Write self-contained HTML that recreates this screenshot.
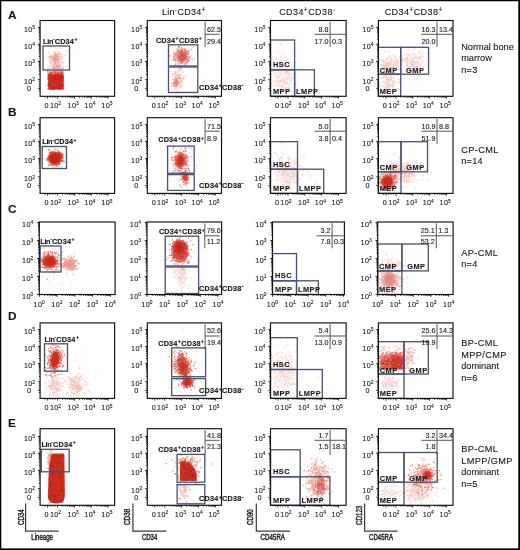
<!DOCTYPE html><html><head><meta charset="utf-8"><style>html,body{margin:0;padding:0;background:#fff;}svg{display:block;filter:blur(0.35px)}text{font-family:"Liberation Sans", sans-serif;fill:#161616;stroke:#161616;stroke-width:0.1px}</style></head><body>
<svg width="520" height="550" viewBox="0 0 520 550">
<rect width="520" height="550" fill="#fff"/>
<defs>
<filter id="b0" x="-50%" y="-50%" width="200%" height="200%"><feGaussianBlur stdDeviation="0.6"/></filter>
<filter id="b1" x="-50%" y="-50%" width="200%" height="200%"><feGaussianBlur stdDeviation="0.7"/></filter>
<filter id="b2" x="-50%" y="-50%" width="200%" height="200%"><feGaussianBlur stdDeviation="0.8"/></filter>
<filter id="b3" x="-50%" y="-50%" width="200%" height="200%"><feGaussianBlur stdDeviation="0.9"/></filter>
<filter id="b4" x="-50%" y="-50%" width="200%" height="200%"><feGaussianBlur stdDeviation="1.0"/></filter>
<filter id="b5" x="-50%" y="-50%" width="200%" height="200%"><feGaussianBlur stdDeviation="1.2"/></filter>
<filter id="b6" x="-50%" y="-50%" width="200%" height="200%"><feGaussianBlur stdDeviation="1.3"/></filter>
<filter id="b7" x="-50%" y="-50%" width="200%" height="200%"><feGaussianBlur stdDeviation="1.5"/></filter>
<filter id="b8" x="-50%" y="-50%" width="200%" height="200%"><feGaussianBlur stdDeviation="2.5"/></filter>
<filter id="pb" x="0" y="0" width="520" height="550" filterUnits="userSpaceOnUse"><feGaussianBlur stdDeviation="0.35"/></filter>
</defs>
<g>
<rect x="48.3" y="74.0" width="15.1" height="15.4" rx="2.5" fill="#cc2619" fill-opacity="0.85" filter="url(#b1)"/>
<ellipse cx="54.5" cy="158.5" rx="6.3" ry="6.6" fill="#cc2619" fill-opacity="0.95" filter="url(#b3)"/>
<ellipse cx="60.3" cy="156.5" rx="3.3" ry="3.6" fill="#cc2619" fill-opacity="0.8" filter="url(#b3)"/>
<ellipse cx="180.5" cy="160.5" rx="4.2" ry="6.5" fill="#cc2619" fill-opacity="0.9" transform="rotate(8 180.5 160.5)" filter="url(#b4)"/>
<ellipse cx="185.5" cy="177.5" rx="2.4" ry="4.5" fill="#cc2619" fill-opacity="0.75" transform="rotate(-10 185.5 177.5)" filter="url(#b2)"/>
<ellipse cx="387.5" cy="182" rx="6.0" ry="6.5" fill="#cc2619" fill-opacity="0.9" filter="url(#b6)"/>
<ellipse cx="388" cy="181" rx="9" ry="9" fill="#cc2619" fill-opacity="0.2" filter="url(#b8)"/>
<ellipse cx="49.5" cy="261.5" rx="7.0" ry="6.0" fill="#cc2619" fill-opacity="0.95" filter="url(#b4)"/>
<rect x="172.5" y="241" width="15.0" height="18.0" rx="5" fill="#cc2619" fill-opacity="0.6" filter="url(#b6)"/>
<ellipse cx="179.5" cy="247.5" rx="5.0" ry="5.5" fill="#cc2619" fill-opacity="0.85" filter="url(#b5)"/>
<ellipse cx="389.5" cy="280" rx="6.5" ry="7.0" fill="#cc2619" fill-opacity="0.35" filter="url(#b7)"/>
<ellipse cx="55.0" cy="359.5" rx="4.6" ry="9.0" fill="#cc2619" fill-opacity="0.95" transform="rotate(8 55.0 359.5)" filter="url(#b4)"/>
<ellipse cx="183" cy="366" rx="5.5" ry="10.5" fill="#cc2619" fill-opacity="0.55" transform="rotate(-15 183 366)" filter="url(#b6)"/>
<ellipse cx="187.5" cy="382.5" rx="4.8" ry="4.3" fill="#cc2619" fill-opacity="0.92" filter="url(#b4)"/>
<rect x="381" y="356" width="23.0" height="14.0" rx="4" fill="#cc2619" fill-opacity="0.45" filter="url(#b7)"/>
<path d="M51.3 454.2Q51.5 453.6 53 453.6L63.2 453.6Q64.3 453.6 64.4 455L64.9 496Q64.8 503.4 56.3 503.4Q47.7 503.4 47.8 496L48.8 472Q49.5 462 51.3 454.2Z" fill="#cc2619" fill-opacity="0.95" filter="url(#b0)"/>
<path d="M180 481L180 464Q180.5 461 184 461Q193 463 196.5 473L196.8 481Z" fill="#cc2619" fill-opacity="0.92" filter="url(#b1)"/>
<ellipse cx="427.5" cy="475" rx="4.5" ry="4.5" fill="#cc2619" fill-opacity="0.92" filter="url(#b4)"/>
<ellipse cx="55.5" cy="60" rx="6" ry="8" fill="#cc2619" fill-opacity="0.12" filter="url(#b8)"/>
<ellipse cx="182" cy="57" rx="8" ry="8" fill="#cc2619" fill-opacity="0.15" filter="url(#b8)"/>
<ellipse cx="178" cy="80" rx="5" ry="9" fill="#cc2619" fill-opacity="0.1" filter="url(#b8)"/>
<ellipse cx="283" cy="76" rx="9" ry="15" fill="#cc2619" fill-opacity="0.05" filter="url(#b8)"/>
<ellipse cx="390" cy="66" rx="9" ry="8" fill="#cc2619" fill-opacity="0.08" filter="url(#b8)"/>
<ellipse cx="414" cy="63" rx="9" ry="9" fill="#cc2619" fill-opacity="0.07" filter="url(#b8)"/>
<ellipse cx="389" cy="83" rx="8" ry="7" fill="#cc2619" fill-opacity="0.07" filter="url(#b8)"/>
<ellipse cx="288" cy="173" rx="10" ry="13" fill="#cc2619" fill-opacity="0.07" filter="url(#b8)"/>
<ellipse cx="402" cy="172" rx="13" ry="8" fill="#cc2619" fill-opacity="0.09" filter="url(#b8)"/>
<ellipse cx="70" cy="264.5" rx="6" ry="5" fill="#cc2619" fill-opacity="0.15" filter="url(#b8)"/>
<ellipse cx="181" cy="272" rx="5" ry="12" fill="#cc2619" fill-opacity="0.06" filter="url(#b8)"/>
<ellipse cx="392" cy="266" rx="9" ry="5" fill="#cc2619" fill-opacity="0.07" filter="url(#b8)"/>
<ellipse cx="55" cy="385" rx="6" ry="9" fill="#cc2619" fill-opacity="0.08" filter="url(#b8)"/>
<ellipse cx="76" cy="385" rx="8" ry="8" fill="#cc2619" fill-opacity="0.08" filter="url(#b8)"/>
<ellipse cx="284" cy="373" rx="10" ry="17" fill="#cc2619" fill-opacity="0.06" filter="url(#b8)"/>
<ellipse cx="390" cy="383" rx="8" ry="7" fill="#cc2619" fill-opacity="0.07" filter="url(#b8)"/>
<ellipse cx="318" cy="480" rx="8" ry="15" fill="#cc2619" fill-opacity="0.12" filter="url(#b8)"/>
<ellipse cx="420" cy="488" rx="12" ry="12" fill="#cc2619" fill-opacity="0.1" filter="url(#b8)"/>
<ellipse cx="390" cy="492" rx="8" ry="6" fill="#cc2619" fill-opacity="0.05" filter="url(#b8)"/>
</g><g filter="url(#pb)">
<path fill="#a8160e" fill-opacity="0.55" d="M391.6 366.9h1.1v1.1h-1.1zM380.9 359.4h1.1v1.1h-1.1zM382.7 367.5h1.1v1.1h-1.1zM390.2 363.1h1.1v1.1h-1.1zM393.9 366.0h1.1v1.1h-1.1zM395.6 367.5h1.1v1.1h-1.1zM386.3 362.7h1.1v1.1h-1.1zM383.3 360.3h1.1v1.1h-1.1zM385.4 364.2h1.1v1.1h-1.1zM380.5 366.0h1.1v1.1h-1.1zM399.9 359.3h1.1v1.1h-1.1zM400.7 361.8h1.1v1.1h-1.1zM401.1 360.2h1.1v1.1h-1.1zM392.9 360.3h1.1v1.1h-1.1zM400.4 364.8h1.1v1.1h-1.1zM383.7 360.0h1.1v1.1h-1.1zM388.4 367.6h1.1v1.1h-1.1zM392.9 359.7h1.1v1.1h-1.1zM394.4 365.0h1.1v1.1h-1.1zM388.6 364.1h1.1v1.1h-1.1zM396.4 361.9h1.1v1.1h-1.1zM387.5 359.7h1.1v1.1h-1.1zM400.4 366.1h1.1v1.1h-1.1zM388.5 361.5h1.1v1.1h-1.1zM391.7 363.4h1.1v1.1h-1.1zM384.0 363.5h1.1v1.1h-1.1zM395.9 367.7h1.1v1.1h-1.1zM392.5 367.5h1.1v1.1h-1.1zM399.1 367.9h1.1v1.1h-1.1zM387.3 359.1h1.1v1.1h-1.1zM387.5 367.8h1.1v1.1h-1.1zM390.8 360.6h1.1v1.1h-1.1zM385.9 360.4h1.1v1.1h-1.1zM395.7 363.5h1.1v1.1h-1.1zM385.7 363.8h1.1v1.1h-1.1zM391.9 363.3h1.1v1.1h-1.1zM395.1 359.2h1.1v1.1h-1.1zM397.7 363.0h1.1v1.1h-1.1zM397.5 363.1h1.1v1.1h-1.1zM388.3 364.0h1.1v1.1h-1.1zM394.7 366.9h1.1v1.1h-1.1zM385.7 362.9h1.1v1.1h-1.1zM381.1 360.5h1.1v1.1h-1.1zM386.3 364.3h1.1v1.1h-1.1zM402.0 361.7h1.1v1.1h-1.1zM391.9 361.0h1.1v1.1h-1.1zM392.0 361.1h1.1v1.1h-1.1zM385.1 360.4h1.1v1.1h-1.1zM396.7 363.5h1.1v1.1h-1.1zM386.7 366.7h1.1v1.1h-1.1zM401.7 362.2h1.1v1.1h-1.1zM388.0 364.1h1.1v1.1h-1.1zM392.9 360.8h1.1v1.1h-1.1zM400.4 361.6h1.1v1.1h-1.1zM387.7 362.9h1.1v1.1h-1.1zM399.9 367.5h1.1v1.1h-1.1zM386.6 362.4h1.1v1.1h-1.1zM382.0 363.7h1.1v1.1h-1.1zM401.3 363.2h1.1v1.1h-1.1zM387.6 361.0h1.1v1.1h-1.1zM391.2 360.3h1.1v1.1h-1.1zM392.9 363.9h1.1v1.1h-1.1zM402.3 359.5h1.1v1.1h-1.1zM397.5 366.8h1.1v1.1h-1.1zM397.1 365.1h1.1v1.1h-1.1zM400.7 365.4h1.1v1.1h-1.1zM402.4 360.4h1.1v1.1h-1.1zM385.8 363.9h1.1v1.1h-1.1zM386.9 359.8h1.1v1.1h-1.1zM397.9 360.8h1.1v1.1h-1.1zM399.6 366.4h1.1v1.1h-1.1zM382.6 363.2h1.1v1.1h-1.1zM380.9 367.7h1.1v1.1h-1.1zM382.4 361.9h1.1v1.1h-1.1zM385.2 362.8h1.1v1.1h-1.1zM394.0 360.2h1.1v1.1h-1.1zM395.0 365.7h1.1v1.1h-1.1zM391.5 363.1h1.1v1.1h-1.1zM396.5 360.2h1.1v1.1h-1.1zM381.1 362.9h1.1v1.1h-1.1zM387.1 362.6h1.1v1.1h-1.1zM384.4 359.8h1.1v1.1h-1.1zM395.4 365.6h1.1v1.1h-1.1zM397.5 359.5h1.1v1.1h-1.1zM393.6 363.7h1.1v1.1h-1.1zM381.7 362.5h1.1v1.1h-1.1zM383.1 367.4h1.1v1.1h-1.1zM394.5 360.6h1.1v1.1h-1.1zM382.8 363.1h1.1v1.1h-1.1zM394.1 361.7h1.1v1.1h-1.1zM384.1 360.8h1.1v1.1h-1.1zM401.4 362.0h1.1v1.1h-1.1zM399.0 366.3h1.1v1.1h-1.1zM390.7 361.1h1.1v1.1h-1.1zM391.9 363.7h1.1v1.1h-1.1zM389.6 361.1h1.1v1.1h-1.1zM386.7 359.9h1.1v1.1h-1.1zM388.9 360.5h1.1v1.1h-1.1zM394.8 360.9h1.1v1.1h-1.1zM401.3 359.4h1.1v1.1h-1.1zM381.2 362.1h1.1v1.1h-1.1zM387.5 364.1h1.1v1.1h-1.1zM381.8 367.9h1.1v1.1h-1.1zM391.9 367.5h1.1v1.1h-1.1zM382.5 362.4h1.1v1.1h-1.1zM384.1 367.2h1.1v1.1h-1.1zM388.6 365.9h1.1v1.1h-1.1zM393.9 367.2h1.1v1.1h-1.1zM391.9 359.8h1.1v1.1h-1.1zM399.4 366.0h1.1v1.1h-1.1zM397.4 365.7h1.1v1.1h-1.1zM383.4 361.0h1.1v1.1h-1.1zM396.6 359.1h1.1v1.1h-1.1zM398.2 362.9h1.1v1.1h-1.1zM401.0 359.6h1.1v1.1h-1.1zM380.9 363.8h1.1v1.1h-1.1zM396.7 360.2h1.1v1.1h-1.1zM393.7 362.0h1.1v1.1h-1.1zM390.9 364.4h1.1v1.1h-1.1zM387.0 361.8h1.1v1.1h-1.1z"/>
<path fill="#a8160e" fill-opacity="0.6" d="M173.4 249.7h1.1v1.1h-1.1zM179.9 251.8h1.1v1.1h-1.1zM184.5 233.0h1.1v1.1h-1.1zM173.2 241.0h1.1v1.1h-1.1zM190.2 240.3h1.1v1.1h-1.1zM171.5 234.4h1.1v1.1h-1.1zM177.7 255.9h1.1v1.1h-1.1zM176.2 240.8h1.1v1.1h-1.1zM176.6 240.8h1.1v1.1h-1.1zM192.2 244.1h1.1v1.1h-1.1zM168.9 244.2h1.1v1.1h-1.1zM173.7 256.5h1.1v1.1h-1.1zM182.0 253.2h1.1v1.1h-1.1zM173.6 252.3h1.1v1.1h-1.1zM181.1 256.4h1.1v1.1h-1.1zM177.7 240.6h1.1v1.1h-1.1zM180.3 257.4h1.1v1.1h-1.1zM181.9 240.1h1.1v1.1h-1.1zM180.8 246.3h1.1v1.1h-1.1zM183.1 250.7h1.1v1.1h-1.1zM180.3 242.5h1.1v1.1h-1.1zM173.7 242.2h1.1v1.1h-1.1zM176.7 254.2h1.1v1.1h-1.1zM172.0 247.0h1.1v1.1h-1.1zM183.8 243.7h1.1v1.1h-1.1zM179.3 254.0h1.1v1.1h-1.1zM180.6 254.3h1.1v1.1h-1.1zM179.2 249.6h1.1v1.1h-1.1zM177.7 246.6h1.1v1.1h-1.1zM173.3 244.9h1.1v1.1h-1.1zM176.8 248.9h1.1v1.1h-1.1zM180.2 243.2h1.1v1.1h-1.1zM174.8 251.1h1.1v1.1h-1.1zM174.3 250.6h1.1v1.1h-1.1zM179.6 244.5h1.1v1.1h-1.1zM176.2 251.5h1.1v1.1h-1.1zM175.1 235.5h1.1v1.1h-1.1zM174.2 250.5h1.1v1.1h-1.1zM178.6 254.3h1.1v1.1h-1.1zM182.1 256.0h1.1v1.1h-1.1zM169.0 249.3h1.1v1.1h-1.1zM178.0 247.0h1.1v1.1h-1.1zM179.8 240.6h1.1v1.1h-1.1zM178.4 243.7h1.1v1.1h-1.1zM184.2 244.4h1.1v1.1h-1.1zM174.0 242.2h1.1v1.1h-1.1zM177.2 239.7h1.1v1.1h-1.1zM185.8 248.3h1.1v1.1h-1.1zM188.1 237.7h1.1v1.1h-1.1zM176.0 242.0h1.1v1.1h-1.1zM179.7 237.0h1.1v1.1h-1.1zM184.9 247.6h1.1v1.1h-1.1zM173.5 246.1h1.1v1.1h-1.1zM177.2 250.6h1.1v1.1h-1.1zM179.7 242.4h1.1v1.1h-1.1zM179.9 247.9h1.1v1.1h-1.1zM178.7 246.5h1.1v1.1h-1.1zM178.6 239.0h1.1v1.1h-1.1zM177.6 235.9h1.1v1.1h-1.1zM174.0 243.9h1.1v1.1h-1.1zM175.7 250.9h1.1v1.1h-1.1zM176.0 260.0h1.1v1.1h-1.1zM181.5 260.4h1.1v1.1h-1.1zM178.1 247.8h1.1v1.1h-1.1zM177.3 238.2h1.1v1.1h-1.1zM181.0 247.3h1.1v1.1h-1.1zM170.6 235.8h1.1v1.1h-1.1zM180.2 231.9h1.1v1.1h-1.1zM181.5 250.4h1.1v1.1h-1.1zM177.9 244.7h1.1v1.1h-1.1zM190.9 249.0h1.1v1.1h-1.1zM179.2 237.9h1.1v1.1h-1.1zM174.4 251.7h1.1v1.1h-1.1zM178.3 253.9h1.1v1.1h-1.1zM187.2 262.5h1.1v1.1h-1.1zM178.6 241.5h1.1v1.1h-1.1zM177.1 244.4h1.1v1.1h-1.1zM185.8 249.1h1.1v1.1h-1.1zM178.2 252.3h1.1v1.1h-1.1zM165.7 259.1h1.1v1.1h-1.1zM187.5 245.4h1.1v1.1h-1.1zM169.7 243.9h1.1v1.1h-1.1zM175.1 260.2h1.1v1.1h-1.1zM179.3 242.5h1.1v1.1h-1.1zM179.5 241.1h1.1v1.1h-1.1zM179.1 253.2h1.1v1.1h-1.1zM177.0 249.4h1.1v1.1h-1.1zM184.8 243.3h1.1v1.1h-1.1zM178.3 246.2h1.1v1.1h-1.1zM184.0 253.0h1.1v1.1h-1.1zM171.8 239.2h1.1v1.1h-1.1zM177.7 251.3h1.1v1.1h-1.1zM170.3 260.5h1.1v1.1h-1.1zM180.3 246.6h1.1v1.1h-1.1zM176.7 240.2h1.1v1.1h-1.1zM185.6 247.1h1.1v1.1h-1.1zM171.3 245.8h1.1v1.1h-1.1zM173.5 250.1h1.1v1.1h-1.1zM182.3 243.6h1.1v1.1h-1.1zM176.8 251.2h1.1v1.1h-1.1zM170.7 254.8h1.1v1.1h-1.1zM183.2 251.6h1.1v1.1h-1.1zM176.5 246.1h1.1v1.1h-1.1zM174.1 254.0h1.1v1.1h-1.1zM167.5 257.0h1.1v1.1h-1.1zM186.8 241.3h1.1v1.1h-1.1zM179.4 250.6h1.1v1.1h-1.1zM183.3 257.6h1.1v1.1h-1.1zM186.1 248.8h1.1v1.1h-1.1zM184.7 242.7h1.1v1.1h-1.1zM184.5 255.7h1.1v1.1h-1.1zM181.9 242.2h1.1v1.1h-1.1zM171.9 242.6h1.1v1.1h-1.1zM182.1 249.5h1.1v1.1h-1.1zM174.2 251.7h1.1v1.1h-1.1zM165.2 247.8h1.1v1.1h-1.1zM174.9 253.8h1.1v1.1h-1.1zM175.4 245.7h1.1v1.1h-1.1zM178.3 250.6h1.1v1.1h-1.1zM176.3 239.0h1.1v1.1h-1.1zM179.6 358.1h1.1v1.1h-1.1zM181.5 353.2h1.1v1.1h-1.1zM182.4 365.0h1.1v1.1h-1.1zM183.7 366.6h1.1v1.1h-1.1zM181.6 354.8h1.1v1.1h-1.1zM182.5 368.5h1.1v1.1h-1.1zM180.7 372.4h1.1v1.1h-1.1zM182.1 363.4h1.1v1.1h-1.1zM179.1 369.6h1.1v1.1h-1.1zM181.3 369.7h1.1v1.1h-1.1zM184.6 364.1h1.1v1.1h-1.1zM177.5 369.1h1.1v1.1h-1.1zM182.6 361.9h1.1v1.1h-1.1zM181.9 364.7h1.1v1.1h-1.1zM178.7 352.2h1.1v1.1h-1.1zM181.9 352.8h1.1v1.1h-1.1zM178.2 365.0h1.1v1.1h-1.1zM174.2 363.1h1.1v1.1h-1.1zM182.7 373.6h1.1v1.1h-1.1zM177.3 369.5h1.1v1.1h-1.1zM186.6 366.6h1.1v1.1h-1.1zM182.9 365.5h1.1v1.1h-1.1zM179.3 365.8h1.1v1.1h-1.1zM181.5 373.3h1.1v1.1h-1.1zM180.4 358.4h1.1v1.1h-1.1zM185.8 373.4h1.1v1.1h-1.1zM181.3 362.9h1.1v1.1h-1.1zM184.7 372.3h1.1v1.1h-1.1zM184.4 366.5h1.1v1.1h-1.1zM178.3 358.2h1.1v1.1h-1.1zM179.2 359.1h1.1v1.1h-1.1zM182.9 372.7h1.1v1.1h-1.1zM178.6 371.7h1.1v1.1h-1.1zM184.4 373.7h1.1v1.1h-1.1zM183.4 366.8h1.1v1.1h-1.1zM180.7 365.9h1.1v1.1h-1.1zM182.9 363.4h1.1v1.1h-1.1zM186.4 365.6h1.1v1.1h-1.1zM183.8 367.6h1.1v1.1h-1.1zM178.3 359.0h1.1v1.1h-1.1zM182.7 366.4h1.1v1.1h-1.1zM180.0 373.3h1.1v1.1h-1.1zM183.5 367.9h1.1v1.1h-1.1zM189.2 368.3h1.1v1.1h-1.1zM184.7 373.2h1.1v1.1h-1.1zM183.9 358.7h1.1v1.1h-1.1zM186.0 376.4h1.1v1.1h-1.1zM183.2 368.6h1.1v1.1h-1.1zM179.7 367.2h1.1v1.1h-1.1zM182.3 370.9h1.1v1.1h-1.1zM178.4 364.7h1.1v1.1h-1.1zM182.5 364.7h1.1v1.1h-1.1zM181.8 366.5h1.1v1.1h-1.1zM188.2 373.7h1.1v1.1h-1.1zM182.5 365.6h1.1v1.1h-1.1zM184.2 373.9h1.1v1.1h-1.1zM184.4 365.7h1.1v1.1h-1.1zM184.4 371.7h1.1v1.1h-1.1zM181.0 357.6h1.1v1.1h-1.1zM181.6 357.4h1.1v1.1h-1.1zM189.3 372.1h1.1v1.1h-1.1zM185.6 363.9h1.1v1.1h-1.1zM182.5 371.0h1.1v1.1h-1.1zM186.9 365.1h1.1v1.1h-1.1zM185.6 365.7h1.1v1.1h-1.1zM181.1 363.7h1.1v1.1h-1.1zM175.4 359.1h1.1v1.1h-1.1zM185.3 368.5h1.1v1.1h-1.1zM180.0 371.6h1.1v1.1h-1.1zM183.1 362.9h1.1v1.1h-1.1zM181.6 362.1h1.1v1.1h-1.1zM187.4 361.2h1.1v1.1h-1.1zM186.4 384.2h1.1v1.1h-1.1zM178.3 359.9h1.1v1.1h-1.1zM184.7 361.7h1.1v1.1h-1.1zM181.1 365.5h1.1v1.1h-1.1zM183.3 373.9h1.1v1.1h-1.1zM184.6 365.3h1.1v1.1h-1.1zM181.8 369.2h1.1v1.1h-1.1zM179.1 371.7h1.1v1.1h-1.1zM181.4 370.9h1.1v1.1h-1.1zM179.3 363.6h1.1v1.1h-1.1zM182.4 367.5h1.1v1.1h-1.1zM184.6 373.3h1.1v1.1h-1.1zM183.8 368.7h1.1v1.1h-1.1zM183.8 369.9h1.1v1.1h-1.1zM179.2 364.8h1.1v1.1h-1.1zM179.6 371.5h1.1v1.1h-1.1zM190.4 361.8h1.1v1.1h-1.1zM181.5 365.9h1.1v1.1h-1.1zM180.0 369.0h1.1v1.1h-1.1zM180.8 371.8h1.1v1.1h-1.1zM186.2 366.0h1.1v1.1h-1.1zM177.2 369.9h1.1v1.1h-1.1zM180.9 364.1h1.1v1.1h-1.1zM180.8 366.6h1.1v1.1h-1.1zM181.5 369.8h1.1v1.1h-1.1zM182.0 360.0h1.1v1.1h-1.1zM181.3 368.7h1.1v1.1h-1.1zM188.4 371.7h1.1v1.1h-1.1zM184.0 378.0h1.1v1.1h-1.1zM182.1 361.0h1.1v1.1h-1.1zM186.6 372.6h1.1v1.1h-1.1zM183.3 370.1h1.1v1.1h-1.1zM176.2 367.0h1.1v1.1h-1.1zM186.4 365.4h1.1v1.1h-1.1zM183.9 356.9h1.1v1.1h-1.1zM183.2 359.0h1.1v1.1h-1.1zM179.6 369.0h1.1v1.1h-1.1zM180.9 366.2h1.1v1.1h-1.1zM54.6 489.1h1.1v1.1h-1.1zM51.8 470.7h1.1v1.1h-1.1zM51.8 474.7h1.1v1.1h-1.1zM52.6 482.6h1.1v1.1h-1.1zM50.1 465.7h1.1v1.1h-1.1zM51.4 454.7h1.1v1.1h-1.1zM56.5 461.6h1.1v1.1h-1.1zM61.1 484.9h1.1v1.1h-1.1zM56.5 457.1h1.1v1.1h-1.1zM51.4 493.3h1.1v1.1h-1.1zM53.3 483.2h1.1v1.1h-1.1zM56.5 483.0h1.1v1.1h-1.1zM55.1 456.7h1.1v1.1h-1.1zM56.1 490.1h1.1v1.1h-1.1zM50.4 481.6h1.1v1.1h-1.1zM50.9 456.3h1.1v1.1h-1.1zM57.3 456.0h1.1v1.1h-1.1zM61.4 474.9h1.1v1.1h-1.1zM56.6 492.2h1.1v1.1h-1.1zM61.8 494.5h1.1v1.1h-1.1zM60.0 501.0h1.1v1.1h-1.1zM61.0 465.4h1.1v1.1h-1.1zM55.0 481.0h1.1v1.1h-1.1zM61.9 475.2h1.1v1.1h-1.1zM59.4 495.0h1.1v1.1h-1.1zM59.9 473.5h1.1v1.1h-1.1zM48.5 483.6h1.1v1.1h-1.1zM56.0 476.4h1.1v1.1h-1.1zM57.5 464.0h1.1v1.1h-1.1zM51.1 463.4h1.1v1.1h-1.1zM49.2 481.5h1.1v1.1h-1.1zM51.3 462.3h1.1v1.1h-1.1zM52.3 466.8h1.1v1.1h-1.1zM54.6 472.3h1.1v1.1h-1.1zM49.3 486.2h1.1v1.1h-1.1zM50.3 483.2h1.1v1.1h-1.1zM57.2 460.8h1.1v1.1h-1.1zM53.8 472.2h1.1v1.1h-1.1zM52.9 473.6h1.1v1.1h-1.1zM54.1 459.3h1.1v1.1h-1.1zM57.9 473.4h1.1v1.1h-1.1zM62.1 482.3h1.1v1.1h-1.1zM57.0 470.3h1.1v1.1h-1.1zM57.9 494.3h1.1v1.1h-1.1zM61.4 501.5h1.1v1.1h-1.1zM52.8 457.0h1.1v1.1h-1.1zM52.5 473.0h1.1v1.1h-1.1zM55.8 469.6h1.1v1.1h-1.1zM51.3 471.9h1.1v1.1h-1.1zM55.5 471.4h1.1v1.1h-1.1zM50.2 496.7h1.1v1.1h-1.1zM62.3 463.4h1.1v1.1h-1.1zM52.6 477.4h1.1v1.1h-1.1zM57.4 494.8h1.1v1.1h-1.1zM60.7 457.9h1.1v1.1h-1.1zM50.1 484.8h1.1v1.1h-1.1zM62.2 471.8h1.1v1.1h-1.1zM57.5 499.6h1.1v1.1h-1.1zM51.7 456.8h1.1v1.1h-1.1zM49.4 495.0h1.1v1.1h-1.1zM59.3 456.4h1.1v1.1h-1.1zM60.0 489.3h1.1v1.1h-1.1zM53.1 470.7h1.1v1.1h-1.1zM59.1 475.5h1.1v1.1h-1.1zM50.6 486.2h1.1v1.1h-1.1zM57.0 500.1h1.1v1.1h-1.1zM56.5 483.2h1.1v1.1h-1.1zM56.2 467.1h1.1v1.1h-1.1zM53.6 499.4h1.1v1.1h-1.1zM57.3 493.7h1.1v1.1h-1.1zM51.4 463.7h1.1v1.1h-1.1zM61.7 467.2h1.1v1.1h-1.1zM50.4 463.9h1.1v1.1h-1.1zM51.4 488.9h1.1v1.1h-1.1zM60.9 490.6h1.1v1.1h-1.1zM49.2 474.7h1.1v1.1h-1.1zM62.4 471.5h1.1v1.1h-1.1zM60.2 475.5h1.1v1.1h-1.1zM59.4 485.1h1.1v1.1h-1.1zM55.6 483.4h1.1v1.1h-1.1zM58.0 480.2h1.1v1.1h-1.1zM59.2 473.7h1.1v1.1h-1.1zM53.6 494.0h1.1v1.1h-1.1zM50.1 490.2h1.1v1.1h-1.1zM61.3 480.1h1.1v1.1h-1.1zM49.8 472.7h1.1v1.1h-1.1zM62.5 472.6h1.1v1.1h-1.1zM53.3 457.5h1.1v1.1h-1.1zM59.3 481.7h1.1v1.1h-1.1zM49.7 497.5h1.1v1.1h-1.1zM53.0 465.8h1.1v1.1h-1.1zM61.9 470.7h1.1v1.1h-1.1zM54.4 497.8h1.1v1.1h-1.1zM54.9 475.9h1.1v1.1h-1.1zM49.7 463.1h1.1v1.1h-1.1zM53.4 496.1h1.1v1.1h-1.1zM59.3 489.2h1.1v1.1h-1.1zM51.7 501.8h1.1v1.1h-1.1zM48.8 478.8h1.1v1.1h-1.1zM50.7 494.8h1.1v1.1h-1.1zM49.1 465.8h1.1v1.1h-1.1zM54.9 501.9h1.1v1.1h-1.1zM55.1 462.1h1.1v1.1h-1.1zM50.6 481.2h1.1v1.1h-1.1zM48.7 477.1h1.1v1.1h-1.1zM48.9 454.8h1.1v1.1h-1.1zM61.0 486.9h1.1v1.1h-1.1zM62.0 462.4h1.1v1.1h-1.1zM61.7 465.3h1.1v1.1h-1.1zM52.7 495.3h1.1v1.1h-1.1zM50.9 466.1h1.1v1.1h-1.1zM48.3 455.2h1.1v1.1h-1.1zM61.2 483.3h1.1v1.1h-1.1zM59.8 478.5h1.1v1.1h-1.1zM57.1 466.1h1.1v1.1h-1.1zM49.7 456.3h1.1v1.1h-1.1zM57.0 455.0h1.1v1.1h-1.1zM55.3 463.0h1.1v1.1h-1.1zM57.6 496.7h1.1v1.1h-1.1zM61.9 468.2h1.1v1.1h-1.1zM61.9 502.0h1.1v1.1h-1.1zM60.3 455.1h1.1v1.1h-1.1zM53.2 461.9h1.1v1.1h-1.1zM48.8 480.2h1.1v1.1h-1.1zM55.2 455.1h1.1v1.1h-1.1zM49.2 474.5h1.1v1.1h-1.1zM62.4 470.5h1.1v1.1h-1.1zM52.7 502.2h1.1v1.1h-1.1zM54.0 498.9h1.1v1.1h-1.1zM58.8 493.4h1.1v1.1h-1.1zM54.5 459.1h1.1v1.1h-1.1zM60.0 455.3h1.1v1.1h-1.1zM55.2 487.2h1.1v1.1h-1.1zM60.4 470.0h1.1v1.1h-1.1zM48.5 496.0h1.1v1.1h-1.1zM58.1 464.9h1.1v1.1h-1.1zM61.2 471.8h1.1v1.1h-1.1zM62.1 500.2h1.1v1.1h-1.1zM61.6 476.7h1.1v1.1h-1.1zM60.0 498.5h1.1v1.1h-1.1zM57.4 477.8h1.1v1.1h-1.1zM60.8 487.5h1.1v1.1h-1.1zM56.1 455.5h1.1v1.1h-1.1zM52.2 467.9h1.1v1.1h-1.1zM54.5 477.1h1.1v1.1h-1.1zM50.1 470.3h1.1v1.1h-1.1zM50.2 501.1h1.1v1.1h-1.1zM54.7 488.1h1.1v1.1h-1.1zM59.3 470.3h1.1v1.1h-1.1zM57.9 462.6h1.1v1.1h-1.1zM62.8 456.6h1.1v1.1h-1.1zM57.4 473.5h1.1v1.1h-1.1zM53.3 484.5h1.1v1.1h-1.1zM48.4 460.6h1.1v1.1h-1.1zM56.8 483.7h1.1v1.1h-1.1zM57.9 460.5h1.1v1.1h-1.1zM62.6 493.3h1.1v1.1h-1.1zM60.1 475.6h1.1v1.1h-1.1zM57.0 461.2h1.1v1.1h-1.1zM51.9 475.7h1.1v1.1h-1.1zM57.3 462.7h1.1v1.1h-1.1zM62.7 496.2h1.1v1.1h-1.1zM62.8 490.2h1.1v1.1h-1.1zM60.8 463.3h1.1v1.1h-1.1zM60.8 485.9h1.1v1.1h-1.1zM56.4 500.4h1.1v1.1h-1.1zM55.2 458.0h1.1v1.1h-1.1zM53.7 466.6h1.1v1.1h-1.1zM48.7 502.3h1.1v1.1h-1.1zM61.3 454.8h1.1v1.1h-1.1zM59.9 491.2h1.1v1.1h-1.1zM54.5 493.4h1.1v1.1h-1.1zM62.9 489.2h1.1v1.1h-1.1zM55.6 485.0h1.1v1.1h-1.1zM53.4 461.3h1.1v1.1h-1.1zM52.5 460.3h1.1v1.1h-1.1zM63.0 490.8h1.1v1.1h-1.1zM60.7 462.5h1.1v1.1h-1.1zM55.5 489.6h1.1v1.1h-1.1zM61.6 500.9h1.1v1.1h-1.1zM53.3 462.5h1.1v1.1h-1.1zM52.8 465.4h1.1v1.1h-1.1zM57.5 471.3h1.1v1.1h-1.1zM55.9 486.4h1.1v1.1h-1.1zM62.6 490.2h1.1v1.1h-1.1zM54.9 462.1h1.1v1.1h-1.1zM53.2 471.5h1.1v1.1h-1.1zM60.0 500.8h1.1v1.1h-1.1zM58.4 469.1h1.1v1.1h-1.1zM60.7 490.6h1.1v1.1h-1.1zM59.8 459.1h1.1v1.1h-1.1zM59.2 476.7h1.1v1.1h-1.1zM50.9 491.5h1.1v1.1h-1.1zM62.9 464.9h1.1v1.1h-1.1zM57.5 457.8h1.1v1.1h-1.1zM53.0 501.0h1.1v1.1h-1.1zM59.2 465.7h1.1v1.1h-1.1zM61.5 490.5h1.1v1.1h-1.1zM54.5 458.2h1.1v1.1h-1.1zM53.4 487.0h1.1v1.1h-1.1zM63.0 469.6h1.1v1.1h-1.1zM59.0 493.0h1.1v1.1h-1.1zM57.6 455.7h1.1v1.1h-1.1zM59.2 457.1h1.1v1.1h-1.1zM62.8 485.4h1.1v1.1h-1.1zM51.4 472.7h1.1v1.1h-1.1zM51.6 494.8h1.1v1.1h-1.1zM61.1 486.1h1.1v1.1h-1.1zM50.0 485.9h1.1v1.1h-1.1zM55.9 495.6h1.1v1.1h-1.1zM50.9 464.9h1.1v1.1h-1.1zM49.9 474.7h1.1v1.1h-1.1zM62.8 463.5h1.1v1.1h-1.1zM56.8 481.7h1.1v1.1h-1.1zM62.1 467.6h1.1v1.1h-1.1zM62.3 501.2h1.1v1.1h-1.1zM62.8 499.2h1.1v1.1h-1.1zM50.2 497.7h1.1v1.1h-1.1zM48.9 471.0h1.1v1.1h-1.1zM50.7 497.7h1.1v1.1h-1.1zM59.8 477.4h1.1v1.1h-1.1zM53.0 469.7h1.1v1.1h-1.1zM59.6 459.5h1.1v1.1h-1.1zM57.6 457.4h1.1v1.1h-1.1zM55.2 497.5h1.1v1.1h-1.1zM60.2 455.6h1.1v1.1h-1.1zM50.9 484.6h1.1v1.1h-1.1zM55.1 476.1h1.1v1.1h-1.1zM52.3 474.4h1.1v1.1h-1.1zM60.3 470.1h1.1v1.1h-1.1zM57.3 486.4h1.1v1.1h-1.1zM59.0 477.7h1.1v1.1h-1.1zM48.4 467.9h1.1v1.1h-1.1zM50.8 490.8h1.1v1.1h-1.1zM62.3 500.7h1.1v1.1h-1.1zM52.7 465.3h1.1v1.1h-1.1zM59.7 490.8h1.1v1.1h-1.1zM50.9 465.1h1.1v1.1h-1.1zM49.5 468.5h1.1v1.1h-1.1zM57.6 499.6h1.1v1.1h-1.1zM59.5 474.6h1.1v1.1h-1.1zM52.8 479.6h1.1v1.1h-1.1zM62.1 480.8h1.1v1.1h-1.1zM51.7 490.0h1.1v1.1h-1.1zM58.8 461.7h1.1v1.1h-1.1zM56.4 465.9h1.1v1.1h-1.1zM54.7 495.6h1.1v1.1h-1.1zM51.8 483.2h1.1v1.1h-1.1zM55.2 459.7h1.1v1.1h-1.1zM59.9 457.6h1.1v1.1h-1.1zM188.8 468.7h1.1v1.1h-1.1zM190.1 478.2h1.1v1.1h-1.1zM182.9 467.1h1.1v1.1h-1.1zM195.1 483.3h1.1v1.1h-1.1zM194.8 478.0h1.1v1.1h-1.1zM179.5 462.1h1.1v1.1h-1.1zM191.4 462.8h1.1v1.1h-1.1zM184.1 474.2h1.1v1.1h-1.1zM179.8 470.7h1.1v1.1h-1.1zM198.1 472.6h1.1v1.1h-1.1zM181.1 469.2h1.1v1.1h-1.1zM190.8 473.0h1.1v1.1h-1.1zM194.4 476.3h1.1v1.1h-1.1zM179.5 459.3h1.1v1.1h-1.1zM190.1 472.6h1.1v1.1h-1.1zM193.2 464.9h1.1v1.1h-1.1zM188.5 470.9h1.1v1.1h-1.1zM181.8 477.4h1.1v1.1h-1.1zM186.0 479.7h1.1v1.1h-1.1zM195.3 477.4h1.1v1.1h-1.1zM177.1 470.5h1.1v1.1h-1.1zM195.3 464.8h1.1v1.1h-1.1zM180.6 472.9h1.1v1.1h-1.1zM187.1 477.7h1.1v1.1h-1.1zM184.7 473.6h1.1v1.1h-1.1zM190.7 468.1h1.1v1.1h-1.1zM174.5 473.1h1.1v1.1h-1.1zM192.2 479.1h1.1v1.1h-1.1zM186.9 470.5h1.1v1.1h-1.1zM192.3 469.4h1.1v1.1h-1.1zM194.1 457.7h1.1v1.1h-1.1zM193.4 473.6h1.1v1.1h-1.1zM186.7 464.0h1.1v1.1h-1.1zM181.7 473.0h1.1v1.1h-1.1zM178.7 483.9h1.1v1.1h-1.1zM180.1 473.2h1.1v1.1h-1.1zM182.0 472.9h1.1v1.1h-1.1zM191.5 474.4h1.1v1.1h-1.1zM191.3 481.4h1.1v1.1h-1.1zM184.3 460.6h1.1v1.1h-1.1zM184.4 467.3h1.1v1.1h-1.1zM184.3 464.2h1.1v1.1h-1.1zM186.5 470.0h1.1v1.1h-1.1zM188.2 483.8h1.1v1.1h-1.1zM181.9 465.2h1.1v1.1h-1.1zM178.0 478.1h1.1v1.1h-1.1zM187.2 468.2h1.1v1.1h-1.1zM188.2 468.9h1.1v1.1h-1.1zM190.1 462.4h1.1v1.1h-1.1zM165.8 462.9h1.1v1.1h-1.1zM188.6 475.5h1.1v1.1h-1.1zM186.2 467.6h1.1v1.1h-1.1zM191.3 471.0h1.1v1.1h-1.1zM184.9 468.7h1.1v1.1h-1.1zM191.9 466.0h1.1v1.1h-1.1zM185.2 472.1h1.1v1.1h-1.1zM195.3 474.1h1.1v1.1h-1.1zM182.0 464.6h1.1v1.1h-1.1zM187.7 464.6h1.1v1.1h-1.1zM188.3 474.6h1.1v1.1h-1.1zM182.5 465.3h1.1v1.1h-1.1zM184.3 474.9h1.1v1.1h-1.1zM188.7 476.8h1.1v1.1h-1.1zM193.8 470.2h1.1v1.1h-1.1zM190.8 470.1h1.1v1.1h-1.1zM191.9 474.3h1.1v1.1h-1.1zM197.6 470.9h1.1v1.1h-1.1zM193.6 460.7h1.1v1.1h-1.1zM185.9 473.2h1.1v1.1h-1.1zM191.1 467.9h1.1v1.1h-1.1zM183.2 475.4h1.1v1.1h-1.1zM211.0 463.4h1.1v1.1h-1.1zM183.9 474.3h1.1v1.1h-1.1zM191.3 474.2h1.1v1.1h-1.1zM183.7 476.2h1.1v1.1h-1.1zM181.7 484.0h1.1v1.1h-1.1zM196.5 474.4h1.1v1.1h-1.1zM185.5 469.0h1.1v1.1h-1.1zM178.1 467.8h1.1v1.1h-1.1zM196.2 463.7h1.1v1.1h-1.1zM194.0 475.1h1.1v1.1h-1.1zM190.0 476.0h1.1v1.1h-1.1zM190.9 472.5h1.1v1.1h-1.1zM184.6 459.6h1.1v1.1h-1.1zM186.5 476.3h1.1v1.1h-1.1zM181.3 461.6h1.1v1.1h-1.1zM190.2 471.0h1.1v1.1h-1.1zM200.3 467.1h1.1v1.1h-1.1zM192.0 467.3h1.1v1.1h-1.1zM183.3 477.3h1.1v1.1h-1.1zM191.0 475.2h1.1v1.1h-1.1zM188.3 465.6h1.1v1.1h-1.1zM196.1 470.4h1.1v1.1h-1.1zM181.9 476.4h1.1v1.1h-1.1zM191.5 470.4h1.1v1.1h-1.1zM191.5 465.2h1.1v1.1h-1.1zM180.1 478.4h1.1v1.1h-1.1zM189.1 470.8h1.1v1.1h-1.1zM187.2 461.7h1.1v1.1h-1.1zM179.9 461.2h1.1v1.1h-1.1zM190.5 476.1h1.1v1.1h-1.1zM191.1 452.0h1.1v1.1h-1.1zM188.4 468.0h1.1v1.1h-1.1zM190.1 459.5h1.1v1.1h-1.1zM182.5 475.7h1.1v1.1h-1.1zM182.8 466.2h1.1v1.1h-1.1zM195.3 477.7h1.1v1.1h-1.1zM192.6 475.9h1.1v1.1h-1.1zM187.2 472.6h1.1v1.1h-1.1zM184.6 472.3h1.1v1.1h-1.1zM188.0 475.6h1.1v1.1h-1.1zM178.1 474.7h1.1v1.1h-1.1zM186.6 468.2h1.1v1.1h-1.1zM191.5 466.3h1.1v1.1h-1.1zM179.8 469.7h1.1v1.1h-1.1zM189.4 466.5h1.1v1.1h-1.1zM191.5 477.1h1.1v1.1h-1.1zM181.9 475.9h1.1v1.1h-1.1zM183.9 467.2h1.1v1.1h-1.1zM184.5 472.0h1.1v1.1h-1.1zM188.5 463.1h1.1v1.1h-1.1zM189.2 462.7h1.1v1.1h-1.1zM188.0 471.8h1.1v1.1h-1.1zM188.8 468.9h1.1v1.1h-1.1zM177.7 484.2h1.1v1.1h-1.1zM190.5 474.8h1.1v1.1h-1.1zM184.8 459.3h1.1v1.1h-1.1zM189.4 474.5h1.1v1.1h-1.1zM177.6 476.0h1.1v1.1h-1.1zM188.4 474.1h1.1v1.1h-1.1zM189.1 489.1h1.1v1.1h-1.1zM183.2 472.2h1.1v1.1h-1.1zM188.7 469.7h1.1v1.1h-1.1zM194.3 471.7h1.1v1.1h-1.1zM190.1 473.0h1.1v1.1h-1.1zM186.3 475.2h1.1v1.1h-1.1zM172.2 470.7h1.1v1.1h-1.1zM191.1 463.9h1.1v1.1h-1.1zM192.8 475.4h1.1v1.1h-1.1zM198.0 475.3h1.1v1.1h-1.1zM171.7 459.5h1.1v1.1h-1.1zM194.7 479.8h1.1v1.1h-1.1zM191.4 470.3h1.1v1.1h-1.1zM195.8 475.9h1.1v1.1h-1.1zM188.7 461.5h1.1v1.1h-1.1zM193.7 467.2h1.1v1.1h-1.1zM186.9 479.0h1.1v1.1h-1.1zM184.4 478.6h1.1v1.1h-1.1zM187.9 471.7h1.1v1.1h-1.1zM182.3 464.3h1.1v1.1h-1.1zM195.4 465.7h1.1v1.1h-1.1zM191.9 467.2h1.1v1.1h-1.1zM185.5 468.3h1.1v1.1h-1.1zM188.1 463.6h1.1v1.1h-1.1zM186.5 470.1h1.1v1.1h-1.1zM184.4 459.7h1.1v1.1h-1.1zM179.5 482.1h1.1v1.1h-1.1zM189.4 474.7h1.1v1.1h-1.1zM191.4 474.6h1.1v1.1h-1.1zM189.4 471.3h1.1v1.1h-1.1zM189.1 473.4h1.1v1.1h-1.1zM192.3 472.1h1.1v1.1h-1.1zM189.2 466.6h1.1v1.1h-1.1zM180.6 473.9h1.1v1.1h-1.1zM193.9 469.3h1.1v1.1h-1.1zM195.7 461.4h1.1v1.1h-1.1zM184.4 471.5h1.1v1.1h-1.1zM189.3 466.3h1.1v1.1h-1.1zM184.3 478.1h1.1v1.1h-1.1zM186.9 479.3h1.1v1.1h-1.1zM186.0 468.1h1.1v1.1h-1.1zM186.8 477.6h1.1v1.1h-1.1zM175.2 473.9h1.1v1.1h-1.1zM182.1 474.0h1.1v1.1h-1.1zM187.1 475.3h1.1v1.1h-1.1zM193.6 475.0h1.1v1.1h-1.1zM190.8 475.7h1.1v1.1h-1.1zM185.9 476.7h1.1v1.1h-1.1zM193.2 477.1h1.1v1.1h-1.1zM185.2 481.1h1.1v1.1h-1.1zM187.0 479.5h1.1v1.1h-1.1zM186.4 467.8h1.1v1.1h-1.1zM187.6 475.9h1.1v1.1h-1.1zM190.4 459.5h1.1v1.1h-1.1zM176.5 466.2h1.1v1.1h-1.1zM177.7 483.9h1.1v1.1h-1.1zM192.8 474.5h1.1v1.1h-1.1zM188.6 477.5h1.1v1.1h-1.1zM187.8 469.9h1.1v1.1h-1.1zM184.0 465.1h1.1v1.1h-1.1zM194.3 468.7h1.1v1.1h-1.1zM192.0 476.0h1.1v1.1h-1.1zM191.2 463.6h1.1v1.1h-1.1zM181.6 479.2h1.1v1.1h-1.1zM194.7 476.3h1.1v1.1h-1.1zM198.8 471.4h1.1v1.1h-1.1zM183.3 468.5h1.1v1.1h-1.1zM189.6 478.6h1.1v1.1h-1.1zM188.6 465.6h1.1v1.1h-1.1zM181.6 466.4h1.1v1.1h-1.1z"/>
<path fill="#a8160e" fill-opacity="0.7" d="M55.0 157.2h1.1v1.1h-1.1zM51.1 154.0h1.1v1.1h-1.1zM50.0 155.6h1.1v1.1h-1.1zM53.6 154.3h1.1v1.1h-1.1zM57.8 154.3h1.1v1.1h-1.1zM54.7 161.6h1.1v1.1h-1.1zM58.1 155.0h1.1v1.1h-1.1zM55.7 156.8h1.1v1.1h-1.1zM55.1 160.5h1.1v1.1h-1.1zM53.1 156.6h1.1v1.1h-1.1zM58.8 160.3h1.1v1.1h-1.1zM52.9 158.1h1.1v1.1h-1.1zM55.3 157.6h1.1v1.1h-1.1zM52.2 151.8h1.1v1.1h-1.1zM54.6 154.4h1.1v1.1h-1.1zM55.0 162.1h1.1v1.1h-1.1zM58.6 164.0h1.1v1.1h-1.1zM51.8 157.1h1.1v1.1h-1.1zM47.2 159.9h1.1v1.1h-1.1zM58.4 160.9h1.1v1.1h-1.1zM56.2 159.6h1.1v1.1h-1.1zM54.8 162.2h1.1v1.1h-1.1zM53.1 156.0h1.1v1.1h-1.1zM49.3 157.0h1.1v1.1h-1.1zM57.7 158.8h1.1v1.1h-1.1zM51.6 161.8h1.1v1.1h-1.1zM58.2 153.4h1.1v1.1h-1.1zM49.9 161.9h1.1v1.1h-1.1zM54.9 154.0h1.1v1.1h-1.1zM55.7 157.1h1.1v1.1h-1.1zM52.2 162.0h1.1v1.1h-1.1zM50.8 151.4h1.1v1.1h-1.1zM57.8 154.7h1.1v1.1h-1.1zM51.9 159.1h1.1v1.1h-1.1zM56.9 157.0h1.1v1.1h-1.1zM54.7 158.3h1.1v1.1h-1.1zM59.6 160.7h1.1v1.1h-1.1zM53.7 160.5h1.1v1.1h-1.1zM56.9 157.0h1.1v1.1h-1.1zM56.8 155.8h1.1v1.1h-1.1zM59.0 151.8h1.1v1.1h-1.1zM48.5 156.5h1.1v1.1h-1.1zM53.7 159.9h1.1v1.1h-1.1zM55.3 152.8h1.1v1.1h-1.1zM57.8 156.4h1.1v1.1h-1.1zM55.6 157.3h1.1v1.1h-1.1zM56.8 157.2h1.1v1.1h-1.1zM52.0 151.5h1.1v1.1h-1.1zM57.4 154.9h1.1v1.1h-1.1zM55.0 154.6h1.1v1.1h-1.1zM53.7 156.2h1.1v1.1h-1.1zM58.1 161.9h1.1v1.1h-1.1zM49.3 156.3h1.1v1.1h-1.1zM56.4 158.5h1.1v1.1h-1.1zM54.3 154.2h1.1v1.1h-1.1zM57.7 161.4h1.1v1.1h-1.1zM52.6 157.1h1.1v1.1h-1.1zM54.8 162.0h1.1v1.1h-1.1zM57.5 157.6h1.1v1.1h-1.1zM55.5 162.0h1.1v1.1h-1.1zM53.0 153.6h1.1v1.1h-1.1zM49.8 160.3h1.1v1.1h-1.1zM53.5 163.3h1.1v1.1h-1.1zM61.6 154.0h1.1v1.1h-1.1zM52.7 157.3h1.1v1.1h-1.1zM54.4 157.1h1.1v1.1h-1.1zM54.7 155.3h1.1v1.1h-1.1zM55.4 157.1h1.1v1.1h-1.1zM57.7 156.5h1.1v1.1h-1.1zM53.2 161.4h1.1v1.1h-1.1zM60.7 157.5h1.1v1.1h-1.1zM51.5 159.1h1.1v1.1h-1.1zM57.7 160.5h1.1v1.1h-1.1zM55.2 158.9h1.1v1.1h-1.1zM53.7 158.0h1.1v1.1h-1.1zM52.3 160.6h1.1v1.1h-1.1zM55.9 155.4h1.1v1.1h-1.1zM53.6 155.5h1.1v1.1h-1.1zM53.5 160.0h1.1v1.1h-1.1zM53.7 158.3h1.1v1.1h-1.1zM48.6 156.4h1.1v1.1h-1.1zM51.2 159.8h1.1v1.1h-1.1zM51.1 156.6h1.1v1.1h-1.1zM55.3 157.9h1.1v1.1h-1.1zM53.2 163.6h1.1v1.1h-1.1zM58.6 158.5h1.1v1.1h-1.1zM54.9 157.9h1.1v1.1h-1.1zM57.5 161.4h1.1v1.1h-1.1zM58.0 158.4h1.1v1.1h-1.1zM54.6 153.4h1.1v1.1h-1.1z"/>
<path fill="#a8160e" fill-opacity="0.8" d="M60.3 75.7h1.1v1.1h-1.1zM51.6 78.2h1.1v1.1h-1.1zM57.9 80.0h1.1v1.1h-1.1zM53.7 81.5h1.1v1.1h-1.1zM58.8 86.2h1.1v1.1h-1.1zM60.1 78.4h1.1v1.1h-1.1zM49.0 75.8h1.1v1.1h-1.1zM49.9 84.9h1.1v1.1h-1.1zM49.4 85.0h1.1v1.1h-1.1zM48.3 84.1h1.1v1.1h-1.1zM51.7 83.5h1.1v1.1h-1.1zM58.9 83.6h1.1v1.1h-1.1zM49.3 74.7h1.1v1.1h-1.1zM53.6 87.1h1.1v1.1h-1.1zM54.8 78.1h1.1v1.1h-1.1zM54.8 85.9h1.1v1.1h-1.1zM51.1 76.2h1.1v1.1h-1.1zM61.1 80.4h1.1v1.1h-1.1zM54.5 78.8h1.1v1.1h-1.1zM51.7 86.5h1.1v1.1h-1.1zM59.5 78.0h1.1v1.1h-1.1zM58.4 87.3h1.1v1.1h-1.1zM54.1 88.2h1.1v1.1h-1.1zM49.5 86.2h1.1v1.1h-1.1zM60.2 78.0h1.1v1.1h-1.1zM52.1 78.3h1.1v1.1h-1.1zM50.2 85.8h1.1v1.1h-1.1zM58.0 85.5h1.1v1.1h-1.1zM57.2 78.1h1.1v1.1h-1.1zM49.5 78.1h1.1v1.1h-1.1zM59.3 74.7h1.1v1.1h-1.1zM55.7 78.9h1.1v1.1h-1.1zM52.3 79.1h1.1v1.1h-1.1zM56.5 76.8h1.1v1.1h-1.1zM50.5 86.3h1.1v1.1h-1.1zM58.8 79.5h1.1v1.1h-1.1zM51.7 82.6h1.1v1.1h-1.1zM61.3 85.5h1.1v1.1h-1.1zM54.5 83.3h1.1v1.1h-1.1zM53.3 84.4h1.1v1.1h-1.1zM55.5 74.8h1.1v1.1h-1.1zM57.7 86.7h1.1v1.1h-1.1zM55.0 76.7h1.1v1.1h-1.1zM52.5 77.1h1.1v1.1h-1.1zM60.0 84.7h1.1v1.1h-1.1zM52.4 78.7h1.1v1.1h-1.1zM50.0 80.6h1.1v1.1h-1.1zM61.9 85.0h1.1v1.1h-1.1zM61.3 75.5h1.1v1.1h-1.1zM61.2 87.2h1.1v1.1h-1.1zM59.6 76.2h1.1v1.1h-1.1zM60.4 88.1h1.1v1.1h-1.1zM58.6 81.7h1.1v1.1h-1.1zM53.1 86.7h1.1v1.1h-1.1zM56.6 79.0h1.1v1.1h-1.1zM49.4 74.7h1.1v1.1h-1.1zM58.1 78.6h1.1v1.1h-1.1zM50.1 78.7h1.1v1.1h-1.1zM54.7 86.3h1.1v1.1h-1.1zM54.9 76.3h1.1v1.1h-1.1zM59.8 83.9h1.1v1.1h-1.1zM55.9 87.0h1.1v1.1h-1.1zM53.9 79.9h1.1v1.1h-1.1zM49.0 84.2h1.1v1.1h-1.1zM57.0 87.7h1.1v1.1h-1.1zM48.4 80.2h1.1v1.1h-1.1zM54.4 80.3h1.1v1.1h-1.1zM48.9 85.9h1.1v1.1h-1.1zM48.9 83.4h1.1v1.1h-1.1zM52.6 80.4h1.1v1.1h-1.1zM60.0 77.3h1.1v1.1h-1.1zM55.4 78.2h1.1v1.1h-1.1zM56.8 82.1h1.1v1.1h-1.1zM57.6 75.8h1.1v1.1h-1.1zM57.1 83.7h1.1v1.1h-1.1zM49.2 88.0h1.1v1.1h-1.1zM60.2 85.6h1.1v1.1h-1.1zM59.3 81.5h1.1v1.1h-1.1zM61.1 76.6h1.1v1.1h-1.1zM58.7 88.1h1.1v1.1h-1.1z"/>
<path fill="#cc2619" fill-opacity="0.1" d="M60.1 287.6h1.3v1.3h-1.3zM52.9 263.7h1.3v1.3h-1.3zM56.8 277.8h1.3v1.3h-1.3zM70.3 283.8h1.3v1.3h-1.3zM49.4 281.3h1.3v1.3h-1.3zM51.1 279.1h1.3v1.3h-1.3zM45.2 285.8h1.3v1.3h-1.3zM48.4 283.2h1.3v1.3h-1.3zM63.8 264.1h1.3v1.3h-1.3zM58.2 274.5h1.3v1.3h-1.3zM52.8 278.8h1.3v1.3h-1.3zM50.9 285.6h1.3v1.3h-1.3zM39.6 283.9h1.3v1.3h-1.3zM50.5 270.0h1.3v1.3h-1.3zM42.0 276.6h1.3v1.3h-1.3zM62.2 281.1h1.3v1.3h-1.3zM70.5 281.3h1.3v1.3h-1.3zM60.3 281.1h1.3v1.3h-1.3zM59.2 283.1h1.3v1.3h-1.3zM67.8 275.9h1.3v1.3h-1.3zM46.4 269.8h1.3v1.3h-1.3zM58.0 282.7h1.3v1.3h-1.3zM54.5 269.1h1.3v1.3h-1.3zM49.2 274.8h1.3v1.3h-1.3zM62.4 285.2h1.3v1.3h-1.3zM52.9 278.3h1.3v1.3h-1.3zM66.2 276.9h1.3v1.3h-1.3zM61.8 283.8h1.3v1.3h-1.3zM58.5 275.8h1.3v1.3h-1.3zM53.3 277.5h1.3v1.3h-1.3zM62.0 282.0h1.3v1.3h-1.3zM61.2 288.7h1.3v1.3h-1.3zM48.7 280.0h1.3v1.3h-1.3zM66.9 274.6h1.3v1.3h-1.3zM61.7 373.9h1.3v1.3h-1.3zM95.0 375.4h1.3v1.3h-1.3zM65.8 358.4h1.3v1.3h-1.3zM72.3 380.6h1.3v1.3h-1.3zM53.1 359.5h1.3v1.3h-1.3zM64.2 366.4h1.3v1.3h-1.3zM47.9 380.2h1.3v1.3h-1.3zM65.1 370.2h1.3v1.3h-1.3zM78.2 367.2h1.3v1.3h-1.3zM65.6 371.0h1.3v1.3h-1.3zM86.9 366.5h1.3v1.3h-1.3zM47.9 363.7h1.3v1.3h-1.3zM77.2 373.2h1.3v1.3h-1.3zM63.2 377.0h1.3v1.3h-1.3zM77.9 365.5h1.3v1.3h-1.3zM62.3 356.0h1.3v1.3h-1.3zM85.7 372.3h1.3v1.3h-1.3zM78.7 372.6h1.3v1.3h-1.3zM75.6 357.0h1.3v1.3h-1.3zM95.4 370.1h1.3v1.3h-1.3zM68.7 372.6h1.3v1.3h-1.3zM51.4 360.6h1.3v1.3h-1.3zM61.1 351.0h1.3v1.3h-1.3zM41.8 359.7h1.3v1.3h-1.3zM61.9 365.3h1.3v1.3h-1.3zM84.0 351.1h1.3v1.3h-1.3zM73.5 360.2h1.3v1.3h-1.3zM54.3 352.7h1.3v1.3h-1.3zM66.0 379.0h1.3v1.3h-1.3zM60.6 373.6h1.3v1.3h-1.3zM58.7 351.1h1.3v1.3h-1.3zM46.0 362.3h1.3v1.3h-1.3zM64.5 365.7h1.3v1.3h-1.3zM88.4 368.4h1.3v1.3h-1.3zM82.7 362.0h1.3v1.3h-1.3zM77.4 367.9h1.3v1.3h-1.3zM78.9 367.8h1.3v1.3h-1.3zM69.0 368.2h1.3v1.3h-1.3zM66.0 349.2h1.3v1.3h-1.3zM81.8 354.6h1.3v1.3h-1.3z"/>
<path fill="#cc2619" fill-opacity="0.13" d="M275.9 280.1h1.3v1.3h-1.3zM288.4 290.6h1.3v1.3h-1.3zM280.2 282.4h1.3v1.3h-1.3zM286.0 289.8h1.3v1.3h-1.3zM277.8 281.3h1.3v1.3h-1.3zM279.8 287.2h1.3v1.3h-1.3zM285.0 283.4h1.3v1.3h-1.3zM282.9 285.9h1.3v1.3h-1.3zM278.9 282.4h1.3v1.3h-1.3zM286.6 278.2h1.3v1.3h-1.3zM281.5 284.9h1.3v1.3h-1.3zM279.1 283.5h1.3v1.3h-1.3z"/>
<path fill="#cc2619" fill-opacity="0.13" d="M273.0 51.2h1.5v1.5h-1.5zM290.6 80.5h1.5v1.5h-1.5zM295.6 83.1h1.5v1.5h-1.5zM284.3 71.2h1.5v1.5h-1.5zM288.5 63.8h1.5v1.5h-1.5zM288.6 65.3h1.5v1.5h-1.5zM288.3 71.9h1.5v1.5h-1.5zM285.7 89.1h1.5v1.5h-1.5zM287.6 71.8h1.5v1.5h-1.5zM280.1 64.6h1.5v1.5h-1.5zM275.5 85.2h1.5v1.5h-1.5zM283.3 59.3h1.5v1.5h-1.5zM291.5 65.8h1.5v1.5h-1.5zM291.7 76.9h1.5v1.5h-1.5zM287.3 75.2h1.5v1.5h-1.5zM275.2 70.6h1.5v1.5h-1.5zM279.4 61.9h1.5v1.5h-1.5zM285.5 59.1h1.5v1.5h-1.5zM274.2 64.1h1.5v1.5h-1.5zM273.6 73.0h1.5v1.5h-1.5zM286.2 73.5h1.5v1.5h-1.5zM280.3 81.2h1.5v1.5h-1.5zM286.1 90.5h1.5v1.5h-1.5zM278.4 75.8h1.5v1.5h-1.5zM279.8 67.1h1.5v1.5h-1.5zM280.8 80.9h1.5v1.5h-1.5zM278.6 60.5h1.5v1.5h-1.5zM293.2 74.8h1.5v1.5h-1.5zM284.6 81.7h1.5v1.5h-1.5zM289.8 83.0h1.5v1.5h-1.5zM277.3 70.1h1.5v1.5h-1.5zM289.3 72.9h1.5v1.5h-1.5zM290.7 89.3h1.5v1.5h-1.5zM274.4 72.2h1.5v1.5h-1.5zM276.0 64.9h1.5v1.5h-1.5zM280.3 74.7h1.5v1.5h-1.5zM284.9 58.8h1.5v1.5h-1.5zM281.7 69.2h1.5v1.5h-1.5zM275.9 75.1h1.5v1.5h-1.5zM271.6 70.3h1.5v1.5h-1.5zM281.8 92.8h1.5v1.5h-1.5zM281.3 68.9h1.5v1.5h-1.5zM288.4 60.2h1.5v1.5h-1.5zM291.0 77.5h1.5v1.5h-1.5zM289.0 57.9h1.5v1.5h-1.5zM289.1 66.1h1.5v1.5h-1.5zM284.1 71.4h1.5v1.5h-1.5zM284.3 66.3h1.5v1.5h-1.5zM276.6 52.2h1.5v1.5h-1.5zM290.3 73.6h1.5v1.5h-1.5zM275.7 57.6h1.5v1.5h-1.5zM286.3 70.4h1.5v1.5h-1.5zM272.6 70.7h1.5v1.5h-1.5zM279.5 73.1h1.5v1.5h-1.5zM275.0 57.9h1.5v1.5h-1.5zM279.7 60.0h1.5v1.5h-1.5zM279.0 55.3h1.5v1.5h-1.5zM283.6 68.2h1.5v1.5h-1.5zM278.0 50.8h1.5v1.5h-1.5zM280.5 44.6h1.5v1.5h-1.5zM272.9 85.6h1.5v1.5h-1.5zM283.4 53.4h1.5v1.5h-1.5zM274.3 72.0h1.5v1.5h-1.5zM286.6 69.3h1.5v1.5h-1.5zM280.5 79.9h1.5v1.5h-1.5zM289.7 54.3h1.5v1.5h-1.5zM277.9 82.8h1.5v1.5h-1.5zM284.6 56.6h1.5v1.5h-1.5zM279.2 72.2h1.5v1.5h-1.5zM277.9 81.5h1.5v1.5h-1.5zM288.0 86.9h1.5v1.5h-1.5zM271.9 67.1h1.5v1.5h-1.5zM286.3 68.7h1.5v1.5h-1.5zM280.5 90.1h1.5v1.5h-1.5zM281.4 54.9h1.5v1.5h-1.5zM293.9 80.3h1.5v1.5h-1.5zM282.4 77.9h1.5v1.5h-1.5zM285.6 72.1h1.5v1.5h-1.5zM286.8 70.5h1.5v1.5h-1.5zM279.9 43.3h1.5v1.5h-1.5zM292.5 77.7h1.5v1.5h-1.5zM277.1 77.1h1.5v1.5h-1.5zM271.0 82.8h1.5v1.5h-1.5zM291.1 67.0h1.5v1.5h-1.5zM285.0 77.6h1.5v1.5h-1.5zM293.4 73.2h1.5v1.5h-1.5zM297.5 73.4h1.5v1.5h-1.5zM279.2 69.8h1.5v1.5h-1.5zM277.3 46.3h1.5v1.5h-1.5zM280.9 88.8h1.5v1.5h-1.5z"/>
<path fill="#cc2619" fill-opacity="0.14" d="M277.6 77.3h1.5v1.5h-1.5zM279.3 89.7h1.5v1.5h-1.5zM289.9 79.6h1.5v1.5h-1.5zM287.1 90.1h1.5v1.5h-1.5zM283.2 80.8h1.5v1.5h-1.5zM287.7 78.1h1.5v1.5h-1.5zM284.2 87.4h1.5v1.5h-1.5zM293.5 88.9h1.5v1.5h-1.5zM285.9 77.6h1.5v1.5h-1.5zM287.5 82.9h1.5v1.5h-1.5zM294.5 83.5h1.5v1.5h-1.5zM283.5 79.5h1.5v1.5h-1.5zM282.2 85.5h1.5v1.5h-1.5zM276.3 80.7h1.5v1.5h-1.5zM275.5 74.7h1.5v1.5h-1.5zM286.4 78.7h1.5v1.5h-1.5zM280.2 84.9h1.5v1.5h-1.5zM278.1 80.3h1.5v1.5h-1.5zM281.5 78.4h1.5v1.5h-1.5zM277.7 89.9h1.5v1.5h-1.5zM285.8 86.8h1.5v1.5h-1.5zM275.0 80.1h1.5v1.5h-1.5zM287.7 87.5h1.5v1.5h-1.5zM277.4 85.0h1.5v1.5h-1.5zM291.5 87.1h1.5v1.5h-1.5zM281.8 79.0h1.5v1.5h-1.5zM272.3 80.7h1.5v1.5h-1.5zM283.2 82.4h1.5v1.5h-1.5zM281.5 87.1h1.5v1.5h-1.5zM289.6 76.4h1.5v1.5h-1.5zM283.2 82.3h1.5v1.5h-1.5zM283.1 79.9h1.5v1.5h-1.5zM285.9 89.4h1.5v1.5h-1.5zM279.7 80.4h1.5v1.5h-1.5zM289.5 75.8h1.5v1.5h-1.5zM286.5 82.5h1.5v1.5h-1.5zM277.6 84.3h1.5v1.5h-1.5zM281.1 84.9h1.5v1.5h-1.5zM285.8 81.5h1.5v1.5h-1.5zM284.3 83.6h1.5v1.5h-1.5zM286.4 71.6h1.5v1.5h-1.5zM281.5 86.7h1.5v1.5h-1.5zM282.0 89.5h1.5v1.5h-1.5zM279.7 80.2h1.5v1.5h-1.5zM282.6 73.5h1.5v1.5h-1.5z"/>
<path fill="#cc2619" fill-opacity="0.16" d="M177.2 369.1h1.3v1.3h-1.3zM180.4 357.8h1.3v1.3h-1.3zM191.2 372.5h1.3v1.3h-1.3zM195.2 359.5h1.3v1.3h-1.3zM184.9 370.8h1.3v1.3h-1.3zM173.2 369.3h1.3v1.3h-1.3zM179.1 382.8h1.3v1.3h-1.3zM176.9 391.4h1.3v1.3h-1.3zM190.4 369.5h1.3v1.3h-1.3zM185.2 384.4h1.3v1.3h-1.3zM193.9 379.4h1.3v1.3h-1.3zM182.5 381.6h1.3v1.3h-1.3zM184.1 365.3h1.3v1.3h-1.3zM187.1 359.8h1.3v1.3h-1.3zM176.4 372.1h1.3v1.3h-1.3zM187.1 377.0h1.3v1.3h-1.3zM176.6 371.1h1.3v1.3h-1.3zM172.7 377.7h1.3v1.3h-1.3zM175.9 351.7h1.3v1.3h-1.3zM180.0 360.7h1.3v1.3h-1.3zM191.2 367.2h1.3v1.3h-1.3zM171.8 370.1h1.3v1.3h-1.3zM168.9 386.6h1.3v1.3h-1.3zM177.0 372.8h1.3v1.3h-1.3zM171.8 383.1h1.3v1.3h-1.3zM187.1 377.2h1.3v1.3h-1.3zM171.4 377.6h1.3v1.3h-1.3zM183.9 372.3h1.3v1.3h-1.3zM168.8 379.5h1.3v1.3h-1.3zM183.5 389.5h1.3v1.3h-1.3zM186.8 363.1h1.3v1.3h-1.3zM185.3 368.6h1.3v1.3h-1.3zM198.2 385.9h1.3v1.3h-1.3zM196.5 376.1h1.3v1.3h-1.3zM194.9 355.7h1.3v1.3h-1.3zM179.0 373.9h1.3v1.3h-1.3zM180.8 368.6h1.3v1.3h-1.3zM187.5 360.8h1.3v1.3h-1.3zM171.9 361.9h1.3v1.3h-1.3zM179.2 379.4h1.3v1.3h-1.3zM180.7 373.6h1.3v1.3h-1.3zM182.7 328.2h1.3v1.3h-1.3zM168.7 343.6h1.3v1.3h-1.3zM181.5 370.4h1.3v1.3h-1.3zM181.3 380.8h1.3v1.3h-1.3zM170.2 383.7h1.3v1.3h-1.3zM195.6 362.4h1.3v1.3h-1.3zM195.9 343.8h1.3v1.3h-1.3zM187.6 358.9h1.3v1.3h-1.3zM186.8 371.1h1.3v1.3h-1.3zM173.6 387.0h1.3v1.3h-1.3zM188.6 380.6h1.3v1.3h-1.3zM188.7 381.1h1.3v1.3h-1.3zM182.0 380.8h1.3v1.3h-1.3zM173.0 358.3h1.3v1.3h-1.3zM198.7 386.4h1.3v1.3h-1.3zM185.1 369.5h1.3v1.3h-1.3zM179.8 360.0h1.3v1.3h-1.3zM182.9 356.2h1.3v1.3h-1.3zM166.6 377.8h1.3v1.3h-1.3zM186.7 376.9h1.3v1.3h-1.3zM179.7 381.3h1.3v1.3h-1.3zM179.9 363.8h1.3v1.3h-1.3zM170.9 374.7h1.3v1.3h-1.3zM179.2 377.4h1.3v1.3h-1.3zM190.2 360.1h1.3v1.3h-1.3zM183.0 375.6h1.3v1.3h-1.3zM179.1 363.1h1.3v1.3h-1.3zM182.2 375.0h1.3v1.3h-1.3zM178.5 374.5h1.3v1.3h-1.3zM185.5 381.7h1.3v1.3h-1.3zM177.8 395.5h1.3v1.3h-1.3zM170.3 364.1h1.3v1.3h-1.3zM180.5 360.4h1.3v1.3h-1.3zM195.6 393.3h1.3v1.3h-1.3zM199.3 366.0h1.3v1.3h-1.3zM178.4 369.5h1.3v1.3h-1.3zM185.8 364.9h1.3v1.3h-1.3zM183.9 379.2h1.3v1.3h-1.3zM190.6 378.8h1.3v1.3h-1.3zM181.0 384.9h1.3v1.3h-1.3zM160.0 356.4h1.3v1.3h-1.3zM185.1 375.5h1.3v1.3h-1.3zM181.8 368.1h1.3v1.3h-1.3zM189.3 367.4h1.3v1.3h-1.3zM175.4 386.8h1.3v1.3h-1.3zM179.3 390.8h1.3v1.3h-1.3zM384.7 494.9h1.3v1.3h-1.3zM389.9 477.7h1.3v1.3h-1.3zM381.0 483.9h1.3v1.3h-1.3zM387.8 492.2h1.3v1.3h-1.3zM394.0 496.1h1.3v1.3h-1.3zM384.8 492.5h1.3v1.3h-1.3zM388.3 492.1h1.3v1.3h-1.3zM384.4 488.7h1.3v1.3h-1.3zM388.0 497.0h1.3v1.3h-1.3zM390.9 491.1h1.3v1.3h-1.3zM383.1 489.7h1.3v1.3h-1.3zM383.2 493.5h1.3v1.3h-1.3zM391.9 493.0h1.3v1.3h-1.3zM392.0 484.6h1.3v1.3h-1.3zM385.1 491.6h1.3v1.3h-1.3zM393.7 493.5h1.3v1.3h-1.3zM379.5 494.1h1.3v1.3h-1.3zM390.0 493.9h1.3v1.3h-1.3zM387.7 493.1h1.3v1.3h-1.3zM396.6 491.7h1.3v1.3h-1.3zM395.3 491.9h1.3v1.3h-1.3zM381.2 494.0h1.3v1.3h-1.3zM385.5 489.7h1.3v1.3h-1.3zM391.8 490.1h1.3v1.3h-1.3zM381.1 489.9h1.3v1.3h-1.3zM379.1 498.7h1.3v1.3h-1.3zM390.8 495.0h1.3v1.3h-1.3zM391.1 495.3h1.3v1.3h-1.3zM396.6 485.2h1.3v1.3h-1.3zM385.3 486.6h1.3v1.3h-1.3zM398.8 495.4h1.3v1.3h-1.3zM391.8 484.7h1.3v1.3h-1.3zM398.9 495.7h1.3v1.3h-1.3zM386.7 490.2h1.3v1.3h-1.3zM382.8 490.2h1.3v1.3h-1.3zM385.2 496.6h1.3v1.3h-1.3zM394.5 484.0h1.3v1.3h-1.3zM394.2 491.2h1.3v1.3h-1.3zM381.6 476.2h1.3v1.3h-1.3zM384.4 499.2h1.3v1.3h-1.3z"/>
<path fill="#cc2619" fill-opacity="0.16" d="M275.6 354.2h1.5v1.5h-1.5zM280.0 375.5h1.5v1.5h-1.5zM282.7 375.4h1.5v1.5h-1.5zM279.8 356.2h1.5v1.5h-1.5zM279.3 372.2h1.5v1.5h-1.5zM277.2 390.0h1.5v1.5h-1.5zM285.3 355.4h1.5v1.5h-1.5zM295.1 368.9h1.5v1.5h-1.5zM286.9 344.0h1.5v1.5h-1.5zM270.8 354.8h1.5v1.5h-1.5zM290.2 377.3h1.5v1.5h-1.5zM286.5 385.5h1.5v1.5h-1.5zM274.4 390.7h1.5v1.5h-1.5zM287.9 383.1h1.5v1.5h-1.5zM281.2 371.8h1.5v1.5h-1.5zM282.8 367.4h1.5v1.5h-1.5zM282.6 374.1h1.5v1.5h-1.5zM281.6 369.9h1.5v1.5h-1.5zM280.1 371.3h1.5v1.5h-1.5zM280.2 375.4h1.5v1.5h-1.5zM284.5 345.7h1.5v1.5h-1.5zM277.1 386.4h1.5v1.5h-1.5zM279.1 379.2h1.5v1.5h-1.5zM290.4 356.6h1.5v1.5h-1.5zM273.1 369.2h1.5v1.5h-1.5zM281.5 352.3h1.5v1.5h-1.5zM274.0 377.5h1.5v1.5h-1.5zM299.0 372.9h1.5v1.5h-1.5zM290.3 372.2h1.5v1.5h-1.5zM274.0 371.2h1.5v1.5h-1.5zM288.8 370.4h1.5v1.5h-1.5zM290.9 371.8h1.5v1.5h-1.5zM283.8 394.1h1.5v1.5h-1.5zM281.9 391.4h1.5v1.5h-1.5zM274.5 381.1h1.5v1.5h-1.5zM274.5 383.1h1.5v1.5h-1.5zM286.4 376.4h1.5v1.5h-1.5zM285.6 382.0h1.5v1.5h-1.5zM282.8 374.4h1.5v1.5h-1.5zM276.9 385.7h1.5v1.5h-1.5zM271.6 356.5h1.5v1.5h-1.5zM284.1 363.4h1.5v1.5h-1.5zM291.7 384.5h1.5v1.5h-1.5zM277.5 360.2h1.5v1.5h-1.5zM293.1 371.5h1.5v1.5h-1.5zM277.0 389.6h1.5v1.5h-1.5zM289.7 384.1h1.5v1.5h-1.5zM298.3 381.2h1.5v1.5h-1.5zM285.9 373.6h1.5v1.5h-1.5zM282.3 374.0h1.5v1.5h-1.5zM283.6 368.4h1.5v1.5h-1.5zM291.3 359.0h1.5v1.5h-1.5zM274.0 377.3h1.5v1.5h-1.5zM277.4 352.4h1.5v1.5h-1.5zM284.9 375.4h1.5v1.5h-1.5zM288.3 372.9h1.5v1.5h-1.5zM285.6 359.1h1.5v1.5h-1.5zM291.8 381.4h1.5v1.5h-1.5zM295.8 345.4h1.5v1.5h-1.5zM283.0 366.6h1.5v1.5h-1.5zM284.4 345.3h1.5v1.5h-1.5zM292.1 383.3h1.5v1.5h-1.5zM277.4 380.6h1.5v1.5h-1.5zM288.1 389.9h1.5v1.5h-1.5zM276.1 392.6h1.5v1.5h-1.5zM281.0 363.1h1.5v1.5h-1.5zM283.0 376.7h1.5v1.5h-1.5zM277.7 371.1h1.5v1.5h-1.5zM273.8 385.1h1.5v1.5h-1.5zM295.4 365.2h1.5v1.5h-1.5zM276.8 364.2h1.5v1.5h-1.5zM287.4 376.8h1.5v1.5h-1.5zM291.4 360.7h1.5v1.5h-1.5zM287.9 360.5h1.5v1.5h-1.5zM285.0 379.5h1.5v1.5h-1.5zM294.7 384.1h1.5v1.5h-1.5zM283.4 367.7h1.5v1.5h-1.5zM292.3 382.5h1.5v1.5h-1.5zM276.5 360.6h1.5v1.5h-1.5zM271.3 363.7h1.5v1.5h-1.5zM287.5 370.3h1.5v1.5h-1.5zM287.4 378.7h1.5v1.5h-1.5zM316.8 376.5h1.5v1.5h-1.5zM293.5 371.9h1.5v1.5h-1.5zM280.5 362.5h1.5v1.5h-1.5zM278.9 360.6h1.5v1.5h-1.5zM271.1 367.2h1.5v1.5h-1.5zM271.3 367.2h1.5v1.5h-1.5zM280.9 368.9h1.5v1.5h-1.5zM282.1 357.2h1.5v1.5h-1.5zM272.8 366.4h1.5v1.5h-1.5zM283.0 366.7h1.5v1.5h-1.5zM278.9 379.2h1.5v1.5h-1.5zM288.8 355.4h1.5v1.5h-1.5zM285.9 364.7h1.5v1.5h-1.5zM290.3 366.9h1.5v1.5h-1.5zM289.6 377.6h1.5v1.5h-1.5zM289.1 354.1h1.5v1.5h-1.5zM285.5 356.4h1.5v1.5h-1.5zM292.9 382.7h1.5v1.5h-1.5zM301.4 378.2h1.5v1.5h-1.5zM289.2 351.6h1.5v1.5h-1.5zM273.5 377.3h1.5v1.5h-1.5zM282.0 371.4h1.5v1.5h-1.5zM291.5 367.4h1.5v1.5h-1.5zM288.0 366.1h1.5v1.5h-1.5zM279.7 336.2h1.5v1.5h-1.5zM291.7 367.3h1.5v1.5h-1.5zM295.1 382.7h1.5v1.5h-1.5zM284.3 383.9h1.5v1.5h-1.5zM289.2 363.5h1.5v1.5h-1.5zM292.4 392.8h1.5v1.5h-1.5zM293.8 378.4h1.5v1.5h-1.5zM284.5 379.3h1.5v1.5h-1.5zM295.3 350.5h1.5v1.5h-1.5zM289.3 362.6h1.5v1.5h-1.5zM276.7 344.8h1.5v1.5h-1.5zM276.5 376.3h1.5v1.5h-1.5zM278.8 364.0h1.5v1.5h-1.5zM288.5 390.1h1.5v1.5h-1.5zM288.2 382.3h1.5v1.5h-1.5zM292.1 374.4h1.5v1.5h-1.5zM290.3 365.9h1.5v1.5h-1.5zM273.3 371.5h1.5v1.5h-1.5z"/>
<path fill="#cc2619" fill-opacity="0.17" d="M285.4 181.8h1.5v1.5h-1.5zM285.6 169.7h1.5v1.5h-1.5zM283.0 163.2h1.5v1.5h-1.5zM295.3 175.0h1.5v1.5h-1.5zM286.3 166.4h1.5v1.5h-1.5zM282.0 151.4h1.5v1.5h-1.5zM286.2 181.9h1.5v1.5h-1.5zM284.1 166.7h1.5v1.5h-1.5zM275.8 178.8h1.5v1.5h-1.5zM285.0 176.1h1.5v1.5h-1.5zM287.4 156.5h1.5v1.5h-1.5zM287.7 181.5h1.5v1.5h-1.5zM288.7 184.1h1.5v1.5h-1.5zM293.6 160.6h1.5v1.5h-1.5zM288.0 158.1h1.5v1.5h-1.5zM281.3 176.9h1.5v1.5h-1.5zM296.5 180.7h1.5v1.5h-1.5zM285.1 174.4h1.5v1.5h-1.5zM275.7 188.8h1.5v1.5h-1.5zM280.7 164.3h1.5v1.5h-1.5zM298.7 178.0h1.5v1.5h-1.5zM281.9 170.0h1.5v1.5h-1.5zM278.4 157.7h1.5v1.5h-1.5zM286.3 186.4h1.5v1.5h-1.5zM281.6 171.4h1.5v1.5h-1.5zM288.6 175.4h1.5v1.5h-1.5zM302.0 155.7h1.5v1.5h-1.5zM294.6 174.9h1.5v1.5h-1.5zM277.8 164.9h1.5v1.5h-1.5zM276.3 164.3h1.5v1.5h-1.5zM286.5 173.7h1.5v1.5h-1.5zM280.2 142.0h1.5v1.5h-1.5zM303.1 157.1h1.5v1.5h-1.5zM283.3 188.8h1.5v1.5h-1.5zM285.0 169.5h1.5v1.5h-1.5zM280.9 174.2h1.5v1.5h-1.5zM285.5 164.6h1.5v1.5h-1.5zM276.5 168.1h1.5v1.5h-1.5zM270.8 162.0h1.5v1.5h-1.5zM296.1 181.8h1.5v1.5h-1.5zM282.3 172.8h1.5v1.5h-1.5zM293.0 168.5h1.5v1.5h-1.5zM281.5 166.8h1.5v1.5h-1.5zM297.4 185.1h1.5v1.5h-1.5zM296.7 181.5h1.5v1.5h-1.5zM292.0 171.0h1.5v1.5h-1.5zM293.0 175.8h1.5v1.5h-1.5zM290.1 176.0h1.5v1.5h-1.5zM315.2 181.6h1.5v1.5h-1.5zM283.6 169.8h1.5v1.5h-1.5zM294.7 173.0h1.5v1.5h-1.5zM287.7 165.0h1.5v1.5h-1.5zM292.5 172.4h1.5v1.5h-1.5zM289.6 178.1h1.5v1.5h-1.5zM288.3 186.9h1.5v1.5h-1.5zM289.9 161.8h1.5v1.5h-1.5zM276.9 174.2h1.5v1.5h-1.5zM294.5 170.5h1.5v1.5h-1.5zM282.0 174.7h1.5v1.5h-1.5zM297.7 161.7h1.5v1.5h-1.5zM279.9 156.7h1.5v1.5h-1.5zM275.4 185.1h1.5v1.5h-1.5zM286.3 172.6h1.5v1.5h-1.5zM280.0 157.6h1.5v1.5h-1.5zM277.3 166.7h1.5v1.5h-1.5zM284.1 171.5h1.5v1.5h-1.5zM271.4 164.8h1.5v1.5h-1.5zM292.4 173.2h1.5v1.5h-1.5zM278.3 171.1h1.5v1.5h-1.5zM284.4 166.9h1.5v1.5h-1.5zM279.1 164.6h1.5v1.5h-1.5zM288.6 158.3h1.5v1.5h-1.5zM283.6 164.7h1.5v1.5h-1.5zM292.8 167.5h1.5v1.5h-1.5zM280.9 166.2h1.5v1.5h-1.5zM293.9 159.2h1.5v1.5h-1.5zM292.8 167.3h1.5v1.5h-1.5zM285.6 181.1h1.5v1.5h-1.5zM286.5 180.5h1.5v1.5h-1.5zM296.9 182.8h1.5v1.5h-1.5zM275.2 186.4h1.5v1.5h-1.5zM293.1 172.7h1.5v1.5h-1.5zM301.9 167.3h1.5v1.5h-1.5zM307.5 171.3h1.5v1.5h-1.5zM295.0 163.0h1.5v1.5h-1.5zM290.6 171.1h1.5v1.5h-1.5zM276.2 175.6h1.5v1.5h-1.5zM288.3 159.2h1.5v1.5h-1.5zM274.8 171.6h1.5v1.5h-1.5zM309.5 174.2h1.5v1.5h-1.5zM309.4 177.1h1.5v1.5h-1.5zM279.9 164.3h1.5v1.5h-1.5zM280.7 163.3h1.5v1.5h-1.5zM299.8 165.2h1.5v1.5h-1.5zM294.7 173.1h1.5v1.5h-1.5zM280.2 187.9h1.5v1.5h-1.5zM283.1 180.6h1.5v1.5h-1.5zM295.9 167.9h1.5v1.5h-1.5zM283.3 178.6h1.5v1.5h-1.5zM291.7 172.6h1.5v1.5h-1.5zM290.3 188.0h1.5v1.5h-1.5zM293.9 169.7h1.5v1.5h-1.5zM287.8 173.0h1.5v1.5h-1.5zM302.8 170.3h1.5v1.5h-1.5zM295.4 161.2h1.5v1.5h-1.5zM279.2 171.9h1.5v1.5h-1.5zM280.8 181.6h1.5v1.5h-1.5zM288.9 182.2h1.5v1.5h-1.5zM295.4 168.2h1.5v1.5h-1.5zM277.1 170.9h1.5v1.5h-1.5zM278.5 159.1h1.5v1.5h-1.5zM298.3 164.7h1.5v1.5h-1.5zM282.1 153.9h1.5v1.5h-1.5zM276.8 179.3h1.5v1.5h-1.5zM290.1 162.0h1.5v1.5h-1.5zM274.2 152.1h1.5v1.5h-1.5zM282.0 184.2h1.5v1.5h-1.5zM293.1 163.8h1.5v1.5h-1.5zM290.9 175.5h1.5v1.5h-1.5zM292.8 177.2h1.5v1.5h-1.5zM298.3 178.6h1.5v1.5h-1.5zM286.9 173.7h1.5v1.5h-1.5zM288.4 173.1h1.5v1.5h-1.5zM287.3 169.8h1.5v1.5h-1.5zM275.5 186.0h1.5v1.5h-1.5zM289.3 165.1h1.5v1.5h-1.5zM301.8 174.0h1.5v1.5h-1.5zM276.0 154.1h1.5v1.5h-1.5zM281.5 156.5h1.5v1.5h-1.5zM277.4 162.1h1.5v1.5h-1.5zM283.4 168.8h1.5v1.5h-1.5zM286.4 188.3h1.5v1.5h-1.5zM290.6 169.9h1.5v1.5h-1.5zM288.9 180.3h1.5v1.5h-1.5zM271.0 164.3h1.5v1.5h-1.5zM283.6 172.6h1.5v1.5h-1.5zM278.8 171.2h1.5v1.5h-1.5zM272.4 184.8h1.5v1.5h-1.5zM292.8 173.8h1.5v1.5h-1.5zM279.1 169.5h1.5v1.5h-1.5zM274.1 172.9h1.5v1.5h-1.5zM282.9 173.3h1.5v1.5h-1.5zM283.6 171.1h1.5v1.5h-1.5zM278.6 186.0h1.5v1.5h-1.5zM286.2 179.5h1.5v1.5h-1.5zM286.9 174.2h1.5v1.5h-1.5zM281.8 169.3h1.5v1.5h-1.5zM285.9 168.5h1.5v1.5h-1.5zM294.5 181.8h1.5v1.5h-1.5z"/>
<path fill="#cc2619" fill-opacity="0.18" d="M394.4 265.8h1.3v1.3h-1.3zM381.8 262.1h1.3v1.3h-1.3zM387.3 265.0h1.3v1.3h-1.3zM388.8 264.3h1.3v1.3h-1.3zM397.4 269.0h1.3v1.3h-1.3zM385.5 275.1h1.3v1.3h-1.3zM390.0 260.0h1.3v1.3h-1.3zM393.7 263.5h1.3v1.3h-1.3zM404.2 260.2h1.3v1.3h-1.3zM405.9 268.6h1.3v1.3h-1.3zM391.5 262.4h1.3v1.3h-1.3zM384.5 267.3h1.3v1.3h-1.3zM397.9 263.2h1.3v1.3h-1.3zM398.1 260.5h1.3v1.3h-1.3zM388.3 262.1h1.3v1.3h-1.3zM404.4 260.5h1.3v1.3h-1.3zM385.9 254.4h1.3v1.3h-1.3zM401.1 265.6h1.3v1.3h-1.3zM396.5 259.5h1.3v1.3h-1.3zM403.3 265.1h1.3v1.3h-1.3zM397.3 262.9h1.3v1.3h-1.3zM388.0 263.0h1.3v1.3h-1.3zM399.5 264.7h1.3v1.3h-1.3zM389.0 267.8h1.3v1.3h-1.3zM399.8 262.1h1.3v1.3h-1.3zM382.4 264.1h1.3v1.3h-1.3zM386.0 265.0h1.3v1.3h-1.3zM390.8 258.7h1.3v1.3h-1.3zM384.0 264.4h1.3v1.3h-1.3zM391.5 270.4h1.3v1.3h-1.3zM397.0 268.8h1.3v1.3h-1.3zM392.9 262.2h1.3v1.3h-1.3zM384.6 259.2h1.3v1.3h-1.3zM386.6 263.0h1.3v1.3h-1.3zM388.8 261.5h1.3v1.3h-1.3zM396.0 259.8h1.3v1.3h-1.3zM382.2 269.5h1.3v1.3h-1.3zM385.6 252.2h1.3v1.3h-1.3zM405.5 259.0h1.3v1.3h-1.3zM387.1 264.8h1.3v1.3h-1.3zM388.1 264.6h1.3v1.3h-1.3zM387.0 257.5h1.3v1.3h-1.3zM387.6 260.0h1.3v1.3h-1.3zM392.4 257.1h1.3v1.3h-1.3zM398.5 262.2h1.3v1.3h-1.3zM392.9 267.7h1.3v1.3h-1.3zM402.2 270.3h1.3v1.3h-1.3zM391.8 263.6h1.3v1.3h-1.3zM399.7 267.5h1.3v1.3h-1.3zM381.8 259.4h1.3v1.3h-1.3zM387.5 258.9h1.3v1.3h-1.3zM394.5 268.5h1.3v1.3h-1.3zM396.6 263.7h1.3v1.3h-1.3zM402.1 264.4h1.3v1.3h-1.3zM385.4 254.8h1.3v1.3h-1.3zM397.7 263.6h1.3v1.3h-1.3zM386.5 269.9h1.3v1.3h-1.3zM392.1 264.6h1.3v1.3h-1.3zM390.1 381.7h1.3v1.3h-1.3zM385.3 383.2h1.3v1.3h-1.3zM388.1 381.9h1.3v1.3h-1.3zM398.0 380.6h1.3v1.3h-1.3zM385.3 380.3h1.3v1.3h-1.3zM382.3 384.0h1.3v1.3h-1.3zM386.5 383.2h1.3v1.3h-1.3zM399.3 386.9h1.3v1.3h-1.3zM390.1 384.6h1.3v1.3h-1.3zM394.7 381.3h1.3v1.3h-1.3zM390.4 382.7h1.3v1.3h-1.3zM385.0 385.1h1.3v1.3h-1.3zM384.2 377.6h1.3v1.3h-1.3zM391.5 380.7h1.3v1.3h-1.3zM388.8 383.8h1.3v1.3h-1.3zM390.6 384.8h1.3v1.3h-1.3zM398.0 389.7h1.3v1.3h-1.3zM382.0 379.9h1.3v1.3h-1.3zM381.7 382.6h1.3v1.3h-1.3zM384.7 376.7h1.3v1.3h-1.3zM403.0 380.7h1.3v1.3h-1.3zM380.1 382.2h1.3v1.3h-1.3zM380.7 374.7h1.3v1.3h-1.3zM396.3 382.2h1.3v1.3h-1.3zM396.4 382.4h1.3v1.3h-1.3zM385.9 385.5h1.3v1.3h-1.3zM392.9 391.0h1.3v1.3h-1.3zM391.1 384.9h1.3v1.3h-1.3zM384.7 383.4h1.3v1.3h-1.3zM386.8 378.3h1.3v1.3h-1.3zM391.8 377.4h1.3v1.3h-1.3zM395.4 386.9h1.3v1.3h-1.3zM382.6 385.3h1.3v1.3h-1.3zM388.8 383.2h1.3v1.3h-1.3zM392.0 382.0h1.3v1.3h-1.3zM395.9 382.6h1.3v1.3h-1.3zM397.0 391.1h1.3v1.3h-1.3zM386.0 388.0h1.3v1.3h-1.3zM392.7 381.8h1.3v1.3h-1.3zM397.7 378.9h1.3v1.3h-1.3zM384.8 386.1h1.3v1.3h-1.3zM383.2 386.6h1.3v1.3h-1.3zM392.8 377.1h1.3v1.3h-1.3zM387.6 385.4h1.3v1.3h-1.3zM387.5 381.4h1.3v1.3h-1.3zM391.3 385.9h1.3v1.3h-1.3zM394.6 382.1h1.3v1.3h-1.3zM396.7 384.7h1.3v1.3h-1.3zM391.7 386.2h1.3v1.3h-1.3zM390.0 385.5h1.3v1.3h-1.3zM388.4 378.0h1.3v1.3h-1.3zM388.0 379.5h1.3v1.3h-1.3zM389.2 379.5h1.3v1.3h-1.3zM396.9 374.6h1.3v1.3h-1.3zM395.2 385.4h1.3v1.3h-1.3zM396.8 380.6h1.3v1.3h-1.3zM391.6 384.7h1.3v1.3h-1.3zM384.9 381.5h1.3v1.3h-1.3z"/>
<path fill="#cc2619" fill-opacity="0.2" d="M405.3 483.9h1.3v1.3h-1.3zM407.4 489.7h1.3v1.3h-1.3zM436.9 495.6h1.3v1.3h-1.3zM423.4 492.3h1.3v1.3h-1.3zM407.9 498.2h1.3v1.3h-1.3zM420.0 487.1h1.3v1.3h-1.3zM402.8 496.7h1.3v1.3h-1.3zM404.2 492.6h1.3v1.3h-1.3zM406.8 489.3h1.3v1.3h-1.3zM418.1 499.1h1.3v1.3h-1.3zM420.9 494.9h1.3v1.3h-1.3zM416.2 488.8h1.3v1.3h-1.3zM415.6 489.7h1.3v1.3h-1.3zM411.1 490.9h1.3v1.3h-1.3zM425.7 494.4h1.3v1.3h-1.3zM416.9 492.2h1.3v1.3h-1.3zM411.7 495.3h1.3v1.3h-1.3zM411.2 495.0h1.3v1.3h-1.3zM399.6 489.9h1.3v1.3h-1.3zM418.6 495.0h1.3v1.3h-1.3zM410.1 495.1h1.3v1.3h-1.3zM412.1 489.9h1.3v1.3h-1.3zM414.1 485.5h1.3v1.3h-1.3zM410.1 500.0h1.3v1.3h-1.3zM416.3 485.3h1.3v1.3h-1.3zM404.7 496.3h1.3v1.3h-1.3zM403.3 473.7h1.3v1.3h-1.3zM415.4 491.3h1.3v1.3h-1.3zM421.5 496.6h1.3v1.3h-1.3zM435.9 492.5h1.3v1.3h-1.3zM404.4 490.7h1.3v1.3h-1.3zM399.7 494.7h1.3v1.3h-1.3zM421.3 489.3h1.3v1.3h-1.3zM415.1 491.5h1.3v1.3h-1.3zM429.7 500.5h1.3v1.3h-1.3zM413.8 485.0h1.3v1.3h-1.3zM412.2 492.4h1.3v1.3h-1.3zM421.7 499.5h1.3v1.3h-1.3zM418.9 495.6h1.3v1.3h-1.3zM409.5 497.1h1.3v1.3h-1.3zM426.0 494.3h1.3v1.3h-1.3zM409.4 482.9h1.3v1.3h-1.3zM421.0 487.0h1.3v1.3h-1.3zM406.3 486.6h1.3v1.3h-1.3zM415.3 493.4h1.3v1.3h-1.3zM414.2 494.9h1.3v1.3h-1.3zM413.0 488.5h1.3v1.3h-1.3zM420.8 502.3h1.3v1.3h-1.3zM414.0 485.8h1.3v1.3h-1.3zM421.8 490.6h1.3v1.3h-1.3zM417.9 494.4h1.3v1.3h-1.3zM426.5 494.4h1.3v1.3h-1.3zM425.8 491.6h1.3v1.3h-1.3zM426.8 494.1h1.3v1.3h-1.3zM406.9 495.0h1.3v1.3h-1.3zM419.2 482.0h1.3v1.3h-1.3zM433.9 494.0h1.3v1.3h-1.3zM394.7 499.3h1.3v1.3h-1.3zM410.7 484.2h1.3v1.3h-1.3zM417.5 492.5h1.3v1.3h-1.3zM410.1 495.1h1.3v1.3h-1.3zM413.3 483.6h1.3v1.3h-1.3zM410.5 489.6h1.3v1.3h-1.3zM419.1 497.2h1.3v1.3h-1.3zM427.0 496.2h1.3v1.3h-1.3zM403.6 492.1h1.3v1.3h-1.3zM415.4 500.9h1.3v1.3h-1.3zM417.7 493.5h1.3v1.3h-1.3zM419.1 496.9h1.3v1.3h-1.3zM408.5 498.4h1.3v1.3h-1.3zM409.0 493.9h1.3v1.3h-1.3zM419.4 498.8h1.3v1.3h-1.3zM410.4 494.8h1.3v1.3h-1.3zM424.6 496.8h1.3v1.3h-1.3zM413.7 490.9h1.3v1.3h-1.3zM411.1 493.6h1.3v1.3h-1.3zM412.6 481.3h1.3v1.3h-1.3zM405.8 494.2h1.3v1.3h-1.3zM417.3 498.0h1.3v1.3h-1.3zM418.3 493.5h1.3v1.3h-1.3zM393.2 493.3h1.3v1.3h-1.3zM407.9 484.3h1.3v1.3h-1.3zM420.8 493.5h1.3v1.3h-1.3zM425.2 500.8h1.3v1.3h-1.3zM414.6 487.6h1.3v1.3h-1.3zM426.9 495.6h1.3v1.3h-1.3zM419.3 497.5h1.3v1.3h-1.3zM413.3 499.1h1.3v1.3h-1.3zM432.1 500.8h1.3v1.3h-1.3zM417.0 482.8h1.3v1.3h-1.3zM418.5 492.3h1.3v1.3h-1.3zM406.0 490.6h1.3v1.3h-1.3zM401.3 492.8h1.3v1.3h-1.3zM416.8 497.2h1.3v1.3h-1.3zM419.2 498.7h1.3v1.3h-1.3zM413.0 483.5h1.3v1.3h-1.3zM412.1 496.7h1.3v1.3h-1.3zM414.9 486.7h1.3v1.3h-1.3zM417.7 489.1h1.3v1.3h-1.3zM409.5 500.7h1.3v1.3h-1.3zM403.3 492.9h1.3v1.3h-1.3zM415.8 483.0h1.3v1.3h-1.3zM412.9 492.8h1.3v1.3h-1.3zM428.0 494.8h1.3v1.3h-1.3zM401.2 492.2h1.3v1.3h-1.3zM406.1 498.7h1.3v1.3h-1.3zM418.8 495.5h1.3v1.3h-1.3zM414.6 497.5h1.3v1.3h-1.3zM415.6 481.5h1.3v1.3h-1.3zM427.9 488.9h1.3v1.3h-1.3zM414.9 486.2h1.3v1.3h-1.3zM401.4 493.3h1.3v1.3h-1.3zM423.5 496.3h1.3v1.3h-1.3zM421.7 493.1h1.3v1.3h-1.3zM412.2 488.3h1.3v1.3h-1.3zM396.9 492.6h1.3v1.3h-1.3zM420.5 491.0h1.3v1.3h-1.3zM408.8 490.8h1.3v1.3h-1.3zM414.4 490.0h1.3v1.3h-1.3zM415.6 497.3h1.3v1.3h-1.3zM418.4 488.1h1.3v1.3h-1.3zM422.9 498.0h1.3v1.3h-1.3zM414.2 499.4h1.3v1.3h-1.3zM408.6 500.2h1.3v1.3h-1.3zM417.9 492.3h1.3v1.3h-1.3zM415.7 490.7h1.3v1.3h-1.3zM413.3 492.8h1.3v1.3h-1.3zM432.4 486.7h1.3v1.3h-1.3zM407.8 497.3h1.3v1.3h-1.3zM422.1 495.5h1.3v1.3h-1.3zM414.9 498.9h1.3v1.3h-1.3zM414.0 497.5h1.3v1.3h-1.3zM409.1 494.7h1.3v1.3h-1.3zM419.7 489.4h1.3v1.3h-1.3zM408.4 495.6h1.3v1.3h-1.3zM411.1 484.6h1.3v1.3h-1.3zM410.2 491.2h1.3v1.3h-1.3z"/>
<path fill="#cc2619" fill-opacity="0.2" d="M60.1 61.9h1.5v1.5h-1.5zM56.9 58.8h1.5v1.5h-1.5zM46.8 55.5h1.5v1.5h-1.5zM54.5 62.5h1.5v1.5h-1.5zM53.3 50.9h1.5v1.5h-1.5zM60.2 56.8h1.5v1.5h-1.5zM61.8 62.2h1.5v1.5h-1.5zM53.6 65.3h1.5v1.5h-1.5zM52.7 46.2h1.5v1.5h-1.5zM52.6 58.4h1.5v1.5h-1.5zM49.7 58.8h1.5v1.5h-1.5zM54.8 56.1h1.5v1.5h-1.5zM53.5 58.8h1.5v1.5h-1.5zM55.6 59.2h1.5v1.5h-1.5zM52.4 58.5h1.5v1.5h-1.5zM54.1 64.1h1.5v1.5h-1.5zM54.7 63.0h1.5v1.5h-1.5zM53.1 64.5h1.5v1.5h-1.5zM57.4 58.4h1.5v1.5h-1.5zM55.3 60.5h1.5v1.5h-1.5zM60.8 55.0h1.5v1.5h-1.5zM55.9 56.9h1.5v1.5h-1.5zM49.2 61.8h1.5v1.5h-1.5zM48.4 57.7h1.5v1.5h-1.5zM57.7 69.0h1.5v1.5h-1.5zM50.1 55.6h1.5v1.5h-1.5zM51.0 56.6h1.5v1.5h-1.5zM57.1 59.5h1.5v1.5h-1.5zM53.1 59.5h1.5v1.5h-1.5zM52.6 57.5h1.5v1.5h-1.5zM53.1 54.8h1.5v1.5h-1.5zM53.0 56.1h1.5v1.5h-1.5zM58.9 64.3h1.5v1.5h-1.5zM56.0 56.3h1.5v1.5h-1.5zM62.6 61.5h1.5v1.5h-1.5zM54.9 51.1h1.5v1.5h-1.5zM55.8 54.4h1.5v1.5h-1.5zM61.7 56.6h1.5v1.5h-1.5zM55.1 47.8h1.5v1.5h-1.5zM59.1 55.9h1.5v1.5h-1.5zM59.8 61.5h1.5v1.5h-1.5zM54.0 59.3h1.5v1.5h-1.5zM51.8 67.4h1.5v1.5h-1.5zM48.2 51.4h1.5v1.5h-1.5zM54.8 56.2h1.5v1.5h-1.5zM54.5 57.8h1.5v1.5h-1.5zM57.0 56.3h1.5v1.5h-1.5zM56.0 59.0h1.5v1.5h-1.5zM54.7 57.0h1.5v1.5h-1.5zM59.6 52.5h1.5v1.5h-1.5zM49.6 58.8h1.5v1.5h-1.5zM55.5 63.7h1.5v1.5h-1.5zM57.1 63.1h1.5v1.5h-1.5zM58.4 64.4h1.5v1.5h-1.5zM51.0 59.4h1.5v1.5h-1.5zM49.1 69.0h1.5v1.5h-1.5zM65.3 54.9h1.5v1.5h-1.5zM53.7 60.8h1.5v1.5h-1.5zM58.9 67.4h1.5v1.5h-1.5zM53.4 61.4h1.5v1.5h-1.5zM57.5 58.3h1.5v1.5h-1.5zM50.9 57.4h1.5v1.5h-1.5zM57.2 62.8h1.5v1.5h-1.5zM55.9 53.4h1.5v1.5h-1.5zM55.2 58.6h1.5v1.5h-1.5zM58.1 62.5h1.5v1.5h-1.5zM52.2 55.4h1.5v1.5h-1.5zM53.6 67.9h1.5v1.5h-1.5zM58.2 53.7h1.5v1.5h-1.5zM59.2 65.1h1.5v1.5h-1.5zM49.7 54.4h1.5v1.5h-1.5zM54.3 53.1h1.5v1.5h-1.5zM49.0 65.3h1.5v1.5h-1.5zM63.5 53.9h1.5v1.5h-1.5zM53.8 62.4h1.5v1.5h-1.5zM56.9 66.0h1.5v1.5h-1.5zM57.6 58.5h1.5v1.5h-1.5zM50.0 61.1h1.5v1.5h-1.5zM50.4 62.3h1.5v1.5h-1.5zM51.1 63.9h1.5v1.5h-1.5zM61.5 58.1h1.5v1.5h-1.5zM58.8 58.1h1.5v1.5h-1.5zM56.3 61.9h1.5v1.5h-1.5zM55.5 67.4h1.5v1.5h-1.5zM55.6 65.3h1.5v1.5h-1.5zM58.5 57.0h1.5v1.5h-1.5zM55.4 69.3h1.5v1.5h-1.5zM56.2 59.0h1.5v1.5h-1.5zM59.5 47.6h1.5v1.5h-1.5zM53.7 63.6h1.5v1.5h-1.5zM55.8 62.4h1.5v1.5h-1.5zM55.3 54.1h1.5v1.5h-1.5zM53.4 63.5h1.5v1.5h-1.5zM66.1 50.3h1.5v1.5h-1.5zM53.4 62.7h1.5v1.5h-1.5zM53.9 67.6h1.5v1.5h-1.5zM56.9 57.5h1.5v1.5h-1.5zM57.6 61.9h1.5v1.5h-1.5zM58.5 51.1h1.5v1.5h-1.5zM58.7 57.7h1.5v1.5h-1.5zM55.9 59.6h1.5v1.5h-1.5zM56.1 54.9h1.5v1.5h-1.5zM56.3 62.7h1.5v1.5h-1.5zM62.0 65.5h1.5v1.5h-1.5zM50.5 61.7h1.5v1.5h-1.5zM56.3 64.8h1.5v1.5h-1.5zM54.5 70.6h1.5v1.5h-1.5zM59.0 53.5h1.5v1.5h-1.5zM48.8 56.2h1.5v1.5h-1.5zM58.0 61.6h1.5v1.5h-1.5zM59.9 53.5h1.5v1.5h-1.5zM53.2 63.6h1.5v1.5h-1.5zM54.9 59.4h1.5v1.5h-1.5zM57.2 58.3h1.5v1.5h-1.5zM55.5 56.4h1.5v1.5h-1.5zM49.9 60.9h1.5v1.5h-1.5zM56.0 62.8h1.5v1.5h-1.5zM55.0 59.6h1.5v1.5h-1.5zM49.6 66.0h1.5v1.5h-1.5zM55.5 64.3h1.5v1.5h-1.5zM51.0 62.8h1.5v1.5h-1.5zM55.0 60.7h1.5v1.5h-1.5zM49.4 71.0h1.5v1.5h-1.5zM50.9 56.7h1.5v1.5h-1.5zM53.0 66.6h1.5v1.5h-1.5zM58.0 64.6h1.5v1.5h-1.5zM53.2 59.3h1.5v1.5h-1.5zM51.1 59.2h1.5v1.5h-1.5zM59.1 59.6h1.5v1.5h-1.5zM55.3 61.4h1.5v1.5h-1.5zM402.1 58.1h1.5v1.5h-1.5zM388.8 51.3h1.5v1.5h-1.5zM390.3 58.4h1.5v1.5h-1.5zM393.4 63.8h1.5v1.5h-1.5zM397.6 60.8h1.5v1.5h-1.5zM390.1 61.7h1.5v1.5h-1.5zM390.3 59.3h1.5v1.5h-1.5zM387.5 68.4h1.5v1.5h-1.5zM394.0 56.5h1.5v1.5h-1.5zM389.9 63.2h1.5v1.5h-1.5zM381.6 65.9h1.5v1.5h-1.5zM383.6 64.8h1.5v1.5h-1.5zM395.0 59.7h1.5v1.5h-1.5zM392.7 67.3h1.5v1.5h-1.5zM385.3 65.7h1.5v1.5h-1.5zM398.5 68.8h1.5v1.5h-1.5zM384.2 50.5h1.5v1.5h-1.5zM386.6 57.8h1.5v1.5h-1.5zM396.5 60.0h1.5v1.5h-1.5zM398.7 56.3h1.5v1.5h-1.5zM385.1 63.6h1.5v1.5h-1.5zM382.3 71.8h1.5v1.5h-1.5zM384.0 65.7h1.5v1.5h-1.5zM391.1 71.7h1.5v1.5h-1.5zM401.3 63.4h1.5v1.5h-1.5zM391.4 66.2h1.5v1.5h-1.5zM388.2 68.5h1.5v1.5h-1.5zM380.6 59.1h1.5v1.5h-1.5zM380.3 64.1h1.5v1.5h-1.5zM397.3 65.0h1.5v1.5h-1.5zM387.2 62.3h1.5v1.5h-1.5zM397.2 61.9h1.5v1.5h-1.5zM385.2 63.7h1.5v1.5h-1.5zM388.4 61.2h1.5v1.5h-1.5zM384.0 73.6h1.5v1.5h-1.5zM395.8 67.7h1.5v1.5h-1.5zM395.4 57.7h1.5v1.5h-1.5zM388.1 62.2h1.5v1.5h-1.5zM388.3 66.8h1.5v1.5h-1.5zM388.7 70.6h1.5v1.5h-1.5zM388.8 64.1h1.5v1.5h-1.5zM395.1 64.9h1.5v1.5h-1.5zM382.3 65.9h1.5v1.5h-1.5zM384.9 71.5h1.5v1.5h-1.5zM400.8 58.7h1.5v1.5h-1.5zM394.7 61.5h1.5v1.5h-1.5zM395.6 72.6h1.5v1.5h-1.5zM391.3 59.3h1.5v1.5h-1.5zM396.6 63.4h1.5v1.5h-1.5zM390.5 66.3h1.5v1.5h-1.5zM384.7 66.7h1.5v1.5h-1.5zM388.9 55.5h1.5v1.5h-1.5zM392.8 55.1h1.5v1.5h-1.5zM384.7 66.0h1.5v1.5h-1.5zM383.9 67.4h1.5v1.5h-1.5zM381.5 63.9h1.5v1.5h-1.5zM394.1 60.9h1.5v1.5h-1.5zM385.6 62.0h1.5v1.5h-1.5zM382.1 60.4h1.5v1.5h-1.5zM386.3 58.4h1.5v1.5h-1.5zM392.9 66.8h1.5v1.5h-1.5zM388.6 66.4h1.5v1.5h-1.5zM397.6 59.7h1.5v1.5h-1.5zM402.7 59.0h1.5v1.5h-1.5zM388.5 67.5h1.5v1.5h-1.5zM383.1 63.4h1.5v1.5h-1.5zM387.0 64.3h1.5v1.5h-1.5zM399.8 58.7h1.5v1.5h-1.5zM384.2 60.8h1.5v1.5h-1.5zM383.1 59.7h1.5v1.5h-1.5zM382.2 68.8h1.5v1.5h-1.5zM389.0 68.0h1.5v1.5h-1.5zM393.8 56.3h1.5v1.5h-1.5zM390.9 67.5h1.5v1.5h-1.5zM385.7 62.9h1.5v1.5h-1.5zM388.7 56.3h1.5v1.5h-1.5zM385.7 66.6h1.5v1.5h-1.5zM390.8 66.3h1.5v1.5h-1.5zM406.5 58.0h1.5v1.5h-1.5zM419.1 52.2h1.5v1.5h-1.5zM412.3 53.4h1.5v1.5h-1.5zM413.8 67.7h1.5v1.5h-1.5zM421.5 54.8h1.5v1.5h-1.5zM412.9 48.8h1.5v1.5h-1.5zM415.6 57.3h1.5v1.5h-1.5zM426.7 52.4h1.5v1.5h-1.5zM406.6 57.0h1.5v1.5h-1.5zM418.7 51.8h1.5v1.5h-1.5zM418.7 57.3h1.5v1.5h-1.5zM417.7 56.5h1.5v1.5h-1.5zM406.7 63.6h1.5v1.5h-1.5zM412.1 60.4h1.5v1.5h-1.5zM414.8 72.8h1.5v1.5h-1.5zM425.5 63.9h1.5v1.5h-1.5zM419.3 58.3h1.5v1.5h-1.5zM423.1 52.8h1.5v1.5h-1.5zM405.5 68.2h1.5v1.5h-1.5zM414.8 67.1h1.5v1.5h-1.5zM415.6 65.8h1.5v1.5h-1.5zM421.7 60.0h1.5v1.5h-1.5zM412.0 63.6h1.5v1.5h-1.5zM421.8 50.2h1.5v1.5h-1.5zM415.2 61.1h1.5v1.5h-1.5zM414.6 56.3h1.5v1.5h-1.5zM415.6 67.8h1.5v1.5h-1.5zM408.5 74.2h1.5v1.5h-1.5zM416.6 65.9h1.5v1.5h-1.5zM418.0 69.5h1.5v1.5h-1.5zM406.3 61.6h1.5v1.5h-1.5zM419.7 56.5h1.5v1.5h-1.5zM401.4 60.4h1.5v1.5h-1.5zM402.3 54.5h1.5v1.5h-1.5zM407.3 53.6h1.5v1.5h-1.5zM410.4 60.7h1.5v1.5h-1.5zM402.6 55.0h1.5v1.5h-1.5zM413.6 46.2h1.5v1.5h-1.5zM412.8 73.2h1.5v1.5h-1.5zM413.7 62.1h1.5v1.5h-1.5zM417.2 62.2h1.5v1.5h-1.5zM414.9 71.6h1.5v1.5h-1.5zM401.1 60.5h1.5v1.5h-1.5zM411.0 63.9h1.5v1.5h-1.5zM412.3 65.1h1.5v1.5h-1.5zM414.9 47.2h1.5v1.5h-1.5zM406.0 59.1h1.5v1.5h-1.5zM404.7 57.6h1.5v1.5h-1.5zM418.8 51.5h1.5v1.5h-1.5zM406.6 63.6h1.5v1.5h-1.5zM409.8 62.0h1.5v1.5h-1.5zM423.2 66.3h1.5v1.5h-1.5zM409.8 62.6h1.5v1.5h-1.5zM414.5 61.6h1.5v1.5h-1.5zM406.2 64.6h1.5v1.5h-1.5zM422.0 56.2h1.5v1.5h-1.5zM406.7 65.8h1.5v1.5h-1.5zM416.8 61.7h1.5v1.5h-1.5zM405.8 64.2h1.5v1.5h-1.5zM407.4 49.1h1.5v1.5h-1.5zM409.4 65.9h1.5v1.5h-1.5zM416.3 65.0h1.5v1.5h-1.5zM417.4 71.7h1.5v1.5h-1.5zM405.7 53.9h1.5v1.5h-1.5zM419.5 64.0h1.5v1.5h-1.5zM410.8 57.8h1.5v1.5h-1.5zM411.6 60.9h1.5v1.5h-1.5zM408.3 54.8h1.5v1.5h-1.5zM412.2 59.9h1.5v1.5h-1.5zM407.8 59.6h1.5v1.5h-1.5zM415.4 78.9h1.5v1.5h-1.5zM404.0 59.9h1.5v1.5h-1.5zM400.6 61.7h1.5v1.5h-1.5zM416.8 67.2h1.5v1.5h-1.5zM412.1 57.7h1.5v1.5h-1.5zM391.8 85.8h1.5v1.5h-1.5zM386.0 78.4h1.5v1.5h-1.5zM383.8 89.6h1.5v1.5h-1.5zM390.5 84.9h1.5v1.5h-1.5zM385.3 87.4h1.5v1.5h-1.5zM387.6 78.4h1.5v1.5h-1.5zM379.1 85.2h1.5v1.5h-1.5zM382.8 73.0h1.5v1.5h-1.5zM391.9 76.4h1.5v1.5h-1.5zM387.6 85.6h1.5v1.5h-1.5zM386.6 89.9h1.5v1.5h-1.5zM388.1 84.9h1.5v1.5h-1.5zM393.0 82.9h1.5v1.5h-1.5zM390.1 76.4h1.5v1.5h-1.5zM386.7 79.8h1.5v1.5h-1.5zM385.9 86.9h1.5v1.5h-1.5zM392.3 81.6h1.5v1.5h-1.5zM389.2 79.1h1.5v1.5h-1.5zM389.9 74.3h1.5v1.5h-1.5zM388.6 84.4h1.5v1.5h-1.5zM385.1 75.6h1.5v1.5h-1.5zM383.2 88.7h1.5v1.5h-1.5zM385.2 85.8h1.5v1.5h-1.5zM390.4 77.5h1.5v1.5h-1.5zM389.0 72.6h1.5v1.5h-1.5zM384.5 75.6h1.5v1.5h-1.5zM390.4 79.0h1.5v1.5h-1.5zM398.0 78.7h1.5v1.5h-1.5zM388.0 81.5h1.5v1.5h-1.5zM398.8 81.2h1.5v1.5h-1.5zM379.6 70.9h1.5v1.5h-1.5zM390.6 84.8h1.5v1.5h-1.5zM385.9 83.1h1.5v1.5h-1.5zM392.6 90.2h1.5v1.5h-1.5zM383.1 80.9h1.5v1.5h-1.5zM381.7 85.5h1.5v1.5h-1.5zM386.8 76.4h1.5v1.5h-1.5zM391.8 83.9h1.5v1.5h-1.5zM387.3 84.2h1.5v1.5h-1.5zM386.8 80.5h1.5v1.5h-1.5zM395.7 90.2h1.5v1.5h-1.5zM393.1 80.6h1.5v1.5h-1.5zM384.5 82.4h1.5v1.5h-1.5zM383.6 71.4h1.5v1.5h-1.5zM381.5 77.2h1.5v1.5h-1.5zM398.2 81.9h1.5v1.5h-1.5zM386.9 80.8h1.5v1.5h-1.5zM384.1 88.3h1.5v1.5h-1.5zM390.7 89.9h1.5v1.5h-1.5zM382.8 76.6h1.5v1.5h-1.5zM396.8 74.3h1.5v1.5h-1.5zM387.2 83.7h1.5v1.5h-1.5zM385.5 73.4h1.5v1.5h-1.5zM387.5 86.3h1.5v1.5h-1.5zM390.0 78.8h1.5v1.5h-1.5zM397.9 88.1h1.5v1.5h-1.5zM393.8 152.8h1.5v1.5h-1.5zM399.4 163.9h1.5v1.5h-1.5zM388.6 167.4h1.5v1.5h-1.5zM412.7 174.1h1.5v1.5h-1.5zM405.6 172.7h1.5v1.5h-1.5zM406.8 168.0h1.5v1.5h-1.5zM395.8 166.7h1.5v1.5h-1.5zM403.3 177.3h1.5v1.5h-1.5zM380.1 165.1h1.5v1.5h-1.5zM395.2 169.7h1.5v1.5h-1.5zM412.3 171.3h1.5v1.5h-1.5zM407.7 174.2h1.5v1.5h-1.5zM403.2 172.2h1.5v1.5h-1.5zM402.4 163.8h1.5v1.5h-1.5zM388.0 175.7h1.5v1.5h-1.5zM401.4 170.3h1.5v1.5h-1.5zM414.9 166.8h1.5v1.5h-1.5zM390.2 165.7h1.5v1.5h-1.5zM407.4 164.3h1.5v1.5h-1.5zM405.7 166.8h1.5v1.5h-1.5zM405.8 178.8h1.5v1.5h-1.5zM398.0 156.2h1.5v1.5h-1.5zM408.5 164.7h1.5v1.5h-1.5zM406.9 162.6h1.5v1.5h-1.5zM387.5 165.8h1.5v1.5h-1.5zM406.0 175.4h1.5v1.5h-1.5zM394.0 169.2h1.5v1.5h-1.5zM399.7 173.1h1.5v1.5h-1.5zM430.7 171.9h1.5v1.5h-1.5zM405.0 172.3h1.5v1.5h-1.5zM393.6 164.7h1.5v1.5h-1.5zM409.0 176.6h1.5v1.5h-1.5zM397.5 169.3h1.5v1.5h-1.5zM400.5 167.4h1.5v1.5h-1.5zM414.8 178.2h1.5v1.5h-1.5zM395.4 172.3h1.5v1.5h-1.5zM397.5 167.5h1.5v1.5h-1.5zM395.7 170.7h1.5v1.5h-1.5zM395.2 163.3h1.5v1.5h-1.5zM398.2 173.4h1.5v1.5h-1.5zM396.3 166.8h1.5v1.5h-1.5zM415.5 160.0h1.5v1.5h-1.5zM403.5 172.2h1.5v1.5h-1.5zM401.8 171.5h1.5v1.5h-1.5zM426.5 172.4h1.5v1.5h-1.5zM395.6 180.9h1.5v1.5h-1.5zM389.7 164.3h1.5v1.5h-1.5zM396.3 176.0h1.5v1.5h-1.5zM401.0 172.7h1.5v1.5h-1.5zM394.9 170.2h1.5v1.5h-1.5zM395.5 168.3h1.5v1.5h-1.5zM402.9 175.9h1.5v1.5h-1.5zM408.6 175.3h1.5v1.5h-1.5zM401.8 168.8h1.5v1.5h-1.5zM398.9 169.8h1.5v1.5h-1.5zM400.6 176.1h1.5v1.5h-1.5zM389.9 179.5h1.5v1.5h-1.5zM410.9 172.3h1.5v1.5h-1.5zM394.3 174.5h1.5v1.5h-1.5zM404.2 174.8h1.5v1.5h-1.5zM382.4 166.5h1.5v1.5h-1.5zM408.3 168.0h1.5v1.5h-1.5zM408.0 172.9h1.5v1.5h-1.5zM398.2 165.7h1.5v1.5h-1.5zM394.6 173.4h1.5v1.5h-1.5zM410.0 164.8h1.5v1.5h-1.5zM389.4 173.4h1.5v1.5h-1.5zM410.6 173.6h1.5v1.5h-1.5zM410.2 165.7h1.5v1.5h-1.5zM396.1 166.4h1.5v1.5h-1.5zM386.0 174.0h1.5v1.5h-1.5zM392.4 171.7h1.5v1.5h-1.5zM405.3 175.5h1.5v1.5h-1.5zM390.7 177.2h1.5v1.5h-1.5zM410.1 181.0h1.5v1.5h-1.5zM403.5 179.3h1.5v1.5h-1.5zM391.3 163.1h1.5v1.5h-1.5zM405.6 162.6h1.5v1.5h-1.5zM406.7 175.6h1.5v1.5h-1.5zM421.7 178.8h1.5v1.5h-1.5zM396.1 178.8h1.5v1.5h-1.5zM409.9 164.7h1.5v1.5h-1.5zM410.3 168.3h1.5v1.5h-1.5zM407.8 164.5h1.5v1.5h-1.5zM395.1 176.5h1.5v1.5h-1.5zM398.8 168.5h1.5v1.5h-1.5zM393.5 165.3h1.5v1.5h-1.5zM396.5 172.6h1.5v1.5h-1.5zM398.4 169.8h1.5v1.5h-1.5zM414.2 187.4h1.5v1.5h-1.5zM422.4 175.0h1.5v1.5h-1.5zM391.1 171.4h1.5v1.5h-1.5zM412.9 181.6h1.5v1.5h-1.5zM405.7 179.6h1.5v1.5h-1.5zM394.6 171.6h1.5v1.5h-1.5zM404.4 174.1h1.5v1.5h-1.5zM427.8 178.5h1.5v1.5h-1.5zM401.7 185.9h1.5v1.5h-1.5zM399.5 178.5h1.5v1.5h-1.5zM406.8 178.9h1.5v1.5h-1.5zM399.6 172.6h1.5v1.5h-1.5zM406.8 176.3h1.5v1.5h-1.5zM404.1 172.4h1.5v1.5h-1.5zM391.2 177.5h1.5v1.5h-1.5zM401.3 179.7h1.5v1.5h-1.5zM392.6 162.7h1.5v1.5h-1.5zM425.7 170.0h1.5v1.5h-1.5zM394.0 177.8h1.5v1.5h-1.5zM416.6 166.9h1.5v1.5h-1.5zM401.5 159.1h1.5v1.5h-1.5zM390.8 171.3h1.5v1.5h-1.5zM385.1 174.9h1.5v1.5h-1.5zM396.2 172.4h1.5v1.5h-1.5zM403.9 169.0h1.5v1.5h-1.5zM416.9 167.4h1.5v1.5h-1.5zM405.0 175.5h1.5v1.5h-1.5zM405.3 173.2h1.5v1.5h-1.5zM396.9 172.1h1.5v1.5h-1.5zM397.5 165.0h1.5v1.5h-1.5zM391.6 174.7h1.5v1.5h-1.5zM393.9 181.9h1.5v1.5h-1.5zM407.8 179.6h1.5v1.5h-1.5zM411.7 178.1h1.5v1.5h-1.5zM396.5 174.0h1.5v1.5h-1.5zM401.2 168.9h1.5v1.5h-1.5zM402.2 165.8h1.5v1.5h-1.5zM401.3 173.6h1.5v1.5h-1.5zM403.0 169.7h1.5v1.5h-1.5zM404.3 167.7h1.5v1.5h-1.5zM390.2 166.9h1.5v1.5h-1.5zM395.6 165.9h1.5v1.5h-1.5zM390.6 173.0h1.5v1.5h-1.5zM388.2 165.5h1.5v1.5h-1.5zM391.6 182.4h1.5v1.5h-1.5zM413.1 170.3h1.5v1.5h-1.5zM390.4 161.1h1.5v1.5h-1.5zM398.7 160.7h1.5v1.5h-1.5zM411.6 172.5h1.5v1.5h-1.5zM411.1 166.0h1.5v1.5h-1.5zM399.7 168.2h1.5v1.5h-1.5zM404.6 173.1h1.5v1.5h-1.5zM400.7 180.1h1.5v1.5h-1.5zM398.7 168.3h1.5v1.5h-1.5zM415.2 166.9h1.5v1.5h-1.5zM409.9 166.4h1.5v1.5h-1.5zM394.9 169.8h1.5v1.5h-1.5zM388.7 176.6h1.5v1.5h-1.5zM416.8 170.0h1.5v1.5h-1.5zM407.7 181.3h1.5v1.5h-1.5zM405.7 169.4h1.5v1.5h-1.5zM419.3 165.9h1.5v1.5h-1.5zM400.6 170.1h1.5v1.5h-1.5zM415.3 161.7h1.5v1.5h-1.5zM417.5 179.4h1.5v1.5h-1.5zM403.3 167.7h1.5v1.5h-1.5zM402.5 177.2h1.5v1.5h-1.5zM390.3 164.1h1.5v1.5h-1.5zM389.6 171.4h1.5v1.5h-1.5zM398.9 173.6h1.5v1.5h-1.5zM394.8 172.8h1.5v1.5h-1.5zM407.1 175.0h1.5v1.5h-1.5zM383.9 170.6h1.5v1.5h-1.5zM413.6 175.2h1.5v1.5h-1.5zM393.4 173.0h1.5v1.5h-1.5zM401.8 165.8h1.5v1.5h-1.5zM406.2 180.9h1.5v1.5h-1.5zM403.5 170.0h1.5v1.5h-1.5zM399.5 163.6h1.5v1.5h-1.5zM404.2 167.2h1.5v1.5h-1.5zM398.2 158.0h1.5v1.5h-1.5zM403.8 181.3h1.5v1.5h-1.5zM386.3 178.3h1.5v1.5h-1.5zM396.7 181.7h1.5v1.5h-1.5zM403.4 179.5h1.5v1.5h-1.5zM394.4 169.4h1.5v1.5h-1.5zM411.5 171.5h1.5v1.5h-1.5zM413.2 167.1h1.5v1.5h-1.5zM414.3 166.4h1.5v1.5h-1.5zM385.5 180.4h1.5v1.5h-1.5zM394.7 165.0h1.5v1.5h-1.5zM395.9 168.4h1.5v1.5h-1.5zM389.7 169.4h1.5v1.5h-1.5zM407.5 168.3h1.5v1.5h-1.5zM394.4 174.2h1.5v1.5h-1.5zM408.7 167.6h1.5v1.5h-1.5zM403.5 170.4h1.5v1.5h-1.5zM408.2 163.8h1.5v1.5h-1.5zM409.0 170.7h1.5v1.5h-1.5zM393.9 178.0h1.5v1.5h-1.5zM396.6 179.6h1.5v1.5h-1.5zM404.8 163.7h1.5v1.5h-1.5zM407.9 179.4h1.5v1.5h-1.5zM415.9 165.0h1.5v1.5h-1.5zM395.8 165.4h1.5v1.5h-1.5zM412.9 175.6h1.5v1.5h-1.5zM398.8 173.0h1.5v1.5h-1.5zM410.6 173.8h1.5v1.5h-1.5zM408.3 176.4h1.5v1.5h-1.5z"/>
<path fill="#cc2619" fill-opacity="0.22" d="M180.9 290.1h1.3v1.3h-1.3zM179.7 284.1h1.3v1.3h-1.3zM184.6 267.3h1.3v1.3h-1.3zM177.4 258.3h1.3v1.3h-1.3zM188.3 270.0h1.3v1.3h-1.3zM183.7 270.1h1.3v1.3h-1.3zM179.7 272.9h1.3v1.3h-1.3zM175.8 262.8h1.3v1.3h-1.3zM183.3 272.2h1.3v1.3h-1.3zM178.1 282.0h1.3v1.3h-1.3zM179.1 260.8h1.3v1.3h-1.3zM177.2 277.8h1.3v1.3h-1.3zM179.5 267.8h1.3v1.3h-1.3zM177.8 269.2h1.3v1.3h-1.3zM190.5 277.1h1.3v1.3h-1.3zM180.1 266.1h1.3v1.3h-1.3zM181.6 267.7h1.3v1.3h-1.3zM185.2 279.1h1.3v1.3h-1.3zM181.0 281.7h1.3v1.3h-1.3zM175.1 269.0h1.3v1.3h-1.3zM180.2 283.4h1.3v1.3h-1.3zM174.4 276.2h1.3v1.3h-1.3zM183.6 273.6h1.3v1.3h-1.3zM184.2 268.9h1.3v1.3h-1.3zM187.8 260.6h1.3v1.3h-1.3zM181.2 287.6h1.3v1.3h-1.3zM182.1 270.2h1.3v1.3h-1.3zM187.9 284.9h1.3v1.3h-1.3zM184.8 271.4h1.3v1.3h-1.3zM182.7 268.8h1.3v1.3h-1.3zM178.8 276.1h1.3v1.3h-1.3zM182.7 282.3h1.3v1.3h-1.3zM180.0 270.0h1.3v1.3h-1.3zM179.7 272.5h1.3v1.3h-1.3zM183.6 281.1h1.3v1.3h-1.3zM181.8 272.4h1.3v1.3h-1.3zM178.6 265.9h1.3v1.3h-1.3zM176.6 274.0h1.3v1.3h-1.3zM177.8 259.6h1.3v1.3h-1.3zM181.8 266.6h1.3v1.3h-1.3zM180.7 277.3h1.3v1.3h-1.3zM182.8 286.0h1.3v1.3h-1.3zM173.6 272.1h1.3v1.3h-1.3zM174.0 272.4h1.3v1.3h-1.3zM180.0 283.8h1.3v1.3h-1.3zM183.9 284.0h1.3v1.3h-1.3zM173.7 270.7h1.3v1.3h-1.3zM182.0 275.7h1.3v1.3h-1.3zM179.3 258.5h1.3v1.3h-1.3zM187.8 287.5h1.3v1.3h-1.3zM179.1 277.6h1.3v1.3h-1.3zM180.9 280.9h1.3v1.3h-1.3zM179.4 279.2h1.3v1.3h-1.3zM182.9 265.1h1.3v1.3h-1.3zM185.8 277.3h1.3v1.3h-1.3zM180.9 278.7h1.3v1.3h-1.3zM181.8 272.9h1.3v1.3h-1.3zM175.8 270.1h1.3v1.3h-1.3zM172.3 268.2h1.3v1.3h-1.3zM184.6 269.2h1.3v1.3h-1.3zM181.1 274.7h1.3v1.3h-1.3zM181.9 263.5h1.3v1.3h-1.3zM178.8 280.3h1.3v1.3h-1.3zM179.4 266.2h1.3v1.3h-1.3zM180.8 264.1h1.3v1.3h-1.3zM183.3 277.1h1.3v1.3h-1.3zM181.2 255.8h1.3v1.3h-1.3zM179.2 266.4h1.3v1.3h-1.3zM183.9 277.7h1.3v1.3h-1.3zM183.2 276.4h1.3v1.3h-1.3zM183.3 262.9h1.3v1.3h-1.3zM179.0 265.0h1.3v1.3h-1.3zM177.1 257.7h1.3v1.3h-1.3zM181.4 269.3h1.3v1.3h-1.3zM178.4 277.1h1.3v1.3h-1.3zM178.9 271.6h1.3v1.3h-1.3zM58.9 394.3h1.3v1.3h-1.3zM50.8 385.4h1.3v1.3h-1.3zM51.9 388.1h1.3v1.3h-1.3zM50.5 384.6h1.3v1.3h-1.3zM48.5 394.3h1.3v1.3h-1.3zM61.8 382.5h1.3v1.3h-1.3zM53.9 386.9h1.3v1.3h-1.3zM54.3 391.4h1.3v1.3h-1.3zM44.8 382.8h1.3v1.3h-1.3zM60.6 388.8h1.3v1.3h-1.3zM48.2 385.6h1.3v1.3h-1.3zM59.7 386.0h1.3v1.3h-1.3zM58.7 373.7h1.3v1.3h-1.3zM50.9 378.2h1.3v1.3h-1.3zM56.3 381.7h1.3v1.3h-1.3zM59.0 370.1h1.3v1.3h-1.3zM52.9 381.6h1.3v1.3h-1.3zM49.6 393.7h1.3v1.3h-1.3zM57.5 384.0h1.3v1.3h-1.3zM49.8 385.9h1.3v1.3h-1.3zM57.9 381.4h1.3v1.3h-1.3zM58.0 369.5h1.3v1.3h-1.3zM53.6 379.4h1.3v1.3h-1.3zM58.4 383.7h1.3v1.3h-1.3zM58.3 387.9h1.3v1.3h-1.3zM53.4 371.3h1.3v1.3h-1.3zM56.4 388.8h1.3v1.3h-1.3zM54.1 393.2h1.3v1.3h-1.3zM53.5 382.0h1.3v1.3h-1.3zM55.6 383.3h1.3v1.3h-1.3zM51.4 382.9h1.3v1.3h-1.3zM52.4 384.5h1.3v1.3h-1.3zM52.1 377.5h1.3v1.3h-1.3zM51.7 389.9h1.3v1.3h-1.3zM53.4 394.6h1.3v1.3h-1.3zM51.3 388.4h1.3v1.3h-1.3zM56.2 389.7h1.3v1.3h-1.3zM58.4 390.3h1.3v1.3h-1.3zM62.2 385.5h1.3v1.3h-1.3zM60.8 373.7h1.3v1.3h-1.3zM51.1 384.7h1.3v1.3h-1.3zM57.2 374.0h1.3v1.3h-1.3zM55.8 391.2h1.3v1.3h-1.3zM55.5 390.9h1.3v1.3h-1.3zM54.0 388.3h1.3v1.3h-1.3zM61.7 385.0h1.3v1.3h-1.3zM57.4 386.6h1.3v1.3h-1.3zM57.2 388.8h1.3v1.3h-1.3zM48.9 386.5h1.3v1.3h-1.3zM55.2 376.1h1.3v1.3h-1.3zM56.7 377.5h1.3v1.3h-1.3zM57.7 388.7h1.3v1.3h-1.3zM56.5 394.6h1.3v1.3h-1.3zM53.7 381.8h1.3v1.3h-1.3zM59.8 390.2h1.3v1.3h-1.3zM53.5 386.0h1.3v1.3h-1.3zM56.0 381.4h1.3v1.3h-1.3zM50.9 386.4h1.3v1.3h-1.3zM43.5 393.7h1.3v1.3h-1.3zM52.3 372.7h1.3v1.3h-1.3zM56.6 383.4h1.3v1.3h-1.3zM49.6 385.2h1.3v1.3h-1.3zM49.3 387.9h1.3v1.3h-1.3zM57.2 383.4h1.3v1.3h-1.3zM58.0 374.0h1.3v1.3h-1.3zM45.7 374.2h1.3v1.3h-1.3zM60.5 382.3h1.3v1.3h-1.3zM57.9 373.5h1.3v1.3h-1.3zM49.8 374.5h1.3v1.3h-1.3zM55.2 388.8h1.3v1.3h-1.3zM48.4 385.0h1.3v1.3h-1.3zM59.5 373.4h1.3v1.3h-1.3zM52.6 380.9h1.3v1.3h-1.3zM49.7 374.8h1.3v1.3h-1.3zM56.6 384.0h1.3v1.3h-1.3zM57.1 382.5h1.3v1.3h-1.3zM57.6 378.0h1.3v1.3h-1.3zM52.1 383.2h1.3v1.3h-1.3zM46.0 387.5h1.3v1.3h-1.3zM51.9 379.6h1.3v1.3h-1.3zM57.4 389.5h1.3v1.3h-1.3zM54.0 372.5h1.3v1.3h-1.3zM56.1 380.0h1.3v1.3h-1.3zM54.3 388.4h1.3v1.3h-1.3zM48.8 390.3h1.3v1.3h-1.3zM51.4 384.1h1.3v1.3h-1.3zM55.6 387.3h1.3v1.3h-1.3zM52.5 392.5h1.3v1.3h-1.3zM59.4 378.4h1.3v1.3h-1.3zM51.5 384.1h1.3v1.3h-1.3zM45.9 376.6h1.3v1.3h-1.3zM57.3 374.4h1.3v1.3h-1.3zM54.9 385.3h1.3v1.3h-1.3zM72.8 393.1h1.3v1.3h-1.3zM79.6 387.6h1.3v1.3h-1.3zM78.6 387.2h1.3v1.3h-1.3zM73.4 392.4h1.3v1.3h-1.3zM68.9 394.7h1.3v1.3h-1.3zM76.8 384.1h1.3v1.3h-1.3zM75.9 378.3h1.3v1.3h-1.3zM75.6 376.1h1.3v1.3h-1.3zM70.4 395.5h1.3v1.3h-1.3zM74.6 380.7h1.3v1.3h-1.3zM78.8 378.9h1.3v1.3h-1.3zM79.3 387.4h1.3v1.3h-1.3zM69.9 390.2h1.3v1.3h-1.3zM84.6 381.4h1.3v1.3h-1.3zM86.5 382.2h1.3v1.3h-1.3zM78.3 386.5h1.3v1.3h-1.3zM78.5 393.1h1.3v1.3h-1.3zM82.0 378.3h1.3v1.3h-1.3zM81.8 395.2h1.3v1.3h-1.3zM67.6 392.7h1.3v1.3h-1.3zM68.5 379.0h1.3v1.3h-1.3zM74.6 386.3h1.3v1.3h-1.3zM77.1 383.9h1.3v1.3h-1.3zM66.2 393.5h1.3v1.3h-1.3zM86.3 384.5h1.3v1.3h-1.3zM76.0 392.5h1.3v1.3h-1.3zM68.7 379.2h1.3v1.3h-1.3zM77.4 383.0h1.3v1.3h-1.3zM64.1 380.3h1.3v1.3h-1.3zM77.4 385.1h1.3v1.3h-1.3zM79.8 376.5h1.3v1.3h-1.3zM70.6 392.6h1.3v1.3h-1.3zM87.7 390.1h1.3v1.3h-1.3zM72.7 380.5h1.3v1.3h-1.3zM75.8 387.3h1.3v1.3h-1.3zM74.7 376.6h1.3v1.3h-1.3zM70.3 381.1h1.3v1.3h-1.3zM79.0 388.2h1.3v1.3h-1.3zM74.2 384.7h1.3v1.3h-1.3zM75.6 388.3h1.3v1.3h-1.3zM72.4 376.8h1.3v1.3h-1.3zM78.4 385.3h1.3v1.3h-1.3zM78.5 388.3h1.3v1.3h-1.3zM72.0 378.4h1.3v1.3h-1.3zM70.5 382.9h1.3v1.3h-1.3zM84.3 379.8h1.3v1.3h-1.3zM79.8 385.5h1.3v1.3h-1.3zM76.3 386.5h1.3v1.3h-1.3zM74.4 387.0h1.3v1.3h-1.3zM80.0 375.5h1.3v1.3h-1.3zM71.7 388.5h1.3v1.3h-1.3zM70.0 379.0h1.3v1.3h-1.3zM77.3 383.9h1.3v1.3h-1.3zM83.5 391.9h1.3v1.3h-1.3zM80.5 388.6h1.3v1.3h-1.3zM73.9 377.9h1.3v1.3h-1.3zM77.2 389.9h1.3v1.3h-1.3zM70.0 383.1h1.3v1.3h-1.3zM73.1 388.5h1.3v1.3h-1.3zM76.4 386.8h1.3v1.3h-1.3zM80.4 388.9h1.3v1.3h-1.3zM87.6 381.5h1.3v1.3h-1.3zM78.3 376.6h1.3v1.3h-1.3zM76.0 381.6h1.3v1.3h-1.3zM70.7 380.5h1.3v1.3h-1.3zM75.9 390.9h1.3v1.3h-1.3zM74.7 385.7h1.3v1.3h-1.3zM81.5 374.9h1.3v1.3h-1.3zM79.3 387.0h1.3v1.3h-1.3zM70.2 377.9h1.3v1.3h-1.3zM71.2 378.8h1.3v1.3h-1.3zM76.7 378.8h1.3v1.3h-1.3zM67.1 383.8h1.3v1.3h-1.3zM66.9 376.3h1.3v1.3h-1.3zM72.8 388.2h1.3v1.3h-1.3zM73.3 384.6h1.3v1.3h-1.3zM75.3 385.7h1.3v1.3h-1.3zM76.6 387.0h1.3v1.3h-1.3zM77.5 381.8h1.3v1.3h-1.3zM65.7 381.5h1.3v1.3h-1.3zM75.9 394.8h1.3v1.3h-1.3zM78.5 393.2h1.3v1.3h-1.3zM80.1 386.7h1.3v1.3h-1.3zM79.1 380.2h1.3v1.3h-1.3zM79.9 386.8h1.3v1.3h-1.3zM70.4 383.4h1.3v1.3h-1.3zM78.5 389.2h1.3v1.3h-1.3zM85.7 377.6h1.3v1.3h-1.3zM67.9 376.6h1.3v1.3h-1.3zM76.3 386.5h1.3v1.3h-1.3zM73.4 383.4h1.3v1.3h-1.3zM73.7 381.7h1.3v1.3h-1.3zM72.0 380.3h1.3v1.3h-1.3zM70.1 383.0h1.3v1.3h-1.3zM77.8 373.3h1.3v1.3h-1.3zM79.1 378.5h1.3v1.3h-1.3zM72.0 385.0h1.3v1.3h-1.3zM75.4 381.8h1.3v1.3h-1.3zM76.4 384.9h1.3v1.3h-1.3zM77.1 391.8h1.3v1.3h-1.3zM74.8 385.0h1.3v1.3h-1.3zM82.4 383.3h1.3v1.3h-1.3zM70.2 373.7h1.3v1.3h-1.3zM77.7 387.0h1.3v1.3h-1.3zM72.3 380.6h1.3v1.3h-1.3zM79.1 367.5h1.3v1.3h-1.3zM80.7 386.5h1.3v1.3h-1.3zM61.9 378.1h1.3v1.3h-1.3zM78.0 384.2h1.3v1.3h-1.3zM76.2 389.1h1.3v1.3h-1.3zM71.9 387.2h1.3v1.3h-1.3zM77.0 390.4h1.3v1.3h-1.3zM76.8 387.4h1.3v1.3h-1.3zM70.8 379.4h1.3v1.3h-1.3zM73.9 382.5h1.3v1.3h-1.3zM69.3 386.3h1.3v1.3h-1.3zM73.9 381.3h1.3v1.3h-1.3zM69.0 387.2h1.3v1.3h-1.3zM84.4 383.9h1.3v1.3h-1.3zM75.6 388.3h1.3v1.3h-1.3zM71.6 391.6h1.3v1.3h-1.3zM70.8 385.8h1.3v1.3h-1.3zM74.7 381.3h1.3v1.3h-1.3zM79.0 390.2h1.3v1.3h-1.3zM71.5 383.7h1.3v1.3h-1.3zM76.3 390.1h1.3v1.3h-1.3zM84.0 393.3h1.3v1.3h-1.3zM74.1 380.6h1.3v1.3h-1.3zM80.0 388.9h1.3v1.3h-1.3zM66.1 392.6h1.3v1.3h-1.3zM70.1 383.9h1.3v1.3h-1.3zM69.2 378.1h1.3v1.3h-1.3zM76.4 385.0h1.3v1.3h-1.3zM73.8 393.8h1.3v1.3h-1.3zM75.1 374.9h1.3v1.3h-1.3zM79.9 385.8h1.3v1.3h-1.3z"/>
<path fill="#cc2619" fill-opacity="0.25" d="M184.8 173.6h1.2v1.2h-1.2zM179.5 166.1h1.2v1.2h-1.2zM186.8 171.1h1.2v1.2h-1.2zM181.4 162.8h1.2v1.2h-1.2zM184.2 179.9h1.2v1.2h-1.2zM174.7 153.6h1.2v1.2h-1.2zM176.0 162.8h1.2v1.2h-1.2zM178.6 164.5h1.2v1.2h-1.2zM180.8 163.6h1.2v1.2h-1.2zM187.6 167.2h1.2v1.2h-1.2zM185.0 168.4h1.2v1.2h-1.2zM180.7 155.0h1.2v1.2h-1.2zM178.3 158.2h1.2v1.2h-1.2zM182.7 163.5h1.2v1.2h-1.2zM177.4 160.2h1.2v1.2h-1.2zM176.1 168.5h1.2v1.2h-1.2zM196.1 165.0h1.2v1.2h-1.2zM176.6 149.3h1.2v1.2h-1.2zM189.5 164.4h1.2v1.2h-1.2zM178.3 159.5h1.2v1.2h-1.2zM188.6 170.7h1.2v1.2h-1.2zM175.6 168.8h1.2v1.2h-1.2zM190.8 155.7h1.2v1.2h-1.2zM183.4 178.7h1.2v1.2h-1.2zM185.3 165.4h1.2v1.2h-1.2zM189.3 164.8h1.2v1.2h-1.2zM182.9 174.3h1.2v1.2h-1.2zM179.0 170.5h1.2v1.2h-1.2zM180.5 157.8h1.2v1.2h-1.2zM174.8 155.7h1.2v1.2h-1.2zM183.7 161.5h1.2v1.2h-1.2zM187.7 174.3h1.2v1.2h-1.2zM173.6 176.5h1.2v1.2h-1.2zM179.6 168.1h1.2v1.2h-1.2zM189.0 156.4h1.2v1.2h-1.2zM199.2 160.6h1.2v1.2h-1.2zM181.3 167.4h1.2v1.2h-1.2zM180.8 171.5h1.2v1.2h-1.2zM182.4 150.9h1.2v1.2h-1.2zM181.9 177.9h1.2v1.2h-1.2zM170.2 180.0h1.2v1.2h-1.2zM182.0 160.7h1.2v1.2h-1.2zM177.0 162.7h1.2v1.2h-1.2zM191.0 147.3h1.2v1.2h-1.2zM179.4 149.1h1.2v1.2h-1.2zM182.9 172.2h1.2v1.2h-1.2zM186.1 164.1h1.2v1.2h-1.2zM183.0 154.8h1.2v1.2h-1.2zM190.0 147.2h1.2v1.2h-1.2zM188.0 147.9h1.2v1.2h-1.2zM178.3 168.1h1.2v1.2h-1.2zM181.5 146.1h1.2v1.2h-1.2zM175.3 168.6h1.2v1.2h-1.2zM171.4 146.1h1.2v1.2h-1.2zM188.2 176.0h1.2v1.2h-1.2zM182.9 150.9h1.2v1.2h-1.2zM182.7 153.1h1.2v1.2h-1.2zM184.1 153.8h1.2v1.2h-1.2zM190.4 149.1h1.2v1.2h-1.2zM188.3 168.3h1.2v1.2h-1.2zM186.1 163.2h1.2v1.2h-1.2zM186.3 165.6h1.2v1.2h-1.2zM176.4 160.8h1.2v1.2h-1.2zM181.0 163.8h1.2v1.2h-1.2zM177.3 180.1h1.2v1.2h-1.2zM180.4 170.1h1.2v1.2h-1.2zM179.0 169.9h1.2v1.2h-1.2zM179.3 146.5h1.2v1.2h-1.2zM182.0 182.0h1.2v1.2h-1.2zM184.1 157.2h1.2v1.2h-1.2zM170.5 175.5h1.2v1.2h-1.2zM178.9 177.9h1.2v1.2h-1.2zM187.8 160.7h1.2v1.2h-1.2zM180.4 175.7h1.2v1.2h-1.2zM174.2 159.9h1.2v1.2h-1.2zM180.7 166.2h1.2v1.2h-1.2zM180.6 163.8h1.2v1.2h-1.2zM178.4 157.6h1.2v1.2h-1.2zM179.7 167.1h1.2v1.2h-1.2zM176.8 161.9h1.2v1.2h-1.2zM185.0 173.2h1.2v1.2h-1.2zM176.6 169.8h1.2v1.2h-1.2zM180.4 174.0h1.2v1.2h-1.2zM179.8 141.0h1.2v1.2h-1.2zM175.1 163.8h1.2v1.2h-1.2zM184.3 178.0h1.2v1.2h-1.2zM181.5 169.5h1.2v1.2h-1.2zM174.5 158.8h1.2v1.2h-1.2zM180.6 164.5h1.2v1.2h-1.2zM185.1 164.6h1.2v1.2h-1.2zM185.7 150.1h1.2v1.2h-1.2zM176.5 184.7h1.2v1.2h-1.2zM173.2 169.5h1.2v1.2h-1.2zM180.4 160.0h1.2v1.2h-1.2zM185.1 180.5h1.2v1.2h-1.2zM179.8 179.2h1.2v1.2h-1.2zM175.3 166.8h1.2v1.2h-1.2zM188.5 160.1h1.2v1.2h-1.2zM184.7 168.0h1.2v1.2h-1.2zM181.8 185.9h1.2v1.2h-1.2zM177.7 159.6h1.2v1.2h-1.2zM177.8 166.8h1.2v1.2h-1.2zM187.8 164.9h1.2v1.2h-1.2zM175.8 169.0h1.2v1.2h-1.2zM185.6 150.9h1.2v1.2h-1.2zM185.9 153.8h1.2v1.2h-1.2zM190.7 156.7h1.2v1.2h-1.2zM172.2 172.0h1.2v1.2h-1.2zM181.1 167.8h1.2v1.2h-1.2zM186.9 164.5h1.2v1.2h-1.2z"/>
<path fill="#cc2619" fill-opacity="0.25" d="M58.0 65.9h1.3v1.3h-1.3zM59.5 67.0h1.3v1.3h-1.3zM59.9 69.6h1.3v1.3h-1.3zM59.4 69.5h1.3v1.3h-1.3zM61.5 67.3h1.3v1.3h-1.3zM56.5 65.4h1.3v1.3h-1.3zM57.5 67.9h1.3v1.3h-1.3zM59.3 64.6h1.3v1.3h-1.3zM52.5 66.7h1.3v1.3h-1.3zM47.5 67.9h1.3v1.3h-1.3zM61.5 70.1h1.3v1.3h-1.3zM60.5 68.9h1.3v1.3h-1.3zM62.7 67.8h1.3v1.3h-1.3zM52.8 69.7h1.3v1.3h-1.3zM60.6 68.2h1.3v1.3h-1.3zM58.2 67.3h1.3v1.3h-1.3zM56.1 66.4h1.3v1.3h-1.3zM60.6 68.0h1.3v1.3h-1.3zM54.0 70.5h1.3v1.3h-1.3zM56.8 67.8h1.3v1.3h-1.3zM52.9 69.6h1.3v1.3h-1.3zM55.0 68.4h1.3v1.3h-1.3zM57.8 68.6h1.3v1.3h-1.3zM59.5 68.3h1.3v1.3h-1.3zM59.6 67.8h1.3v1.3h-1.3zM54.4 67.9h1.3v1.3h-1.3zM60.1 67.7h1.3v1.3h-1.3zM54.3 66.1h1.3v1.3h-1.3zM53.3 67.0h1.3v1.3h-1.3zM47.7 68.1h1.3v1.3h-1.3zM56.5 69.4h1.3v1.3h-1.3zM57.4 66.4h1.3v1.3h-1.3zM55.2 66.6h1.3v1.3h-1.3zM53.8 70.8h1.3v1.3h-1.3zM57.1 66.1h1.3v1.3h-1.3zM51.8 68.3h1.3v1.3h-1.3zM56.1 69.0h1.3v1.3h-1.3zM57.6 65.1h1.3v1.3h-1.3zM57.7 65.2h1.3v1.3h-1.3zM52.6 65.1h1.3v1.3h-1.3zM55.9 69.6h1.3v1.3h-1.3zM53.2 68.5h1.3v1.3h-1.3zM51.2 71.5h1.3v1.3h-1.3zM65.1 66.1h1.3v1.3h-1.3zM51.8 66.9h1.3v1.3h-1.3zM52.6 68.6h1.3v1.3h-1.3zM62.6 66.4h1.3v1.3h-1.3zM56.0 65.0h1.3v1.3h-1.3zM48.4 67.7h1.3v1.3h-1.3zM59.7 65.3h1.3v1.3h-1.3zM399.8 360.4h1.3v1.3h-1.3zM388.2 346.9h1.3v1.3h-1.3zM389.3 351.4h1.3v1.3h-1.3zM400.8 355.6h1.3v1.3h-1.3zM407.7 348.3h1.3v1.3h-1.3zM383.8 348.6h1.3v1.3h-1.3zM382.1 349.7h1.3v1.3h-1.3zM384.8 354.8h1.3v1.3h-1.3zM383.9 353.9h1.3v1.3h-1.3zM395.8 361.0h1.3v1.3h-1.3zM385.0 351.7h1.3v1.3h-1.3zM399.5 354.0h1.3v1.3h-1.3zM382.0 352.2h1.3v1.3h-1.3zM410.1 355.3h1.3v1.3h-1.3zM385.6 351.2h1.3v1.3h-1.3zM397.0 348.6h1.3v1.3h-1.3zM392.0 351.6h1.3v1.3h-1.3zM394.8 350.6h1.3v1.3h-1.3zM409.8 347.4h1.3v1.3h-1.3zM396.3 350.5h1.3v1.3h-1.3zM394.3 345.4h1.3v1.3h-1.3zM394.7 353.1h1.3v1.3h-1.3zM392.7 355.9h1.3v1.3h-1.3zM393.9 354.6h1.3v1.3h-1.3zM392.1 351.9h1.3v1.3h-1.3zM409.0 350.9h1.3v1.3h-1.3zM381.8 359.7h1.3v1.3h-1.3zM390.2 357.6h1.3v1.3h-1.3zM380.2 347.2h1.3v1.3h-1.3zM389.3 354.8h1.3v1.3h-1.3zM394.7 349.3h1.3v1.3h-1.3zM381.8 346.0h1.3v1.3h-1.3zM393.2 346.7h1.3v1.3h-1.3zM394.8 349.2h1.3v1.3h-1.3zM399.8 344.6h1.3v1.3h-1.3zM380.2 354.1h1.3v1.3h-1.3zM392.2 351.9h1.3v1.3h-1.3zM411.4 354.2h1.3v1.3h-1.3zM384.4 353.3h1.3v1.3h-1.3zM385.0 356.4h1.3v1.3h-1.3zM380.1 350.0h1.3v1.3h-1.3zM399.7 352.5h1.3v1.3h-1.3zM387.2 352.6h1.3v1.3h-1.3zM398.4 347.8h1.3v1.3h-1.3zM388.7 350.9h1.3v1.3h-1.3zM386.8 353.2h1.3v1.3h-1.3zM387.8 351.1h1.3v1.3h-1.3zM396.0 353.7h1.3v1.3h-1.3zM388.5 346.7h1.3v1.3h-1.3zM409.1 343.2h1.3v1.3h-1.3zM380.4 354.0h1.3v1.3h-1.3zM389.4 353.9h1.3v1.3h-1.3zM396.6 352.4h1.3v1.3h-1.3zM396.5 345.6h1.3v1.3h-1.3zM393.6 351.2h1.3v1.3h-1.3zM393.8 351.3h1.3v1.3h-1.3zM402.2 347.1h1.3v1.3h-1.3zM382.7 346.9h1.3v1.3h-1.3zM379.3 350.7h1.3v1.3h-1.3zM404.0 349.1h1.3v1.3h-1.3zM391.5 353.5h1.3v1.3h-1.3zM397.3 347.7h1.3v1.3h-1.3zM386.5 350.9h1.3v1.3h-1.3zM380.5 351.3h1.3v1.3h-1.3zM392.8 355.1h1.3v1.3h-1.3zM389.2 351.9h1.3v1.3h-1.3zM380.9 353.1h1.3v1.3h-1.3zM395.2 352.5h1.3v1.3h-1.3zM402.0 345.0h1.3v1.3h-1.3zM382.5 348.2h1.3v1.3h-1.3zM393.1 352.0h1.3v1.3h-1.3zM394.2 353.4h1.3v1.3h-1.3zM398.7 353.4h1.3v1.3h-1.3zM396.7 350.2h1.3v1.3h-1.3zM399.6 347.8h1.3v1.3h-1.3zM394.7 349.3h1.3v1.3h-1.3zM388.7 351.2h1.3v1.3h-1.3zM391.0 353.6h1.3v1.3h-1.3zM397.3 356.3h1.3v1.3h-1.3zM398.8 349.2h1.3v1.3h-1.3zM381.4 355.9h1.3v1.3h-1.3zM384.1 355.6h1.3v1.3h-1.3zM395.0 352.4h1.3v1.3h-1.3zM407.7 363.4h1.3v1.3h-1.3zM397.0 354.9h1.3v1.3h-1.3zM393.4 353.9h1.3v1.3h-1.3zM393.9 351.1h1.3v1.3h-1.3zM400.9 349.6h1.3v1.3h-1.3zM383.9 354.1h1.3v1.3h-1.3zM400.8 354.7h1.3v1.3h-1.3zM383.7 345.7h1.3v1.3h-1.3z"/>
<path fill="#cc2619" fill-opacity="0.25" d="M53.8 54.4h1.4v1.4h-1.4zM52.4 59.8h1.4v1.4h-1.4zM56.2 55.6h1.4v1.4h-1.4zM50.6 56.4h1.4v1.4h-1.4zM54.6 60.0h1.4v1.4h-1.4zM52.9 57.5h1.4v1.4h-1.4zM51.5 55.7h1.4v1.4h-1.4zM56.2 55.4h1.4v1.4h-1.4zM54.1 61.5h1.4v1.4h-1.4zM54.3 55.4h1.4v1.4h-1.4zM53.4 58.0h1.4v1.4h-1.4zM53.4 57.0h1.4v1.4h-1.4zM56.2 58.1h1.4v1.4h-1.4zM56.2 58.4h1.4v1.4h-1.4zM54.0 59.2h1.4v1.4h-1.4zM57.9 55.5h1.4v1.4h-1.4zM54.5 62.7h1.4v1.4h-1.4zM54.5 57.3h1.4v1.4h-1.4zM54.0 57.5h1.4v1.4h-1.4zM54.0 63.6h1.4v1.4h-1.4zM49.1 55.9h1.4v1.4h-1.4zM53.1 58.1h1.4v1.4h-1.4zM55.0 59.2h1.4v1.4h-1.4zM55.2 54.0h1.4v1.4h-1.4zM56.3 55.1h1.4v1.4h-1.4zM57.7 53.4h1.4v1.4h-1.4zM57.5 59.0h1.4v1.4h-1.4zM56.5 58.4h1.4v1.4h-1.4zM56.8 59.8h1.4v1.4h-1.4zM55.4 58.1h1.4v1.4h-1.4zM54.5 53.5h1.4v1.4h-1.4zM57.3 52.8h1.4v1.4h-1.4zM53.9 52.7h1.4v1.4h-1.4zM54.3 60.0h1.4v1.4h-1.4zM52.9 56.6h1.4v1.4h-1.4zM52.6 58.0h1.4v1.4h-1.4zM54.2 57.2h1.4v1.4h-1.4zM56.8 60.8h1.4v1.4h-1.4zM55.7 56.0h1.4v1.4h-1.4zM55.9 58.5h1.4v1.4h-1.4z"/>
<path fill="#cc2619" fill-opacity="0.3" d="M173.7 67.3h1.2v1.2h-1.2zM171.0 82.8h1.2v1.2h-1.2zM177.6 73.4h1.2v1.2h-1.2zM179.9 80.7h1.2v1.2h-1.2zM173.9 73.5h1.2v1.2h-1.2zM180.0 86.8h1.2v1.2h-1.2zM176.1 84.2h1.2v1.2h-1.2zM181.2 85.1h1.2v1.2h-1.2zM177.4 82.8h1.2v1.2h-1.2zM179.7 74.8h1.2v1.2h-1.2zM177.8 76.3h1.2v1.2h-1.2zM172.8 78.2h1.2v1.2h-1.2zM176.4 71.4h1.2v1.2h-1.2zM179.3 85.6h1.2v1.2h-1.2zM179.4 74.8h1.2v1.2h-1.2zM173.5 83.7h1.2v1.2h-1.2zM174.6 86.0h1.2v1.2h-1.2zM175.7 80.3h1.2v1.2h-1.2zM176.3 78.7h1.2v1.2h-1.2zM180.4 81.7h1.2v1.2h-1.2zM174.3 88.2h1.2v1.2h-1.2zM180.2 80.4h1.2v1.2h-1.2zM174.1 73.3h1.2v1.2h-1.2zM174.3 72.6h1.2v1.2h-1.2zM179.6 77.4h1.2v1.2h-1.2zM176.1 78.3h1.2v1.2h-1.2zM177.8 70.2h1.2v1.2h-1.2zM178.9 77.7h1.2v1.2h-1.2zM174.9 77.2h1.2v1.2h-1.2zM171.0 85.6h1.2v1.2h-1.2zM177.6 81.8h1.2v1.2h-1.2zM175.3 81.3h1.2v1.2h-1.2zM178.0 68.2h1.2v1.2h-1.2zM176.9 90.8h1.2v1.2h-1.2zM177.5 80.7h1.2v1.2h-1.2zM179.4 85.9h1.2v1.2h-1.2zM178.1 68.2h1.2v1.2h-1.2zM179.1 83.9h1.2v1.2h-1.2zM179.3 70.0h1.2v1.2h-1.2zM177.6 74.7h1.2v1.2h-1.2zM178.0 74.6h1.2v1.2h-1.2zM181.0 79.8h1.2v1.2h-1.2zM174.6 71.1h1.2v1.2h-1.2zM175.4 78.8h1.2v1.2h-1.2zM174.1 75.4h1.2v1.2h-1.2zM179.9 78.4h1.2v1.2h-1.2zM173.5 85.4h1.2v1.2h-1.2zM186.1 75.4h1.2v1.2h-1.2zM174.7 75.9h1.2v1.2h-1.2zM181.0 69.3h1.2v1.2h-1.2zM179.8 77.2h1.2v1.2h-1.2zM181.7 78.3h1.2v1.2h-1.2zM176.0 74.7h1.2v1.2h-1.2zM179.0 76.7h1.2v1.2h-1.2zM174.7 64.6h1.2v1.2h-1.2zM178.1 74.1h1.2v1.2h-1.2zM183.5 76.8h1.2v1.2h-1.2zM183.1 78.1h1.2v1.2h-1.2zM179.5 77.0h1.2v1.2h-1.2zM178.0 83.1h1.2v1.2h-1.2zM175.4 79.0h1.2v1.2h-1.2zM182.4 71.4h1.2v1.2h-1.2zM176.1 82.6h1.2v1.2h-1.2zM178.8 81.7h1.2v1.2h-1.2zM177.0 84.0h1.2v1.2h-1.2zM177.1 76.2h1.2v1.2h-1.2zM172.0 74.1h1.2v1.2h-1.2zM177.6 87.6h1.2v1.2h-1.2zM176.8 92.1h1.2v1.2h-1.2zM174.3 78.4h1.2v1.2h-1.2zM47.5 164.4h1.2v1.2h-1.2zM52.4 158.5h1.2v1.2h-1.2zM58.3 166.5h1.2v1.2h-1.2zM56.1 163.0h1.2v1.2h-1.2zM55.3 154.2h1.2v1.2h-1.2zM53.2 161.1h1.2v1.2h-1.2zM60.0 160.4h1.2v1.2h-1.2zM50.2 154.3h1.2v1.2h-1.2zM59.1 161.7h1.2v1.2h-1.2zM60.7 165.9h1.2v1.2h-1.2zM51.0 162.1h1.2v1.2h-1.2zM55.3 153.9h1.2v1.2h-1.2zM63.2 159.6h1.2v1.2h-1.2zM61.0 161.1h1.2v1.2h-1.2zM46.7 157.8h1.2v1.2h-1.2zM59.4 154.8h1.2v1.2h-1.2zM53.3 160.0h1.2v1.2h-1.2zM53.2 166.8h1.2v1.2h-1.2zM50.0 164.4h1.2v1.2h-1.2zM52.9 160.9h1.2v1.2h-1.2zM45.5 160.1h1.2v1.2h-1.2zM60.0 156.1h1.2v1.2h-1.2zM60.2 172.8h1.2v1.2h-1.2zM52.2 161.7h1.2v1.2h-1.2zM54.9 162.4h1.2v1.2h-1.2zM59.7 160.3h1.2v1.2h-1.2zM47.9 164.4h1.2v1.2h-1.2zM54.2 154.5h1.2v1.2h-1.2zM58.4 158.7h1.2v1.2h-1.2zM43.5 157.9h1.2v1.2h-1.2z"/>
<path fill="#cc2619" fill-opacity="0.3" d="M182.0 494.6h1.3v1.3h-1.3zM183.7 488.9h1.3v1.3h-1.3zM180.4 493.5h1.3v1.3h-1.3zM182.3 485.5h1.3v1.3h-1.3zM181.5 484.4h1.3v1.3h-1.3zM183.1 495.6h1.3v1.3h-1.3zM183.0 496.3h1.3v1.3h-1.3zM183.7 485.7h1.3v1.3h-1.3zM185.8 490.3h1.3v1.3h-1.3zM182.8 495.4h1.3v1.3h-1.3zM180.2 491.7h1.3v1.3h-1.3zM183.1 484.7h1.3v1.3h-1.3zM177.3 489.7h1.3v1.3h-1.3zM184.4 487.5h1.3v1.3h-1.3zM185.7 489.5h1.3v1.3h-1.3zM185.4 494.5h1.3v1.3h-1.3zM183.3 487.9h1.3v1.3h-1.3zM183.2 493.0h1.3v1.3h-1.3zM179.4 488.6h1.3v1.3h-1.3zM178.5 486.2h1.3v1.3h-1.3zM183.2 495.3h1.3v1.3h-1.3zM181.2 495.2h1.3v1.3h-1.3zM178.6 498.8h1.3v1.3h-1.3zM185.1 487.0h1.3v1.3h-1.3zM182.2 480.2h1.3v1.3h-1.3zM180.2 498.1h1.3v1.3h-1.3zM181.0 490.1h1.3v1.3h-1.3zM185.8 483.5h1.3v1.3h-1.3zM179.8 484.0h1.3v1.3h-1.3zM184.1 496.5h1.3v1.3h-1.3zM184.5 490.5h1.3v1.3h-1.3zM182.8 495.5h1.3v1.3h-1.3zM186.5 501.7h1.3v1.3h-1.3zM183.9 485.4h1.3v1.3h-1.3zM179.1 487.2h1.3v1.3h-1.3zM184.1 491.2h1.3v1.3h-1.3zM187.4 486.3h1.3v1.3h-1.3zM185.0 501.1h1.3v1.3h-1.3zM184.9 484.8h1.3v1.3h-1.3zM183.4 490.5h1.3v1.3h-1.3zM179.4 476.2h1.3v1.3h-1.3zM183.3 489.7h1.3v1.3h-1.3zM183.0 490.7h1.3v1.3h-1.3zM180.1 484.7h1.3v1.3h-1.3zM179.0 479.4h1.3v1.3h-1.3zM183.3 486.0h1.3v1.3h-1.3zM181.7 484.5h1.3v1.3h-1.3zM184.7 490.3h1.3v1.3h-1.3zM179.7 489.9h1.3v1.3h-1.3zM184.1 490.1h1.3v1.3h-1.3zM185.8 487.6h1.3v1.3h-1.3zM182.9 496.3h1.3v1.3h-1.3zM183.4 495.5h1.3v1.3h-1.3zM181.2 486.4h1.3v1.3h-1.3zM180.1 489.7h1.3v1.3h-1.3zM178.1 497.2h1.3v1.3h-1.3zM183.2 491.6h1.3v1.3h-1.3zM182.7 478.7h1.3v1.3h-1.3zM183.7 498.0h1.3v1.3h-1.3zM184.6 484.0h1.3v1.3h-1.3zM184.4 489.0h1.3v1.3h-1.3zM185.0 484.1h1.3v1.3h-1.3zM183.8 486.6h1.3v1.3h-1.3zM184.9 487.5h1.3v1.3h-1.3zM186.1 495.4h1.3v1.3h-1.3zM185.0 485.9h1.3v1.3h-1.3zM179.6 476.5h1.3v1.3h-1.3zM185.5 490.2h1.3v1.3h-1.3zM182.7 491.0h1.3v1.3h-1.3zM183.2 487.2h1.3v1.3h-1.3zM182.1 481.2h1.3v1.3h-1.3zM180.8 492.2h1.3v1.3h-1.3zM179.6 497.1h1.3v1.3h-1.3zM187.1 495.6h1.3v1.3h-1.3zM183.7 495.0h1.3v1.3h-1.3zM179.2 484.5h1.3v1.3h-1.3zM180.8 493.0h1.3v1.3h-1.3zM183.9 491.9h1.3v1.3h-1.3z"/>
<path fill="#cc2619" fill-opacity="0.32" d="M404.5 350.9h1.2v1.2h-1.2zM410.4 356.7h1.2v1.2h-1.2zM411.3 352.6h1.2v1.2h-1.2zM411.1 347.3h1.2v1.2h-1.2zM413.2 348.6h1.2v1.2h-1.2zM406.3 351.2h1.2v1.2h-1.2zM401.8 358.2h1.2v1.2h-1.2zM410.2 359.8h1.2v1.2h-1.2zM407.7 358.6h1.2v1.2h-1.2zM407.3 357.1h1.2v1.2h-1.2zM409.3 359.8h1.2v1.2h-1.2zM407.0 363.3h1.2v1.2h-1.2zM406.5 357.2h1.2v1.2h-1.2zM404.7 359.8h1.2v1.2h-1.2zM407.9 353.4h1.2v1.2h-1.2zM401.9 353.5h1.2v1.2h-1.2zM401.6 358.6h1.2v1.2h-1.2zM412.3 352.4h1.2v1.2h-1.2zM405.6 355.6h1.2v1.2h-1.2zM408.2 349.8h1.2v1.2h-1.2zM406.9 350.9h1.2v1.2h-1.2zM406.1 356.8h1.2v1.2h-1.2zM411.2 356.8h1.2v1.2h-1.2zM406.8 361.9h1.2v1.2h-1.2zM404.3 359.6h1.2v1.2h-1.2zM398.4 356.1h1.2v1.2h-1.2zM407.7 359.7h1.2v1.2h-1.2zM412.0 362.1h1.2v1.2h-1.2zM406.0 361.2h1.2v1.2h-1.2zM406.5 354.2h1.2v1.2h-1.2zM410.1 365.5h1.2v1.2h-1.2zM411.4 355.6h1.2v1.2h-1.2zM408.3 361.9h1.2v1.2h-1.2zM403.1 344.9h1.2v1.2h-1.2zM408.3 347.8h1.2v1.2h-1.2zM404.6 349.0h1.2v1.2h-1.2zM407.6 357.2h1.2v1.2h-1.2zM401.6 350.9h1.2v1.2h-1.2zM408.5 354.6h1.2v1.2h-1.2zM413.5 349.9h1.2v1.2h-1.2zM411.4 360.6h1.2v1.2h-1.2zM404.9 358.6h1.2v1.2h-1.2zM406.9 361.8h1.2v1.2h-1.2zM408.8 353.8h1.2v1.2h-1.2zM411.8 363.1h1.2v1.2h-1.2zM402.8 356.9h1.2v1.2h-1.2zM407.1 352.6h1.2v1.2h-1.2zM417.9 357.3h1.2v1.2h-1.2zM409.5 360.7h1.2v1.2h-1.2zM413.6 352.1h1.2v1.2h-1.2zM409.3 361.9h1.2v1.2h-1.2zM407.2 349.5h1.2v1.2h-1.2zM405.8 355.9h1.2v1.2h-1.2zM404.1 366.3h1.2v1.2h-1.2zM401.6 362.5h1.2v1.2h-1.2zM408.7 357.8h1.2v1.2h-1.2zM411.1 350.3h1.2v1.2h-1.2zM405.6 363.8h1.2v1.2h-1.2zM410.0 355.2h1.2v1.2h-1.2zM411.9 359.8h1.2v1.2h-1.2zM407.7 351.9h1.2v1.2h-1.2zM401.0 359.0h1.2v1.2h-1.2zM408.3 352.2h1.2v1.2h-1.2zM399.3 351.7h1.2v1.2h-1.2zM414.5 349.9h1.2v1.2h-1.2zM407.3 356.1h1.2v1.2h-1.2zM406.5 351.7h1.2v1.2h-1.2zM407.0 362.1h1.2v1.2h-1.2zM397.8 358.8h1.2v1.2h-1.2zM410.5 357.0h1.2v1.2h-1.2zM398.5 353.0h1.2v1.2h-1.2zM410.9 356.9h1.2v1.2h-1.2zM407.2 352.8h1.2v1.2h-1.2zM403.8 365.5h1.2v1.2h-1.2zM404.1 345.4h1.2v1.2h-1.2zM407.5 367.9h1.2v1.2h-1.2zM410.3 350.9h1.2v1.2h-1.2zM407.7 366.5h1.2v1.2h-1.2zM407.2 364.3h1.2v1.2h-1.2zM409.2 356.7h1.2v1.2h-1.2zM406.1 358.0h1.2v1.2h-1.2zM410.5 359.5h1.2v1.2h-1.2zM400.6 359.4h1.2v1.2h-1.2zM410.0 358.8h1.2v1.2h-1.2zM412.1 356.2h1.2v1.2h-1.2zM411.8 358.2h1.2v1.2h-1.2zM404.0 353.2h1.2v1.2h-1.2zM412.8 352.7h1.2v1.2h-1.2zM410.1 358.7h1.2v1.2h-1.2zM414.6 349.7h1.2v1.2h-1.2zM409.6 352.0h1.2v1.2h-1.2zM406.6 357.7h1.2v1.2h-1.2zM409.1 347.8h1.2v1.2h-1.2zM406.9 359.3h1.2v1.2h-1.2zM403.3 353.8h1.2v1.2h-1.2zM406.1 366.8h1.2v1.2h-1.2zM413.8 362.9h1.2v1.2h-1.2zM402.1 357.4h1.2v1.2h-1.2zM401.9 357.8h1.2v1.2h-1.2zM405.0 367.9h1.2v1.2h-1.2z"/>
<path fill="#cc2619" fill-opacity="0.32" d="M389.2 283.7h1.3v1.3h-1.3zM391.4 278.4h1.3v1.3h-1.3zM395.1 277.5h1.3v1.3h-1.3zM385.5 282.9h1.3v1.3h-1.3zM398.9 276.5h1.3v1.3h-1.3zM388.9 277.8h1.3v1.3h-1.3zM396.7 272.2h1.3v1.3h-1.3zM394.2 283.4h1.3v1.3h-1.3zM386.2 278.8h1.3v1.3h-1.3zM395.4 274.7h1.3v1.3h-1.3zM386.4 283.0h1.3v1.3h-1.3zM383.0 284.8h1.3v1.3h-1.3zM386.1 277.1h1.3v1.3h-1.3zM397.0 277.2h1.3v1.3h-1.3zM397.9 282.9h1.3v1.3h-1.3zM384.3 284.3h1.3v1.3h-1.3zM392.6 275.4h1.3v1.3h-1.3zM391.0 277.3h1.3v1.3h-1.3zM383.4 280.2h1.3v1.3h-1.3zM390.3 275.0h1.3v1.3h-1.3zM390.2 286.0h1.3v1.3h-1.3zM390.5 265.3h1.3v1.3h-1.3zM396.4 284.5h1.3v1.3h-1.3zM382.4 281.5h1.3v1.3h-1.3zM380.5 284.7h1.3v1.3h-1.3zM384.0 278.5h1.3v1.3h-1.3zM389.9 280.3h1.3v1.3h-1.3zM391.9 284.4h1.3v1.3h-1.3zM396.4 284.2h1.3v1.3h-1.3zM380.2 279.6h1.3v1.3h-1.3zM386.4 285.4h1.3v1.3h-1.3zM399.1 270.2h1.3v1.3h-1.3zM383.1 270.6h1.3v1.3h-1.3zM392.1 282.6h1.3v1.3h-1.3zM393.7 274.8h1.3v1.3h-1.3zM386.9 282.1h1.3v1.3h-1.3zM387.3 278.2h1.3v1.3h-1.3zM391.2 287.4h1.3v1.3h-1.3zM388.5 280.2h1.3v1.3h-1.3zM387.6 283.3h1.3v1.3h-1.3zM385.4 282.1h1.3v1.3h-1.3zM387.0 283.1h1.3v1.3h-1.3zM380.8 274.0h1.3v1.3h-1.3zM379.4 271.2h1.3v1.3h-1.3zM390.9 277.0h1.3v1.3h-1.3zM393.6 279.6h1.3v1.3h-1.3zM399.4 285.8h1.3v1.3h-1.3zM392.5 282.3h1.3v1.3h-1.3zM385.9 274.0h1.3v1.3h-1.3zM392.0 281.4h1.3v1.3h-1.3zM385.2 282.0h1.3v1.3h-1.3zM400.5 278.9h1.3v1.3h-1.3zM389.9 272.1h1.3v1.3h-1.3zM396.2 274.3h1.3v1.3h-1.3zM383.9 283.1h1.3v1.3h-1.3zM388.1 285.3h1.3v1.3h-1.3zM385.8 282.0h1.3v1.3h-1.3zM387.5 273.8h1.3v1.3h-1.3zM396.7 265.1h1.3v1.3h-1.3zM391.7 274.9h1.3v1.3h-1.3zM381.0 275.8h1.3v1.3h-1.3zM396.0 282.8h1.3v1.3h-1.3zM388.4 281.6h1.3v1.3h-1.3zM385.0 282.5h1.3v1.3h-1.3zM394.5 287.9h1.3v1.3h-1.3zM383.8 286.5h1.3v1.3h-1.3zM392.9 276.2h1.3v1.3h-1.3zM383.3 279.8h1.3v1.3h-1.3zM390.2 280.5h1.3v1.3h-1.3zM389.5 272.7h1.3v1.3h-1.3zM386.5 277.1h1.3v1.3h-1.3zM384.0 279.9h1.3v1.3h-1.3zM393.3 278.7h1.3v1.3h-1.3zM400.5 281.8h1.3v1.3h-1.3zM387.5 277.2h1.3v1.3h-1.3zM390.9 272.4h1.3v1.3h-1.3zM391.2 278.9h1.3v1.3h-1.3zM388.1 273.2h1.3v1.3h-1.3zM391.3 277.7h1.3v1.3h-1.3zM386.1 272.0h1.3v1.3h-1.3zM388.5 269.3h1.3v1.3h-1.3zM392.5 279.4h1.3v1.3h-1.3zM393.1 280.4h1.3v1.3h-1.3zM389.8 283.7h1.3v1.3h-1.3zM395.2 280.1h1.3v1.3h-1.3zM389.0 264.9h1.3v1.3h-1.3zM391.3 276.5h1.3v1.3h-1.3zM390.6 276.2h1.3v1.3h-1.3zM388.4 279.3h1.3v1.3h-1.3zM388.6 278.1h1.3v1.3h-1.3zM394.5 288.0h1.3v1.3h-1.3zM392.8 274.8h1.3v1.3h-1.3zM391.4 283.9h1.3v1.3h-1.3zM388.1 276.3h1.3v1.3h-1.3zM385.7 273.1h1.3v1.3h-1.3zM395.9 281.4h1.3v1.3h-1.3zM382.0 271.9h1.3v1.3h-1.3zM389.7 283.7h1.3v1.3h-1.3zM387.6 274.6h1.3v1.3h-1.3zM386.4 282.8h1.3v1.3h-1.3zM381.2 285.7h1.3v1.3h-1.3zM382.7 270.5h1.3v1.3h-1.3zM393.4 280.6h1.3v1.3h-1.3zM384.0 279.1h1.3v1.3h-1.3zM395.3 280.1h1.3v1.3h-1.3zM388.7 280.9h1.3v1.3h-1.3zM384.2 277.6h1.3v1.3h-1.3zM393.3 273.8h1.3v1.3h-1.3zM383.2 283.9h1.3v1.3h-1.3zM384.7 264.3h1.3v1.3h-1.3zM383.0 281.2h1.3v1.3h-1.3zM383.8 286.9h1.3v1.3h-1.3zM381.4 278.0h1.3v1.3h-1.3zM396.6 278.1h1.3v1.3h-1.3zM394.7 274.9h1.3v1.3h-1.3zM385.2 288.5h1.3v1.3h-1.3zM394.8 282.2h1.3v1.3h-1.3zM386.6 282.2h1.3v1.3h-1.3zM387.8 271.2h1.3v1.3h-1.3zM390.1 284.0h1.3v1.3h-1.3zM384.4 282.5h1.3v1.3h-1.3zM387.3 276.4h1.3v1.3h-1.3zM393.7 275.7h1.3v1.3h-1.3zM385.2 279.5h1.3v1.3h-1.3zM384.8 272.1h1.3v1.3h-1.3zM379.3 269.4h1.3v1.3h-1.3zM402.9 270.0h1.3v1.3h-1.3zM391.5 281.6h1.3v1.3h-1.3zM392.0 279.1h1.3v1.3h-1.3zM380.0 279.0h1.3v1.3h-1.3zM388.6 274.4h1.3v1.3h-1.3zM391.4 276.8h1.3v1.3h-1.3zM381.4 281.1h1.3v1.3h-1.3zM381.6 288.1h1.3v1.3h-1.3zM389.1 284.4h1.3v1.3h-1.3zM402.7 278.4h1.3v1.3h-1.3zM387.4 273.7h1.3v1.3h-1.3zM395.5 276.9h1.3v1.3h-1.3zM392.9 281.6h1.3v1.3h-1.3zM394.8 275.6h1.3v1.3h-1.3zM391.7 273.8h1.3v1.3h-1.3zM383.2 279.8h1.3v1.3h-1.3zM391.5 279.6h1.3v1.3h-1.3zM390.4 279.8h1.3v1.3h-1.3zM390.7 282.5h1.3v1.3h-1.3zM390.4 288.3h1.3v1.3h-1.3zM384.9 277.1h1.3v1.3h-1.3zM393.8 280.3h1.3v1.3h-1.3zM395.6 286.2h1.3v1.3h-1.3zM385.3 286.2h1.3v1.3h-1.3zM392.3 274.3h1.3v1.3h-1.3zM389.2 276.2h1.3v1.3h-1.3zM385.8 271.6h1.3v1.3h-1.3zM384.5 280.5h1.3v1.3h-1.3zM378.8 278.0h1.3v1.3h-1.3zM383.8 285.2h1.3v1.3h-1.3zM387.4 273.8h1.3v1.3h-1.3zM386.8 275.6h1.3v1.3h-1.3zM385.7 274.9h1.3v1.3h-1.3zM392.0 266.6h1.3v1.3h-1.3zM399.1 271.5h1.3v1.3h-1.3zM393.7 282.5h1.3v1.3h-1.3zM382.6 282.2h1.3v1.3h-1.3zM379.2 282.0h1.3v1.3h-1.3zM389.2 284.0h1.3v1.3h-1.3zM393.6 289.1h1.3v1.3h-1.3zM396.7 282.1h1.3v1.3h-1.3zM392.3 284.3h1.3v1.3h-1.3zM381.3 278.0h1.3v1.3h-1.3zM396.0 277.7h1.3v1.3h-1.3zM388.5 283.1h1.3v1.3h-1.3zM388.2 276.2h1.3v1.3h-1.3zM380.9 283.0h1.3v1.3h-1.3zM392.8 274.9h1.3v1.3h-1.3zM386.1 274.6h1.3v1.3h-1.3zM384.4 288.2h1.3v1.3h-1.3zM382.6 282.3h1.3v1.3h-1.3zM394.6 281.5h1.3v1.3h-1.3zM383.7 269.3h1.3v1.3h-1.3zM385.3 274.7h1.3v1.3h-1.3zM388.0 283.5h1.3v1.3h-1.3zM396.0 275.7h1.3v1.3h-1.3zM387.2 282.7h1.3v1.3h-1.3zM382.5 275.6h1.3v1.3h-1.3zM383.9 278.3h1.3v1.3h-1.3zM393.9 282.4h1.3v1.3h-1.3zM386.8 280.3h1.3v1.3h-1.3zM380.1 272.0h1.3v1.3h-1.3zM387.4 276.9h1.3v1.3h-1.3zM393.4 287.9h1.3v1.3h-1.3zM390.2 283.0h1.3v1.3h-1.3zM387.4 279.3h1.3v1.3h-1.3zM398.0 276.0h1.3v1.3h-1.3zM393.0 273.7h1.3v1.3h-1.3zM386.9 280.9h1.3v1.3h-1.3zM387.7 285.5h1.3v1.3h-1.3zM393.4 274.5h1.3v1.3h-1.3zM398.1 274.4h1.3v1.3h-1.3zM394.3 269.3h1.3v1.3h-1.3zM399.8 285.0h1.3v1.3h-1.3zM392.5 277.6h1.3v1.3h-1.3zM387.9 270.0h1.3v1.3h-1.3zM391.6 282.1h1.3v1.3h-1.3zM380.2 271.3h1.3v1.3h-1.3zM395.3 276.9h1.3v1.3h-1.3zM385.5 280.3h1.3v1.3h-1.3zM387.5 279.0h1.3v1.3h-1.3zM392.3 274.0h1.3v1.3h-1.3zM386.4 273.2h1.3v1.3h-1.3zM388.8 279.4h1.3v1.3h-1.3zM388.9 282.2h1.3v1.3h-1.3zM393.1 279.6h1.3v1.3h-1.3zM381.8 279.0h1.3v1.3h-1.3zM384.4 273.0h1.3v1.3h-1.3zM392.5 283.3h1.3v1.3h-1.3zM387.2 279.9h1.3v1.3h-1.3zM393.1 279.1h1.3v1.3h-1.3zM392.3 279.9h1.3v1.3h-1.3zM393.9 280.4h1.3v1.3h-1.3zM390.7 279.5h1.3v1.3h-1.3zM387.2 269.5h1.3v1.3h-1.3zM389.8 277.8h1.3v1.3h-1.3zM393.9 266.9h1.3v1.3h-1.3zM382.0 277.0h1.3v1.3h-1.3zM384.7 288.6h1.3v1.3h-1.3zM386.4 280.7h1.3v1.3h-1.3zM383.7 274.8h1.3v1.3h-1.3zM386.8 281.7h1.3v1.3h-1.3zM390.5 275.2h1.3v1.3h-1.3zM393.5 291.1h1.3v1.3h-1.3zM393.1 278.4h1.3v1.3h-1.3zM398.5 289.0h1.3v1.3h-1.3zM391.3 284.2h1.3v1.3h-1.3zM386.3 276.3h1.3v1.3h-1.3zM395.4 277.4h1.3v1.3h-1.3zM386.3 285.1h1.3v1.3h-1.3zM391.5 285.3h1.3v1.3h-1.3zM389.6 290.0h1.3v1.3h-1.3zM391.9 282.9h1.3v1.3h-1.3zM392.5 275.4h1.3v1.3h-1.3zM401.4 261.4h1.3v1.3h-1.3zM387.4 271.5h1.3v1.3h-1.3zM388.7 272.1h1.3v1.3h-1.3zM382.3 283.4h1.3v1.3h-1.3zM393.8 279.4h1.3v1.3h-1.3zM397.2 281.4h1.3v1.3h-1.3zM394.6 282.2h1.3v1.3h-1.3zM384.4 275.4h1.3v1.3h-1.3zM380.0 271.2h1.3v1.3h-1.3zM393.1 282.8h1.3v1.3h-1.3zM382.7 267.6h1.3v1.3h-1.3zM390.6 266.1h1.3v1.3h-1.3zM389.1 281.2h1.3v1.3h-1.3zM384.1 289.6h1.3v1.3h-1.3zM386.0 286.2h1.3v1.3h-1.3zM395.4 280.4h1.3v1.3h-1.3zM387.1 274.3h1.3v1.3h-1.3zM391.2 274.0h1.3v1.3h-1.3zM389.2 275.4h1.3v1.3h-1.3zM397.5 283.9h1.3v1.3h-1.3zM388.6 280.9h1.3v1.3h-1.3zM388.1 272.3h1.3v1.3h-1.3zM391.9 287.8h1.3v1.3h-1.3zM391.1 281.6h1.3v1.3h-1.3zM391.4 285.1h1.3v1.3h-1.3zM392.0 291.4h1.3v1.3h-1.3zM391.6 285.6h1.3v1.3h-1.3zM396.1 281.2h1.3v1.3h-1.3zM396.2 283.3h1.3v1.3h-1.3zM388.9 273.3h1.3v1.3h-1.3zM392.7 280.6h1.3v1.3h-1.3zM394.9 270.1h1.3v1.3h-1.3zM383.3 276.2h1.3v1.3h-1.3zM397.5 276.2h1.3v1.3h-1.3zM379.1 284.2h1.3v1.3h-1.3zM392.3 273.0h1.3v1.3h-1.3zM380.4 286.2h1.3v1.3h-1.3zM380.4 279.8h1.3v1.3h-1.3zM389.2 273.9h1.3v1.3h-1.3zM399.5 277.7h1.3v1.3h-1.3zM383.0 284.4h1.3v1.3h-1.3zM387.9 279.2h1.3v1.3h-1.3zM390.4 276.4h1.3v1.3h-1.3zM397.5 285.1h1.3v1.3h-1.3zM382.3 273.1h1.3v1.3h-1.3zM400.7 276.5h1.3v1.3h-1.3zM394.8 266.9h1.3v1.3h-1.3zM382.6 280.1h1.3v1.3h-1.3zM395.2 284.6h1.3v1.3h-1.3zM385.3 282.1h1.3v1.3h-1.3zM387.5 283.7h1.3v1.3h-1.3zM382.3 270.2h1.3v1.3h-1.3zM384.3 272.8h1.3v1.3h-1.3zM388.7 273.5h1.3v1.3h-1.3zM381.5 275.7h1.3v1.3h-1.3zM398.8 270.0h1.3v1.3h-1.3zM395.7 270.7h1.3v1.3h-1.3zM390.6 275.0h1.3v1.3h-1.3zM406.7 276.9h1.3v1.3h-1.3zM386.9 274.5h1.3v1.3h-1.3zM388.2 279.3h1.3v1.3h-1.3zM398.3 285.8h1.3v1.3h-1.3zM387.0 285.1h1.3v1.3h-1.3zM389.3 278.7h1.3v1.3h-1.3zM385.2 275.2h1.3v1.3h-1.3zM388.2 272.3h1.3v1.3h-1.3zM398.7 278.4h1.3v1.3h-1.3zM397.6 279.9h1.3v1.3h-1.3zM392.5 287.6h1.3v1.3h-1.3zM385.7 280.6h1.3v1.3h-1.3zM383.5 280.1h1.3v1.3h-1.3zM396.1 277.6h1.3v1.3h-1.3zM381.0 278.4h1.3v1.3h-1.3zM387.0 276.0h1.3v1.3h-1.3z"/>
<path fill="#cc2619" fill-opacity="0.35" d="M46.5 467.5h1.2v1.2h-1.2zM49.9 453.3h1.2v1.2h-1.2zM49.5 459.3h1.2v1.2h-1.2zM49.6 455.5h1.2v1.2h-1.2zM48.8 463.8h1.2v1.2h-1.2zM50.1 457.8h1.2v1.2h-1.2zM47.5 457.2h1.2v1.2h-1.2zM49.1 454.5h1.2v1.2h-1.2zM51.1 458.4h1.2v1.2h-1.2zM48.6 465.0h1.2v1.2h-1.2zM50.2 458.1h1.2v1.2h-1.2zM49.2 460.7h1.2v1.2h-1.2zM48.9 469.3h1.2v1.2h-1.2zM47.1 462.5h1.2v1.2h-1.2zM47.7 457.2h1.2v1.2h-1.2zM48.9 473.4h1.2v1.2h-1.2zM48.9 452.6h1.2v1.2h-1.2zM49.5 461.4h1.2v1.2h-1.2zM48.6 456.7h1.2v1.2h-1.2zM49.7 452.2h1.2v1.2h-1.2zM49.6 450.1h1.2v1.2h-1.2zM47.5 453.0h1.2v1.2h-1.2zM52.1 459.2h1.2v1.2h-1.2zM50.8 450.5h1.2v1.2h-1.2zM51.7 450.2h1.2v1.2h-1.2zM46.8 460.9h1.2v1.2h-1.2zM50.9 458.0h1.2v1.2h-1.2zM49.2 466.1h1.2v1.2h-1.2zM50.6 466.9h1.2v1.2h-1.2zM49.6 463.9h1.2v1.2h-1.2zM49.1 458.1h1.2v1.2h-1.2zM46.1 448.9h1.2v1.2h-1.2zM48.2 459.3h1.2v1.2h-1.2zM48.1 467.3h1.2v1.2h-1.2zM48.1 469.3h1.2v1.2h-1.2zM50.4 461.1h1.2v1.2h-1.2zM49.3 463.0h1.2v1.2h-1.2zM48.2 462.8h1.2v1.2h-1.2zM47.6 458.6h1.2v1.2h-1.2zM47.3 463.9h1.2v1.2h-1.2zM50.4 452.5h1.2v1.2h-1.2zM49.7 460.0h1.2v1.2h-1.2zM48.1 461.5h1.2v1.2h-1.2zM49.2 460.2h1.2v1.2h-1.2zM46.9 457.5h1.2v1.2h-1.2zM48.4 462.9h1.2v1.2h-1.2zM48.7 461.1h1.2v1.2h-1.2zM48.1 457.6h1.2v1.2h-1.2zM47.4 474.0h1.2v1.2h-1.2zM51.9 474.5h1.2v1.2h-1.2zM48.1 479.0h1.2v1.2h-1.2zM51.1 465.4h1.2v1.2h-1.2zM50.4 470.8h1.2v1.2h-1.2zM47.3 463.7h1.2v1.2h-1.2zM49.0 462.9h1.2v1.2h-1.2zM48.8 456.5h1.2v1.2h-1.2zM51.1 462.8h1.2v1.2h-1.2zM49.9 467.3h1.2v1.2h-1.2zM47.5 456.2h1.2v1.2h-1.2zM50.6 460.4h1.2v1.2h-1.2z"/>
<path fill="#cc2619" fill-opacity="0.38" d="M318.5 474.3h1.2v1.2h-1.2zM320.8 483.0h1.2v1.2h-1.2zM317.5 487.5h1.2v1.2h-1.2zM313.9 468.1h1.2v1.2h-1.2zM323.3 487.3h1.2v1.2h-1.2zM313.3 486.7h1.2v1.2h-1.2zM309.0 488.3h1.2v1.2h-1.2zM324.1 488.5h1.2v1.2h-1.2zM316.9 486.1h1.2v1.2h-1.2zM327.6 475.0h1.2v1.2h-1.2zM317.3 484.3h1.2v1.2h-1.2zM328.8 480.7h1.2v1.2h-1.2zM319.1 482.2h1.2v1.2h-1.2zM317.0 485.3h1.2v1.2h-1.2zM316.5 489.7h1.2v1.2h-1.2zM319.3 478.8h1.2v1.2h-1.2zM318.0 489.3h1.2v1.2h-1.2zM323.9 471.1h1.2v1.2h-1.2zM315.5 468.1h1.2v1.2h-1.2zM320.2 483.0h1.2v1.2h-1.2zM322.9 478.6h1.2v1.2h-1.2zM312.7 480.1h1.2v1.2h-1.2zM312.9 498.0h1.2v1.2h-1.2zM327.9 486.0h1.2v1.2h-1.2zM324.3 466.0h1.2v1.2h-1.2zM306.3 471.0h1.2v1.2h-1.2zM317.3 489.0h1.2v1.2h-1.2zM311.4 469.9h1.2v1.2h-1.2zM318.2 483.8h1.2v1.2h-1.2zM320.5 479.8h1.2v1.2h-1.2zM323.1 480.0h1.2v1.2h-1.2zM316.9 472.3h1.2v1.2h-1.2zM326.1 486.9h1.2v1.2h-1.2zM317.9 495.7h1.2v1.2h-1.2zM317.8 484.1h1.2v1.2h-1.2zM303.4 470.6h1.2v1.2h-1.2zM312.7 484.5h1.2v1.2h-1.2zM318.4 485.2h1.2v1.2h-1.2zM317.5 475.4h1.2v1.2h-1.2zM322.1 483.9h1.2v1.2h-1.2zM316.2 482.0h1.2v1.2h-1.2zM314.5 468.9h1.2v1.2h-1.2zM326.9 479.5h1.2v1.2h-1.2zM310.7 467.9h1.2v1.2h-1.2zM314.0 464.3h1.2v1.2h-1.2zM311.4 489.9h1.2v1.2h-1.2zM328.6 477.7h1.2v1.2h-1.2zM316.5 475.5h1.2v1.2h-1.2zM324.4 479.7h1.2v1.2h-1.2zM327.0 477.6h1.2v1.2h-1.2zM319.1 473.4h1.2v1.2h-1.2zM317.4 481.6h1.2v1.2h-1.2zM331.6 490.6h1.2v1.2h-1.2zM322.3 471.4h1.2v1.2h-1.2zM311.6 470.5h1.2v1.2h-1.2zM317.7 488.3h1.2v1.2h-1.2zM316.6 467.1h1.2v1.2h-1.2zM315.4 484.7h1.2v1.2h-1.2zM317.7 486.4h1.2v1.2h-1.2zM318.3 480.4h1.2v1.2h-1.2zM318.7 478.8h1.2v1.2h-1.2zM306.5 477.5h1.2v1.2h-1.2zM317.6 495.3h1.2v1.2h-1.2zM322.3 497.6h1.2v1.2h-1.2zM310.6 495.0h1.2v1.2h-1.2zM314.4 482.9h1.2v1.2h-1.2zM305.3 483.5h1.2v1.2h-1.2zM323.5 484.0h1.2v1.2h-1.2zM310.9 467.1h1.2v1.2h-1.2zM321.2 482.5h1.2v1.2h-1.2zM320.9 497.4h1.2v1.2h-1.2zM316.7 472.3h1.2v1.2h-1.2zM319.8 484.6h1.2v1.2h-1.2zM317.6 484.5h1.2v1.2h-1.2zM311.5 497.7h1.2v1.2h-1.2zM317.5 482.8h1.2v1.2h-1.2zM311.4 483.3h1.2v1.2h-1.2zM310.0 470.2h1.2v1.2h-1.2zM320.2 472.9h1.2v1.2h-1.2zM312.5 492.9h1.2v1.2h-1.2zM312.0 479.4h1.2v1.2h-1.2zM319.0 485.1h1.2v1.2h-1.2zM320.6 473.5h1.2v1.2h-1.2zM313.5 487.9h1.2v1.2h-1.2zM314.9 464.3h1.2v1.2h-1.2zM312.4 465.4h1.2v1.2h-1.2zM300.5 468.0h1.2v1.2h-1.2zM320.1 497.4h1.2v1.2h-1.2zM312.5 482.1h1.2v1.2h-1.2zM313.5 469.6h1.2v1.2h-1.2zM319.9 490.2h1.2v1.2h-1.2zM327.3 471.1h1.2v1.2h-1.2zM321.2 470.2h1.2v1.2h-1.2zM323.2 481.1h1.2v1.2h-1.2zM321.2 469.3h1.2v1.2h-1.2zM311.9 483.7h1.2v1.2h-1.2zM309.4 482.9h1.2v1.2h-1.2zM322.8 466.9h1.2v1.2h-1.2zM320.6 487.1h1.2v1.2h-1.2zM321.1 476.5h1.2v1.2h-1.2zM308.5 491.6h1.2v1.2h-1.2zM314.9 473.6h1.2v1.2h-1.2zM321.3 481.8h1.2v1.2h-1.2zM321.5 483.5h1.2v1.2h-1.2zM316.7 477.3h1.2v1.2h-1.2zM310.6 481.9h1.2v1.2h-1.2zM321.7 498.3h1.2v1.2h-1.2zM308.1 470.6h1.2v1.2h-1.2zM318.8 473.2h1.2v1.2h-1.2zM313.7 493.7h1.2v1.2h-1.2zM313.4 462.3h1.2v1.2h-1.2zM321.2 483.9h1.2v1.2h-1.2zM312.0 472.8h1.2v1.2h-1.2zM321.6 471.2h1.2v1.2h-1.2zM316.9 491.2h1.2v1.2h-1.2zM316.7 485.3h1.2v1.2h-1.2zM329.1 495.7h1.2v1.2h-1.2zM319.4 476.5h1.2v1.2h-1.2zM308.7 481.9h1.2v1.2h-1.2zM319.0 499.8h1.2v1.2h-1.2zM324.7 488.5h1.2v1.2h-1.2zM314.6 475.3h1.2v1.2h-1.2zM317.5 488.0h1.2v1.2h-1.2zM316.3 479.1h1.2v1.2h-1.2zM312.9 489.5h1.2v1.2h-1.2zM318.6 466.5h1.2v1.2h-1.2zM312.6 462.3h1.2v1.2h-1.2zM321.6 461.8h1.2v1.2h-1.2zM310.5 480.4h1.2v1.2h-1.2zM321.8 491.7h1.2v1.2h-1.2zM318.0 477.2h1.2v1.2h-1.2zM320.4 486.3h1.2v1.2h-1.2zM315.2 482.4h1.2v1.2h-1.2zM325.7 472.7h1.2v1.2h-1.2zM315.1 474.6h1.2v1.2h-1.2zM310.2 480.1h1.2v1.2h-1.2zM314.4 464.7h1.2v1.2h-1.2zM305.4 498.1h1.2v1.2h-1.2zM306.1 495.8h1.2v1.2h-1.2zM327.4 484.0h1.2v1.2h-1.2zM323.4 466.8h1.2v1.2h-1.2zM316.0 468.5h1.2v1.2h-1.2zM310.2 474.6h1.2v1.2h-1.2zM313.0 468.6h1.2v1.2h-1.2zM321.5 479.7h1.2v1.2h-1.2zM318.6 471.6h1.2v1.2h-1.2zM325.1 475.7h1.2v1.2h-1.2zM316.4 476.2h1.2v1.2h-1.2zM316.6 481.4h1.2v1.2h-1.2zM319.6 486.6h1.2v1.2h-1.2zM312.1 483.8h1.2v1.2h-1.2zM318.9 488.5h1.2v1.2h-1.2zM319.1 475.0h1.2v1.2h-1.2zM319.4 477.3h1.2v1.2h-1.2zM319.8 474.3h1.2v1.2h-1.2zM308.8 479.6h1.2v1.2h-1.2zM314.9 471.6h1.2v1.2h-1.2zM316.4 459.3h1.2v1.2h-1.2zM321.8 482.6h1.2v1.2h-1.2zM313.5 492.1h1.2v1.2h-1.2zM314.5 479.4h1.2v1.2h-1.2zM303.7 469.3h1.2v1.2h-1.2zM314.8 493.5h1.2v1.2h-1.2zM313.3 468.4h1.2v1.2h-1.2zM316.7 491.1h1.2v1.2h-1.2zM313.3 490.4h1.2v1.2h-1.2zM310.7 476.1h1.2v1.2h-1.2zM327.0 486.3h1.2v1.2h-1.2zM320.2 466.3h1.2v1.2h-1.2zM321.5 481.2h1.2v1.2h-1.2zM316.7 489.3h1.2v1.2h-1.2zM310.1 488.0h1.2v1.2h-1.2zM325.8 488.5h1.2v1.2h-1.2zM318.6 471.4h1.2v1.2h-1.2zM313.9 468.8h1.2v1.2h-1.2zM326.5 475.2h1.2v1.2h-1.2zM323.3 473.9h1.2v1.2h-1.2zM311.4 483.5h1.2v1.2h-1.2zM314.1 481.9h1.2v1.2h-1.2zM325.6 471.1h1.2v1.2h-1.2zM321.3 463.1h1.2v1.2h-1.2zM315.1 472.9h1.2v1.2h-1.2zM317.7 489.4h1.2v1.2h-1.2zM317.2 475.3h1.2v1.2h-1.2zM314.3 489.2h1.2v1.2h-1.2zM313.7 486.9h1.2v1.2h-1.2zM325.5 480.3h1.2v1.2h-1.2zM321.1 480.0h1.2v1.2h-1.2zM318.8 471.0h1.2v1.2h-1.2zM328.0 477.6h1.2v1.2h-1.2zM313.5 490.2h1.2v1.2h-1.2zM318.1 479.3h1.2v1.2h-1.2zM315.0 459.3h1.2v1.2h-1.2zM311.7 485.6h1.2v1.2h-1.2zM318.0 488.4h1.2v1.2h-1.2zM322.4 487.6h1.2v1.2h-1.2zM327.7 472.1h1.2v1.2h-1.2zM320.6 496.0h1.2v1.2h-1.2zM310.3 475.5h1.2v1.2h-1.2zM317.6 488.5h1.2v1.2h-1.2zM325.3 465.1h1.2v1.2h-1.2zM308.5 489.0h1.2v1.2h-1.2zM307.1 488.0h1.2v1.2h-1.2zM317.8 491.7h1.2v1.2h-1.2zM319.2 499.8h1.2v1.2h-1.2zM321.9 491.5h1.2v1.2h-1.2zM314.4 485.5h1.2v1.2h-1.2zM321.9 487.0h1.2v1.2h-1.2zM318.5 475.2h1.2v1.2h-1.2zM312.1 487.9h1.2v1.2h-1.2zM326.1 485.8h1.2v1.2h-1.2zM317.9 474.8h1.2v1.2h-1.2zM313.0 489.8h1.2v1.2h-1.2zM323.3 470.0h1.2v1.2h-1.2zM311.7 494.6h1.2v1.2h-1.2zM314.8 475.0h1.2v1.2h-1.2zM319.4 467.2h1.2v1.2h-1.2zM327.6 486.4h1.2v1.2h-1.2zM318.5 486.9h1.2v1.2h-1.2zM315.3 463.0h1.2v1.2h-1.2zM307.4 489.2h1.2v1.2h-1.2zM311.4 478.7h1.2v1.2h-1.2zM312.3 480.6h1.2v1.2h-1.2zM316.6 487.6h1.2v1.2h-1.2zM322.0 501.3h1.2v1.2h-1.2zM316.8 479.9h1.2v1.2h-1.2zM315.8 461.7h1.2v1.2h-1.2zM324.4 468.4h1.2v1.2h-1.2zM306.0 475.4h1.2v1.2h-1.2zM320.2 475.5h1.2v1.2h-1.2zM327.5 480.4h1.2v1.2h-1.2zM318.5 482.3h1.2v1.2h-1.2zM320.3 479.7h1.2v1.2h-1.2zM326.2 489.9h1.2v1.2h-1.2zM326.9 480.0h1.2v1.2h-1.2zM315.8 484.4h1.2v1.2h-1.2zM321.3 492.9h1.2v1.2h-1.2zM315.7 461.0h1.2v1.2h-1.2zM318.0 485.5h1.2v1.2h-1.2zM323.7 488.0h1.2v1.2h-1.2zM311.0 479.2h1.2v1.2h-1.2zM319.0 449.7h1.2v1.2h-1.2zM314.7 482.4h1.2v1.2h-1.2zM314.2 472.0h1.2v1.2h-1.2zM333.7 471.2h1.2v1.2h-1.2zM315.4 471.7h1.2v1.2h-1.2zM323.3 495.5h1.2v1.2h-1.2zM329.0 481.3h1.2v1.2h-1.2zM311.7 479.3h1.2v1.2h-1.2zM315.8 492.3h1.2v1.2h-1.2zM313.8 476.7h1.2v1.2h-1.2zM312.2 479.2h1.2v1.2h-1.2zM322.9 479.5h1.2v1.2h-1.2zM321.4 486.4h1.2v1.2h-1.2zM305.2 486.4h1.2v1.2h-1.2zM322.2 493.8h1.2v1.2h-1.2zM318.4 466.6h1.2v1.2h-1.2zM322.6 471.3h1.2v1.2h-1.2zM322.6 461.3h1.2v1.2h-1.2zM326.1 470.6h1.2v1.2h-1.2zM316.6 475.7h1.2v1.2h-1.2zM315.3 480.1h1.2v1.2h-1.2zM309.7 469.8h1.2v1.2h-1.2zM323.2 481.8h1.2v1.2h-1.2zM319.9 459.2h1.2v1.2h-1.2zM308.7 473.9h1.2v1.2h-1.2zM310.8 486.3h1.2v1.2h-1.2zM321.2 474.7h1.2v1.2h-1.2zM323.5 484.4h1.2v1.2h-1.2zM318.1 469.9h1.2v1.2h-1.2zM312.0 482.4h1.2v1.2h-1.2zM319.3 481.7h1.2v1.2h-1.2zM314.0 477.7h1.2v1.2h-1.2zM308.6 480.2h1.2v1.2h-1.2zM317.4 474.4h1.2v1.2h-1.2zM315.3 480.7h1.2v1.2h-1.2zM317.7 489.7h1.2v1.2h-1.2zM322.3 467.8h1.2v1.2h-1.2zM311.2 457.8h1.2v1.2h-1.2zM317.7 491.6h1.2v1.2h-1.2zM324.6 492.3h1.2v1.2h-1.2zM322.7 468.1h1.2v1.2h-1.2zM316.6 485.9h1.2v1.2h-1.2zM306.9 465.8h1.2v1.2h-1.2zM318.4 475.2h1.2v1.2h-1.2zM311.2 463.5h1.2v1.2h-1.2zM327.7 467.8h1.2v1.2h-1.2zM323.7 483.1h1.2v1.2h-1.2zM327.8 478.4h1.2v1.2h-1.2zM317.3 487.2h1.2v1.2h-1.2zM309.2 500.5h1.2v1.2h-1.2zM316.1 467.1h1.2v1.2h-1.2zM315.3 471.6h1.2v1.2h-1.2zM313.2 492.9h1.2v1.2h-1.2zM321.6 485.0h1.2v1.2h-1.2zM320.8 485.1h1.2v1.2h-1.2zM315.2 502.3h1.2v1.2h-1.2zM316.0 476.6h1.2v1.2h-1.2zM315.9 498.0h1.2v1.2h-1.2zM324.7 466.4h1.2v1.2h-1.2zM321.1 495.1h1.2v1.2h-1.2zM324.1 473.0h1.2v1.2h-1.2zM316.2 476.5h1.2v1.2h-1.2zM314.6 477.7h1.2v1.2h-1.2zM324.6 476.5h1.2v1.2h-1.2zM315.0 486.8h1.2v1.2h-1.2zM316.5 469.6h1.2v1.2h-1.2zM322.8 487.2h1.2v1.2h-1.2zM307.9 469.6h1.2v1.2h-1.2zM318.8 477.9h1.2v1.2h-1.2zM314.7 464.0h1.2v1.2h-1.2zM317.6 490.6h1.2v1.2h-1.2zM310.0 483.0h1.2v1.2h-1.2zM307.7 481.6h1.2v1.2h-1.2zM317.0 483.9h1.2v1.2h-1.2zM312.3 483.8h1.2v1.2h-1.2zM319.4 472.8h1.2v1.2h-1.2zM315.2 498.5h1.2v1.2h-1.2zM318.2 481.9h1.2v1.2h-1.2zM331.3 468.3h1.2v1.2h-1.2zM316.8 469.2h1.2v1.2h-1.2zM312.5 485.0h1.2v1.2h-1.2zM313.6 492.4h1.2v1.2h-1.2zM317.5 457.3h1.2v1.2h-1.2zM321.4 494.6h1.2v1.2h-1.2zM323.6 464.4h1.2v1.2h-1.2zM321.0 480.3h1.2v1.2h-1.2zM322.0 486.3h1.2v1.2h-1.2zM313.3 467.1h1.2v1.2h-1.2zM306.1 475.7h1.2v1.2h-1.2zM313.0 466.3h1.2v1.2h-1.2zM319.8 478.6h1.2v1.2h-1.2zM311.7 471.8h1.2v1.2h-1.2zM310.8 481.2h1.2v1.2h-1.2zM316.9 485.1h1.2v1.2h-1.2zM319.9 482.3h1.2v1.2h-1.2zM318.5 482.7h1.2v1.2h-1.2zM315.7 465.3h1.2v1.2h-1.2zM315.3 472.9h1.2v1.2h-1.2zM317.3 478.4h1.2v1.2h-1.2zM312.0 490.2h1.2v1.2h-1.2zM318.1 471.7h1.2v1.2h-1.2zM323.7 485.2h1.2v1.2h-1.2zM317.0 479.5h1.2v1.2h-1.2zM328.0 493.0h1.2v1.2h-1.2zM322.5 488.5h1.2v1.2h-1.2zM323.4 490.1h1.2v1.2h-1.2zM322.2 479.5h1.2v1.2h-1.2zM313.1 489.0h1.2v1.2h-1.2zM319.2 498.4h1.2v1.2h-1.2zM316.8 473.3h1.2v1.2h-1.2zM315.1 467.5h1.2v1.2h-1.2zM319.8 478.2h1.2v1.2h-1.2zM323.8 488.9h1.2v1.2h-1.2zM316.7 479.3h1.2v1.2h-1.2zM316.7 497.3h1.2v1.2h-1.2zM315.1 472.5h1.2v1.2h-1.2zM306.0 481.8h1.2v1.2h-1.2zM319.8 491.9h1.2v1.2h-1.2zM317.6 499.7h1.2v1.2h-1.2zM322.1 467.0h1.2v1.2h-1.2zM306.1 496.5h1.2v1.2h-1.2zM313.0 485.9h1.2v1.2h-1.2zM318.6 480.2h1.2v1.2h-1.2zM319.2 468.8h1.2v1.2h-1.2zM320.2 473.3h1.2v1.2h-1.2zM321.7 477.7h1.2v1.2h-1.2zM318.7 484.0h1.2v1.2h-1.2zM307.6 483.0h1.2v1.2h-1.2zM302.9 484.8h1.2v1.2h-1.2zM311.9 486.4h1.2v1.2h-1.2zM314.6 501.9h1.2v1.2h-1.2z"/>
<path fill="#cc2619" fill-opacity="0.42" d="M69.5 269.1h1.2v1.2h-1.2zM65.7 261.8h1.2v1.2h-1.2zM67.7 263.8h1.2v1.2h-1.2zM70.8 263.2h1.2v1.2h-1.2zM67.2 266.2h1.2v1.2h-1.2zM64.1 261.3h1.2v1.2h-1.2zM69.3 266.9h1.2v1.2h-1.2zM64.1 261.0h1.2v1.2h-1.2zM61.5 262.8h1.2v1.2h-1.2zM65.6 264.1h1.2v1.2h-1.2zM67.0 263.9h1.2v1.2h-1.2zM73.8 265.3h1.2v1.2h-1.2zM70.4 260.1h1.2v1.2h-1.2zM66.8 266.2h1.2v1.2h-1.2zM70.4 265.4h1.2v1.2h-1.2zM70.0 262.9h1.2v1.2h-1.2zM69.5 266.9h1.2v1.2h-1.2zM70.5 257.8h1.2v1.2h-1.2zM72.9 260.0h1.2v1.2h-1.2zM71.5 260.2h1.2v1.2h-1.2zM71.5 261.0h1.2v1.2h-1.2zM61.0 264.2h1.2v1.2h-1.2zM66.9 266.3h1.2v1.2h-1.2zM73.5 266.9h1.2v1.2h-1.2zM72.1 261.9h1.2v1.2h-1.2zM70.0 258.3h1.2v1.2h-1.2zM70.0 260.9h1.2v1.2h-1.2zM74.8 265.2h1.2v1.2h-1.2zM64.9 260.3h1.2v1.2h-1.2zM75.7 265.5h1.2v1.2h-1.2zM73.1 264.3h1.2v1.2h-1.2zM66.0 265.1h1.2v1.2h-1.2zM64.0 262.7h1.2v1.2h-1.2zM73.9 252.2h1.2v1.2h-1.2zM68.6 267.2h1.2v1.2h-1.2zM64.5 264.9h1.2v1.2h-1.2zM74.6 260.5h1.2v1.2h-1.2zM68.0 262.4h1.2v1.2h-1.2zM75.4 268.7h1.2v1.2h-1.2zM70.6 260.9h1.2v1.2h-1.2zM67.7 261.8h1.2v1.2h-1.2zM69.9 260.4h1.2v1.2h-1.2zM76.0 259.4h1.2v1.2h-1.2zM68.3 260.3h1.2v1.2h-1.2zM73.1 255.5h1.2v1.2h-1.2zM67.2 266.5h1.2v1.2h-1.2zM71.5 269.5h1.2v1.2h-1.2zM70.5 269.5h1.2v1.2h-1.2zM74.0 262.3h1.2v1.2h-1.2zM72.1 267.2h1.2v1.2h-1.2zM71.9 266.4h1.2v1.2h-1.2zM71.5 266.7h1.2v1.2h-1.2zM68.7 261.5h1.2v1.2h-1.2zM67.9 265.2h1.2v1.2h-1.2zM72.8 273.6h1.2v1.2h-1.2zM74.0 260.4h1.2v1.2h-1.2zM72.1 267.6h1.2v1.2h-1.2zM65.1 261.9h1.2v1.2h-1.2zM71.1 263.3h1.2v1.2h-1.2zM68.2 267.5h1.2v1.2h-1.2zM71.8 268.4h1.2v1.2h-1.2zM69.3 264.3h1.2v1.2h-1.2zM70.2 267.9h1.2v1.2h-1.2zM73.1 261.3h1.2v1.2h-1.2zM63.3 266.4h1.2v1.2h-1.2zM70.7 261.1h1.2v1.2h-1.2zM68.2 256.9h1.2v1.2h-1.2zM63.7 258.3h1.2v1.2h-1.2zM64.2 262.6h1.2v1.2h-1.2zM63.9 263.9h1.2v1.2h-1.2zM70.6 265.8h1.2v1.2h-1.2zM68.2 267.1h1.2v1.2h-1.2zM59.3 264.3h1.2v1.2h-1.2zM64.7 260.3h1.2v1.2h-1.2zM67.8 260.8h1.2v1.2h-1.2zM65.9 258.7h1.2v1.2h-1.2zM70.1 266.4h1.2v1.2h-1.2zM70.0 261.0h1.2v1.2h-1.2zM71.9 267.1h1.2v1.2h-1.2zM70.5 263.3h1.2v1.2h-1.2zM73.2 261.2h1.2v1.2h-1.2zM65.2 266.2h1.2v1.2h-1.2zM73.0 264.3h1.2v1.2h-1.2zM64.6 263.7h1.2v1.2h-1.2zM76.4 260.2h1.2v1.2h-1.2zM71.9 262.2h1.2v1.2h-1.2zM71.4 262.1h1.2v1.2h-1.2zM77.0 268.1h1.2v1.2h-1.2zM67.7 263.6h1.2v1.2h-1.2zM70.2 263.0h1.2v1.2h-1.2zM69.6 260.6h1.2v1.2h-1.2zM69.1 261.9h1.2v1.2h-1.2zM67.5 255.8h1.2v1.2h-1.2zM69.2 265.7h1.2v1.2h-1.2zM65.5 263.3h1.2v1.2h-1.2zM67.9 261.7h1.2v1.2h-1.2zM64.5 257.7h1.2v1.2h-1.2zM71.1 264.0h1.2v1.2h-1.2zM72.5 262.9h1.2v1.2h-1.2zM66.8 265.7h1.2v1.2h-1.2zM74.5 260.1h1.2v1.2h-1.2zM68.3 268.9h1.2v1.2h-1.2zM72.3 266.4h1.2v1.2h-1.2zM69.2 260.0h1.2v1.2h-1.2zM65.6 263.2h1.2v1.2h-1.2zM68.8 263.0h1.2v1.2h-1.2zM73.9 265.3h1.2v1.2h-1.2zM65.5 264.8h1.2v1.2h-1.2zM71.4 260.7h1.2v1.2h-1.2zM63.2 262.7h1.2v1.2h-1.2zM67.0 268.5h1.2v1.2h-1.2zM65.5 273.2h1.2v1.2h-1.2zM70.9 260.5h1.2v1.2h-1.2zM68.3 261.6h1.2v1.2h-1.2zM72.3 265.6h1.2v1.2h-1.2zM70.6 255.6h1.2v1.2h-1.2zM67.9 266.3h1.2v1.2h-1.2zM78.3 263.0h1.2v1.2h-1.2zM68.3 262.2h1.2v1.2h-1.2zM69.9 259.6h1.2v1.2h-1.2zM70.7 265.3h1.2v1.2h-1.2zM71.7 261.6h1.2v1.2h-1.2zM64.1 261.6h1.2v1.2h-1.2zM68.4 260.5h1.2v1.2h-1.2zM68.9 266.2h1.2v1.2h-1.2zM65.9 267.9h1.2v1.2h-1.2zM72.6 262.9h1.2v1.2h-1.2zM63.6 267.0h1.2v1.2h-1.2zM70.3 263.3h1.2v1.2h-1.2zM67.3 265.4h1.2v1.2h-1.2zM63.2 259.2h1.2v1.2h-1.2zM65.0 261.6h1.2v1.2h-1.2zM66.7 262.8h1.2v1.2h-1.2zM69.1 259.4h1.2v1.2h-1.2zM73.6 266.3h1.2v1.2h-1.2zM72.3 269.0h1.2v1.2h-1.2zM68.4 256.7h1.2v1.2h-1.2zM68.6 263.1h1.2v1.2h-1.2zM73.3 259.9h1.2v1.2h-1.2zM71.4 261.1h1.2v1.2h-1.2zM66.3 261.1h1.2v1.2h-1.2zM74.3 262.6h1.2v1.2h-1.2zM68.2 264.3h1.2v1.2h-1.2zM70.8 266.2h1.2v1.2h-1.2zM62.3 265.7h1.2v1.2h-1.2zM68.9 262.4h1.2v1.2h-1.2zM71.9 263.9h1.2v1.2h-1.2zM70.7 266.9h1.2v1.2h-1.2zM65.5 268.8h1.2v1.2h-1.2zM69.3 260.9h1.2v1.2h-1.2zM71.1 267.3h1.2v1.2h-1.2zM69.5 265.0h1.2v1.2h-1.2zM72.0 261.5h1.2v1.2h-1.2zM73.7 260.4h1.2v1.2h-1.2zM64.8 265.9h1.2v1.2h-1.2zM72.1 258.5h1.2v1.2h-1.2zM70.9 260.6h1.2v1.2h-1.2zM65.3 259.7h1.2v1.2h-1.2zM66.4 260.6h1.2v1.2h-1.2zM73.4 268.2h1.2v1.2h-1.2zM70.4 267.5h1.2v1.2h-1.2zM71.8 268.5h1.2v1.2h-1.2zM63.4 263.8h1.2v1.2h-1.2zM68.0 262.0h1.2v1.2h-1.2zM68.5 267.2h1.2v1.2h-1.2zM70.5 264.0h1.2v1.2h-1.2zM71.7 266.6h1.2v1.2h-1.2zM70.6 262.9h1.2v1.2h-1.2zM72.6 265.3h1.2v1.2h-1.2zM68.4 263.7h1.2v1.2h-1.2zM65.6 262.8h1.2v1.2h-1.2zM70.2 266.1h1.2v1.2h-1.2zM63.4 265.0h1.2v1.2h-1.2zM66.6 259.1h1.2v1.2h-1.2zM68.9 262.9h1.2v1.2h-1.2zM69.7 263.0h1.2v1.2h-1.2zM71.5 267.3h1.2v1.2h-1.2zM75.0 265.7h1.2v1.2h-1.2zM62.1 258.2h1.2v1.2h-1.2zM71.6 259.3h1.2v1.2h-1.2zM68.1 266.4h1.2v1.2h-1.2zM73.6 263.0h1.2v1.2h-1.2zM71.9 263.9h1.2v1.2h-1.2zM70.8 257.0h1.2v1.2h-1.2zM73.9 265.6h1.2v1.2h-1.2zM65.1 262.0h1.2v1.2h-1.2zM68.4 261.7h1.2v1.2h-1.2zM74.9 260.2h1.2v1.2h-1.2zM73.3 266.0h1.2v1.2h-1.2zM73.2 257.7h1.2v1.2h-1.2zM69.4 265.9h1.2v1.2h-1.2zM67.5 259.4h1.2v1.2h-1.2zM62.4 266.6h1.2v1.2h-1.2zM74.9 268.0h1.2v1.2h-1.2zM70.6 263.8h1.2v1.2h-1.2zM77.3 262.3h1.2v1.2h-1.2zM69.6 258.2h1.2v1.2h-1.2zM74.6 260.9h1.2v1.2h-1.2zM75.5 265.2h1.2v1.2h-1.2zM66.1 264.5h1.2v1.2h-1.2z"/>
<path fill="#cc2619" fill-opacity="0.45" d="M188.5 262.8h1.1v1.1h-1.1zM171.4 257.3h1.1v1.1h-1.1zM174.0 262.8h1.1v1.1h-1.1zM179.6 256.5h1.1v1.1h-1.1zM188.2 253.3h1.1v1.1h-1.1zM182.6 253.8h1.1v1.1h-1.1zM178.6 259.5h1.1v1.1h-1.1zM188.6 262.0h1.1v1.1h-1.1zM168.8 255.0h1.1v1.1h-1.1zM180.5 258.4h1.1v1.1h-1.1zM179.9 258.6h1.1v1.1h-1.1zM184.8 259.1h1.1v1.1h-1.1zM183.4 253.1h1.1v1.1h-1.1zM172.8 254.9h1.1v1.1h-1.1zM187.5 253.7h1.1v1.1h-1.1zM185.9 261.4h1.1v1.1h-1.1zM177.8 261.1h1.1v1.1h-1.1zM177.6 259.8h1.1v1.1h-1.1zM179.6 256.8h1.1v1.1h-1.1zM183.2 259.0h1.1v1.1h-1.1zM173.0 257.0h1.1v1.1h-1.1zM171.9 259.9h1.1v1.1h-1.1zM175.4 265.2h1.1v1.1h-1.1zM169.7 254.8h1.1v1.1h-1.1zM170.3 255.2h1.1v1.1h-1.1zM172.5 250.3h1.1v1.1h-1.1zM179.1 258.9h1.1v1.1h-1.1zM185.5 260.2h1.1v1.1h-1.1zM188.6 260.4h1.1v1.1h-1.1zM191.1 255.8h1.1v1.1h-1.1zM183.0 258.8h1.1v1.1h-1.1zM176.2 258.5h1.1v1.1h-1.1zM184.0 261.5h1.1v1.1h-1.1zM182.3 258.5h1.1v1.1h-1.1zM175.3 256.9h1.1v1.1h-1.1zM190.6 257.7h1.1v1.1h-1.1zM172.1 258.6h1.1v1.1h-1.1zM182.5 262.5h1.1v1.1h-1.1zM176.9 263.6h1.1v1.1h-1.1zM182.2 268.7h1.1v1.1h-1.1zM168.3 265.2h1.1v1.1h-1.1zM180.3 258.1h1.1v1.1h-1.1zM187.4 254.7h1.1v1.1h-1.1zM186.2 257.4h1.1v1.1h-1.1zM183.6 260.3h1.1v1.1h-1.1zM177.1 259.7h1.1v1.1h-1.1zM186.9 252.7h1.1v1.1h-1.1zM188.0 261.0h1.1v1.1h-1.1zM184.0 259.3h1.1v1.1h-1.1zM173.2 255.6h1.1v1.1h-1.1zM173.6 263.6h1.1v1.1h-1.1zM185.6 259.6h1.1v1.1h-1.1zM171.6 257.9h1.1v1.1h-1.1zM179.8 255.4h1.1v1.1h-1.1zM180.0 258.8h1.1v1.1h-1.1zM177.0 259.5h1.1v1.1h-1.1zM179.1 261.9h1.1v1.1h-1.1zM177.7 263.7h1.1v1.1h-1.1zM187.6 255.1h1.1v1.1h-1.1zM180.1 261.2h1.1v1.1h-1.1zM185.9 254.4h1.1v1.1h-1.1zM174.6 253.3h1.1v1.1h-1.1zM184.0 260.6h1.1v1.1h-1.1zM171.1 260.3h1.1v1.1h-1.1zM178.4 257.5h1.1v1.1h-1.1zM170.7 252.8h1.1v1.1h-1.1zM172.6 258.5h1.1v1.1h-1.1zM178.6 252.4h1.1v1.1h-1.1zM184.9 252.8h1.1v1.1h-1.1zM173.2 259.7h1.1v1.1h-1.1zM179.3 260.9h1.1v1.1h-1.1zM197.2 259.9h1.1v1.1h-1.1zM193.4 250.9h1.1v1.1h-1.1zM184.4 253.8h1.1v1.1h-1.1zM174.1 260.1h1.1v1.1h-1.1zM173.2 256.8h1.1v1.1h-1.1zM176.2 256.7h1.1v1.1h-1.1zM175.2 253.7h1.1v1.1h-1.1zM188.8 252.9h1.1v1.1h-1.1zM180.4 259.5h1.1v1.1h-1.1zM174.4 264.5h1.1v1.1h-1.1zM187.3 261.9h1.1v1.1h-1.1zM175.1 255.6h1.1v1.1h-1.1zM174.9 254.4h1.1v1.1h-1.1zM171.6 260.5h1.1v1.1h-1.1zM185.5 256.6h1.1v1.1h-1.1zM185.1 260.1h1.1v1.1h-1.1zM182.5 256.6h1.1v1.1h-1.1zM188.8 254.3h1.1v1.1h-1.1zM178.0 260.1h1.1v1.1h-1.1zM181.2 258.9h1.1v1.1h-1.1zM183.5 259.1h1.1v1.1h-1.1zM181.5 253.2h1.1v1.1h-1.1zM173.1 258.3h1.1v1.1h-1.1zM175.7 252.1h1.1v1.1h-1.1zM179.1 258.8h1.1v1.1h-1.1zM177.7 247.7h1.1v1.1h-1.1zM187.0 260.4h1.1v1.1h-1.1zM174.0 257.0h1.1v1.1h-1.1zM180.0 260.4h1.1v1.1h-1.1z"/>
<path fill="#cc2619" fill-opacity="0.45" d="M194.4 461.7h1.2v1.2h-1.2zM183.0 462.4h1.2v1.2h-1.2zM180.8 459.6h1.2v1.2h-1.2zM188.3 462.2h1.2v1.2h-1.2zM186.2 456.8h1.2v1.2h-1.2zM191.8 459.0h1.2v1.2h-1.2zM180.6 461.8h1.2v1.2h-1.2zM183.7 462.0h1.2v1.2h-1.2zM175.6 462.7h1.2v1.2h-1.2zM183.2 461.2h1.2v1.2h-1.2zM184.2 459.6h1.2v1.2h-1.2zM183.3 459.3h1.2v1.2h-1.2zM189.4 458.9h1.2v1.2h-1.2zM182.1 457.4h1.2v1.2h-1.2zM181.5 459.7h1.2v1.2h-1.2zM192.4 461.1h1.2v1.2h-1.2zM189.9 460.5h1.2v1.2h-1.2zM186.7 456.2h1.2v1.2h-1.2zM190.3 458.0h1.2v1.2h-1.2zM184.1 461.9h1.2v1.2h-1.2zM183.3 461.5h1.2v1.2h-1.2zM187.5 461.0h1.2v1.2h-1.2zM199.6 459.2h1.2v1.2h-1.2zM180.6 459.7h1.2v1.2h-1.2zM191.9 456.4h1.2v1.2h-1.2zM184.4 457.9h1.2v1.2h-1.2zM181.8 459.3h1.2v1.2h-1.2zM180.4 460.2h1.2v1.2h-1.2zM185.1 460.0h1.2v1.2h-1.2zM187.7 461.8h1.2v1.2h-1.2zM186.9 456.3h1.2v1.2h-1.2zM188.5 460.8h1.2v1.2h-1.2zM190.7 465.5h1.2v1.2h-1.2zM182.3 461.5h1.2v1.2h-1.2zM179.0 461.4h1.2v1.2h-1.2zM187.2 462.1h1.2v1.2h-1.2zM186.9 460.5h1.2v1.2h-1.2zM185.4 458.8h1.2v1.2h-1.2zM184.9 458.5h1.2v1.2h-1.2zM180.6 455.1h1.2v1.2h-1.2zM189.2 462.6h1.2v1.2h-1.2zM181.3 458.7h1.2v1.2h-1.2zM180.2 462.4h1.2v1.2h-1.2zM197.1 460.7h1.2v1.2h-1.2zM185.1 462.2h1.2v1.2h-1.2zM183.8 464.2h1.2v1.2h-1.2zM190.2 463.0h1.2v1.2h-1.2zM186.5 464.3h1.2v1.2h-1.2zM184.9 462.0h1.2v1.2h-1.2zM185.3 458.4h1.2v1.2h-1.2zM177.6 459.0h1.2v1.2h-1.2zM183.0 456.9h1.2v1.2h-1.2zM180.8 458.6h1.2v1.2h-1.2zM182.3 462.8h1.2v1.2h-1.2zM199.0 461.4h1.2v1.2h-1.2zM189.2 462.6h1.2v1.2h-1.2zM196.7 462.6h1.2v1.2h-1.2zM190.0 460.8h1.2v1.2h-1.2zM186.2 465.2h1.2v1.2h-1.2zM184.1 460.9h1.2v1.2h-1.2zM193.2 459.6h1.2v1.2h-1.2zM177.4 462.3h1.2v1.2h-1.2zM183.4 458.6h1.2v1.2h-1.2zM188.2 460.4h1.2v1.2h-1.2zM174.3 465.4h1.2v1.2h-1.2zM188.2 462.5h1.2v1.2h-1.2zM181.1 459.1h1.2v1.2h-1.2zM189.5 461.6h1.2v1.2h-1.2zM182.1 462.6h1.2v1.2h-1.2zM190.1 463.0h1.2v1.2h-1.2zM180.2 459.1h1.2v1.2h-1.2zM191.8 457.6h1.2v1.2h-1.2zM191.2 456.6h1.2v1.2h-1.2zM188.5 461.7h1.2v1.2h-1.2zM188.3 461.3h1.2v1.2h-1.2zM175.0 460.9h1.2v1.2h-1.2zM175.4 457.4h1.2v1.2h-1.2zM191.0 458.4h1.2v1.2h-1.2zM178.7 462.8h1.2v1.2h-1.2zM183.2 458.5h1.2v1.2h-1.2zM186.4 457.6h1.2v1.2h-1.2zM184.8 459.8h1.2v1.2h-1.2zM183.0 461.4h1.2v1.2h-1.2zM190.5 453.9h1.2v1.2h-1.2zM178.6 462.6h1.2v1.2h-1.2zM182.3 457.1h1.2v1.2h-1.2zM183.3 460.3h1.2v1.2h-1.2zM190.7 461.6h1.2v1.2h-1.2zM183.5 459.6h1.2v1.2h-1.2zM179.2 462.2h1.2v1.2h-1.2zM194.0 464.3h1.2v1.2h-1.2zM180.5 458.7h1.2v1.2h-1.2zM181.1 463.6h1.2v1.2h-1.2zM183.1 465.0h1.2v1.2h-1.2zM183.2 463.3h1.2v1.2h-1.2zM187.2 460.4h1.2v1.2h-1.2zM178.0 459.1h1.2v1.2h-1.2zM190.5 458.9h1.2v1.2h-1.2zM188.7 461.1h1.2v1.2h-1.2zM191.7 460.4h1.2v1.2h-1.2z"/>
<path fill="#cc2619" fill-opacity="0.45" d="M186.5 53.5h1.3v1.3h-1.3zM184.3 50.4h1.3v1.3h-1.3zM174.3 52.9h1.3v1.3h-1.3zM174.1 58.1h1.3v1.3h-1.3zM180.8 67.0h1.3v1.3h-1.3zM181.0 52.5h1.3v1.3h-1.3zM180.0 52.1h1.3v1.3h-1.3zM183.1 56.7h1.3v1.3h-1.3zM172.5 59.6h1.3v1.3h-1.3zM181.7 60.7h1.3v1.3h-1.3zM179.1 56.3h1.3v1.3h-1.3zM180.2 51.9h1.3v1.3h-1.3zM188.8 57.7h1.3v1.3h-1.3zM181.4 54.0h1.3v1.3h-1.3zM178.0 56.5h1.3v1.3h-1.3zM179.4 52.2h1.3v1.3h-1.3zM181.0 54.1h1.3v1.3h-1.3zM186.2 52.0h1.3v1.3h-1.3zM175.4 60.1h1.3v1.3h-1.3zM181.1 51.6h1.3v1.3h-1.3zM186.2 58.6h1.3v1.3h-1.3zM174.2 59.3h1.3v1.3h-1.3zM185.8 61.9h1.3v1.3h-1.3zM182.9 52.9h1.3v1.3h-1.3zM181.2 61.3h1.3v1.3h-1.3zM180.4 60.2h1.3v1.3h-1.3zM177.4 54.5h1.3v1.3h-1.3zM183.7 57.8h1.3v1.3h-1.3zM184.0 48.2h1.3v1.3h-1.3zM186.3 59.3h1.3v1.3h-1.3zM185.3 51.3h1.3v1.3h-1.3zM186.5 54.0h1.3v1.3h-1.3zM177.4 56.2h1.3v1.3h-1.3zM176.3 52.2h1.3v1.3h-1.3zM183.6 55.2h1.3v1.3h-1.3zM177.5 63.5h1.3v1.3h-1.3zM180.0 52.0h1.3v1.3h-1.3zM180.0 54.8h1.3v1.3h-1.3zM182.0 56.3h1.3v1.3h-1.3zM182.6 53.4h1.3v1.3h-1.3zM178.9 58.1h1.3v1.3h-1.3zM180.8 53.8h1.3v1.3h-1.3zM183.8 55.5h1.3v1.3h-1.3zM177.9 53.7h1.3v1.3h-1.3zM184.3 57.0h1.3v1.3h-1.3zM180.7 62.2h1.3v1.3h-1.3zM181.2 54.5h1.3v1.3h-1.3zM182.3 53.6h1.3v1.3h-1.3zM178.0 58.0h1.3v1.3h-1.3zM183.2 55.7h1.3v1.3h-1.3zM181.0 48.8h1.3v1.3h-1.3zM183.9 44.4h1.3v1.3h-1.3zM183.9 53.0h1.3v1.3h-1.3zM178.1 50.1h1.3v1.3h-1.3zM182.3 62.5h1.3v1.3h-1.3zM185.9 52.3h1.3v1.3h-1.3zM182.0 51.9h1.3v1.3h-1.3zM183.4 52.2h1.3v1.3h-1.3zM179.6 60.6h1.3v1.3h-1.3zM177.9 52.2h1.3v1.3h-1.3zM184.6 49.1h1.3v1.3h-1.3zM173.2 53.9h1.3v1.3h-1.3zM178.1 57.8h1.3v1.3h-1.3zM184.8 54.9h1.3v1.3h-1.3zM186.6 61.6h1.3v1.3h-1.3zM180.0 51.8h1.3v1.3h-1.3zM183.5 49.3h1.3v1.3h-1.3zM176.7 56.9h1.3v1.3h-1.3zM186.1 53.7h1.3v1.3h-1.3zM184.8 58.2h1.3v1.3h-1.3zM178.0 65.6h1.3v1.3h-1.3zM177.6 57.0h1.3v1.3h-1.3zM182.0 48.1h1.3v1.3h-1.3zM186.6 58.5h1.3v1.3h-1.3zM186.2 53.1h1.3v1.3h-1.3zM179.8 65.2h1.3v1.3h-1.3zM185.6 57.3h1.3v1.3h-1.3zM183.0 60.5h1.3v1.3h-1.3zM174.6 60.5h1.3v1.3h-1.3zM185.4 57.5h1.3v1.3h-1.3zM180.9 57.4h1.3v1.3h-1.3zM184.6 50.2h1.3v1.3h-1.3zM178.4 59.6h1.3v1.3h-1.3zM180.0 55.8h1.3v1.3h-1.3zM180.8 56.3h1.3v1.3h-1.3zM187.7 60.2h1.3v1.3h-1.3zM182.0 51.8h1.3v1.3h-1.3zM189.6 56.3h1.3v1.3h-1.3zM184.1 56.7h1.3v1.3h-1.3zM184.4 50.8h1.3v1.3h-1.3zM174.9 58.2h1.3v1.3h-1.3zM185.9 52.6h1.3v1.3h-1.3zM182.7 54.6h1.3v1.3h-1.3zM175.3 54.6h1.3v1.3h-1.3zM183.9 51.3h1.3v1.3h-1.3zM179.1 52.8h1.3v1.3h-1.3zM180.7 49.7h1.3v1.3h-1.3zM186.2 55.0h1.3v1.3h-1.3zM183.9 62.5h1.3v1.3h-1.3zM179.3 56.0h1.3v1.3h-1.3zM185.9 54.2h1.3v1.3h-1.3zM182.7 57.9h1.3v1.3h-1.3zM181.1 65.2h1.3v1.3h-1.3zM181.8 54.3h1.3v1.3h-1.3zM180.3 51.7h1.3v1.3h-1.3zM175.3 58.1h1.3v1.3h-1.3zM180.5 58.8h1.3v1.3h-1.3zM187.7 52.2h1.3v1.3h-1.3zM184.6 49.2h1.3v1.3h-1.3zM187.8 53.5h1.3v1.3h-1.3zM181.3 51.8h1.3v1.3h-1.3zM178.7 45.6h1.3v1.3h-1.3zM175.6 52.4h1.3v1.3h-1.3zM183.4 59.6h1.3v1.3h-1.3zM175.0 54.1h1.3v1.3h-1.3zM178.4 55.0h1.3v1.3h-1.3zM185.9 54.9h1.3v1.3h-1.3zM187.0 60.9h1.3v1.3h-1.3zM174.8 63.2h1.3v1.3h-1.3zM188.0 56.7h1.3v1.3h-1.3zM178.6 49.2h1.3v1.3h-1.3zM186.0 56.5h1.3v1.3h-1.3zM178.0 55.3h1.3v1.3h-1.3zM186.0 58.5h1.3v1.3h-1.3zM173.6 64.7h1.3v1.3h-1.3zM181.7 59.6h1.3v1.3h-1.3zM180.2 53.4h1.3v1.3h-1.3zM182.4 56.8h1.3v1.3h-1.3zM185.4 49.2h1.3v1.3h-1.3zM183.7 57.7h1.3v1.3h-1.3zM180.6 54.1h1.3v1.3h-1.3zM183.8 56.4h1.3v1.3h-1.3zM181.9 52.1h1.3v1.3h-1.3zM181.3 52.8h1.3v1.3h-1.3zM177.4 50.5h1.3v1.3h-1.3zM179.8 53.3h1.3v1.3h-1.3zM178.4 56.1h1.3v1.3h-1.3zM179.8 58.8h1.3v1.3h-1.3zM183.5 53.9h1.3v1.3h-1.3zM175.8 59.9h1.3v1.3h-1.3zM187.4 58.9h1.3v1.3h-1.3zM186.0 52.0h1.3v1.3h-1.3zM185.3 53.2h1.3v1.3h-1.3zM183.7 41.2h1.3v1.3h-1.3zM177.0 55.5h1.3v1.3h-1.3zM187.2 53.4h1.3v1.3h-1.3zM177.3 55.2h1.3v1.3h-1.3zM179.2 44.1h1.3v1.3h-1.3zM176.9 55.2h1.3v1.3h-1.3zM180.2 55.3h1.3v1.3h-1.3zM184.2 49.2h1.3v1.3h-1.3zM177.0 50.6h1.3v1.3h-1.3zM182.9 51.1h1.3v1.3h-1.3zM178.7 54.0h1.3v1.3h-1.3zM175.9 53.2h1.3v1.3h-1.3zM178.9 54.3h1.3v1.3h-1.3zM181.1 56.6h1.3v1.3h-1.3zM176.7 58.1h1.3v1.3h-1.3zM177.7 60.4h1.3v1.3h-1.3zM178.0 58.6h1.3v1.3h-1.3zM182.8 60.4h1.3v1.3h-1.3zM181.9 58.3h1.3v1.3h-1.3zM176.2 58.0h1.3v1.3h-1.3zM178.5 55.1h1.3v1.3h-1.3zM175.7 52.5h1.3v1.3h-1.3zM181.8 57.5h1.3v1.3h-1.3zM183.8 52.4h1.3v1.3h-1.3zM177.1 53.5h1.3v1.3h-1.3zM177.9 55.1h1.3v1.3h-1.3zM185.0 60.8h1.3v1.3h-1.3zM177.3 46.2h1.3v1.3h-1.3zM173.6 55.5h1.3v1.3h-1.3zM169.5 55.1h1.3v1.3h-1.3zM183.0 58.5h1.3v1.3h-1.3zM181.9 50.9h1.3v1.3h-1.3zM173.7 51.9h1.3v1.3h-1.3zM181.7 56.9h1.3v1.3h-1.3zM186.9 56.0h1.3v1.3h-1.3zM184.1 54.3h1.3v1.3h-1.3zM177.1 55.2h1.3v1.3h-1.3zM173.9 55.7h1.3v1.3h-1.3zM185.3 51.6h1.3v1.3h-1.3zM172.8 56.9h1.3v1.3h-1.3zM178.2 56.6h1.3v1.3h-1.3zM175.5 56.2h1.3v1.3h-1.3zM182.0 62.4h1.3v1.3h-1.3zM180.4 56.4h1.3v1.3h-1.3zM178.7 46.9h1.3v1.3h-1.3zM190.9 48.8h1.3v1.3h-1.3zM191.7 58.8h1.3v1.3h-1.3zM188.2 50.1h1.3v1.3h-1.3zM187.3 55.7h1.3v1.3h-1.3zM184.1 64.1h1.3v1.3h-1.3zM181.1 56.8h1.3v1.3h-1.3zM176.1 51.9h1.3v1.3h-1.3zM177.3 54.4h1.3v1.3h-1.3zM187.2 58.2h1.3v1.3h-1.3zM186.6 55.6h1.3v1.3h-1.3zM185.0 58.1h1.3v1.3h-1.3zM178.7 53.8h1.3v1.3h-1.3zM181.4 52.0h1.3v1.3h-1.3zM184.0 52.1h1.3v1.3h-1.3zM179.7 51.0h1.3v1.3h-1.3zM180.6 57.1h1.3v1.3h-1.3zM180.4 54.4h1.3v1.3h-1.3zM177.3 56.2h1.3v1.3h-1.3zM180.6 58.5h1.3v1.3h-1.3zM173.1 56.1h1.3v1.3h-1.3zM182.3 51.8h1.3v1.3h-1.3zM176.7 51.9h1.3v1.3h-1.3zM180.4 49.4h1.3v1.3h-1.3zM183.4 56.3h1.3v1.3h-1.3zM182.1 52.1h1.3v1.3h-1.3zM180.1 54.8h1.3v1.3h-1.3zM178.5 53.6h1.3v1.3h-1.3zM182.0 55.5h1.3v1.3h-1.3zM181.7 60.5h1.3v1.3h-1.3zM181.4 54.3h1.3v1.3h-1.3zM177.7 55.2h1.3v1.3h-1.3zM176.5 51.2h1.3v1.3h-1.3zM184.0 57.0h1.3v1.3h-1.3zM185.4 50.7h1.3v1.3h-1.3zM183.8 60.0h1.3v1.3h-1.3zM179.8 57.2h1.3v1.3h-1.3zM177.3 58.3h1.3v1.3h-1.3zM176.8 47.9h1.3v1.3h-1.3zM179.6 68.0h1.3v1.3h-1.3zM177.5 59.9h1.3v1.3h-1.3zM177.9 58.2h1.3v1.3h-1.3zM178.8 48.8h1.3v1.3h-1.3zM182.1 55.7h1.3v1.3h-1.3zM179.3 58.4h1.3v1.3h-1.3zM172.3 58.8h1.3v1.3h-1.3zM180.4 58.3h1.3v1.3h-1.3zM178.1 57.0h1.3v1.3h-1.3zM177.2 58.1h1.3v1.3h-1.3zM186.4 60.1h1.3v1.3h-1.3zM176.9 50.0h1.3v1.3h-1.3zM179.0 56.3h1.3v1.3h-1.3zM181.0 46.6h1.3v1.3h-1.3zM186.3 51.0h1.3v1.3h-1.3zM183.7 57.9h1.3v1.3h-1.3zM180.9 54.2h1.3v1.3h-1.3zM180.5 59.5h1.3v1.3h-1.3zM181.6 54.4h1.3v1.3h-1.3zM180.5 61.4h1.3v1.3h-1.3zM184.8 55.5h1.3v1.3h-1.3zM181.0 50.6h1.3v1.3h-1.3zM181.2 52.1h1.3v1.3h-1.3zM180.8 52.9h1.3v1.3h-1.3zM176.5 49.8h1.3v1.3h-1.3zM184.4 56.7h1.3v1.3h-1.3zM177.3 63.1h1.3v1.3h-1.3zM185.1 57.2h1.3v1.3h-1.3zM183.1 55.3h1.3v1.3h-1.3zM182.8 54.9h1.3v1.3h-1.3zM177.1 54.1h1.3v1.3h-1.3zM180.0 52.1h1.3v1.3h-1.3zM173.4 56.9h1.3v1.3h-1.3zM185.8 63.1h1.3v1.3h-1.3z"/>
<path fill="#cc2619" fill-opacity="0.48" d="M434.3 480.3h1.2v1.2h-1.2zM413.0 474.7h1.2v1.2h-1.2zM428.4 473.7h1.2v1.2h-1.2zM421.0 476.8h1.2v1.2h-1.2zM418.7 475.9h1.2v1.2h-1.2zM428.2 486.7h1.2v1.2h-1.2zM427.6 478.2h1.2v1.2h-1.2zM423.2 477.1h1.2v1.2h-1.2zM408.8 474.7h1.2v1.2h-1.2zM426.7 479.1h1.2v1.2h-1.2zM411.1 471.4h1.2v1.2h-1.2zM418.3 484.9h1.2v1.2h-1.2zM418.6 464.2h1.2v1.2h-1.2zM420.8 470.3h1.2v1.2h-1.2zM424.0 486.7h1.2v1.2h-1.2zM421.6 471.2h1.2v1.2h-1.2zM425.2 476.2h1.2v1.2h-1.2zM422.2 466.9h1.2v1.2h-1.2zM414.1 474.7h1.2v1.2h-1.2zM421.2 478.6h1.2v1.2h-1.2zM430.2 472.8h1.2v1.2h-1.2zM422.8 482.3h1.2v1.2h-1.2zM428.8 480.5h1.2v1.2h-1.2zM428.1 463.7h1.2v1.2h-1.2zM418.9 471.8h1.2v1.2h-1.2zM420.3 470.7h1.2v1.2h-1.2zM423.2 481.1h1.2v1.2h-1.2zM427.5 482.5h1.2v1.2h-1.2zM427.0 481.7h1.2v1.2h-1.2zM425.5 477.2h1.2v1.2h-1.2zM422.6 476.4h1.2v1.2h-1.2zM423.7 471.3h1.2v1.2h-1.2zM430.3 478.5h1.2v1.2h-1.2zM423.7 459.3h1.2v1.2h-1.2zM421.3 481.2h1.2v1.2h-1.2zM429.1 471.3h1.2v1.2h-1.2zM431.6 469.8h1.2v1.2h-1.2zM417.3 474.9h1.2v1.2h-1.2zM415.6 479.9h1.2v1.2h-1.2zM414.1 479.5h1.2v1.2h-1.2zM414.7 476.2h1.2v1.2h-1.2zM427.4 478.5h1.2v1.2h-1.2zM424.6 469.8h1.2v1.2h-1.2zM418.0 467.0h1.2v1.2h-1.2zM423.6 468.9h1.2v1.2h-1.2zM429.9 475.7h1.2v1.2h-1.2zM429.0 469.3h1.2v1.2h-1.2zM427.0 475.5h1.2v1.2h-1.2zM414.9 474.8h1.2v1.2h-1.2zM425.3 477.7h1.2v1.2h-1.2zM420.9 475.9h1.2v1.2h-1.2zM434.1 472.7h1.2v1.2h-1.2zM420.8 467.6h1.2v1.2h-1.2zM416.5 479.1h1.2v1.2h-1.2zM425.7 468.7h1.2v1.2h-1.2zM417.6 470.9h1.2v1.2h-1.2zM423.6 473.7h1.2v1.2h-1.2zM413.0 469.4h1.2v1.2h-1.2zM425.4 471.7h1.2v1.2h-1.2zM430.4 479.3h1.2v1.2h-1.2zM432.3 473.9h1.2v1.2h-1.2zM415.9 482.7h1.2v1.2h-1.2zM425.7 477.3h1.2v1.2h-1.2zM411.8 463.9h1.2v1.2h-1.2zM425.4 473.4h1.2v1.2h-1.2zM433.0 466.7h1.2v1.2h-1.2zM420.2 474.1h1.2v1.2h-1.2zM419.1 475.4h1.2v1.2h-1.2zM428.1 474.1h1.2v1.2h-1.2zM433.4 481.8h1.2v1.2h-1.2zM424.4 469.2h1.2v1.2h-1.2zM425.7 477.1h1.2v1.2h-1.2zM416.4 467.5h1.2v1.2h-1.2zM428.4 477.3h1.2v1.2h-1.2zM421.4 476.3h1.2v1.2h-1.2zM414.3 475.5h1.2v1.2h-1.2zM422.0 477.0h1.2v1.2h-1.2zM423.0 468.7h1.2v1.2h-1.2zM418.0 470.9h1.2v1.2h-1.2zM425.2 478.8h1.2v1.2h-1.2zM430.0 475.0h1.2v1.2h-1.2zM422.8 469.6h1.2v1.2h-1.2zM417.9 479.1h1.2v1.2h-1.2zM427.3 463.5h1.2v1.2h-1.2zM420.2 480.2h1.2v1.2h-1.2zM420.9 472.6h1.2v1.2h-1.2zM414.2 471.7h1.2v1.2h-1.2zM415.2 477.5h1.2v1.2h-1.2zM417.7 479.2h1.2v1.2h-1.2zM427.2 477.0h1.2v1.2h-1.2zM426.3 483.3h1.2v1.2h-1.2zM423.0 476.6h1.2v1.2h-1.2zM429.8 477.4h1.2v1.2h-1.2zM419.3 474.1h1.2v1.2h-1.2zM417.9 478.7h1.2v1.2h-1.2zM419.9 480.5h1.2v1.2h-1.2zM426.4 469.1h1.2v1.2h-1.2zM413.7 477.1h1.2v1.2h-1.2zM418.4 473.3h1.2v1.2h-1.2zM423.6 471.6h1.2v1.2h-1.2zM415.5 482.0h1.2v1.2h-1.2zM425.8 480.8h1.2v1.2h-1.2zM434.8 479.5h1.2v1.2h-1.2zM418.3 483.8h1.2v1.2h-1.2zM429.2 480.2h1.2v1.2h-1.2zM417.4 491.1h1.2v1.2h-1.2zM428.7 471.6h1.2v1.2h-1.2zM421.4 469.9h1.2v1.2h-1.2zM421.7 488.3h1.2v1.2h-1.2zM418.8 464.7h1.2v1.2h-1.2zM421.8 482.3h1.2v1.2h-1.2zM431.1 486.0h1.2v1.2h-1.2zM410.1 473.0h1.2v1.2h-1.2zM428.0 484.5h1.2v1.2h-1.2zM419.0 478.8h1.2v1.2h-1.2zM425.5 476.3h1.2v1.2h-1.2zM423.3 481.7h1.2v1.2h-1.2zM425.5 477.7h1.2v1.2h-1.2zM415.5 483.1h1.2v1.2h-1.2zM436.6 475.2h1.2v1.2h-1.2zM422.9 473.1h1.2v1.2h-1.2zM425.6 465.8h1.2v1.2h-1.2zM428.3 479.6h1.2v1.2h-1.2zM422.6 471.1h1.2v1.2h-1.2zM414.3 475.9h1.2v1.2h-1.2zM430.2 471.9h1.2v1.2h-1.2zM419.9 486.5h1.2v1.2h-1.2zM424.0 481.7h1.2v1.2h-1.2zM429.9 467.2h1.2v1.2h-1.2zM426.9 469.2h1.2v1.2h-1.2zM433.3 473.3h1.2v1.2h-1.2zM422.1 480.1h1.2v1.2h-1.2zM420.2 485.5h1.2v1.2h-1.2zM416.7 474.2h1.2v1.2h-1.2zM425.6 470.1h1.2v1.2h-1.2zM413.5 482.8h1.2v1.2h-1.2zM421.4 472.5h1.2v1.2h-1.2zM417.6 473.0h1.2v1.2h-1.2zM423.5 470.8h1.2v1.2h-1.2zM413.5 472.3h1.2v1.2h-1.2zM424.2 480.6h1.2v1.2h-1.2zM422.0 477.4h1.2v1.2h-1.2zM424.8 471.5h1.2v1.2h-1.2zM421.0 468.1h1.2v1.2h-1.2zM426.4 478.7h1.2v1.2h-1.2zM431.1 475.0h1.2v1.2h-1.2zM426.8 473.1h1.2v1.2h-1.2zM420.1 483.6h1.2v1.2h-1.2zM427.0 487.6h1.2v1.2h-1.2zM414.7 483.7h1.2v1.2h-1.2zM430.4 476.3h1.2v1.2h-1.2zM431.9 471.5h1.2v1.2h-1.2zM424.1 476.1h1.2v1.2h-1.2zM421.6 468.6h1.2v1.2h-1.2zM422.4 471.8h1.2v1.2h-1.2zM416.0 480.5h1.2v1.2h-1.2zM416.6 477.0h1.2v1.2h-1.2zM436.4 480.0h1.2v1.2h-1.2zM419.0 475.9h1.2v1.2h-1.2zM420.8 472.0h1.2v1.2h-1.2zM425.7 479.9h1.2v1.2h-1.2zM431.3 484.1h1.2v1.2h-1.2zM423.0 472.7h1.2v1.2h-1.2zM438.5 470.0h1.2v1.2h-1.2zM408.9 469.2h1.2v1.2h-1.2zM411.8 465.5h1.2v1.2h-1.2zM433.1 461.0h1.2v1.2h-1.2zM421.6 490.0h1.2v1.2h-1.2zM427.1 468.6h1.2v1.2h-1.2zM429.4 475.3h1.2v1.2h-1.2zM424.3 471.7h1.2v1.2h-1.2zM419.7 465.5h1.2v1.2h-1.2zM433.7 462.3h1.2v1.2h-1.2zM438.0 479.0h1.2v1.2h-1.2zM425.7 471.6h1.2v1.2h-1.2zM418.8 476.9h1.2v1.2h-1.2zM431.9 475.3h1.2v1.2h-1.2zM422.4 465.0h1.2v1.2h-1.2zM422.4 481.1h1.2v1.2h-1.2zM430.9 477.8h1.2v1.2h-1.2zM440.2 479.1h1.2v1.2h-1.2zM417.5 492.5h1.2v1.2h-1.2zM424.3 478.4h1.2v1.2h-1.2zM416.3 473.7h1.2v1.2h-1.2zM421.3 471.4h1.2v1.2h-1.2zM437.2 480.6h1.2v1.2h-1.2zM434.4 470.7h1.2v1.2h-1.2zM432.0 486.9h1.2v1.2h-1.2zM425.3 473.6h1.2v1.2h-1.2zM440.4 473.5h1.2v1.2h-1.2zM429.1 474.0h1.2v1.2h-1.2zM438.9 470.2h1.2v1.2h-1.2zM412.7 478.3h1.2v1.2h-1.2zM430.6 477.6h1.2v1.2h-1.2zM422.1 473.5h1.2v1.2h-1.2zM417.1 479.9h1.2v1.2h-1.2zM433.5 474.6h1.2v1.2h-1.2zM413.4 484.1h1.2v1.2h-1.2zM427.2 487.1h1.2v1.2h-1.2zM407.9 473.8h1.2v1.2h-1.2zM419.4 475.7h1.2v1.2h-1.2zM415.2 477.8h1.2v1.2h-1.2zM421.2 457.9h1.2v1.2h-1.2zM436.7 463.4h1.2v1.2h-1.2zM421.2 479.7h1.2v1.2h-1.2zM406.2 481.8h1.2v1.2h-1.2zM420.3 485.8h1.2v1.2h-1.2zM431.3 483.6h1.2v1.2h-1.2zM424.6 473.7h1.2v1.2h-1.2zM425.6 486.7h1.2v1.2h-1.2zM421.9 474.8h1.2v1.2h-1.2zM405.3 476.0h1.2v1.2h-1.2zM422.8 477.9h1.2v1.2h-1.2zM424.6 473.1h1.2v1.2h-1.2zM422.5 463.5h1.2v1.2h-1.2zM422.4 465.8h1.2v1.2h-1.2zM419.3 482.1h1.2v1.2h-1.2zM422.5 478.1h1.2v1.2h-1.2zM436.5 487.6h1.2v1.2h-1.2zM422.0 470.7h1.2v1.2h-1.2zM417.3 468.5h1.2v1.2h-1.2zM429.7 478.8h1.2v1.2h-1.2zM412.0 480.1h1.2v1.2h-1.2zM421.6 469.3h1.2v1.2h-1.2zM419.8 479.2h1.2v1.2h-1.2zM424.3 481.7h1.2v1.2h-1.2zM424.7 482.0h1.2v1.2h-1.2zM429.1 474.7h1.2v1.2h-1.2zM416.2 480.6h1.2v1.2h-1.2zM425.4 470.2h1.2v1.2h-1.2zM424.8 468.0h1.2v1.2h-1.2zM418.8 477.9h1.2v1.2h-1.2zM420.6 474.0h1.2v1.2h-1.2zM415.2 470.7h1.2v1.2h-1.2zM426.1 471.4h1.2v1.2h-1.2zM421.4 468.8h1.2v1.2h-1.2zM419.9 467.4h1.2v1.2h-1.2zM420.1 471.4h1.2v1.2h-1.2zM424.7 492.6h1.2v1.2h-1.2zM424.5 483.3h1.2v1.2h-1.2zM429.1 480.1h1.2v1.2h-1.2zM433.4 474.0h1.2v1.2h-1.2zM429.9 482.5h1.2v1.2h-1.2zM427.2 472.3h1.2v1.2h-1.2zM425.8 469.1h1.2v1.2h-1.2zM419.8 481.4h1.2v1.2h-1.2zM423.0 474.0h1.2v1.2h-1.2zM418.1 485.5h1.2v1.2h-1.2zM424.2 467.9h1.2v1.2h-1.2zM422.7 476.5h1.2v1.2h-1.2zM427.1 473.5h1.2v1.2h-1.2zM416.9 476.8h1.2v1.2h-1.2zM431.4 477.4h1.2v1.2h-1.2zM429.9 468.7h1.2v1.2h-1.2zM421.8 493.7h1.2v1.2h-1.2zM414.9 478.9h1.2v1.2h-1.2zM422.2 482.2h1.2v1.2h-1.2zM408.3 479.0h1.2v1.2h-1.2zM419.0 467.9h1.2v1.2h-1.2zM416.1 485.2h1.2v1.2h-1.2zM413.4 475.6h1.2v1.2h-1.2zM418.7 474.3h1.2v1.2h-1.2zM428.9 469.8h1.2v1.2h-1.2zM419.7 475.0h1.2v1.2h-1.2zM424.4 464.5h1.2v1.2h-1.2zM431.6 476.5h1.2v1.2h-1.2zM402.9 473.3h1.2v1.2h-1.2zM420.3 469.9h1.2v1.2h-1.2zM423.9 487.4h1.2v1.2h-1.2zM421.5 478.0h1.2v1.2h-1.2zM421.1 480.1h1.2v1.2h-1.2zM427.1 482.9h1.2v1.2h-1.2zM423.5 471.7h1.2v1.2h-1.2zM427.9 476.0h1.2v1.2h-1.2zM417.6 485.8h1.2v1.2h-1.2zM417.2 478.5h1.2v1.2h-1.2zM415.1 474.0h1.2v1.2h-1.2zM413.6 483.3h1.2v1.2h-1.2zM424.8 476.7h1.2v1.2h-1.2zM418.2 478.3h1.2v1.2h-1.2zM424.9 486.2h1.2v1.2h-1.2zM417.3 480.0h1.2v1.2h-1.2zM426.2 465.6h1.2v1.2h-1.2zM420.7 468.0h1.2v1.2h-1.2zM421.8 470.2h1.2v1.2h-1.2zM426.0 479.7h1.2v1.2h-1.2zM432.4 475.8h1.2v1.2h-1.2zM433.3 469.7h1.2v1.2h-1.2zM436.9 472.4h1.2v1.2h-1.2zM423.4 469.1h1.2v1.2h-1.2zM421.4 469.4h1.2v1.2h-1.2zM424.5 470.7h1.2v1.2h-1.2zM431.8 479.3h1.2v1.2h-1.2zM431.4 472.4h1.2v1.2h-1.2zM418.9 478.3h1.2v1.2h-1.2zM428.0 473.0h1.2v1.2h-1.2zM414.8 476.2h1.2v1.2h-1.2zM425.2 476.8h1.2v1.2h-1.2zM422.1 476.1h1.2v1.2h-1.2zM417.4 474.7h1.2v1.2h-1.2zM420.2 480.4h1.2v1.2h-1.2zM430.5 484.5h1.2v1.2h-1.2zM418.1 472.7h1.2v1.2h-1.2zM424.9 474.9h1.2v1.2h-1.2zM416.8 471.5h1.2v1.2h-1.2zM423.2 480.1h1.2v1.2h-1.2zM443.6 487.7h1.2v1.2h-1.2zM416.6 484.4h1.2v1.2h-1.2zM425.0 473.0h1.2v1.2h-1.2zM421.8 465.9h1.2v1.2h-1.2zM415.0 483.4h1.2v1.2h-1.2zM439.8 475.3h1.2v1.2h-1.2zM418.9 476.3h1.2v1.2h-1.2zM430.9 475.9h1.2v1.2h-1.2zM427.9 485.1h1.2v1.2h-1.2zM417.6 464.7h1.2v1.2h-1.2zM425.6 490.1h1.2v1.2h-1.2zM417.3 476.0h1.2v1.2h-1.2zM435.7 469.9h1.2v1.2h-1.2zM416.1 469.1h1.2v1.2h-1.2zM420.3 472.4h1.2v1.2h-1.2zM425.0 465.9h1.2v1.2h-1.2zM412.6 485.6h1.2v1.2h-1.2zM419.9 471.4h1.2v1.2h-1.2zM426.3 480.3h1.2v1.2h-1.2zM418.6 477.3h1.2v1.2h-1.2zM417.7 463.9h1.2v1.2h-1.2zM424.1 468.8h1.2v1.2h-1.2zM422.1 469.9h1.2v1.2h-1.2zM428.6 478.2h1.2v1.2h-1.2zM407.8 475.3h1.2v1.2h-1.2zM421.6 476.4h1.2v1.2h-1.2zM425.2 475.4h1.2v1.2h-1.2zM427.9 471.0h1.2v1.2h-1.2zM430.6 489.0h1.2v1.2h-1.2zM423.9 466.2h1.2v1.2h-1.2zM434.7 458.4h1.2v1.2h-1.2zM426.3 474.4h1.2v1.2h-1.2zM427.6 471.1h1.2v1.2h-1.2zM417.0 472.9h1.2v1.2h-1.2zM432.1 479.1h1.2v1.2h-1.2zM427.1 489.4h1.2v1.2h-1.2zM422.0 465.4h1.2v1.2h-1.2zM426.1 467.2h1.2v1.2h-1.2zM422.2 482.5h1.2v1.2h-1.2zM416.5 483.6h1.2v1.2h-1.2zM418.4 467.9h1.2v1.2h-1.2zM419.5 485.7h1.2v1.2h-1.2zM428.5 468.8h1.2v1.2h-1.2zM427.4 478.4h1.2v1.2h-1.2zM432.5 487.2h1.2v1.2h-1.2zM420.8 486.0h1.2v1.2h-1.2zM430.1 482.7h1.2v1.2h-1.2zM414.8 467.2h1.2v1.2h-1.2zM421.6 477.6h1.2v1.2h-1.2zM413.5 484.4h1.2v1.2h-1.2zM432.1 474.6h1.2v1.2h-1.2zM428.1 485.0h1.2v1.2h-1.2zM422.5 475.4h1.2v1.2h-1.2zM410.0 465.2h1.2v1.2h-1.2zM420.6 479.1h1.2v1.2h-1.2zM425.1 479.7h1.2v1.2h-1.2zM429.4 482.3h1.2v1.2h-1.2zM426.4 482.5h1.2v1.2h-1.2zM419.4 479.6h1.2v1.2h-1.2zM413.5 477.2h1.2v1.2h-1.2zM417.6 481.8h1.2v1.2h-1.2zM431.2 469.5h1.2v1.2h-1.2zM435.5 472.4h1.2v1.2h-1.2zM418.5 481.4h1.2v1.2h-1.2zM428.6 471.8h1.2v1.2h-1.2zM424.5 482.0h1.2v1.2h-1.2zM420.5 486.4h1.2v1.2h-1.2zM430.7 468.7h1.2v1.2h-1.2zM427.8 468.9h1.2v1.2h-1.2zM418.7 466.8h1.2v1.2h-1.2zM422.1 460.1h1.2v1.2h-1.2zM423.5 471.0h1.2v1.2h-1.2zM428.3 484.9h1.2v1.2h-1.2zM427.0 476.6h1.2v1.2h-1.2z"/>
<path fill="#cc2619" fill-opacity="0.5" d="M176.5 81.3h1.2v1.2h-1.2zM174.2 83.3h1.2v1.2h-1.2zM175.9 83.5h1.2v1.2h-1.2zM177.9 83.0h1.2v1.2h-1.2zM177.2 80.1h1.2v1.2h-1.2zM173.5 82.6h1.2v1.2h-1.2zM174.7 83.5h1.2v1.2h-1.2zM174.6 84.1h1.2v1.2h-1.2zM173.9 82.4h1.2v1.2h-1.2zM173.2 82.0h1.2v1.2h-1.2zM176.2 84.4h1.2v1.2h-1.2zM177.0 80.5h1.2v1.2h-1.2zM173.8 82.0h1.2v1.2h-1.2zM174.7 81.0h1.2v1.2h-1.2zM175.6 81.1h1.2v1.2h-1.2zM175.8 85.7h1.2v1.2h-1.2zM175.2 84.0h1.2v1.2h-1.2zM174.4 80.5h1.2v1.2h-1.2zM172.3 85.1h1.2v1.2h-1.2zM178.0 77.8h1.2v1.2h-1.2zM173.5 81.7h1.2v1.2h-1.2zM173.6 81.3h1.2v1.2h-1.2zM176.0 82.1h1.2v1.2h-1.2zM176.1 79.3h1.2v1.2h-1.2zM174.4 85.8h1.2v1.2h-1.2zM174.0 79.1h1.2v1.2h-1.2zM174.1 82.3h1.2v1.2h-1.2zM171.2 82.9h1.2v1.2h-1.2zM176.0 81.4h1.2v1.2h-1.2zM174.7 82.0h1.2v1.2h-1.2zM174.5 79.8h1.2v1.2h-1.2zM174.0 83.4h1.2v1.2h-1.2zM175.9 83.1h1.2v1.2h-1.2zM173.5 83.3h1.2v1.2h-1.2zM176.2 84.9h1.2v1.2h-1.2zM175.8 82.5h1.2v1.2h-1.2zM174.7 83.6h1.2v1.2h-1.2zM176.3 77.9h1.2v1.2h-1.2zM173.6 82.7h1.2v1.2h-1.2zM176.3 79.6h1.2v1.2h-1.2zM322.5 489.7h1.2v1.2h-1.2zM321.7 483.9h1.2v1.2h-1.2zM320.0 479.1h1.2v1.2h-1.2zM325.5 480.4h1.2v1.2h-1.2zM315.0 484.1h1.2v1.2h-1.2zM319.9 482.7h1.2v1.2h-1.2zM320.9 483.5h1.2v1.2h-1.2zM322.5 488.9h1.2v1.2h-1.2zM316.9 486.1h1.2v1.2h-1.2zM320.0 490.5h1.2v1.2h-1.2zM321.4 489.4h1.2v1.2h-1.2zM322.7 480.0h1.2v1.2h-1.2zM314.2 491.4h1.2v1.2h-1.2zM321.8 484.1h1.2v1.2h-1.2zM318.8 489.8h1.2v1.2h-1.2zM325.5 482.4h1.2v1.2h-1.2zM317.5 487.3h1.2v1.2h-1.2zM316.9 493.5h1.2v1.2h-1.2zM319.9 487.9h1.2v1.2h-1.2zM319.1 488.1h1.2v1.2h-1.2zM327.4 489.0h1.2v1.2h-1.2zM325.2 487.9h1.2v1.2h-1.2zM324.0 488.3h1.2v1.2h-1.2zM320.7 483.2h1.2v1.2h-1.2zM321.2 478.3h1.2v1.2h-1.2zM314.9 487.1h1.2v1.2h-1.2zM317.4 482.6h1.2v1.2h-1.2zM321.7 487.7h1.2v1.2h-1.2zM319.0 490.6h1.2v1.2h-1.2zM321.1 488.5h1.2v1.2h-1.2zM323.3 486.6h1.2v1.2h-1.2zM322.8 478.3h1.2v1.2h-1.2zM320.4 485.5h1.2v1.2h-1.2zM323.0 485.8h1.2v1.2h-1.2zM319.0 484.9h1.2v1.2h-1.2zM320.5 489.9h1.2v1.2h-1.2zM321.7 486.9h1.2v1.2h-1.2zM318.5 480.9h1.2v1.2h-1.2zM319.6 491.5h1.2v1.2h-1.2zM320.8 488.5h1.2v1.2h-1.2zM320.9 493.1h1.2v1.2h-1.2zM316.6 495.0h1.2v1.2h-1.2zM313.5 489.4h1.2v1.2h-1.2zM317.9 493.0h1.2v1.2h-1.2zM320.6 487.5h1.2v1.2h-1.2zM319.8 492.7h1.2v1.2h-1.2zM322.3 484.9h1.2v1.2h-1.2zM318.3 484.2h1.2v1.2h-1.2zM323.7 486.4h1.2v1.2h-1.2zM321.7 488.9h1.2v1.2h-1.2zM323.1 492.8h1.2v1.2h-1.2zM324.2 484.2h1.2v1.2h-1.2zM317.6 481.9h1.2v1.2h-1.2zM320.9 496.8h1.2v1.2h-1.2zM322.6 479.4h1.2v1.2h-1.2zM323.2 484.7h1.2v1.2h-1.2zM323.2 481.6h1.2v1.2h-1.2zM328.3 476.4h1.2v1.2h-1.2zM320.5 487.5h1.2v1.2h-1.2zM321.4 489.4h1.2v1.2h-1.2zM316.5 490.7h1.2v1.2h-1.2zM319.0 490.0h1.2v1.2h-1.2zM323.5 485.8h1.2v1.2h-1.2zM322.5 487.2h1.2v1.2h-1.2zM320.3 485.7h1.2v1.2h-1.2zM316.8 500.5h1.2v1.2h-1.2zM322.9 487.9h1.2v1.2h-1.2zM323.1 486.6h1.2v1.2h-1.2zM319.4 482.8h1.2v1.2h-1.2zM314.6 484.7h1.2v1.2h-1.2zM316.2 493.1h1.2v1.2h-1.2zM320.0 483.9h1.2v1.2h-1.2zM317.1 482.9h1.2v1.2h-1.2zM321.6 488.1h1.2v1.2h-1.2zM321.4 479.1h1.2v1.2h-1.2zM319.6 484.9h1.2v1.2h-1.2zM317.0 483.8h1.2v1.2h-1.2zM320.4 489.2h1.2v1.2h-1.2zM318.9 493.8h1.2v1.2h-1.2zM322.7 483.1h1.2v1.2h-1.2zM322.8 486.5h1.2v1.2h-1.2zM319.9 484.7h1.2v1.2h-1.2zM322.6 485.9h1.2v1.2h-1.2zM320.9 484.3h1.2v1.2h-1.2zM318.9 486.1h1.2v1.2h-1.2zM317.0 492.0h1.2v1.2h-1.2zM323.5 484.4h1.2v1.2h-1.2zM317.7 481.5h1.2v1.2h-1.2zM317.3 487.3h1.2v1.2h-1.2zM320.7 484.4h1.2v1.2h-1.2zM320.6 477.2h1.2v1.2h-1.2zM317.3 487.3h1.2v1.2h-1.2zM323.9 486.6h1.2v1.2h-1.2zM321.8 487.0h1.2v1.2h-1.2zM317.9 482.3h1.2v1.2h-1.2zM320.3 485.6h1.2v1.2h-1.2zM317.7 490.6h1.2v1.2h-1.2zM322.7 487.4h1.2v1.2h-1.2zM323.1 479.3h1.2v1.2h-1.2zM319.1 482.4h1.2v1.2h-1.2zM320.5 480.1h1.2v1.2h-1.2zM320.0 484.9h1.2v1.2h-1.2zM319.6 484.0h1.2v1.2h-1.2zM321.5 483.8h1.2v1.2h-1.2zM320.8 492.4h1.2v1.2h-1.2zM318.2 485.5h1.2v1.2h-1.2zM318.8 493.3h1.2v1.2h-1.2zM319.2 482.5h1.2v1.2h-1.2zM319.8 488.0h1.2v1.2h-1.2zM321.1 484.0h1.2v1.2h-1.2zM316.3 485.0h1.2v1.2h-1.2zM321.1 485.4h1.2v1.2h-1.2zM321.1 481.8h1.2v1.2h-1.2zM321.5 484.6h1.2v1.2h-1.2zM321.0 488.0h1.2v1.2h-1.2zM315.5 491.0h1.2v1.2h-1.2zM321.5 482.4h1.2v1.2h-1.2zM322.5 487.9h1.2v1.2h-1.2zM321.7 492.6h1.2v1.2h-1.2zM319.4 480.6h1.2v1.2h-1.2zM317.8 488.0h1.2v1.2h-1.2zM318.7 485.5h1.2v1.2h-1.2zM321.4 480.6h1.2v1.2h-1.2zM327.6 487.9h1.2v1.2h-1.2zM318.6 483.6h1.2v1.2h-1.2zM321.2 486.5h1.2v1.2h-1.2zM321.0 484.2h1.2v1.2h-1.2zM321.9 491.3h1.2v1.2h-1.2zM323.4 490.2h1.2v1.2h-1.2zM322.8 488.5h1.2v1.2h-1.2zM318.8 477.5h1.2v1.2h-1.2zM323.5 491.3h1.2v1.2h-1.2zM319.0 490.9h1.2v1.2h-1.2zM323.3 480.5h1.2v1.2h-1.2zM319.3 487.6h1.2v1.2h-1.2zM316.5 485.1h1.2v1.2h-1.2zM318.9 485.2h1.2v1.2h-1.2zM319.1 476.7h1.2v1.2h-1.2zM317.0 492.2h1.2v1.2h-1.2zM319.9 483.1h1.2v1.2h-1.2z"/>
<path fill="#cc2619" fill-opacity="0.55" d="M183.0 57.4h1.2v1.2h-1.2zM182.3 60.1h1.2v1.2h-1.2zM181.0 59.5h1.2v1.2h-1.2zM183.6 57.3h1.2v1.2h-1.2zM183.0 56.4h1.2v1.2h-1.2zM180.4 53.2h1.2v1.2h-1.2zM181.4 56.6h1.2v1.2h-1.2zM182.0 55.0h1.2v1.2h-1.2zM181.2 53.5h1.2v1.2h-1.2zM182.6 55.4h1.2v1.2h-1.2zM181.5 57.1h1.2v1.2h-1.2zM184.7 54.8h1.2v1.2h-1.2zM181.2 57.9h1.2v1.2h-1.2zM183.5 54.6h1.2v1.2h-1.2zM183.6 58.8h1.2v1.2h-1.2zM179.2 60.6h1.2v1.2h-1.2zM185.4 58.3h1.2v1.2h-1.2zM182.5 55.7h1.2v1.2h-1.2zM180.4 52.0h1.2v1.2h-1.2zM182.1 50.4h1.2v1.2h-1.2zM178.8 57.3h1.2v1.2h-1.2zM179.9 54.7h1.2v1.2h-1.2zM183.7 59.2h1.2v1.2h-1.2zM179.9 55.9h1.2v1.2h-1.2zM181.3 50.2h1.2v1.2h-1.2zM179.8 56.2h1.2v1.2h-1.2zM178.3 56.1h1.2v1.2h-1.2zM180.6 61.7h1.2v1.2h-1.2zM180.1 52.4h1.2v1.2h-1.2zM181.2 55.8h1.2v1.2h-1.2zM179.2 51.6h1.2v1.2h-1.2zM179.8 51.4h1.2v1.2h-1.2zM183.4 59.0h1.2v1.2h-1.2zM180.8 49.3h1.2v1.2h-1.2zM183.2 57.4h1.2v1.2h-1.2zM182.0 58.7h1.2v1.2h-1.2zM180.5 53.9h1.2v1.2h-1.2zM184.8 54.3h1.2v1.2h-1.2zM180.3 50.3h1.2v1.2h-1.2zM182.2 55.8h1.2v1.2h-1.2zM179.1 58.4h1.2v1.2h-1.2zM181.1 50.0h1.2v1.2h-1.2zM182.6 59.8h1.2v1.2h-1.2zM183.0 55.3h1.2v1.2h-1.2zM184.1 57.2h1.2v1.2h-1.2zM182.2 57.1h1.2v1.2h-1.2zM179.4 59.0h1.2v1.2h-1.2zM179.2 51.7h1.2v1.2h-1.2zM181.6 58.8h1.2v1.2h-1.2zM182.5 55.8h1.2v1.2h-1.2zM180.9 55.5h1.2v1.2h-1.2zM182.0 54.9h1.2v1.2h-1.2zM182.8 54.3h1.2v1.2h-1.2zM184.7 54.6h1.2v1.2h-1.2zM182.1 54.4h1.2v1.2h-1.2zM180.4 52.5h1.2v1.2h-1.2zM179.6 58.6h1.2v1.2h-1.2zM177.8 55.1h1.2v1.2h-1.2zM186.0 56.3h1.2v1.2h-1.2zM180.9 56.4h1.2v1.2h-1.2zM177.9 50.4h1.2v1.2h-1.2zM182.2 58.0h1.2v1.2h-1.2zM182.2 57.6h1.2v1.2h-1.2zM180.4 56.2h1.2v1.2h-1.2zM185.4 52.2h1.2v1.2h-1.2zM183.8 53.7h1.2v1.2h-1.2zM178.8 57.8h1.2v1.2h-1.2zM179.5 58.6h1.2v1.2h-1.2zM184.5 57.8h1.2v1.2h-1.2zM180.5 55.6h1.2v1.2h-1.2zM182.9 59.3h1.2v1.2h-1.2zM187.5 50.9h1.2v1.2h-1.2zM181.4 53.8h1.2v1.2h-1.2zM179.5 62.4h1.2v1.2h-1.2zM181.6 60.4h1.2v1.2h-1.2zM181.6 54.0h1.2v1.2h-1.2zM183.4 55.4h1.2v1.2h-1.2zM185.3 56.2h1.2v1.2h-1.2zM179.1 55.7h1.2v1.2h-1.2zM185.3 52.7h1.2v1.2h-1.2zM183.8 57.1h1.2v1.2h-1.2zM184.2 56.6h1.2v1.2h-1.2zM181.3 53.5h1.2v1.2h-1.2zM180.7 55.7h1.2v1.2h-1.2zM182.4 59.0h1.2v1.2h-1.2zM181.8 61.1h1.2v1.2h-1.2zM182.3 53.9h1.2v1.2h-1.2zM183.0 54.0h1.2v1.2h-1.2zM183.6 52.3h1.2v1.2h-1.2zM178.1 56.4h1.2v1.2h-1.2zM182.3 54.3h1.2v1.2h-1.2zM183.5 54.8h1.2v1.2h-1.2zM188.2 60.0h1.2v1.2h-1.2zM185.1 56.2h1.2v1.2h-1.2zM182.2 56.5h1.2v1.2h-1.2zM182.6 51.9h1.2v1.2h-1.2zM184.9 50.0h1.2v1.2h-1.2zM179.1 52.5h1.2v1.2h-1.2zM180.4 58.7h1.2v1.2h-1.2zM180.5 54.7h1.2v1.2h-1.2zM381.6 359.1h1.2v1.2h-1.2zM379.5 358.0h1.2v1.2h-1.2zM392.7 364.5h1.2v1.2h-1.2zM380.8 358.1h1.2v1.2h-1.2zM387.9 358.9h1.2v1.2h-1.2zM394.6 352.2h1.2v1.2h-1.2zM392.0 365.1h1.2v1.2h-1.2zM395.2 359.1h1.2v1.2h-1.2zM397.0 358.5h1.2v1.2h-1.2zM384.3 360.9h1.2v1.2h-1.2zM381.4 367.0h1.2v1.2h-1.2zM403.3 354.1h1.2v1.2h-1.2zM380.2 363.9h1.2v1.2h-1.2zM398.3 366.4h1.2v1.2h-1.2zM389.0 363.5h1.2v1.2h-1.2zM397.6 357.9h1.2v1.2h-1.2zM379.4 367.1h1.2v1.2h-1.2zM392.0 365.3h1.2v1.2h-1.2zM390.4 352.5h1.2v1.2h-1.2zM402.6 361.9h1.2v1.2h-1.2zM390.8 368.1h1.2v1.2h-1.2zM396.9 359.0h1.2v1.2h-1.2zM399.5 364.6h1.2v1.2h-1.2zM384.2 357.7h1.2v1.2h-1.2zM386.8 364.0h1.2v1.2h-1.2zM403.6 359.1h1.2v1.2h-1.2zM383.0 363.5h1.2v1.2h-1.2zM394.5 354.6h1.2v1.2h-1.2zM381.2 366.0h1.2v1.2h-1.2zM392.6 362.5h1.2v1.2h-1.2zM394.2 361.7h1.2v1.2h-1.2zM385.7 352.7h1.2v1.2h-1.2zM389.9 352.8h1.2v1.2h-1.2zM403.9 352.1h1.2v1.2h-1.2zM388.8 361.3h1.2v1.2h-1.2zM383.0 358.8h1.2v1.2h-1.2zM393.1 356.9h1.2v1.2h-1.2zM381.7 362.5h1.2v1.2h-1.2zM401.0 367.6h1.2v1.2h-1.2zM395.0 363.1h1.2v1.2h-1.2zM382.8 363.3h1.2v1.2h-1.2zM381.2 363.1h1.2v1.2h-1.2zM392.4 367.2h1.2v1.2h-1.2zM403.4 364.7h1.2v1.2h-1.2zM389.3 365.3h1.2v1.2h-1.2zM389.7 357.3h1.2v1.2h-1.2zM397.7 362.4h1.2v1.2h-1.2zM399.6 364.4h1.2v1.2h-1.2zM384.0 365.6h1.2v1.2h-1.2zM381.6 356.7h1.2v1.2h-1.2zM383.4 362.8h1.2v1.2h-1.2zM386.6 359.8h1.2v1.2h-1.2zM389.0 354.9h1.2v1.2h-1.2zM402.8 365.1h1.2v1.2h-1.2zM390.1 363.1h1.2v1.2h-1.2zM394.6 361.6h1.2v1.2h-1.2zM380.8 362.0h1.2v1.2h-1.2zM390.9 354.2h1.2v1.2h-1.2zM397.9 357.7h1.2v1.2h-1.2zM395.6 364.3h1.2v1.2h-1.2zM400.0 355.6h1.2v1.2h-1.2zM394.0 362.5h1.2v1.2h-1.2zM393.7 361.7h1.2v1.2h-1.2zM386.2 353.4h1.2v1.2h-1.2zM387.6 368.1h1.2v1.2h-1.2zM394.5 359.9h1.2v1.2h-1.2zM387.6 368.6h1.2v1.2h-1.2zM384.6 359.8h1.2v1.2h-1.2zM393.1 354.2h1.2v1.2h-1.2zM384.9 355.3h1.2v1.2h-1.2zM400.6 368.2h1.2v1.2h-1.2zM395.7 355.2h1.2v1.2h-1.2zM379.7 362.0h1.2v1.2h-1.2zM399.2 368.6h1.2v1.2h-1.2zM402.6 356.9h1.2v1.2h-1.2zM399.1 366.1h1.2v1.2h-1.2zM393.2 362.5h1.2v1.2h-1.2zM384.3 357.9h1.2v1.2h-1.2zM400.8 366.2h1.2v1.2h-1.2zM394.1 368.3h1.2v1.2h-1.2zM397.4 367.2h1.2v1.2h-1.2zM385.7 368.7h1.2v1.2h-1.2zM403.0 354.8h1.2v1.2h-1.2zM400.4 362.3h1.2v1.2h-1.2zM382.1 360.8h1.2v1.2h-1.2zM398.7 366.7h1.2v1.2h-1.2zM389.8 364.0h1.2v1.2h-1.2zM391.7 361.1h1.2v1.2h-1.2zM398.6 355.8h1.2v1.2h-1.2zM398.2 353.5h1.2v1.2h-1.2zM399.6 356.0h1.2v1.2h-1.2zM380.0 363.1h1.2v1.2h-1.2zM395.4 352.4h1.2v1.2h-1.2zM380.4 364.9h1.2v1.2h-1.2zM388.0 365.2h1.2v1.2h-1.2zM392.2 365.5h1.2v1.2h-1.2zM400.3 366.7h1.2v1.2h-1.2zM379.2 367.6h1.2v1.2h-1.2zM390.2 367.6h1.2v1.2h-1.2zM384.2 366.4h1.2v1.2h-1.2zM387.0 358.5h1.2v1.2h-1.2zM379.8 366.5h1.2v1.2h-1.2zM396.6 352.0h1.2v1.2h-1.2zM389.3 354.1h1.2v1.2h-1.2zM382.0 364.0h1.2v1.2h-1.2zM385.9 355.4h1.2v1.2h-1.2zM399.0 358.4h1.2v1.2h-1.2zM385.8 356.0h1.2v1.2h-1.2zM399.0 367.0h1.2v1.2h-1.2zM397.3 355.8h1.2v1.2h-1.2zM383.5 357.3h1.2v1.2h-1.2zM402.5 357.4h1.2v1.2h-1.2zM387.3 367.8h1.2v1.2h-1.2zM395.7 356.1h1.2v1.2h-1.2zM398.9 356.7h1.2v1.2h-1.2zM397.6 355.2h1.2v1.2h-1.2zM382.0 361.0h1.2v1.2h-1.2zM386.0 352.2h1.2v1.2h-1.2zM400.8 367.5h1.2v1.2h-1.2zM384.9 367.2h1.2v1.2h-1.2zM395.5 352.4h1.2v1.2h-1.2zM393.1 359.2h1.2v1.2h-1.2zM393.4 364.7h1.2v1.2h-1.2zM399.4 352.7h1.2v1.2h-1.2zM390.4 358.6h1.2v1.2h-1.2zM399.2 357.4h1.2v1.2h-1.2zM400.2 359.3h1.2v1.2h-1.2zM383.9 357.6h1.2v1.2h-1.2zM389.4 359.2h1.2v1.2h-1.2zM393.5 363.2h1.2v1.2h-1.2zM399.0 358.0h1.2v1.2h-1.2zM384.2 366.2h1.2v1.2h-1.2zM403.5 364.2h1.2v1.2h-1.2zM399.6 355.2h1.2v1.2h-1.2zM380.6 357.2h1.2v1.2h-1.2zM393.9 361.1h1.2v1.2h-1.2zM396.4 363.2h1.2v1.2h-1.2zM389.4 358.2h1.2v1.2h-1.2zM387.1 357.7h1.2v1.2h-1.2zM389.5 365.7h1.2v1.2h-1.2zM379.0 356.6h1.2v1.2h-1.2zM398.0 360.4h1.2v1.2h-1.2zM399.3 353.9h1.2v1.2h-1.2zM379.2 368.5h1.2v1.2h-1.2zM399.7 366.1h1.2v1.2h-1.2zM395.7 365.1h1.2v1.2h-1.2zM403.7 366.3h1.2v1.2h-1.2zM398.8 362.7h1.2v1.2h-1.2zM387.3 355.2h1.2v1.2h-1.2zM379.1 367.7h1.2v1.2h-1.2zM403.0 368.2h1.2v1.2h-1.2zM387.2 358.8h1.2v1.2h-1.2zM382.6 363.5h1.2v1.2h-1.2zM379.3 363.9h1.2v1.2h-1.2zM383.1 356.9h1.2v1.2h-1.2zM403.5 363.8h1.2v1.2h-1.2zM384.8 366.0h1.2v1.2h-1.2zM395.2 363.4h1.2v1.2h-1.2zM384.2 367.3h1.2v1.2h-1.2zM385.5 361.0h1.2v1.2h-1.2zM390.8 355.7h1.2v1.2h-1.2zM386.5 364.6h1.2v1.2h-1.2zM396.5 365.2h1.2v1.2h-1.2zM401.0 367.6h1.2v1.2h-1.2zM384.8 363.4h1.2v1.2h-1.2zM384.6 363.3h1.2v1.2h-1.2zM391.0 367.7h1.2v1.2h-1.2zM400.6 365.7h1.2v1.2h-1.2zM389.3 359.7h1.2v1.2h-1.2zM386.4 368.2h1.2v1.2h-1.2zM386.4 359.5h1.2v1.2h-1.2zM385.5 365.3h1.2v1.2h-1.2zM399.0 358.2h1.2v1.2h-1.2zM387.3 366.5h1.2v1.2h-1.2zM402.7 361.5h1.2v1.2h-1.2zM388.6 357.9h1.2v1.2h-1.2zM389.1 362.7h1.2v1.2h-1.2zM401.5 362.1h1.2v1.2h-1.2zM392.2 354.7h1.2v1.2h-1.2zM385.2 356.8h1.2v1.2h-1.2zM386.2 367.8h1.2v1.2h-1.2zM403.2 366.0h1.2v1.2h-1.2zM397.2 362.4h1.2v1.2h-1.2zM399.6 352.4h1.2v1.2h-1.2zM401.2 359.3h1.2v1.2h-1.2zM399.1 357.2h1.2v1.2h-1.2zM383.7 358.2h1.2v1.2h-1.2zM398.5 358.5h1.2v1.2h-1.2zM402.9 353.3h1.2v1.2h-1.2zM397.4 357.5h1.2v1.2h-1.2zM395.6 367.6h1.2v1.2h-1.2zM385.2 364.7h1.2v1.2h-1.2zM382.4 354.4h1.2v1.2h-1.2zM390.5 368.4h1.2v1.2h-1.2zM393.9 364.5h1.2v1.2h-1.2zM391.9 352.3h1.2v1.2h-1.2zM379.7 360.8h1.2v1.2h-1.2zM402.4 355.5h1.2v1.2h-1.2zM399.9 364.1h1.2v1.2h-1.2zM389.7 356.5h1.2v1.2h-1.2zM392.3 364.4h1.2v1.2h-1.2zM400.7 353.3h1.2v1.2h-1.2zM395.5 353.2h1.2v1.2h-1.2zM400.3 358.7h1.2v1.2h-1.2zM399.8 352.0h1.2v1.2h-1.2zM390.0 352.0h1.2v1.2h-1.2zM387.1 361.4h1.2v1.2h-1.2zM387.8 360.1h1.2v1.2h-1.2zM387.7 367.4h1.2v1.2h-1.2zM393.2 367.6h1.2v1.2h-1.2zM394.6 364.6h1.2v1.2h-1.2zM396.5 361.6h1.2v1.2h-1.2zM380.6 368.4h1.2v1.2h-1.2zM387.5 367.1h1.2v1.2h-1.2zM403.3 367.9h1.2v1.2h-1.2zM392.3 356.0h1.2v1.2h-1.2zM402.0 364.1h1.2v1.2h-1.2zM402.9 368.2h1.2v1.2h-1.2zM397.6 367.3h1.2v1.2h-1.2zM394.2 355.1h1.2v1.2h-1.2zM396.0 366.5h1.2v1.2h-1.2zM382.1 362.2h1.2v1.2h-1.2zM400.2 365.6h1.2v1.2h-1.2zM402.5 368.0h1.2v1.2h-1.2zM386.6 364.3h1.2v1.2h-1.2zM403.6 352.0h1.2v1.2h-1.2zM392.3 358.9h1.2v1.2h-1.2zM391.5 365.4h1.2v1.2h-1.2zM387.9 363.8h1.2v1.2h-1.2zM392.7 355.4h1.2v1.2h-1.2zM403.8 365.5h1.2v1.2h-1.2zM379.5 356.0h1.2v1.2h-1.2zM385.9 366.1h1.2v1.2h-1.2zM400.3 362.8h1.2v1.2h-1.2zM401.1 352.0h1.2v1.2h-1.2zM384.6 364.2h1.2v1.2h-1.2zM382.0 362.9h1.2v1.2h-1.2zM398.1 359.7h1.2v1.2h-1.2zM394.7 363.1h1.2v1.2h-1.2zM388.5 359.1h1.2v1.2h-1.2zM390.9 366.3h1.2v1.2h-1.2zM387.0 361.3h1.2v1.2h-1.2zM381.1 356.8h1.2v1.2h-1.2zM391.8 367.3h1.2v1.2h-1.2zM383.0 367.3h1.2v1.2h-1.2zM393.4 359.2h1.2v1.2h-1.2zM382.7 367.7h1.2v1.2h-1.2zM394.2 352.3h1.2v1.2h-1.2zM396.7 357.3h1.2v1.2h-1.2zM384.1 356.6h1.2v1.2h-1.2zM389.9 358.8h1.2v1.2h-1.2zM395.5 353.9h1.2v1.2h-1.2zM396.8 366.7h1.2v1.2h-1.2zM396.7 353.8h1.2v1.2h-1.2zM394.2 357.6h1.2v1.2h-1.2zM396.2 356.4h1.2v1.2h-1.2zM392.7 361.2h1.2v1.2h-1.2zM387.9 356.4h1.2v1.2h-1.2zM398.8 360.8h1.2v1.2h-1.2zM396.4 356.4h1.2v1.2h-1.2zM386.0 366.0h1.2v1.2h-1.2zM399.5 363.2h1.2v1.2h-1.2zM391.2 355.1h1.2v1.2h-1.2zM391.3 366.3h1.2v1.2h-1.2zM391.4 353.6h1.2v1.2h-1.2zM379.8 357.0h1.2v1.2h-1.2zM400.6 358.5h1.2v1.2h-1.2zM391.0 355.5h1.2v1.2h-1.2zM402.1 362.6h1.2v1.2h-1.2zM392.4 360.5h1.2v1.2h-1.2zM383.8 358.6h1.2v1.2h-1.2zM401.3 352.1h1.2v1.2h-1.2zM391.9 355.5h1.2v1.2h-1.2zM382.2 362.5h1.2v1.2h-1.2zM382.2 355.7h1.2v1.2h-1.2zM389.2 356.9h1.2v1.2h-1.2zM401.3 356.6h1.2v1.2h-1.2zM384.9 354.6h1.2v1.2h-1.2zM383.4 355.7h1.2v1.2h-1.2zM386.4 360.9h1.2v1.2h-1.2zM397.5 359.2h1.2v1.2h-1.2zM381.5 359.7h1.2v1.2h-1.2zM397.3 367.7h1.2v1.2h-1.2zM402.6 355.6h1.2v1.2h-1.2zM383.9 357.7h1.2v1.2h-1.2zM396.3 368.1h1.2v1.2h-1.2zM381.7 365.2h1.2v1.2h-1.2zM379.2 360.8h1.2v1.2h-1.2zM398.0 354.9h1.2v1.2h-1.2zM387.3 367.8h1.2v1.2h-1.2zM392.8 355.8h1.2v1.2h-1.2zM393.1 364.6h1.2v1.2h-1.2zM390.9 353.6h1.2v1.2h-1.2zM398.7 367.1h1.2v1.2h-1.2zM400.8 363.7h1.2v1.2h-1.2zM390.2 367.2h1.2v1.2h-1.2zM378.9 368.3h1.2v1.2h-1.2zM390.7 362.2h1.2v1.2h-1.2zM387.3 365.3h1.2v1.2h-1.2zM388.4 354.0h1.2v1.2h-1.2zM392.4 358.1h1.2v1.2h-1.2zM400.0 363.6h1.2v1.2h-1.2zM396.3 359.4h1.2v1.2h-1.2zM395.4 367.9h1.2v1.2h-1.2zM402.0 367.4h1.2v1.2h-1.2zM387.4 354.9h1.2v1.2h-1.2zM385.1 365.5h1.2v1.2h-1.2zM400.7 363.7h1.2v1.2h-1.2zM389.9 361.6h1.2v1.2h-1.2zM383.4 356.5h1.2v1.2h-1.2zM400.5 363.9h1.2v1.2h-1.2zM386.6 356.2h1.2v1.2h-1.2zM380.6 360.3h1.2v1.2h-1.2zM401.5 356.3h1.2v1.2h-1.2zM396.6 364.6h1.2v1.2h-1.2zM391.2 353.8h1.2v1.2h-1.2zM403.0 367.1h1.2v1.2h-1.2zM390.2 363.4h1.2v1.2h-1.2zM393.0 363.9h1.2v1.2h-1.2zM383.8 362.3h1.2v1.2h-1.2zM392.2 352.2h1.2v1.2h-1.2zM394.2 359.4h1.2v1.2h-1.2zM379.0 357.0h1.2v1.2h-1.2zM401.1 352.2h1.2v1.2h-1.2zM387.0 364.4h1.2v1.2h-1.2zM397.7 354.7h1.2v1.2h-1.2zM379.3 366.5h1.2v1.2h-1.2zM382.9 365.7h1.2v1.2h-1.2zM382.5 362.7h1.2v1.2h-1.2zM401.5 368.7h1.2v1.2h-1.2zM382.2 354.5h1.2v1.2h-1.2zM391.3 365.7h1.2v1.2h-1.2zM380.9 365.4h1.2v1.2h-1.2zM386.3 362.1h1.2v1.2h-1.2zM396.6 362.1h1.2v1.2h-1.2zM382.4 364.0h1.2v1.2h-1.2zM402.7 352.9h1.2v1.2h-1.2zM395.2 359.7h1.2v1.2h-1.2zM391.4 356.9h1.2v1.2h-1.2zM380.2 361.9h1.2v1.2h-1.2zM387.0 353.7h1.2v1.2h-1.2zM379.7 356.6h1.2v1.2h-1.2zM383.6 356.8h1.2v1.2h-1.2zM394.3 366.8h1.2v1.2h-1.2zM390.0 352.9h1.2v1.2h-1.2zM380.1 363.5h1.2v1.2h-1.2zM396.4 354.4h1.2v1.2h-1.2zM380.8 353.8h1.2v1.2h-1.2zM379.4 363.5h1.2v1.2h-1.2zM402.7 353.8h1.2v1.2h-1.2zM382.2 363.6h1.2v1.2h-1.2zM390.4 354.9h1.2v1.2h-1.2zM383.5 365.4h1.2v1.2h-1.2zM396.2 352.8h1.2v1.2h-1.2zM395.8 353.9h1.2v1.2h-1.2zM391.2 353.6h1.2v1.2h-1.2zM384.2 366.1h1.2v1.2h-1.2zM391.4 360.4h1.2v1.2h-1.2zM383.2 357.9h1.2v1.2h-1.2zM392.9 359.4h1.2v1.2h-1.2zM386.2 361.9h1.2v1.2h-1.2zM381.4 360.1h1.2v1.2h-1.2zM397.4 364.8h1.2v1.2h-1.2zM392.1 364.4h1.2v1.2h-1.2zM387.4 358.2h1.2v1.2h-1.2zM389.9 354.1h1.2v1.2h-1.2zM381.0 367.6h1.2v1.2h-1.2zM399.1 366.7h1.2v1.2h-1.2zM403.9 359.7h1.2v1.2h-1.2zM392.8 360.0h1.2v1.2h-1.2zM382.4 353.2h1.2v1.2h-1.2zM394.3 353.8h1.2v1.2h-1.2zM399.1 363.0h1.2v1.2h-1.2zM394.3 360.3h1.2v1.2h-1.2zM400.0 355.7h1.2v1.2h-1.2zM387.7 360.8h1.2v1.2h-1.2zM396.9 353.4h1.2v1.2h-1.2zM387.3 359.1h1.2v1.2h-1.2zM400.0 363.3h1.2v1.2h-1.2zM385.2 363.5h1.2v1.2h-1.2zM383.0 366.2h1.2v1.2h-1.2zM386.3 363.0h1.2v1.2h-1.2zM401.6 362.4h1.2v1.2h-1.2zM402.5 354.6h1.2v1.2h-1.2zM388.3 361.1h1.2v1.2h-1.2zM399.2 368.7h1.2v1.2h-1.2zM402.4 367.5h1.2v1.2h-1.2zM385.1 367.5h1.2v1.2h-1.2zM382.6 368.1h1.2v1.2h-1.2zM388.7 358.4h1.2v1.2h-1.2zM396.5 362.9h1.2v1.2h-1.2zM386.8 356.3h1.2v1.2h-1.2zM382.9 368.3h1.2v1.2h-1.2zM396.1 354.0h1.2v1.2h-1.2zM383.1 365.9h1.2v1.2h-1.2zM385.3 357.6h1.2v1.2h-1.2zM399.4 360.4h1.2v1.2h-1.2zM391.0 363.9h1.2v1.2h-1.2zM400.4 365.4h1.2v1.2h-1.2zM385.5 362.4h1.2v1.2h-1.2zM384.3 356.2h1.2v1.2h-1.2zM382.7 364.1h1.2v1.2h-1.2zM388.7 356.0h1.2v1.2h-1.2zM396.5 358.1h1.2v1.2h-1.2zM398.0 367.6h1.2v1.2h-1.2zM403.4 368.8h1.2v1.2h-1.2zM383.1 368.0h1.2v1.2h-1.2zM384.9 368.3h1.2v1.2h-1.2zM390.9 357.8h1.2v1.2h-1.2zM381.8 365.2h1.2v1.2h-1.2zM399.0 365.0h1.2v1.2h-1.2zM385.0 360.7h1.2v1.2h-1.2zM403.4 354.7h1.2v1.2h-1.2zM396.1 357.7h1.2v1.2h-1.2zM393.0 360.8h1.2v1.2h-1.2zM382.6 352.0h1.2v1.2h-1.2zM379.0 355.2h1.2v1.2h-1.2zM390.0 361.9h1.2v1.2h-1.2zM395.6 352.3h1.2v1.2h-1.2zM382.8 361.7h1.2v1.2h-1.2z"/>
<path fill="#cc2619" fill-opacity="0.6" d="M187.0 173.2h1.1v1.1h-1.1zM182.3 173.2h1.1v1.1h-1.1zM184.7 176.2h1.1v1.1h-1.1zM185.6 178.2h1.1v1.1h-1.1zM188.9 170.0h1.1v1.1h-1.1zM185.3 179.4h1.1v1.1h-1.1zM182.9 177.0h1.1v1.1h-1.1zM184.8 178.9h1.1v1.1h-1.1zM184.9 174.4h1.1v1.1h-1.1zM180.9 171.8h1.1v1.1h-1.1zM184.9 180.6h1.1v1.1h-1.1zM185.5 176.7h1.1v1.1h-1.1zM181.7 178.7h1.1v1.1h-1.1zM185.8 185.0h1.1v1.1h-1.1zM177.3 170.1h1.1v1.1h-1.1zM181.5 176.7h1.1v1.1h-1.1zM183.0 171.4h1.1v1.1h-1.1zM181.8 173.8h1.1v1.1h-1.1zM184.3 182.9h1.1v1.1h-1.1zM184.4 171.0h1.1v1.1h-1.1zM183.3 179.5h1.1v1.1h-1.1zM184.3 177.6h1.1v1.1h-1.1zM180.2 174.1h1.1v1.1h-1.1zM178.5 173.3h1.1v1.1h-1.1zM183.9 176.0h1.1v1.1h-1.1zM184.1 175.9h1.1v1.1h-1.1zM180.4 186.3h1.1v1.1h-1.1zM185.8 173.4h1.1v1.1h-1.1zM184.8 177.9h1.1v1.1h-1.1zM185.5 178.6h1.1v1.1h-1.1zM185.6 173.5h1.1v1.1h-1.1zM187.9 169.6h1.1v1.1h-1.1zM186.4 176.3h1.1v1.1h-1.1zM184.7 170.5h1.1v1.1h-1.1zM186.7 182.1h1.1v1.1h-1.1zM183.7 175.1h1.1v1.1h-1.1zM182.8 178.1h1.1v1.1h-1.1zM182.9 176.8h1.1v1.1h-1.1zM184.6 177.0h1.1v1.1h-1.1zM183.4 173.7h1.1v1.1h-1.1zM183.3 181.8h1.1v1.1h-1.1zM184.1 172.4h1.1v1.1h-1.1zM185.7 176.0h1.1v1.1h-1.1zM184.9 183.5h1.1v1.1h-1.1zM183.4 177.6h1.1v1.1h-1.1zM184.7 174.9h1.1v1.1h-1.1zM185.8 173.9h1.1v1.1h-1.1zM184.6 172.5h1.1v1.1h-1.1zM182.7 175.7h1.1v1.1h-1.1zM185.6 173.3h1.1v1.1h-1.1zM188.4 182.5h1.1v1.1h-1.1zM184.9 173.1h1.1v1.1h-1.1zM182.4 178.2h1.1v1.1h-1.1zM186.2 182.8h1.1v1.1h-1.1zM184.6 169.3h1.1v1.1h-1.1zM185.4 179.9h1.1v1.1h-1.1zM184.0 174.8h1.1v1.1h-1.1zM184.6 172.8h1.1v1.1h-1.1zM186.5 176.5h1.1v1.1h-1.1zM186.2 174.5h1.1v1.1h-1.1zM184.0 178.2h1.1v1.1h-1.1zM183.7 177.7h1.1v1.1h-1.1zM187.6 176.9h1.1v1.1h-1.1zM185.1 172.6h1.1v1.1h-1.1zM186.9 174.7h1.1v1.1h-1.1zM181.9 177.0h1.1v1.1h-1.1zM186.5 173.4h1.1v1.1h-1.1zM182.9 178.3h1.1v1.1h-1.1zM181.5 176.4h1.1v1.1h-1.1zM180.0 179.6h1.1v1.1h-1.1zM186.8 177.3h1.1v1.1h-1.1zM186.2 178.5h1.1v1.1h-1.1zM187.9 167.8h1.1v1.1h-1.1zM182.9 181.3h1.1v1.1h-1.1zM184.5 177.6h1.1v1.1h-1.1zM187.4 177.3h1.1v1.1h-1.1zM180.8 173.2h1.1v1.1h-1.1zM184.4 173.8h1.1v1.1h-1.1zM187.7 179.3h1.1v1.1h-1.1zM184.7 183.6h1.1v1.1h-1.1zM180.6 174.0h1.1v1.1h-1.1zM185.4 179.8h1.1v1.1h-1.1zM185.3 175.2h1.1v1.1h-1.1zM182.1 176.3h1.1v1.1h-1.1zM185.8 175.5h1.1v1.1h-1.1zM183.7 174.5h1.1v1.1h-1.1zM182.5 177.6h1.1v1.1h-1.1zM185.9 182.4h1.1v1.1h-1.1zM181.2 178.9h1.1v1.1h-1.1zM185.2 175.0h1.1v1.1h-1.1zM189.5 171.9h1.1v1.1h-1.1zM183.9 176.8h1.1v1.1h-1.1zM184.4 178.3h1.1v1.1h-1.1zM185.3 179.3h1.1v1.1h-1.1zM183.5 175.8h1.1v1.1h-1.1zM186.8 174.8h1.1v1.1h-1.1zM184.4 177.3h1.1v1.1h-1.1zM181.0 172.7h1.1v1.1h-1.1zM186.3 172.1h1.1v1.1h-1.1zM184.0 176.2h1.1v1.1h-1.1zM179.3 183.9h1.1v1.1h-1.1zM186.3 183.2h1.1v1.1h-1.1zM182.4 171.8h1.1v1.1h-1.1zM182.2 177.0h1.1v1.1h-1.1zM185.1 170.1h1.1v1.1h-1.1zM184.3 176.4h1.1v1.1h-1.1zM182.9 177.6h1.1v1.1h-1.1zM186.8 178.8h1.1v1.1h-1.1zM179.2 184.4h1.1v1.1h-1.1zM183.2 184.1h1.1v1.1h-1.1zM384.3 178.5h1.1v1.1h-1.1zM391.8 188.0h1.1v1.1h-1.1zM383.4 177.5h1.1v1.1h-1.1zM389.5 184.0h1.1v1.1h-1.1zM385.1 179.3h1.1v1.1h-1.1zM378.9 177.7h1.1v1.1h-1.1zM382.5 184.1h1.1v1.1h-1.1zM385.1 182.2h1.1v1.1h-1.1zM385.2 180.4h1.1v1.1h-1.1zM394.7 174.6h1.1v1.1h-1.1zM394.6 176.5h1.1v1.1h-1.1zM387.1 187.1h1.1v1.1h-1.1zM386.9 176.1h1.1v1.1h-1.1zM384.9 174.9h1.1v1.1h-1.1zM388.2 181.6h1.1v1.1h-1.1zM394.5 175.3h1.1v1.1h-1.1zM386.0 175.6h1.1v1.1h-1.1zM389.7 171.4h1.1v1.1h-1.1zM387.1 174.2h1.1v1.1h-1.1zM390.1 182.0h1.1v1.1h-1.1zM384.6 185.3h1.1v1.1h-1.1zM384.9 188.8h1.1v1.1h-1.1zM391.2 180.8h1.1v1.1h-1.1zM388.2 177.3h1.1v1.1h-1.1zM387.6 177.5h1.1v1.1h-1.1zM385.3 183.3h1.1v1.1h-1.1zM383.3 180.2h1.1v1.1h-1.1zM388.7 179.4h1.1v1.1h-1.1zM389.4 179.0h1.1v1.1h-1.1zM388.3 187.7h1.1v1.1h-1.1zM385.9 178.7h1.1v1.1h-1.1zM383.6 178.4h1.1v1.1h-1.1zM383.4 178.0h1.1v1.1h-1.1zM385.0 181.1h1.1v1.1h-1.1zM394.0 185.6h1.1v1.1h-1.1zM392.1 187.6h1.1v1.1h-1.1zM384.7 187.3h1.1v1.1h-1.1zM382.7 183.7h1.1v1.1h-1.1zM386.9 184.7h1.1v1.1h-1.1zM391.2 187.5h1.1v1.1h-1.1zM395.6 181.9h1.1v1.1h-1.1zM387.7 177.6h1.1v1.1h-1.1zM389.4 188.9h1.1v1.1h-1.1zM384.2 182.3h1.1v1.1h-1.1zM390.6 176.8h1.1v1.1h-1.1zM380.3 178.7h1.1v1.1h-1.1zM386.3 182.0h1.1v1.1h-1.1zM384.9 180.7h1.1v1.1h-1.1zM386.1 184.7h1.1v1.1h-1.1zM385.7 180.6h1.1v1.1h-1.1zM387.0 181.6h1.1v1.1h-1.1zM394.7 170.5h1.1v1.1h-1.1zM386.7 180.1h1.1v1.1h-1.1zM392.1 186.3h1.1v1.1h-1.1zM380.3 182.0h1.1v1.1h-1.1zM381.1 189.0h1.1v1.1h-1.1zM385.2 186.7h1.1v1.1h-1.1zM383.9 179.5h1.1v1.1h-1.1zM394.4 176.9h1.1v1.1h-1.1zM386.1 175.2h1.1v1.1h-1.1zM386.1 182.9h1.1v1.1h-1.1zM393.8 177.9h1.1v1.1h-1.1zM386.5 190.3h1.1v1.1h-1.1zM385.3 180.0h1.1v1.1h-1.1zM385.6 183.9h1.1v1.1h-1.1zM387.8 172.6h1.1v1.1h-1.1zM383.7 177.5h1.1v1.1h-1.1zM389.6 177.3h1.1v1.1h-1.1zM390.8 186.1h1.1v1.1h-1.1zM394.5 175.7h1.1v1.1h-1.1zM389.1 176.7h1.1v1.1h-1.1zM380.9 181.6h1.1v1.1h-1.1zM383.4 173.1h1.1v1.1h-1.1zM385.8 179.9h1.1v1.1h-1.1zM389.8 182.6h1.1v1.1h-1.1zM379.5 175.8h1.1v1.1h-1.1zM391.5 177.2h1.1v1.1h-1.1zM386.4 186.9h1.1v1.1h-1.1zM387.2 186.4h1.1v1.1h-1.1zM388.1 180.1h1.1v1.1h-1.1zM389.4 175.4h1.1v1.1h-1.1zM383.1 178.1h1.1v1.1h-1.1zM392.7 176.0h1.1v1.1h-1.1zM389.4 184.2h1.1v1.1h-1.1zM386.9 184.1h1.1v1.1h-1.1zM388.7 187.4h1.1v1.1h-1.1zM384.8 183.5h1.1v1.1h-1.1zM383.1 188.6h1.1v1.1h-1.1zM392.2 188.2h1.1v1.1h-1.1zM383.0 177.9h1.1v1.1h-1.1zM389.8 175.4h1.1v1.1h-1.1zM381.2 179.7h1.1v1.1h-1.1zM386.2 181.6h1.1v1.1h-1.1zM388.5 184.7h1.1v1.1h-1.1zM392.8 185.5h1.1v1.1h-1.1zM379.2 178.2h1.1v1.1h-1.1zM391.2 177.0h1.1v1.1h-1.1zM385.3 178.3h1.1v1.1h-1.1zM392.5 185.4h1.1v1.1h-1.1zM389.1 178.7h1.1v1.1h-1.1zM389.5 177.1h1.1v1.1h-1.1zM379.3 176.3h1.1v1.1h-1.1zM393.4 176.2h1.1v1.1h-1.1zM390.1 174.8h1.1v1.1h-1.1zM390.8 173.7h1.1v1.1h-1.1zM386.4 186.8h1.1v1.1h-1.1zM389.7 181.9h1.1v1.1h-1.1zM389.4 179.9h1.1v1.1h-1.1zM384.5 182.7h1.1v1.1h-1.1zM387.4 185.6h1.1v1.1h-1.1zM392.8 185.1h1.1v1.1h-1.1zM387.4 183.5h1.1v1.1h-1.1zM382.2 182.3h1.1v1.1h-1.1zM394.8 177.9h1.1v1.1h-1.1zM384.9 179.9h1.1v1.1h-1.1zM385.7 177.8h1.1v1.1h-1.1zM384.6 180.2h1.1v1.1h-1.1zM385.7 178.1h1.1v1.1h-1.1zM393.8 178.1h1.1v1.1h-1.1zM385.0 180.1h1.1v1.1h-1.1zM388.1 185.7h1.1v1.1h-1.1zM385.8 176.0h1.1v1.1h-1.1zM391.2 177.3h1.1v1.1h-1.1zM386.8 184.0h1.1v1.1h-1.1zM394.2 184.2h1.1v1.1h-1.1zM393.2 175.4h1.1v1.1h-1.1zM393.3 175.6h1.1v1.1h-1.1zM382.6 181.1h1.1v1.1h-1.1zM386.5 178.6h1.1v1.1h-1.1zM389.4 181.4h1.1v1.1h-1.1zM389.6 178.4h1.1v1.1h-1.1zM389.2 174.3h1.1v1.1h-1.1zM388.3 184.8h1.1v1.1h-1.1zM387.0 183.2h1.1v1.1h-1.1zM383.6 187.0h1.1v1.1h-1.1zM381.6 180.8h1.1v1.1h-1.1zM381.0 182.3h1.1v1.1h-1.1zM384.7 180.0h1.1v1.1h-1.1zM390.1 183.3h1.1v1.1h-1.1zM384.8 173.2h1.1v1.1h-1.1zM382.8 173.9h1.1v1.1h-1.1zM380.9 174.1h1.1v1.1h-1.1zM385.6 184.0h1.1v1.1h-1.1zM382.8 176.2h1.1v1.1h-1.1zM383.9 179.9h1.1v1.1h-1.1zM386.9 174.4h1.1v1.1h-1.1zM381.6 182.4h1.1v1.1h-1.1zM385.8 185.2h1.1v1.1h-1.1zM389.3 180.4h1.1v1.1h-1.1zM381.1 181.3h1.1v1.1h-1.1zM382.2 180.9h1.1v1.1h-1.1zM393.2 185.7h1.1v1.1h-1.1zM390.7 182.6h1.1v1.1h-1.1zM384.8 182.6h1.1v1.1h-1.1zM393.1 175.6h1.1v1.1h-1.1zM388.1 181.1h1.1v1.1h-1.1zM389.9 182.2h1.1v1.1h-1.1zM389.2 185.5h1.1v1.1h-1.1zM387.8 181.9h1.1v1.1h-1.1zM395.9 180.9h1.1v1.1h-1.1zM390.4 182.9h1.1v1.1h-1.1zM387.7 183.3h1.1v1.1h-1.1zM382.6 179.3h1.1v1.1h-1.1zM385.0 185.8h1.1v1.1h-1.1zM385.7 181.1h1.1v1.1h-1.1zM390.9 183.2h1.1v1.1h-1.1zM384.8 173.1h1.1v1.1h-1.1zM386.3 181.4h1.1v1.1h-1.1zM387.6 180.1h1.1v1.1h-1.1zM386.3 186.9h1.1v1.1h-1.1zM383.6 181.3h1.1v1.1h-1.1zM385.0 179.2h1.1v1.1h-1.1zM387.0 179.8h1.1v1.1h-1.1zM390.7 181.8h1.1v1.1h-1.1zM389.4 172.5h1.1v1.1h-1.1zM390.8 178.7h1.1v1.1h-1.1zM390.6 178.7h1.1v1.1h-1.1zM384.1 180.7h1.1v1.1h-1.1zM384.7 178.4h1.1v1.1h-1.1zM389.7 178.2h1.1v1.1h-1.1zM391.6 178.0h1.1v1.1h-1.1zM382.4 185.4h1.1v1.1h-1.1zM387.5 186.1h1.1v1.1h-1.1zM383.9 182.1h1.1v1.1h-1.1zM389.2 181.4h1.1v1.1h-1.1zM387.2 180.1h1.1v1.1h-1.1zM385.5 183.6h1.1v1.1h-1.1zM391.2 183.9h1.1v1.1h-1.1zM390.3 177.7h1.1v1.1h-1.1zM390.1 179.9h1.1v1.1h-1.1zM387.2 180.1h1.1v1.1h-1.1zM390.2 187.5h1.1v1.1h-1.1zM391.7 182.3h1.1v1.1h-1.1zM379.2 181.8h1.1v1.1h-1.1zM382.1 175.5h1.1v1.1h-1.1zM389.3 182.1h1.1v1.1h-1.1zM382.4 178.4h1.1v1.1h-1.1zM395.8 175.4h1.1v1.1h-1.1zM390.3 173.9h1.1v1.1h-1.1zM386.3 186.8h1.1v1.1h-1.1zM380.5 180.7h1.1v1.1h-1.1zM386.1 185.7h1.1v1.1h-1.1zM387.5 188.5h1.1v1.1h-1.1zM394.9 182.2h1.1v1.1h-1.1zM388.0 179.1h1.1v1.1h-1.1zM388.4 178.6h1.1v1.1h-1.1zM386.1 179.6h1.1v1.1h-1.1zM385.8 186.7h1.1v1.1h-1.1zM392.8 179.0h1.1v1.1h-1.1zM387.5 182.2h1.1v1.1h-1.1zM388.1 177.7h1.1v1.1h-1.1zM380.5 182.9h1.1v1.1h-1.1zM386.0 178.2h1.1v1.1h-1.1zM384.2 186.2h1.1v1.1h-1.1zM386.1 181.4h1.1v1.1h-1.1zM390.7 179.3h1.1v1.1h-1.1zM391.9 180.5h1.1v1.1h-1.1zM383.4 180.1h1.1v1.1h-1.1zM393.9 183.7h1.1v1.1h-1.1zM386.4 189.3h1.1v1.1h-1.1zM380.7 173.6h1.1v1.1h-1.1zM384.8 184.4h1.1v1.1h-1.1zM384.4 176.2h1.1v1.1h-1.1zM391.0 179.2h1.1v1.1h-1.1zM388.2 177.7h1.1v1.1h-1.1zM385.5 186.8h1.1v1.1h-1.1zM383.9 179.7h1.1v1.1h-1.1zM388.4 181.5h1.1v1.1h-1.1zM384.4 184.2h1.1v1.1h-1.1zM382.6 183.0h1.1v1.1h-1.1zM385.5 183.5h1.1v1.1h-1.1zM387.5 186.2h1.1v1.1h-1.1zM396.8 177.5h1.1v1.1h-1.1zM390.0 178.9h1.1v1.1h-1.1zM385.6 184.0h1.1v1.1h-1.1zM391.4 175.5h1.1v1.1h-1.1zM389.2 180.1h1.1v1.1h-1.1zM391.2 181.6h1.1v1.1h-1.1zM391.2 183.3h1.1v1.1h-1.1zM380.2 183.3h1.1v1.1h-1.1zM386.8 174.2h1.1v1.1h-1.1zM381.0 179.0h1.1v1.1h-1.1zM388.6 178.4h1.1v1.1h-1.1zM393.6 182.5h1.1v1.1h-1.1zM391.2 187.0h1.1v1.1h-1.1zM384.9 177.6h1.1v1.1h-1.1zM387.7 182.0h1.1v1.1h-1.1zM391.0 183.3h1.1v1.1h-1.1zM173.7 244.5h1.1v1.1h-1.1zM171.8 247.9h1.1v1.1h-1.1zM185.9 256.7h1.1v1.1h-1.1zM179.1 251.6h1.1v1.1h-1.1zM182.1 244.3h1.1v1.1h-1.1zM181.8 243.9h1.1v1.1h-1.1zM174.2 242.9h1.1v1.1h-1.1zM187.2 254.9h1.1v1.1h-1.1zM176.7 256.5h1.1v1.1h-1.1zM180.6 249.8h1.1v1.1h-1.1zM171.6 253.6h1.1v1.1h-1.1zM176.0 249.5h1.1v1.1h-1.1zM177.4 243.9h1.1v1.1h-1.1zM182.2 254.6h1.1v1.1h-1.1zM183.6 252.0h1.1v1.1h-1.1zM183.8 242.3h1.1v1.1h-1.1zM177.6 242.1h1.1v1.1h-1.1zM177.0 253.0h1.1v1.1h-1.1zM179.2 252.7h1.1v1.1h-1.1zM184.3 245.5h1.1v1.1h-1.1zM173.7 246.5h1.1v1.1h-1.1zM174.4 259.4h1.1v1.1h-1.1zM187.0 253.8h1.1v1.1h-1.1zM182.5 248.9h1.1v1.1h-1.1zM180.2 243.6h1.1v1.1h-1.1zM179.0 252.6h1.1v1.1h-1.1zM178.8 259.2h1.1v1.1h-1.1zM182.1 239.9h1.1v1.1h-1.1zM182.3 257.6h1.1v1.1h-1.1zM182.8 258.9h1.1v1.1h-1.1zM181.3 251.7h1.1v1.1h-1.1zM181.1 259.3h1.1v1.1h-1.1zM178.8 246.6h1.1v1.1h-1.1zM177.8 247.8h1.1v1.1h-1.1zM186.7 245.4h1.1v1.1h-1.1zM177.5 258.3h1.1v1.1h-1.1zM176.5 250.9h1.1v1.1h-1.1zM176.6 240.3h1.1v1.1h-1.1zM179.8 261.3h1.1v1.1h-1.1zM177.9 244.6h1.1v1.1h-1.1zM177.8 245.6h1.1v1.1h-1.1zM178.1 255.1h1.1v1.1h-1.1zM181.9 254.9h1.1v1.1h-1.1zM178.5 243.1h1.1v1.1h-1.1zM183.1 246.2h1.1v1.1h-1.1zM180.5 244.2h1.1v1.1h-1.1zM176.1 254.6h1.1v1.1h-1.1zM182.3 251.6h1.1v1.1h-1.1zM182.4 245.6h1.1v1.1h-1.1zM176.0 260.9h1.1v1.1h-1.1zM178.3 241.7h1.1v1.1h-1.1zM180.1 240.3h1.1v1.1h-1.1zM185.4 251.9h1.1v1.1h-1.1zM181.1 258.6h1.1v1.1h-1.1zM176.8 248.9h1.1v1.1h-1.1zM176.2 246.0h1.1v1.1h-1.1zM186.4 251.7h1.1v1.1h-1.1zM172.7 245.6h1.1v1.1h-1.1zM173.8 256.3h1.1v1.1h-1.1zM173.8 258.2h1.1v1.1h-1.1zM180.8 246.7h1.1v1.1h-1.1zM185.2 257.8h1.1v1.1h-1.1zM174.7 250.9h1.1v1.1h-1.1zM171.3 251.5h1.1v1.1h-1.1zM184.3 251.2h1.1v1.1h-1.1zM183.7 249.4h1.1v1.1h-1.1zM176.4 242.8h1.1v1.1h-1.1zM171.6 254.6h1.1v1.1h-1.1zM173.9 247.2h1.1v1.1h-1.1zM173.0 249.7h1.1v1.1h-1.1zM180.4 258.4h1.1v1.1h-1.1zM179.5 243.2h1.1v1.1h-1.1zM178.8 256.0h1.1v1.1h-1.1zM185.5 246.8h1.1v1.1h-1.1zM176.1 258.3h1.1v1.1h-1.1zM183.6 255.3h1.1v1.1h-1.1zM177.4 249.6h1.1v1.1h-1.1zM182.4 241.0h1.1v1.1h-1.1zM177.7 253.0h1.1v1.1h-1.1zM186.2 246.7h1.1v1.1h-1.1zM176.9 241.4h1.1v1.1h-1.1zM179.5 253.7h1.1v1.1h-1.1zM181.4 246.2h1.1v1.1h-1.1zM181.5 253.6h1.1v1.1h-1.1zM175.5 245.4h1.1v1.1h-1.1zM172.2 252.2h1.1v1.1h-1.1zM173.4 251.3h1.1v1.1h-1.1zM178.2 243.0h1.1v1.1h-1.1zM182.3 259.7h1.1v1.1h-1.1zM181.3 254.7h1.1v1.1h-1.1zM186.3 245.1h1.1v1.1h-1.1zM185.9 245.6h1.1v1.1h-1.1zM179.7 254.5h1.1v1.1h-1.1zM183.0 259.6h1.1v1.1h-1.1zM173.3 251.0h1.1v1.1h-1.1zM182.0 247.2h1.1v1.1h-1.1zM181.8 259.4h1.1v1.1h-1.1zM186.4 247.4h1.1v1.1h-1.1zM186.1 254.9h1.1v1.1h-1.1zM176.8 240.8h1.1v1.1h-1.1zM180.8 246.1h1.1v1.1h-1.1zM178.1 252.6h1.1v1.1h-1.1zM176.5 243.8h1.1v1.1h-1.1zM179.7 261.0h1.1v1.1h-1.1zM185.9 255.6h1.1v1.1h-1.1zM182.0 245.0h1.1v1.1h-1.1zM174.6 257.0h1.1v1.1h-1.1zM180.2 253.5h1.1v1.1h-1.1zM184.5 244.8h1.1v1.1h-1.1zM175.9 251.9h1.1v1.1h-1.1zM176.5 251.0h1.1v1.1h-1.1zM178.2 257.3h1.1v1.1h-1.1zM184.8 246.1h1.1v1.1h-1.1zM180.3 257.3h1.1v1.1h-1.1zM182.6 260.0h1.1v1.1h-1.1zM187.1 255.4h1.1v1.1h-1.1zM184.3 243.9h1.1v1.1h-1.1zM177.8 250.3h1.1v1.1h-1.1zM173.1 251.2h1.1v1.1h-1.1zM177.3 240.9h1.1v1.1h-1.1zM186.0 251.6h1.1v1.1h-1.1zM181.3 243.7h1.1v1.1h-1.1zM178.6 245.7h1.1v1.1h-1.1zM179.7 258.2h1.1v1.1h-1.1zM182.7 242.7h1.1v1.1h-1.1zM177.7 245.6h1.1v1.1h-1.1zM180.2 248.2h1.1v1.1h-1.1zM171.4 249.0h1.1v1.1h-1.1zM180.3 253.4h1.1v1.1h-1.1zM174.3 242.1h1.1v1.1h-1.1zM175.5 241.1h1.1v1.1h-1.1zM177.5 254.2h1.1v1.1h-1.1zM176.3 253.4h1.1v1.1h-1.1zM180.0 245.3h1.1v1.1h-1.1zM182.2 257.3h1.1v1.1h-1.1zM187.6 250.5h1.1v1.1h-1.1zM176.2 249.8h1.1v1.1h-1.1zM184.9 254.0h1.1v1.1h-1.1zM179.0 240.8h1.1v1.1h-1.1zM184.6 251.9h1.1v1.1h-1.1zM175.7 251.0h1.1v1.1h-1.1zM180.5 242.7h1.1v1.1h-1.1zM176.0 244.9h1.1v1.1h-1.1zM187.4 248.7h1.1v1.1h-1.1zM176.4 257.8h1.1v1.1h-1.1zM173.7 242.4h1.1v1.1h-1.1zM179.5 239.9h1.1v1.1h-1.1zM184.8 258.5h1.1v1.1h-1.1zM180.8 246.1h1.1v1.1h-1.1zM172.6 248.3h1.1v1.1h-1.1zM177.3 249.6h1.1v1.1h-1.1zM176.3 253.2h1.1v1.1h-1.1zM179.4 244.4h1.1v1.1h-1.1zM178.3 248.2h1.1v1.1h-1.1zM175.6 251.6h1.1v1.1h-1.1zM178.1 254.5h1.1v1.1h-1.1zM172.8 256.3h1.1v1.1h-1.1zM182.3 261.2h1.1v1.1h-1.1zM179.2 244.2h1.1v1.1h-1.1zM185.2 244.3h1.1v1.1h-1.1zM175.3 245.7h1.1v1.1h-1.1zM175.9 255.2h1.1v1.1h-1.1zM185.4 245.7h1.1v1.1h-1.1zM182.2 249.1h1.1v1.1h-1.1zM178.6 247.0h1.1v1.1h-1.1zM185.2 245.0h1.1v1.1h-1.1zM181.3 255.9h1.1v1.1h-1.1zM186.0 250.8h1.1v1.1h-1.1zM175.8 256.7h1.1v1.1h-1.1zM172.2 245.7h1.1v1.1h-1.1zM185.4 244.5h1.1v1.1h-1.1zM186.7 255.5h1.1v1.1h-1.1zM179.4 260.5h1.1v1.1h-1.1zM172.5 245.1h1.1v1.1h-1.1zM184.6 253.9h1.1v1.1h-1.1zM183.4 243.1h1.1v1.1h-1.1zM179.8 246.2h1.1v1.1h-1.1zM176.1 241.6h1.1v1.1h-1.1zM180.3 249.8h1.1v1.1h-1.1zM173.3 254.5h1.1v1.1h-1.1zM181.4 253.9h1.1v1.1h-1.1zM179.7 244.2h1.1v1.1h-1.1zM183.5 258.0h1.1v1.1h-1.1zM174.7 251.8h1.1v1.1h-1.1zM177.7 260.9h1.1v1.1h-1.1zM186.1 253.9h1.1v1.1h-1.1zM178.6 250.7h1.1v1.1h-1.1zM184.3 253.9h1.1v1.1h-1.1zM178.1 241.3h1.1v1.1h-1.1zM172.8 245.7h1.1v1.1h-1.1zM173.0 256.2h1.1v1.1h-1.1zM180.8 256.2h1.1v1.1h-1.1zM181.3 251.6h1.1v1.1h-1.1zM179.9 247.1h1.1v1.1h-1.1zM177.3 242.5h1.1v1.1h-1.1zM173.5 257.2h1.1v1.1h-1.1zM172.5 255.2h1.1v1.1h-1.1zM177.6 257.3h1.1v1.1h-1.1zM181.9 248.6h1.1v1.1h-1.1zM172.1 246.5h1.1v1.1h-1.1zM179.2 240.6h1.1v1.1h-1.1zM173.4 249.9h1.1v1.1h-1.1zM184.8 256.4h1.1v1.1h-1.1zM171.4 250.2h1.1v1.1h-1.1zM183.1 254.8h1.1v1.1h-1.1zM184.0 258.5h1.1v1.1h-1.1zM181.7 250.8h1.1v1.1h-1.1zM174.9 247.0h1.1v1.1h-1.1zM178.6 242.3h1.1v1.1h-1.1zM173.8 246.3h1.1v1.1h-1.1zM175.5 241.4h1.1v1.1h-1.1zM181.5 245.1h1.1v1.1h-1.1zM182.7 242.2h1.1v1.1h-1.1zM186.8 255.4h1.1v1.1h-1.1zM177.8 249.7h1.1v1.1h-1.1zM181.6 260.9h1.1v1.1h-1.1zM184.5 251.0h1.1v1.1h-1.1zM175.9 254.7h1.1v1.1h-1.1zM176.5 248.9h1.1v1.1h-1.1zM173.4 251.6h1.1v1.1h-1.1zM174.8 247.4h1.1v1.1h-1.1zM183.0 241.3h1.1v1.1h-1.1zM180.5 256.2h1.1v1.1h-1.1zM180.6 261.0h1.1v1.1h-1.1zM179.3 253.0h1.1v1.1h-1.1zM173.8 257.4h1.1v1.1h-1.1zM173.1 246.7h1.1v1.1h-1.1zM186.6 246.4h1.1v1.1h-1.1zM175.2 248.6h1.1v1.1h-1.1zM174.7 250.1h1.1v1.1h-1.1zM180.3 245.1h1.1v1.1h-1.1zM171.2 248.4h1.1v1.1h-1.1zM187.1 247.8h1.1v1.1h-1.1zM183.2 255.9h1.1v1.1h-1.1zM179.1 258.1h1.1v1.1h-1.1zM185.5 243.1h1.1v1.1h-1.1zM180.9 261.2h1.1v1.1h-1.1zM180.6 249.8h1.1v1.1h-1.1zM177.5 248.9h1.1v1.1h-1.1zM178.6 243.7h1.1v1.1h-1.1zM174.4 243.2h1.1v1.1h-1.1zM176.7 244.2h1.1v1.1h-1.1zM183.9 245.8h1.1v1.1h-1.1zM182.4 260.6h1.1v1.1h-1.1zM186.3 255.3h1.1v1.1h-1.1zM186.6 252.7h1.1v1.1h-1.1zM185.9 254.9h1.1v1.1h-1.1zM180.6 248.2h1.1v1.1h-1.1zM183.6 250.2h1.1v1.1h-1.1zM174.5 256.7h1.1v1.1h-1.1zM177.9 244.7h1.1v1.1h-1.1zM174.0 256.6h1.1v1.1h-1.1zM186.4 253.5h1.1v1.1h-1.1zM181.2 257.0h1.1v1.1h-1.1zM180.9 247.3h1.1v1.1h-1.1zM178.9 259.3h1.1v1.1h-1.1zM183.6 241.8h1.1v1.1h-1.1zM179.5 242.2h1.1v1.1h-1.1zM175.4 256.1h1.1v1.1h-1.1zM182.6 245.6h1.1v1.1h-1.1zM177.6 243.5h1.1v1.1h-1.1zM174.9 241.5h1.1v1.1h-1.1zM184.6 252.6h1.1v1.1h-1.1zM184.2 248.6h1.1v1.1h-1.1zM187.3 252.2h1.1v1.1h-1.1zM183.9 245.8h1.1v1.1h-1.1zM174.7 255.2h1.1v1.1h-1.1zM183.3 259.9h1.1v1.1h-1.1zM177.1 244.6h1.1v1.1h-1.1zM176.3 243.2h1.1v1.1h-1.1zM174.3 243.2h1.1v1.1h-1.1zM174.5 247.7h1.1v1.1h-1.1zM176.2 251.4h1.1v1.1h-1.1zM179.1 254.5h1.1v1.1h-1.1zM183.1 246.4h1.1v1.1h-1.1zM181.5 247.3h1.1v1.1h-1.1zM182.2 250.1h1.1v1.1h-1.1zM183.7 253.8h1.1v1.1h-1.1zM181.0 244.9h1.1v1.1h-1.1zM172.7 257.3h1.1v1.1h-1.1zM175.3 254.6h1.1v1.1h-1.1zM186.0 250.4h1.1v1.1h-1.1zM174.2 248.8h1.1v1.1h-1.1zM177.0 250.4h1.1v1.1h-1.1zM183.9 257.4h1.1v1.1h-1.1zM182.2 243.8h1.1v1.1h-1.1zM174.6 243.9h1.1v1.1h-1.1zM175.5 251.9h1.1v1.1h-1.1zM180.8 247.3h1.1v1.1h-1.1zM186.4 247.6h1.1v1.1h-1.1zM175.7 246.4h1.1v1.1h-1.1zM180.9 256.0h1.1v1.1h-1.1zM185.1 252.3h1.1v1.1h-1.1zM173.0 254.2h1.1v1.1h-1.1zM176.7 258.1h1.1v1.1h-1.1zM184.3 243.4h1.1v1.1h-1.1zM181.4 260.7h1.1v1.1h-1.1zM173.5 244.7h1.1v1.1h-1.1zM183.1 253.0h1.1v1.1h-1.1zM177.2 257.3h1.1v1.1h-1.1zM187.4 250.5h1.1v1.1h-1.1zM186.3 245.7h1.1v1.1h-1.1zM179.7 248.7h1.1v1.1h-1.1zM180.7 246.9h1.1v1.1h-1.1zM179.0 255.5h1.1v1.1h-1.1zM177.3 240.9h1.1v1.1h-1.1zM184.0 250.6h1.1v1.1h-1.1zM175.5 241.9h1.1v1.1h-1.1zM184.5 244.0h1.1v1.1h-1.1zM175.2 260.3h1.1v1.1h-1.1zM181.3 258.7h1.1v1.1h-1.1zM173.7 254.4h1.1v1.1h-1.1zM172.8 252.7h1.1v1.1h-1.1zM171.1 248.0h1.1v1.1h-1.1zM174.2 251.7h1.1v1.1h-1.1zM181.0 253.5h1.1v1.1h-1.1zM181.9 247.8h1.1v1.1h-1.1zM182.5 246.8h1.1v1.1h-1.1zM180.4 256.0h1.1v1.1h-1.1zM177.2 259.1h1.1v1.1h-1.1zM182.0 256.3h1.1v1.1h-1.1zM173.2 251.4h1.1v1.1h-1.1zM177.0 261.3h1.1v1.1h-1.1zM177.0 251.7h1.1v1.1h-1.1zM180.0 256.1h1.1v1.1h-1.1zM184.5 255.7h1.1v1.1h-1.1zM186.1 256.2h1.1v1.1h-1.1zM176.6 241.1h1.1v1.1h-1.1zM187.1 253.5h1.1v1.1h-1.1zM182.8 248.8h1.1v1.1h-1.1zM180.8 246.4h1.1v1.1h-1.1zM178.9 261.6h1.1v1.1h-1.1zM185.3 257.3h1.1v1.1h-1.1zM177.9 249.5h1.1v1.1h-1.1zM172.9 245.8h1.1v1.1h-1.1zM183.5 259.4h1.1v1.1h-1.1zM181.4 245.1h1.1v1.1h-1.1zM186.4 248.1h1.1v1.1h-1.1zM173.1 256.4h1.1v1.1h-1.1zM181.1 239.8h1.1v1.1h-1.1zM176.8 245.0h1.1v1.1h-1.1zM184.6 244.2h1.1v1.1h-1.1zM175.6 248.0h1.1v1.1h-1.1zM175.9 241.4h1.1v1.1h-1.1zM173.3 251.4h1.1v1.1h-1.1zM183.3 247.4h1.1v1.1h-1.1zM175.1 249.3h1.1v1.1h-1.1zM183.7 248.5h1.1v1.1h-1.1zM177.3 256.7h1.1v1.1h-1.1zM183.4 254.2h1.1v1.1h-1.1zM176.4 248.6h1.1v1.1h-1.1zM186.7 247.5h1.1v1.1h-1.1zM183.8 254.0h1.1v1.1h-1.1zM185.0 258.1h1.1v1.1h-1.1zM183.1 260.4h1.1v1.1h-1.1zM172.2 246.4h1.1v1.1h-1.1zM175.5 245.3h1.1v1.1h-1.1zM177.9 254.9h1.1v1.1h-1.1zM181.6 247.2h1.1v1.1h-1.1zM177.9 250.4h1.1v1.1h-1.1zM182.4 244.5h1.1v1.1h-1.1zM178.1 244.3h1.1v1.1h-1.1zM181.3 255.9h1.1v1.1h-1.1zM176.2 248.1h1.1v1.1h-1.1zM171.5 253.9h1.1v1.1h-1.1zM172.8 244.8h1.1v1.1h-1.1zM175.7 257.9h1.1v1.1h-1.1zM181.2 255.2h1.1v1.1h-1.1zM172.0 248.4h1.1v1.1h-1.1zM182.4 239.7h1.1v1.1h-1.1zM174.2 244.4h1.1v1.1h-1.1zM186.3 252.2h1.1v1.1h-1.1zM176.9 246.3h1.1v1.1h-1.1zM179.4 251.5h1.1v1.1h-1.1zM173.8 246.0h1.1v1.1h-1.1zM172.7 247.6h1.1v1.1h-1.1zM178.5 241.7h1.1v1.1h-1.1zM180.2 258.1h1.1v1.1h-1.1zM184.3 248.5h1.1v1.1h-1.1zM177.9 241.4h1.1v1.1h-1.1zM177.9 253.0h1.1v1.1h-1.1zM182.8 256.1h1.1v1.1h-1.1zM179.4 246.9h1.1v1.1h-1.1zM178.4 245.0h1.1v1.1h-1.1zM174.7 242.2h1.1v1.1h-1.1zM174.1 248.4h1.1v1.1h-1.1zM174.9 250.3h1.1v1.1h-1.1zM186.0 254.2h1.1v1.1h-1.1zM178.7 261.2h1.1v1.1h-1.1zM171.2 249.2h1.1v1.1h-1.1zM181.0 253.4h1.1v1.1h-1.1zM176.0 246.4h1.1v1.1h-1.1zM172.0 251.9h1.1v1.1h-1.1zM175.8 253.9h1.1v1.1h-1.1zM177.6 245.6h1.1v1.1h-1.1zM171.7 246.0h1.1v1.1h-1.1zM183.6 259.3h1.1v1.1h-1.1zM178.6 252.7h1.1v1.1h-1.1zM174.0 248.0h1.1v1.1h-1.1zM183.2 252.0h1.1v1.1h-1.1zM183.1 254.3h1.1v1.1h-1.1zM179.1 256.0h1.1v1.1h-1.1zM173.5 246.7h1.1v1.1h-1.1zM174.7 249.8h1.1v1.1h-1.1zM185.4 250.3h1.1v1.1h-1.1zM179.6 252.0h1.1v1.1h-1.1zM181.6 258.9h1.1v1.1h-1.1zM177.6 246.0h1.1v1.1h-1.1zM172.5 256.9h1.1v1.1h-1.1zM185.5 245.8h1.1v1.1h-1.1zM173.2 245.8h1.1v1.1h-1.1zM178.8 249.7h1.1v1.1h-1.1zM186.5 255.2h1.1v1.1h-1.1zM178.3 250.2h1.1v1.1h-1.1zM186.6 245.9h1.1v1.1h-1.1zM174.0 247.0h1.1v1.1h-1.1zM181.8 245.0h1.1v1.1h-1.1zM185.1 248.2h1.1v1.1h-1.1zM185.3 252.7h1.1v1.1h-1.1zM182.9 251.2h1.1v1.1h-1.1z"/>
<path fill="#cc2619" fill-opacity="0.6" d="M181.4 371.9h1.2v1.2h-1.2zM177.6 362.6h1.2v1.2h-1.2zM180.0 372.0h1.2v1.2h-1.2zM172.1 360.8h1.2v1.2h-1.2zM178.0 353.3h1.2v1.2h-1.2zM186.2 353.1h1.2v1.2h-1.2zM188.0 376.4h1.2v1.2h-1.2zM177.9 362.7h1.2v1.2h-1.2zM180.8 366.3h1.2v1.2h-1.2zM182.5 358.4h1.2v1.2h-1.2zM177.3 358.9h1.2v1.2h-1.2zM180.6 361.6h1.2v1.2h-1.2zM189.7 367.3h1.2v1.2h-1.2zM182.0 367.4h1.2v1.2h-1.2zM182.3 370.5h1.2v1.2h-1.2zM181.4 361.4h1.2v1.2h-1.2zM180.6 371.3h1.2v1.2h-1.2zM180.0 363.4h1.2v1.2h-1.2zM178.2 359.6h1.2v1.2h-1.2zM180.4 367.5h1.2v1.2h-1.2zM180.0 357.6h1.2v1.2h-1.2zM180.6 363.8h1.2v1.2h-1.2zM184.8 377.3h1.2v1.2h-1.2zM178.5 368.2h1.2v1.2h-1.2zM184.9 363.3h1.2v1.2h-1.2zM186.8 368.4h1.2v1.2h-1.2zM186.1 364.5h1.2v1.2h-1.2zM181.0 362.9h1.2v1.2h-1.2zM188.8 364.0h1.2v1.2h-1.2zM181.3 358.9h1.2v1.2h-1.2zM185.8 367.0h1.2v1.2h-1.2zM177.3 371.8h1.2v1.2h-1.2zM188.8 368.1h1.2v1.2h-1.2zM182.1 364.7h1.2v1.2h-1.2zM178.7 353.2h1.2v1.2h-1.2zM181.7 372.1h1.2v1.2h-1.2zM186.1 365.2h1.2v1.2h-1.2zM183.9 369.1h1.2v1.2h-1.2zM184.3 368.2h1.2v1.2h-1.2zM185.7 373.5h1.2v1.2h-1.2zM181.6 385.9h1.2v1.2h-1.2zM179.0 355.4h1.2v1.2h-1.2zM185.6 369.8h1.2v1.2h-1.2zM179.6 371.4h1.2v1.2h-1.2zM174.4 370.7h1.2v1.2h-1.2zM184.8 363.1h1.2v1.2h-1.2zM184.9 364.4h1.2v1.2h-1.2zM188.8 380.1h1.2v1.2h-1.2zM177.7 365.7h1.2v1.2h-1.2zM180.2 363.6h1.2v1.2h-1.2zM175.0 367.8h1.2v1.2h-1.2zM187.9 364.9h1.2v1.2h-1.2zM183.9 375.6h1.2v1.2h-1.2zM186.0 358.0h1.2v1.2h-1.2zM172.9 366.2h1.2v1.2h-1.2zM174.0 357.1h1.2v1.2h-1.2zM185.2 369.7h1.2v1.2h-1.2zM185.3 369.9h1.2v1.2h-1.2zM187.2 367.0h1.2v1.2h-1.2zM179.3 371.8h1.2v1.2h-1.2zM181.7 371.7h1.2v1.2h-1.2zM189.9 369.8h1.2v1.2h-1.2zM180.1 375.1h1.2v1.2h-1.2zM181.8 351.4h1.2v1.2h-1.2zM193.4 379.6h1.2v1.2h-1.2zM187.7 369.9h1.2v1.2h-1.2zM177.8 346.4h1.2v1.2h-1.2zM177.0 357.4h1.2v1.2h-1.2zM183.7 366.5h1.2v1.2h-1.2zM181.7 363.6h1.2v1.2h-1.2zM183.8 362.6h1.2v1.2h-1.2zM181.7 373.4h1.2v1.2h-1.2zM183.5 367.1h1.2v1.2h-1.2zM174.9 365.1h1.2v1.2h-1.2zM182.5 353.2h1.2v1.2h-1.2zM183.2 368.4h1.2v1.2h-1.2zM172.2 365.2h1.2v1.2h-1.2zM185.4 358.1h1.2v1.2h-1.2zM181.1 371.1h1.2v1.2h-1.2zM185.6 375.1h1.2v1.2h-1.2zM180.2 361.9h1.2v1.2h-1.2zM184.2 367.4h1.2v1.2h-1.2zM181.3 361.3h1.2v1.2h-1.2zM181.8 354.8h1.2v1.2h-1.2zM182.2 375.9h1.2v1.2h-1.2zM182.9 362.0h1.2v1.2h-1.2zM188.3 378.3h1.2v1.2h-1.2zM182.6 370.3h1.2v1.2h-1.2zM179.4 367.9h1.2v1.2h-1.2zM175.5 363.1h1.2v1.2h-1.2zM180.8 353.2h1.2v1.2h-1.2zM176.3 370.6h1.2v1.2h-1.2zM182.6 356.6h1.2v1.2h-1.2zM185.3 370.7h1.2v1.2h-1.2zM187.4 372.1h1.2v1.2h-1.2zM185.1 362.7h1.2v1.2h-1.2zM178.3 373.9h1.2v1.2h-1.2zM181.7 368.6h1.2v1.2h-1.2zM188.4 383.2h1.2v1.2h-1.2zM174.7 368.4h1.2v1.2h-1.2zM184.8 371.9h1.2v1.2h-1.2zM179.1 364.6h1.2v1.2h-1.2zM176.6 361.2h1.2v1.2h-1.2zM191.4 381.2h1.2v1.2h-1.2zM180.9 373.1h1.2v1.2h-1.2zM181.0 360.7h1.2v1.2h-1.2zM181.1 363.0h1.2v1.2h-1.2zM176.7 363.3h1.2v1.2h-1.2zM185.2 372.9h1.2v1.2h-1.2zM183.8 364.1h1.2v1.2h-1.2zM179.4 359.9h1.2v1.2h-1.2zM181.1 360.1h1.2v1.2h-1.2zM187.0 376.2h1.2v1.2h-1.2zM183.9 368.7h1.2v1.2h-1.2zM184.9 369.5h1.2v1.2h-1.2zM174.5 371.5h1.2v1.2h-1.2zM182.8 364.1h1.2v1.2h-1.2zM183.4 373.9h1.2v1.2h-1.2zM183.5 367.1h1.2v1.2h-1.2zM191.7 370.4h1.2v1.2h-1.2zM190.5 370.1h1.2v1.2h-1.2zM183.4 365.6h1.2v1.2h-1.2zM189.8 365.2h1.2v1.2h-1.2zM183.0 358.2h1.2v1.2h-1.2zM185.5 365.6h1.2v1.2h-1.2zM179.6 371.8h1.2v1.2h-1.2zM178.4 379.4h1.2v1.2h-1.2zM186.5 369.3h1.2v1.2h-1.2zM182.0 363.1h1.2v1.2h-1.2zM189.8 377.3h1.2v1.2h-1.2zM185.2 359.3h1.2v1.2h-1.2zM187.3 364.5h1.2v1.2h-1.2zM177.6 352.5h1.2v1.2h-1.2zM184.0 359.5h1.2v1.2h-1.2zM179.0 362.2h1.2v1.2h-1.2zM183.4 358.2h1.2v1.2h-1.2zM178.3 367.4h1.2v1.2h-1.2zM186.1 376.9h1.2v1.2h-1.2zM183.6 377.7h1.2v1.2h-1.2zM185.7 364.4h1.2v1.2h-1.2zM186.3 367.0h1.2v1.2h-1.2zM186.0 364.1h1.2v1.2h-1.2zM179.5 370.8h1.2v1.2h-1.2zM186.5 369.8h1.2v1.2h-1.2zM181.6 369.0h1.2v1.2h-1.2zM180.0 368.6h1.2v1.2h-1.2zM184.2 365.4h1.2v1.2h-1.2zM185.0 369.2h1.2v1.2h-1.2zM168.7 356.4h1.2v1.2h-1.2zM174.1 350.3h1.2v1.2h-1.2zM175.3 371.4h1.2v1.2h-1.2zM181.7 359.8h1.2v1.2h-1.2zM186.9 367.1h1.2v1.2h-1.2zM186.3 361.0h1.2v1.2h-1.2zM182.8 378.5h1.2v1.2h-1.2zM184.6 365.0h1.2v1.2h-1.2zM182.9 364.6h1.2v1.2h-1.2zM183.4 367.5h1.2v1.2h-1.2zM174.1 359.4h1.2v1.2h-1.2zM183.6 347.9h1.2v1.2h-1.2zM180.3 370.5h1.2v1.2h-1.2zM184.6 361.8h1.2v1.2h-1.2zM189.7 369.8h1.2v1.2h-1.2zM184.5 351.3h1.2v1.2h-1.2zM186.4 370.1h1.2v1.2h-1.2zM186.4 371.9h1.2v1.2h-1.2zM182.2 355.6h1.2v1.2h-1.2zM177.7 367.7h1.2v1.2h-1.2zM187.8 362.9h1.2v1.2h-1.2zM183.0 380.5h1.2v1.2h-1.2zM180.6 367.7h1.2v1.2h-1.2zM185.7 359.4h1.2v1.2h-1.2zM193.3 365.5h1.2v1.2h-1.2zM182.6 354.7h1.2v1.2h-1.2zM185.4 377.0h1.2v1.2h-1.2zM182.3 364.4h1.2v1.2h-1.2zM183.7 366.8h1.2v1.2h-1.2zM178.5 355.7h1.2v1.2h-1.2zM180.6 361.1h1.2v1.2h-1.2zM181.9 369.5h1.2v1.2h-1.2zM181.5 363.4h1.2v1.2h-1.2zM182.1 362.9h1.2v1.2h-1.2zM183.3 366.2h1.2v1.2h-1.2zM182.8 366.7h1.2v1.2h-1.2zM181.6 362.4h1.2v1.2h-1.2zM183.6 360.6h1.2v1.2h-1.2zM178.7 350.3h1.2v1.2h-1.2zM184.4 376.7h1.2v1.2h-1.2zM179.1 359.6h1.2v1.2h-1.2zM183.1 362.9h1.2v1.2h-1.2zM182.6 368.8h1.2v1.2h-1.2zM178.3 359.6h1.2v1.2h-1.2zM186.1 371.9h1.2v1.2h-1.2zM187.9 377.1h1.2v1.2h-1.2zM185.1 362.1h1.2v1.2h-1.2zM178.4 368.8h1.2v1.2h-1.2zM180.0 362.4h1.2v1.2h-1.2zM184.6 360.4h1.2v1.2h-1.2zM174.6 353.4h1.2v1.2h-1.2zM180.0 350.2h1.2v1.2h-1.2zM182.6 372.4h1.2v1.2h-1.2zM182.6 356.9h1.2v1.2h-1.2zM173.0 363.9h1.2v1.2h-1.2zM185.4 352.8h1.2v1.2h-1.2zM181.6 356.9h1.2v1.2h-1.2zM183.4 368.8h1.2v1.2h-1.2zM186.1 379.2h1.2v1.2h-1.2zM182.2 362.4h1.2v1.2h-1.2zM179.7 363.3h1.2v1.2h-1.2zM183.3 369.5h1.2v1.2h-1.2zM181.8 358.6h1.2v1.2h-1.2zM182.8 370.9h1.2v1.2h-1.2zM183.1 369.3h1.2v1.2h-1.2zM176.5 363.0h1.2v1.2h-1.2zM180.8 353.9h1.2v1.2h-1.2zM174.7 366.2h1.2v1.2h-1.2zM189.8 374.8h1.2v1.2h-1.2zM183.3 369.3h1.2v1.2h-1.2zM185.9 368.1h1.2v1.2h-1.2zM173.9 361.6h1.2v1.2h-1.2zM185.1 366.7h1.2v1.2h-1.2zM181.5 365.0h1.2v1.2h-1.2zM183.5 366.3h1.2v1.2h-1.2zM178.8 372.2h1.2v1.2h-1.2zM174.3 368.9h1.2v1.2h-1.2zM178.3 353.0h1.2v1.2h-1.2zM173.8 363.2h1.2v1.2h-1.2zM181.6 364.7h1.2v1.2h-1.2zM182.2 356.4h1.2v1.2h-1.2zM177.2 356.0h1.2v1.2h-1.2zM186.6 367.2h1.2v1.2h-1.2zM186.0 367.7h1.2v1.2h-1.2zM182.2 361.2h1.2v1.2h-1.2zM185.0 359.5h1.2v1.2h-1.2zM182.8 377.0h1.2v1.2h-1.2zM181.7 365.5h1.2v1.2h-1.2zM184.5 359.4h1.2v1.2h-1.2zM173.8 365.9h1.2v1.2h-1.2zM181.1 359.9h1.2v1.2h-1.2zM182.9 362.7h1.2v1.2h-1.2zM183.2 366.6h1.2v1.2h-1.2zM179.2 363.0h1.2v1.2h-1.2zM187.5 364.5h1.2v1.2h-1.2zM183.9 368.9h1.2v1.2h-1.2zM185.8 369.8h1.2v1.2h-1.2zM185.4 366.8h1.2v1.2h-1.2zM194.2 361.7h1.2v1.2h-1.2zM180.1 370.0h1.2v1.2h-1.2zM184.7 365.8h1.2v1.2h-1.2zM182.4 365.3h1.2v1.2h-1.2zM180.0 365.9h1.2v1.2h-1.2zM179.1 357.7h1.2v1.2h-1.2zM175.9 369.1h1.2v1.2h-1.2zM177.4 362.7h1.2v1.2h-1.2zM187.4 370.7h1.2v1.2h-1.2zM174.7 363.5h1.2v1.2h-1.2zM180.8 361.6h1.2v1.2h-1.2zM182.6 362.8h1.2v1.2h-1.2zM188.3 357.4h1.2v1.2h-1.2zM182.3 369.9h1.2v1.2h-1.2zM180.4 367.8h1.2v1.2h-1.2zM184.2 367.7h1.2v1.2h-1.2zM185.9 363.5h1.2v1.2h-1.2zM184.3 366.8h1.2v1.2h-1.2zM185.2 366.3h1.2v1.2h-1.2zM179.1 359.3h1.2v1.2h-1.2zM187.3 361.8h1.2v1.2h-1.2zM189.4 362.7h1.2v1.2h-1.2zM179.3 364.0h1.2v1.2h-1.2zM182.8 353.3h1.2v1.2h-1.2zM182.9 376.8h1.2v1.2h-1.2zM183.6 371.4h1.2v1.2h-1.2zM179.6 367.6h1.2v1.2h-1.2zM178.4 355.2h1.2v1.2h-1.2zM177.4 364.3h1.2v1.2h-1.2zM178.1 373.1h1.2v1.2h-1.2zM178.9 367.4h1.2v1.2h-1.2zM184.8 362.0h1.2v1.2h-1.2zM183.0 365.8h1.2v1.2h-1.2zM176.1 365.9h1.2v1.2h-1.2zM184.2 368.2h1.2v1.2h-1.2zM186.5 363.5h1.2v1.2h-1.2zM186.6 375.2h1.2v1.2h-1.2zM179.6 363.2h1.2v1.2h-1.2zM175.1 360.8h1.2v1.2h-1.2zM180.6 355.1h1.2v1.2h-1.2zM191.0 360.9h1.2v1.2h-1.2zM182.8 375.6h1.2v1.2h-1.2zM183.7 374.7h1.2v1.2h-1.2zM190.1 359.5h1.2v1.2h-1.2zM185.1 372.4h1.2v1.2h-1.2zM186.2 364.3h1.2v1.2h-1.2zM185.0 373.5h1.2v1.2h-1.2zM182.5 366.2h1.2v1.2h-1.2zM185.3 373.5h1.2v1.2h-1.2zM182.8 360.0h1.2v1.2h-1.2zM185.5 374.1h1.2v1.2h-1.2zM185.6 361.9h1.2v1.2h-1.2zM183.9 371.6h1.2v1.2h-1.2zM186.3 366.0h1.2v1.2h-1.2zM179.6 353.7h1.2v1.2h-1.2zM183.7 368.0h1.2v1.2h-1.2zM174.0 356.3h1.2v1.2h-1.2zM177.1 361.3h1.2v1.2h-1.2zM178.3 358.7h1.2v1.2h-1.2zM180.3 363.9h1.2v1.2h-1.2zM181.1 360.5h1.2v1.2h-1.2zM186.9 371.9h1.2v1.2h-1.2zM180.1 366.7h1.2v1.2h-1.2zM188.7 362.7h1.2v1.2h-1.2zM183.5 363.4h1.2v1.2h-1.2zM174.1 363.6h1.2v1.2h-1.2zM187.8 378.9h1.2v1.2h-1.2zM178.3 369.3h1.2v1.2h-1.2zM181.9 359.1h1.2v1.2h-1.2zM183.4 366.0h1.2v1.2h-1.2zM183.8 371.2h1.2v1.2h-1.2zM188.8 371.2h1.2v1.2h-1.2zM185.1 367.9h1.2v1.2h-1.2zM176.9 365.3h1.2v1.2h-1.2zM184.3 362.8h1.2v1.2h-1.2zM194.8 367.9h1.2v1.2h-1.2zM185.6 359.3h1.2v1.2h-1.2zM186.2 357.4h1.2v1.2h-1.2zM183.8 365.5h1.2v1.2h-1.2zM177.4 359.7h1.2v1.2h-1.2zM179.6 365.3h1.2v1.2h-1.2zM181.4 364.3h1.2v1.2h-1.2zM183.5 373.9h1.2v1.2h-1.2zM185.4 359.5h1.2v1.2h-1.2zM179.4 367.2h1.2v1.2h-1.2zM185.9 355.2h1.2v1.2h-1.2zM180.4 364.7h1.2v1.2h-1.2zM184.8 365.0h1.2v1.2h-1.2zM181.4 360.5h1.2v1.2h-1.2zM182.6 369.9h1.2v1.2h-1.2zM182.7 365.3h1.2v1.2h-1.2zM182.7 369.3h1.2v1.2h-1.2zM193.1 364.1h1.2v1.2h-1.2zM181.2 355.8h1.2v1.2h-1.2zM185.2 368.2h1.2v1.2h-1.2zM190.7 368.9h1.2v1.2h-1.2zM178.9 377.8h1.2v1.2h-1.2zM187.8 361.7h1.2v1.2h-1.2zM176.3 359.9h1.2v1.2h-1.2zM182.9 381.5h1.2v1.2h-1.2zM182.9 362.4h1.2v1.2h-1.2zM186.6 378.0h1.2v1.2h-1.2zM183.6 358.7h1.2v1.2h-1.2zM183.0 363.1h1.2v1.2h-1.2zM181.0 361.2h1.2v1.2h-1.2zM184.6 365.0h1.2v1.2h-1.2zM188.0 369.2h1.2v1.2h-1.2zM175.7 346.5h1.2v1.2h-1.2zM182.0 358.3h1.2v1.2h-1.2zM188.8 367.8h1.2v1.2h-1.2zM178.5 361.3h1.2v1.2h-1.2zM173.0 351.7h1.2v1.2h-1.2zM179.9 354.5h1.2v1.2h-1.2zM185.1 362.5h1.2v1.2h-1.2zM181.8 359.3h1.2v1.2h-1.2zM187.9 360.7h1.2v1.2h-1.2zM188.1 362.7h1.2v1.2h-1.2zM181.7 364.3h1.2v1.2h-1.2zM178.6 354.5h1.2v1.2h-1.2zM179.0 360.1h1.2v1.2h-1.2zM186.9 369.5h1.2v1.2h-1.2zM183.7 360.4h1.2v1.2h-1.2zM182.5 355.2h1.2v1.2h-1.2zM181.3 372.1h1.2v1.2h-1.2zM184.9 364.4h1.2v1.2h-1.2zM181.1 370.1h1.2v1.2h-1.2zM180.7 367.1h1.2v1.2h-1.2zM180.0 366.5h1.2v1.2h-1.2zM188.9 363.6h1.2v1.2h-1.2zM184.6 374.5h1.2v1.2h-1.2zM173.4 368.0h1.2v1.2h-1.2zM180.3 363.9h1.2v1.2h-1.2zM176.1 378.9h1.2v1.2h-1.2zM184.5 367.8h1.2v1.2h-1.2zM396.7 363.4h1.2v1.2h-1.2zM400.7 359.5h1.2v1.2h-1.2zM399.2 355.8h1.2v1.2h-1.2zM396.7 365.9h1.2v1.2h-1.2zM394.3 366.4h1.2v1.2h-1.2zM401.3 362.5h1.2v1.2h-1.2zM397.5 355.6h1.2v1.2h-1.2zM399.5 360.0h1.2v1.2h-1.2zM394.9 358.8h1.2v1.2h-1.2zM398.5 359.0h1.2v1.2h-1.2zM401.0 360.6h1.2v1.2h-1.2zM393.7 359.3h1.2v1.2h-1.2zM391.6 357.3h1.2v1.2h-1.2zM399.6 360.8h1.2v1.2h-1.2zM397.1 356.4h1.2v1.2h-1.2zM395.5 361.6h1.2v1.2h-1.2zM402.2 364.2h1.2v1.2h-1.2zM390.6 362.5h1.2v1.2h-1.2zM390.5 357.2h1.2v1.2h-1.2zM390.7 361.2h1.2v1.2h-1.2zM398.2 367.4h1.2v1.2h-1.2zM392.0 356.2h1.2v1.2h-1.2zM399.3 356.1h1.2v1.2h-1.2zM395.5 364.6h1.2v1.2h-1.2zM399.3 366.2h1.2v1.2h-1.2zM396.4 356.9h1.2v1.2h-1.2zM392.1 360.6h1.2v1.2h-1.2zM390.4 366.2h1.2v1.2h-1.2zM399.4 362.5h1.2v1.2h-1.2zM396.0 365.1h1.2v1.2h-1.2zM393.2 363.5h1.2v1.2h-1.2zM395.7 361.4h1.2v1.2h-1.2zM393.6 366.0h1.2v1.2h-1.2zM395.6 361.6h1.2v1.2h-1.2zM391.8 364.0h1.2v1.2h-1.2zM390.6 355.9h1.2v1.2h-1.2zM400.2 363.5h1.2v1.2h-1.2zM390.5 367.7h1.2v1.2h-1.2zM391.4 358.5h1.2v1.2h-1.2zM394.6 360.2h1.2v1.2h-1.2zM393.0 364.8h1.2v1.2h-1.2zM402.3 361.4h1.2v1.2h-1.2zM395.0 358.2h1.2v1.2h-1.2zM395.7 362.1h1.2v1.2h-1.2zM395.3 367.7h1.2v1.2h-1.2zM401.9 366.5h1.2v1.2h-1.2zM402.3 360.3h1.2v1.2h-1.2zM398.4 357.6h1.2v1.2h-1.2zM399.4 356.7h1.2v1.2h-1.2zM401.8 363.1h1.2v1.2h-1.2zM392.5 359.2h1.2v1.2h-1.2zM395.3 362.2h1.2v1.2h-1.2zM399.6 357.5h1.2v1.2h-1.2zM394.0 357.8h1.2v1.2h-1.2zM395.2 359.1h1.2v1.2h-1.2zM395.2 357.8h1.2v1.2h-1.2zM401.1 358.1h1.2v1.2h-1.2zM393.6 363.5h1.2v1.2h-1.2zM400.0 366.2h1.2v1.2h-1.2zM397.4 356.4h1.2v1.2h-1.2zM394.3 355.1h1.2v1.2h-1.2zM390.8 365.5h1.2v1.2h-1.2zM393.8 356.1h1.2v1.2h-1.2zM393.0 357.4h1.2v1.2h-1.2zM399.1 357.8h1.2v1.2h-1.2zM401.4 367.4h1.2v1.2h-1.2zM391.5 364.8h1.2v1.2h-1.2zM397.3 362.9h1.2v1.2h-1.2zM393.8 356.2h1.2v1.2h-1.2zM391.7 355.0h1.2v1.2h-1.2zM399.7 367.6h1.2v1.2h-1.2zM397.4 357.4h1.2v1.2h-1.2zM393.9 355.5h1.2v1.2h-1.2zM396.6 361.2h1.2v1.2h-1.2zM392.0 360.7h1.2v1.2h-1.2zM397.5 360.7h1.2v1.2h-1.2zM390.5 363.9h1.2v1.2h-1.2zM391.8 355.5h1.2v1.2h-1.2zM397.3 360.7h1.2v1.2h-1.2zM399.1 355.4h1.2v1.2h-1.2zM393.0 362.5h1.2v1.2h-1.2zM398.0 360.7h1.2v1.2h-1.2zM400.7 364.0h1.2v1.2h-1.2zM392.3 357.2h1.2v1.2h-1.2zM392.4 364.6h1.2v1.2h-1.2zM395.7 365.5h1.2v1.2h-1.2zM399.4 362.8h1.2v1.2h-1.2zM396.9 360.1h1.2v1.2h-1.2zM395.4 358.1h1.2v1.2h-1.2zM399.1 361.2h1.2v1.2h-1.2zM398.2 367.4h1.2v1.2h-1.2zM398.3 359.0h1.2v1.2h-1.2zM401.1 358.9h1.2v1.2h-1.2zM397.2 367.2h1.2v1.2h-1.2zM395.0 355.0h1.2v1.2h-1.2zM394.0 364.4h1.2v1.2h-1.2zM395.6 357.7h1.2v1.2h-1.2zM399.9 363.4h1.2v1.2h-1.2zM398.8 356.8h1.2v1.2h-1.2zM395.6 356.8h1.2v1.2h-1.2zM398.9 367.9h1.2v1.2h-1.2zM398.9 358.9h1.2v1.2h-1.2zM392.8 359.7h1.2v1.2h-1.2zM398.2 358.5h1.2v1.2h-1.2zM401.7 363.2h1.2v1.2h-1.2zM401.6 367.6h1.2v1.2h-1.2zM396.0 367.2h1.2v1.2h-1.2zM395.7 364.8h1.2v1.2h-1.2zM392.1 357.9h1.2v1.2h-1.2zM391.0 361.3h1.2v1.2h-1.2zM402.1 367.8h1.2v1.2h-1.2zM400.5 359.1h1.2v1.2h-1.2zM396.7 356.6h1.2v1.2h-1.2zM398.1 361.8h1.2v1.2h-1.2zM392.9 359.8h1.2v1.2h-1.2zM401.3 357.2h1.2v1.2h-1.2zM401.3 355.2h1.2v1.2h-1.2zM394.4 357.1h1.2v1.2h-1.2zM393.0 358.5h1.2v1.2h-1.2zM398.3 360.2h1.2v1.2h-1.2zM397.2 358.7h1.2v1.2h-1.2zM396.8 365.4h1.2v1.2h-1.2zM402.0 357.8h1.2v1.2h-1.2zM400.5 359.5h1.2v1.2h-1.2zM395.9 358.3h1.2v1.2h-1.2zM400.9 362.9h1.2v1.2h-1.2zM390.5 362.2h1.2v1.2h-1.2zM398.2 357.7h1.2v1.2h-1.2zM402.4 367.5h1.2v1.2h-1.2zM393.6 354.9h1.2v1.2h-1.2zM401.2 364.1h1.2v1.2h-1.2zM401.9 358.3h1.2v1.2h-1.2zM399.2 364.9h1.2v1.2h-1.2zM392.1 357.9h1.2v1.2h-1.2zM396.9 364.8h1.2v1.2h-1.2zM400.2 357.7h1.2v1.2h-1.2zM395.4 367.6h1.2v1.2h-1.2zM399.0 362.7h1.2v1.2h-1.2zM396.0 366.2h1.2v1.2h-1.2zM396.6 360.7h1.2v1.2h-1.2zM394.4 359.2h1.2v1.2h-1.2zM392.3 355.5h1.2v1.2h-1.2zM401.0 359.9h1.2v1.2h-1.2zM391.9 365.5h1.2v1.2h-1.2zM401.0 366.3h1.2v1.2h-1.2zM391.5 365.5h1.2v1.2h-1.2zM396.3 363.7h1.2v1.2h-1.2zM392.6 366.9h1.2v1.2h-1.2zM397.0 356.9h1.2v1.2h-1.2zM396.2 356.0h1.2v1.2h-1.2zM392.3 358.4h1.2v1.2h-1.2zM394.9 361.3h1.2v1.2h-1.2zM395.0 363.2h1.2v1.2h-1.2zM400.1 362.7h1.2v1.2h-1.2zM393.8 357.7h1.2v1.2h-1.2zM395.3 361.1h1.2v1.2h-1.2zM401.6 354.9h1.2v1.2h-1.2zM397.0 355.4h1.2v1.2h-1.2zM394.3 367.5h1.2v1.2h-1.2zM401.0 357.6h1.2v1.2h-1.2zM400.1 365.2h1.2v1.2h-1.2zM396.5 355.4h1.2v1.2h-1.2zM392.5 363.5h1.2v1.2h-1.2zM392.6 358.0h1.2v1.2h-1.2zM395.5 361.4h1.2v1.2h-1.2zM391.5 367.1h1.2v1.2h-1.2zM400.3 358.0h1.2v1.2h-1.2zM402.1 358.6h1.2v1.2h-1.2zM395.5 359.0h1.2v1.2h-1.2zM401.4 361.0h1.2v1.2h-1.2zM392.3 367.1h1.2v1.2h-1.2zM393.7 362.8h1.2v1.2h-1.2zM393.8 366.9h1.2v1.2h-1.2zM395.2 356.6h1.2v1.2h-1.2zM391.5 356.2h1.2v1.2h-1.2zM397.6 362.6h1.2v1.2h-1.2zM392.7 365.2h1.2v1.2h-1.2zM399.5 355.9h1.2v1.2h-1.2zM390.7 361.5h1.2v1.2h-1.2zM394.0 358.8h1.2v1.2h-1.2zM397.8 358.7h1.2v1.2h-1.2zM395.6 356.2h1.2v1.2h-1.2zM399.2 359.0h1.2v1.2h-1.2zM397.8 360.1h1.2v1.2h-1.2zM390.9 362.6h1.2v1.2h-1.2zM398.6 365.7h1.2v1.2h-1.2zM402.3 367.6h1.2v1.2h-1.2zM392.8 365.3h1.2v1.2h-1.2zM401.4 361.5h1.2v1.2h-1.2zM398.7 364.5h1.2v1.2h-1.2zM395.8 358.6h1.2v1.2h-1.2zM394.6 363.9h1.2v1.2h-1.2zM394.4 363.0h1.2v1.2h-1.2zM393.0 357.4h1.2v1.2h-1.2zM393.7 366.8h1.2v1.2h-1.2zM400.4 362.3h1.2v1.2h-1.2zM397.1 365.9h1.2v1.2h-1.2zM400.8 365.2h1.2v1.2h-1.2zM397.3 364.3h1.2v1.2h-1.2zM397.3 359.8h1.2v1.2h-1.2z"/>
<path fill="#cc2619" fill-opacity="0.65" d="M182.0 160.6h1.1v1.1h-1.1zM180.9 162.6h1.1v1.1h-1.1zM175.1 159.8h1.1v1.1h-1.1zM183.3 160.0h1.1v1.1h-1.1zM182.3 159.2h1.1v1.1h-1.1zM183.7 164.3h1.1v1.1h-1.1zM183.3 154.3h1.1v1.1h-1.1zM177.3 164.9h1.1v1.1h-1.1zM182.8 158.0h1.1v1.1h-1.1zM184.6 157.1h1.1v1.1h-1.1zM179.7 163.0h1.1v1.1h-1.1zM176.6 155.2h1.1v1.1h-1.1zM177.8 157.9h1.1v1.1h-1.1zM174.7 163.1h1.1v1.1h-1.1zM178.6 160.3h1.1v1.1h-1.1zM179.1 157.0h1.1v1.1h-1.1zM183.0 157.5h1.1v1.1h-1.1zM174.4 157.7h1.1v1.1h-1.1zM178.4 158.5h1.1v1.1h-1.1zM170.8 157.1h1.1v1.1h-1.1zM178.5 160.1h1.1v1.1h-1.1zM184.4 156.0h1.1v1.1h-1.1zM174.8 169.9h1.1v1.1h-1.1zM180.1 167.6h1.1v1.1h-1.1zM178.7 163.1h1.1v1.1h-1.1zM180.0 166.4h1.1v1.1h-1.1zM180.6 155.5h1.1v1.1h-1.1zM184.2 157.6h1.1v1.1h-1.1zM175.0 160.2h1.1v1.1h-1.1zM174.7 156.8h1.1v1.1h-1.1zM186.6 155.9h1.1v1.1h-1.1zM185.7 162.6h1.1v1.1h-1.1zM181.1 167.6h1.1v1.1h-1.1zM181.9 161.2h1.1v1.1h-1.1zM178.1 162.1h1.1v1.1h-1.1zM178.0 154.1h1.1v1.1h-1.1zM174.8 151.0h1.1v1.1h-1.1zM183.6 162.9h1.1v1.1h-1.1zM181.6 163.2h1.1v1.1h-1.1zM174.4 163.8h1.1v1.1h-1.1zM180.2 153.9h1.1v1.1h-1.1zM181.2 155.1h1.1v1.1h-1.1zM177.5 164.5h1.1v1.1h-1.1zM185.1 155.1h1.1v1.1h-1.1zM176.5 160.1h1.1v1.1h-1.1zM177.1 161.5h1.1v1.1h-1.1zM179.4 159.8h1.1v1.1h-1.1zM182.4 158.9h1.1v1.1h-1.1zM178.5 170.0h1.1v1.1h-1.1zM183.0 163.3h1.1v1.1h-1.1zM179.8 163.1h1.1v1.1h-1.1zM180.2 163.1h1.1v1.1h-1.1zM173.8 165.6h1.1v1.1h-1.1zM185.0 157.9h1.1v1.1h-1.1zM178.3 164.1h1.1v1.1h-1.1zM179.2 164.5h1.1v1.1h-1.1zM181.7 156.0h1.1v1.1h-1.1zM181.3 154.3h1.1v1.1h-1.1zM183.6 160.9h1.1v1.1h-1.1zM174.6 161.8h1.1v1.1h-1.1zM179.4 164.2h1.1v1.1h-1.1zM181.0 168.2h1.1v1.1h-1.1zM185.8 163.2h1.1v1.1h-1.1zM175.3 157.0h1.1v1.1h-1.1zM175.0 164.2h1.1v1.1h-1.1zM178.6 153.1h1.1v1.1h-1.1zM184.3 147.4h1.1v1.1h-1.1zM179.4 159.7h1.1v1.1h-1.1zM179.9 162.9h1.1v1.1h-1.1zM177.7 159.5h1.1v1.1h-1.1zM177.3 152.5h1.1v1.1h-1.1zM179.5 156.3h1.1v1.1h-1.1zM171.8 156.5h1.1v1.1h-1.1zM178.6 155.4h1.1v1.1h-1.1zM186.2 162.4h1.1v1.1h-1.1zM178.2 155.1h1.1v1.1h-1.1zM184.6 149.8h1.1v1.1h-1.1zM180.9 164.8h1.1v1.1h-1.1zM179.6 159.2h1.1v1.1h-1.1zM173.0 160.0h1.1v1.1h-1.1zM178.5 166.4h1.1v1.1h-1.1zM178.6 151.6h1.1v1.1h-1.1zM183.3 153.9h1.1v1.1h-1.1zM180.2 157.8h1.1v1.1h-1.1zM178.9 170.3h1.1v1.1h-1.1zM178.0 157.7h1.1v1.1h-1.1zM176.7 163.3h1.1v1.1h-1.1zM178.8 161.2h1.1v1.1h-1.1zM176.6 159.1h1.1v1.1h-1.1zM185.6 164.1h1.1v1.1h-1.1zM180.3 161.8h1.1v1.1h-1.1zM186.6 159.7h1.1v1.1h-1.1zM179.6 170.2h1.1v1.1h-1.1zM181.8 157.7h1.1v1.1h-1.1zM180.5 157.8h1.1v1.1h-1.1zM181.8 155.7h1.1v1.1h-1.1zM178.6 171.4h1.1v1.1h-1.1zM175.3 163.0h1.1v1.1h-1.1zM173.6 165.5h1.1v1.1h-1.1zM184.8 151.0h1.1v1.1h-1.1zM174.4 155.4h1.1v1.1h-1.1zM167.2 162.5h1.1v1.1h-1.1zM178.6 158.2h1.1v1.1h-1.1zM174.9 157.1h1.1v1.1h-1.1zM178.3 168.4h1.1v1.1h-1.1zM179.0 152.1h1.1v1.1h-1.1zM176.9 156.7h1.1v1.1h-1.1zM176.9 156.8h1.1v1.1h-1.1zM176.6 157.7h1.1v1.1h-1.1zM179.5 164.5h1.1v1.1h-1.1zM177.8 158.7h1.1v1.1h-1.1zM179.1 159.2h1.1v1.1h-1.1zM180.1 163.7h1.1v1.1h-1.1zM180.7 160.4h1.1v1.1h-1.1zM175.1 160.0h1.1v1.1h-1.1zM176.5 150.5h1.1v1.1h-1.1zM175.7 163.4h1.1v1.1h-1.1zM181.5 163.0h1.1v1.1h-1.1zM186.2 164.6h1.1v1.1h-1.1zM181.4 152.2h1.1v1.1h-1.1zM185.4 156.2h1.1v1.1h-1.1zM186.3 158.5h1.1v1.1h-1.1zM181.4 164.1h1.1v1.1h-1.1zM176.0 163.3h1.1v1.1h-1.1zM181.6 152.8h1.1v1.1h-1.1zM174.8 162.6h1.1v1.1h-1.1zM181.3 159.5h1.1v1.1h-1.1zM181.5 163.4h1.1v1.1h-1.1zM181.7 168.3h1.1v1.1h-1.1zM181.5 157.2h1.1v1.1h-1.1zM183.1 162.5h1.1v1.1h-1.1zM180.8 166.5h1.1v1.1h-1.1zM183.9 158.7h1.1v1.1h-1.1zM175.9 156.3h1.1v1.1h-1.1zM186.0 169.7h1.1v1.1h-1.1zM181.5 163.5h1.1v1.1h-1.1zM176.9 156.3h1.1v1.1h-1.1zM182.8 160.8h1.1v1.1h-1.1zM179.0 155.9h1.1v1.1h-1.1zM184.9 163.3h1.1v1.1h-1.1zM181.7 162.0h1.1v1.1h-1.1zM183.3 175.3h1.1v1.1h-1.1zM176.9 156.9h1.1v1.1h-1.1zM180.3 153.3h1.1v1.1h-1.1zM182.3 158.7h1.1v1.1h-1.1zM178.2 165.7h1.1v1.1h-1.1zM178.7 167.2h1.1v1.1h-1.1zM179.1 160.9h1.1v1.1h-1.1zM178.2 159.8h1.1v1.1h-1.1zM180.8 152.0h1.1v1.1h-1.1zM180.1 156.7h1.1v1.1h-1.1zM177.7 160.2h1.1v1.1h-1.1zM179.9 159.9h1.1v1.1h-1.1zM185.2 147.6h1.1v1.1h-1.1zM183.2 153.4h1.1v1.1h-1.1zM177.5 156.1h1.1v1.1h-1.1zM176.5 157.1h1.1v1.1h-1.1zM176.4 164.2h1.1v1.1h-1.1zM180.7 161.5h1.1v1.1h-1.1zM175.7 171.7h1.1v1.1h-1.1zM175.2 151.7h1.1v1.1h-1.1zM179.9 151.5h1.1v1.1h-1.1zM175.2 159.1h1.1v1.1h-1.1zM181.4 160.6h1.1v1.1h-1.1zM183.6 161.0h1.1v1.1h-1.1zM181.9 160.9h1.1v1.1h-1.1zM185.5 167.9h1.1v1.1h-1.1zM178.7 163.3h1.1v1.1h-1.1zM182.6 154.0h1.1v1.1h-1.1zM178.2 163.2h1.1v1.1h-1.1zM181.9 158.3h1.1v1.1h-1.1zM183.2 161.8h1.1v1.1h-1.1zM179.2 152.6h1.1v1.1h-1.1zM182.6 163.3h1.1v1.1h-1.1zM175.2 156.3h1.1v1.1h-1.1zM179.5 154.7h1.1v1.1h-1.1zM180.8 154.2h1.1v1.1h-1.1zM181.1 162.0h1.1v1.1h-1.1zM182.9 165.8h1.1v1.1h-1.1zM182.4 160.7h1.1v1.1h-1.1zM186.7 160.3h1.1v1.1h-1.1zM178.5 159.7h1.1v1.1h-1.1zM177.9 162.1h1.1v1.1h-1.1zM179.0 165.8h1.1v1.1h-1.1zM181.5 158.4h1.1v1.1h-1.1zM179.0 157.8h1.1v1.1h-1.1zM181.8 165.1h1.1v1.1h-1.1zM181.4 156.3h1.1v1.1h-1.1zM175.6 151.5h1.1v1.1h-1.1zM177.3 157.3h1.1v1.1h-1.1zM177.0 167.5h1.1v1.1h-1.1zM178.5 153.2h1.1v1.1h-1.1zM178.1 153.6h1.1v1.1h-1.1zM170.7 159.3h1.1v1.1h-1.1zM180.7 161.1h1.1v1.1h-1.1zM172.2 159.3h1.1v1.1h-1.1zM172.4 163.3h1.1v1.1h-1.1zM175.8 162.2h1.1v1.1h-1.1zM181.0 148.5h1.1v1.1h-1.1zM176.3 159.4h1.1v1.1h-1.1zM183.5 158.7h1.1v1.1h-1.1zM177.3 155.2h1.1v1.1h-1.1zM179.1 158.9h1.1v1.1h-1.1zM177.8 154.0h1.1v1.1h-1.1zM186.3 154.7h1.1v1.1h-1.1zM178.2 154.2h1.1v1.1h-1.1zM180.3 156.6h1.1v1.1h-1.1zM185.1 161.6h1.1v1.1h-1.1zM176.7 162.7h1.1v1.1h-1.1zM180.9 162.8h1.1v1.1h-1.1zM176.9 157.6h1.1v1.1h-1.1zM184.4 158.8h1.1v1.1h-1.1zM178.3 164.0h1.1v1.1h-1.1zM186.0 161.9h1.1v1.1h-1.1zM185.7 160.9h1.1v1.1h-1.1zM181.6 161.3h1.1v1.1h-1.1zM179.3 164.0h1.1v1.1h-1.1zM181.9 163.9h1.1v1.1h-1.1zM181.0 160.8h1.1v1.1h-1.1zM182.1 162.5h1.1v1.1h-1.1zM184.0 163.7h1.1v1.1h-1.1zM173.9 156.4h1.1v1.1h-1.1zM184.5 162.2h1.1v1.1h-1.1zM184.9 171.0h1.1v1.1h-1.1zM180.9 163.2h1.1v1.1h-1.1zM187.2 157.3h1.1v1.1h-1.1zM180.3 159.3h1.1v1.1h-1.1zM180.6 160.3h1.1v1.1h-1.1zM172.2 157.2h1.1v1.1h-1.1zM181.3 163.7h1.1v1.1h-1.1zM175.5 159.9h1.1v1.1h-1.1zM182.8 158.8h1.1v1.1h-1.1zM175.9 165.6h1.1v1.1h-1.1zM177.4 162.7h1.1v1.1h-1.1zM177.9 158.6h1.1v1.1h-1.1zM172.7 170.8h1.1v1.1h-1.1zM181.6 162.1h1.1v1.1h-1.1zM178.3 156.8h1.1v1.1h-1.1zM174.7 158.9h1.1v1.1h-1.1zM180.8 162.6h1.1v1.1h-1.1zM179.8 167.8h1.1v1.1h-1.1zM172.9 148.5h1.1v1.1h-1.1zM177.0 164.5h1.1v1.1h-1.1zM182.1 172.2h1.1v1.1h-1.1zM179.3 152.9h1.1v1.1h-1.1zM181.2 168.6h1.1v1.1h-1.1zM181.2 157.8h1.1v1.1h-1.1zM183.5 168.0h1.1v1.1h-1.1zM174.5 157.2h1.1v1.1h-1.1zM185.9 157.4h1.1v1.1h-1.1zM180.7 162.7h1.1v1.1h-1.1zM179.6 153.0h1.1v1.1h-1.1zM184.6 154.7h1.1v1.1h-1.1zM177.3 166.0h1.1v1.1h-1.1zM174.4 150.9h1.1v1.1h-1.1zM184.2 159.8h1.1v1.1h-1.1zM174.8 161.4h1.1v1.1h-1.1zM176.2 159.1h1.1v1.1h-1.1zM180.4 162.9h1.1v1.1h-1.1zM176.7 158.2h1.1v1.1h-1.1zM174.4 158.4h1.1v1.1h-1.1zM180.8 163.5h1.1v1.1h-1.1zM181.2 155.9h1.1v1.1h-1.1zM174.2 167.8h1.1v1.1h-1.1zM183.2 160.9h1.1v1.1h-1.1zM182.6 173.0h1.1v1.1h-1.1zM187.4 156.7h1.1v1.1h-1.1zM175.5 158.9h1.1v1.1h-1.1zM176.2 154.4h1.1v1.1h-1.1zM183.0 150.6h1.1v1.1h-1.1zM179.1 158.7h1.1v1.1h-1.1zM179.9 154.8h1.1v1.1h-1.1zM174.3 158.4h1.1v1.1h-1.1zM184.9 156.9h1.1v1.1h-1.1zM173.1 146.7h1.1v1.1h-1.1zM185.3 161.5h1.1v1.1h-1.1zM183.0 164.1h1.1v1.1h-1.1zM179.2 164.6h1.1v1.1h-1.1zM182.0 156.4h1.1v1.1h-1.1zM184.5 156.5h1.1v1.1h-1.1zM51.2 267.4h1.1v1.1h-1.1zM47.3 260.8h1.1v1.1h-1.1zM52.5 261.8h1.1v1.1h-1.1zM54.1 265.3h1.1v1.1h-1.1zM43.8 264.6h1.1v1.1h-1.1zM51.6 262.7h1.1v1.1h-1.1zM48.3 259.8h1.1v1.1h-1.1zM45.8 263.0h1.1v1.1h-1.1zM52.4 257.8h1.1v1.1h-1.1zM61.5 251.4h1.1v1.1h-1.1zM49.0 263.0h1.1v1.1h-1.1zM50.8 265.6h1.1v1.1h-1.1zM51.0 262.5h1.1v1.1h-1.1zM47.5 261.6h1.1v1.1h-1.1zM50.3 261.6h1.1v1.1h-1.1zM43.2 263.9h1.1v1.1h-1.1zM45.0 265.0h1.1v1.1h-1.1zM40.8 259.3h1.1v1.1h-1.1zM52.2 262.2h1.1v1.1h-1.1zM48.9 257.7h1.1v1.1h-1.1zM51.1 252.1h1.1v1.1h-1.1zM47.3 255.6h1.1v1.1h-1.1zM43.7 259.7h1.1v1.1h-1.1zM53.0 263.6h1.1v1.1h-1.1zM48.1 266.5h1.1v1.1h-1.1zM46.5 262.3h1.1v1.1h-1.1zM54.9 261.9h1.1v1.1h-1.1zM49.0 260.8h1.1v1.1h-1.1zM48.2 259.3h1.1v1.1h-1.1zM49.8 258.8h1.1v1.1h-1.1zM41.4 266.7h1.1v1.1h-1.1zM48.9 265.6h1.1v1.1h-1.1zM41.5 259.3h1.1v1.1h-1.1zM56.0 260.6h1.1v1.1h-1.1zM42.5 263.9h1.1v1.1h-1.1zM53.2 266.5h1.1v1.1h-1.1zM48.5 258.2h1.1v1.1h-1.1zM50.4 252.2h1.1v1.1h-1.1zM48.9 258.7h1.1v1.1h-1.1zM49.2 264.1h1.1v1.1h-1.1zM52.0 252.1h1.1v1.1h-1.1zM55.2 261.4h1.1v1.1h-1.1zM54.1 259.9h1.1v1.1h-1.1zM49.8 250.8h1.1v1.1h-1.1zM48.0 253.2h1.1v1.1h-1.1zM53.9 260.5h1.1v1.1h-1.1zM49.0 260.6h1.1v1.1h-1.1zM47.9 254.6h1.1v1.1h-1.1zM50.2 257.6h1.1v1.1h-1.1zM46.3 266.7h1.1v1.1h-1.1zM40.0 257.1h1.1v1.1h-1.1zM42.0 264.2h1.1v1.1h-1.1zM53.6 261.7h1.1v1.1h-1.1zM45.3 260.6h1.1v1.1h-1.1zM56.0 257.5h1.1v1.1h-1.1zM59.8 260.1h1.1v1.1h-1.1zM50.8 269.1h1.1v1.1h-1.1zM48.6 258.6h1.1v1.1h-1.1zM50.8 261.6h1.1v1.1h-1.1zM47.7 258.4h1.1v1.1h-1.1zM47.6 263.1h1.1v1.1h-1.1zM52.4 262.2h1.1v1.1h-1.1zM55.1 269.0h1.1v1.1h-1.1zM51.4 259.5h1.1v1.1h-1.1zM52.6 270.3h1.1v1.1h-1.1zM46.9 263.5h1.1v1.1h-1.1zM51.0 256.3h1.1v1.1h-1.1zM50.9 252.3h1.1v1.1h-1.1zM54.8 262.9h1.1v1.1h-1.1zM44.8 266.6h1.1v1.1h-1.1zM43.6 260.3h1.1v1.1h-1.1zM54.8 253.3h1.1v1.1h-1.1zM53.9 251.9h1.1v1.1h-1.1zM50.2 264.4h1.1v1.1h-1.1zM54.3 257.5h1.1v1.1h-1.1zM61.5 264.7h1.1v1.1h-1.1zM44.5 263.1h1.1v1.1h-1.1zM43.1 247.5h1.1v1.1h-1.1zM43.6 258.6h1.1v1.1h-1.1zM49.3 262.5h1.1v1.1h-1.1zM50.3 261.1h1.1v1.1h-1.1zM53.9 262.5h1.1v1.1h-1.1zM44.3 256.9h1.1v1.1h-1.1zM46.9 258.8h1.1v1.1h-1.1zM57.2 255.9h1.1v1.1h-1.1zM54.0 256.3h1.1v1.1h-1.1zM42.2 263.6h1.1v1.1h-1.1zM50.0 259.2h1.1v1.1h-1.1zM51.2 261.2h1.1v1.1h-1.1zM55.5 264.1h1.1v1.1h-1.1zM57.8 260.5h1.1v1.1h-1.1zM43.8 256.6h1.1v1.1h-1.1zM45.8 262.4h1.1v1.1h-1.1zM57.4 262.9h1.1v1.1h-1.1zM54.8 260.8h1.1v1.1h-1.1zM51.2 261.7h1.1v1.1h-1.1zM51.4 256.1h1.1v1.1h-1.1zM45.5 267.2h1.1v1.1h-1.1zM52.3 262.6h1.1v1.1h-1.1zM44.3 259.6h1.1v1.1h-1.1zM42.2 261.5h1.1v1.1h-1.1zM53.3 266.1h1.1v1.1h-1.1zM48.2 265.5h1.1v1.1h-1.1zM50.3 256.8h1.1v1.1h-1.1zM54.1 259.5h1.1v1.1h-1.1zM42.9 252.9h1.1v1.1h-1.1zM49.9 259.7h1.1v1.1h-1.1zM53.4 272.4h1.1v1.1h-1.1zM47.2 264.7h1.1v1.1h-1.1zM46.2 254.7h1.1v1.1h-1.1zM46.8 253.2h1.1v1.1h-1.1zM45.2 258.7h1.1v1.1h-1.1zM48.6 255.1h1.1v1.1h-1.1zM47.6 264.6h1.1v1.1h-1.1zM45.0 263.2h1.1v1.1h-1.1zM48.0 252.8h1.1v1.1h-1.1zM57.7 269.8h1.1v1.1h-1.1zM56.6 262.9h1.1v1.1h-1.1zM54.4 258.5h1.1v1.1h-1.1zM43.9 260.2h1.1v1.1h-1.1zM40.2 265.9h1.1v1.1h-1.1zM54.0 260.3h1.1v1.1h-1.1zM51.9 260.1h1.1v1.1h-1.1zM49.3 258.8h1.1v1.1h-1.1zM52.4 258.4h1.1v1.1h-1.1zM55.5 262.4h1.1v1.1h-1.1zM52.1 255.1h1.1v1.1h-1.1zM44.9 261.1h1.1v1.1h-1.1zM48.5 265.3h1.1v1.1h-1.1zM50.0 256.5h1.1v1.1h-1.1zM43.7 258.4h1.1v1.1h-1.1zM44.1 251.0h1.1v1.1h-1.1zM49.9 263.0h1.1v1.1h-1.1zM47.6 260.2h1.1v1.1h-1.1zM42.6 260.6h1.1v1.1h-1.1zM50.6 263.2h1.1v1.1h-1.1zM44.1 267.6h1.1v1.1h-1.1zM49.8 259.6h1.1v1.1h-1.1zM45.7 255.7h1.1v1.1h-1.1zM46.4 259.9h1.1v1.1h-1.1zM46.9 264.8h1.1v1.1h-1.1zM54.1 263.2h1.1v1.1h-1.1zM55.7 261.3h1.1v1.1h-1.1zM50.9 256.4h1.1v1.1h-1.1zM47.5 251.1h1.1v1.1h-1.1zM47.2 262.1h1.1v1.1h-1.1zM47.9 266.6h1.1v1.1h-1.1zM50.7 257.9h1.1v1.1h-1.1zM49.9 260.3h1.1v1.1h-1.1zM53.6 256.3h1.1v1.1h-1.1zM57.4 260.2h1.1v1.1h-1.1zM57.5 253.9h1.1v1.1h-1.1zM50.1 257.5h1.1v1.1h-1.1zM43.1 261.8h1.1v1.1h-1.1zM55.9 268.7h1.1v1.1h-1.1zM48.1 262.8h1.1v1.1h-1.1zM48.8 262.7h1.1v1.1h-1.1zM55.4 270.7h1.1v1.1h-1.1zM48.3 262.4h1.1v1.1h-1.1zM54.0 266.1h1.1v1.1h-1.1zM56.7 266.0h1.1v1.1h-1.1zM45.6 262.0h1.1v1.1h-1.1zM55.1 263.8h1.1v1.1h-1.1zM46.3 257.8h1.1v1.1h-1.1zM49.8 261.9h1.1v1.1h-1.1zM51.2 265.1h1.1v1.1h-1.1zM51.0 260.7h1.1v1.1h-1.1zM48.5 255.8h1.1v1.1h-1.1zM52.8 259.8h1.1v1.1h-1.1zM47.0 258.5h1.1v1.1h-1.1zM45.8 258.7h1.1v1.1h-1.1zM46.9 278.6h1.1v1.1h-1.1zM56.9 260.9h1.1v1.1h-1.1zM45.8 267.3h1.1v1.1h-1.1zM46.6 258.9h1.1v1.1h-1.1zM49.3 271.2h1.1v1.1h-1.1zM51.6 260.0h1.1v1.1h-1.1zM45.5 257.0h1.1v1.1h-1.1zM47.6 268.6h1.1v1.1h-1.1zM54.0 265.6h1.1v1.1h-1.1zM51.6 261.5h1.1v1.1h-1.1zM51.4 260.8h1.1v1.1h-1.1zM57.3 260.1h1.1v1.1h-1.1zM58.1 257.1h1.1v1.1h-1.1zM58.1 263.3h1.1v1.1h-1.1zM47.5 262.7h1.1v1.1h-1.1zM49.4 258.5h1.1v1.1h-1.1zM44.1 266.2h1.1v1.1h-1.1zM43.3 254.5h1.1v1.1h-1.1zM52.4 254.6h1.1v1.1h-1.1zM55.0 260.6h1.1v1.1h-1.1zM44.7 265.1h1.1v1.1h-1.1zM45.4 257.2h1.1v1.1h-1.1zM50.8 258.3h1.1v1.1h-1.1zM51.8 266.2h1.1v1.1h-1.1zM51.8 259.6h1.1v1.1h-1.1zM44.4 254.0h1.1v1.1h-1.1zM43.5 268.0h1.1v1.1h-1.1zM44.5 256.6h1.1v1.1h-1.1zM52.5 264.6h1.1v1.1h-1.1zM41.6 257.9h1.1v1.1h-1.1zM52.1 251.2h1.1v1.1h-1.1zM50.1 263.4h1.1v1.1h-1.1zM50.1 257.1h1.1v1.1h-1.1zM49.6 261.8h1.1v1.1h-1.1zM42.9 260.3h1.1v1.1h-1.1zM52.8 270.6h1.1v1.1h-1.1zM51.8 263.2h1.1v1.1h-1.1zM51.1 264.2h1.1v1.1h-1.1zM57.9 254.7h1.1v1.1h-1.1zM52.0 263.1h1.1v1.1h-1.1zM55.9 261.5h1.1v1.1h-1.1zM42.6 255.9h1.1v1.1h-1.1zM46.1 261.0h1.1v1.1h-1.1zM46.3 271.0h1.1v1.1h-1.1zM44.9 267.0h1.1v1.1h-1.1zM46.1 252.6h1.1v1.1h-1.1zM44.3 259.6h1.1v1.1h-1.1zM50.9 257.0h1.1v1.1h-1.1zM54.4 256.7h1.1v1.1h-1.1zM48.3 262.8h1.1v1.1h-1.1zM44.7 261.0h1.1v1.1h-1.1zM49.3 262.1h1.1v1.1h-1.1zM58.3 266.1h1.1v1.1h-1.1zM56.8 259.3h1.1v1.1h-1.1zM48.4 261.6h1.1v1.1h-1.1zM51.4 256.3h1.1v1.1h-1.1zM52.9 256.8h1.1v1.1h-1.1zM46.0 260.1h1.1v1.1h-1.1zM47.4 255.8h1.1v1.1h-1.1zM54.3 260.6h1.1v1.1h-1.1zM52.4 260.2h1.1v1.1h-1.1zM42.3 259.8h1.1v1.1h-1.1zM48.2 258.2h1.1v1.1h-1.1zM52.7 259.6h1.1v1.1h-1.1zM52.1 255.8h1.1v1.1h-1.1zM47.8 258.4h1.1v1.1h-1.1zM45.6 262.7h1.1v1.1h-1.1zM49.7 261.7h1.1v1.1h-1.1zM44.8 266.7h1.1v1.1h-1.1zM55.8 261.2h1.1v1.1h-1.1zM48.3 258.6h1.1v1.1h-1.1zM52.2 254.3h1.1v1.1h-1.1zM44.6 251.7h1.1v1.1h-1.1zM46.6 258.7h1.1v1.1h-1.1zM44.4 258.4h1.1v1.1h-1.1zM44.4 266.9h1.1v1.1h-1.1zM57.1 260.7h1.1v1.1h-1.1zM53.6 260.7h1.1v1.1h-1.1zM53.9 262.1h1.1v1.1h-1.1zM49.7 267.1h1.1v1.1h-1.1zM41.9 263.7h1.1v1.1h-1.1zM49.9 262.5h1.1v1.1h-1.1zM50.3 266.3h1.1v1.1h-1.1zM55.9 267.1h1.1v1.1h-1.1zM54.6 253.1h1.1v1.1h-1.1zM55.9 262.5h1.1v1.1h-1.1zM60.1 263.9h1.1v1.1h-1.1zM52.1 264.2h1.1v1.1h-1.1zM47.7 262.1h1.1v1.1h-1.1zM42.4 261.3h1.1v1.1h-1.1zM50.4 262.0h1.1v1.1h-1.1zM53.2 261.6h1.1v1.1h-1.1zM51.3 258.8h1.1v1.1h-1.1zM42.9 261.0h1.1v1.1h-1.1zM39.7 265.9h1.1v1.1h-1.1zM46.2 263.7h1.1v1.1h-1.1zM51.0 260.3h1.1v1.1h-1.1zM48.7 254.1h1.1v1.1h-1.1zM44.5 256.7h1.1v1.1h-1.1zM45.8 262.1h1.1v1.1h-1.1zM44.9 257.9h1.1v1.1h-1.1zM43.8 254.6h1.1v1.1h-1.1zM44.2 256.8h1.1v1.1h-1.1zM53.8 262.6h1.1v1.1h-1.1zM45.2 262.1h1.1v1.1h-1.1zM45.5 263.7h1.1v1.1h-1.1zM42.6 256.5h1.1v1.1h-1.1zM47.4 254.0h1.1v1.1h-1.1zM58.7 262.7h1.1v1.1h-1.1zM49.0 257.3h1.1v1.1h-1.1zM57.2 256.0h1.1v1.1h-1.1zM49.9 262.1h1.1v1.1h-1.1zM57.6 263.9h1.1v1.1h-1.1zM57.3 263.0h1.1v1.1h-1.1zM43.9 262.7h1.1v1.1h-1.1zM46.9 266.9h1.1v1.1h-1.1zM55.6 259.9h1.1v1.1h-1.1zM43.5 262.4h1.1v1.1h-1.1zM42.9 259.3h1.1v1.1h-1.1zM45.7 267.0h1.1v1.1h-1.1zM44.6 261.0h1.1v1.1h-1.1zM40.9 260.8h1.1v1.1h-1.1zM46.5 256.0h1.1v1.1h-1.1zM51.1 260.4h1.1v1.1h-1.1zM44.4 261.0h1.1v1.1h-1.1zM60.0 258.1h1.1v1.1h-1.1zM51.8 256.5h1.1v1.1h-1.1zM42.6 254.5h1.1v1.1h-1.1zM49.5 266.8h1.1v1.1h-1.1zM54.5 266.1h1.1v1.1h-1.1zM47.9 256.4h1.1v1.1h-1.1zM43.4 256.6h1.1v1.1h-1.1zM43.4 259.0h1.1v1.1h-1.1zM53.5 271.2h1.1v1.1h-1.1zM52.2 255.6h1.1v1.1h-1.1zM49.8 262.4h1.1v1.1h-1.1zM56.5 251.7h1.1v1.1h-1.1zM48.2 259.7h1.1v1.1h-1.1zM45.4 265.0h1.1v1.1h-1.1zM49.1 262.0h1.1v1.1h-1.1zM43.5 252.1h1.1v1.1h-1.1zM51.6 264.4h1.1v1.1h-1.1zM51.3 259.5h1.1v1.1h-1.1zM48.9 261.8h1.1v1.1h-1.1zM53.2 259.5h1.1v1.1h-1.1zM53.1 263.1h1.1v1.1h-1.1zM40.0 265.8h1.1v1.1h-1.1zM50.8 264.3h1.1v1.1h-1.1zM51.5 266.7h1.1v1.1h-1.1zM52.8 264.7h1.1v1.1h-1.1zM50.5 255.9h1.1v1.1h-1.1zM56.2 261.9h1.1v1.1h-1.1zM47.0 268.9h1.1v1.1h-1.1zM47.2 262.7h1.1v1.1h-1.1zM55.8 252.9h1.1v1.1h-1.1zM47.8 258.7h1.1v1.1h-1.1zM42.8 266.9h1.1v1.1h-1.1zM52.8 266.3h1.1v1.1h-1.1zM54.4 258.2h1.1v1.1h-1.1zM47.0 261.5h1.1v1.1h-1.1zM49.9 256.8h1.1v1.1h-1.1zM52.2 263.2h1.1v1.1h-1.1zM47.9 262.0h1.1v1.1h-1.1zM60.1 254.6h1.1v1.1h-1.1zM42.2 266.9h1.1v1.1h-1.1zM45.7 263.7h1.1v1.1h-1.1zM56.1 267.1h1.1v1.1h-1.1zM52.7 260.8h1.1v1.1h-1.1zM44.6 256.8h1.1v1.1h-1.1zM51.4 253.7h1.1v1.1h-1.1zM44.9 256.7h1.1v1.1h-1.1zM47.4 256.6h1.1v1.1h-1.1zM53.1 267.0h1.1v1.1h-1.1zM47.3 269.4h1.1v1.1h-1.1zM52.8 261.8h1.1v1.1h-1.1zM49.2 258.0h1.1v1.1h-1.1zM49.3 268.1h1.1v1.1h-1.1zM40.1 259.2h1.1v1.1h-1.1zM52.6 256.3h1.1v1.1h-1.1zM54.3 265.5h1.1v1.1h-1.1zM46.1 267.5h1.1v1.1h-1.1zM54.1 263.7h1.1v1.1h-1.1zM48.8 260.9h1.1v1.1h-1.1zM52.5 264.6h1.1v1.1h-1.1zM61.7 265.2h1.1v1.1h-1.1zM51.5 259.4h1.1v1.1h-1.1zM50.2 261.0h1.1v1.1h-1.1zM51.0 258.4h1.1v1.1h-1.1zM45.3 258.8h1.1v1.1h-1.1zM47.9 252.0h1.1v1.1h-1.1zM43.7 256.3h1.1v1.1h-1.1zM40.9 266.4h1.1v1.1h-1.1zM46.7 254.7h1.1v1.1h-1.1zM56.6 264.9h1.1v1.1h-1.1zM52.4 255.3h1.1v1.1h-1.1zM46.7 265.7h1.1v1.1h-1.1zM54.6 352.2h1.1v1.1h-1.1zM53.9 359.8h1.1v1.1h-1.1zM55.2 358.5h1.1v1.1h-1.1zM56.0 352.6h1.1v1.1h-1.1zM53.3 368.7h1.1v1.1h-1.1zM53.8 368.8h1.1v1.1h-1.1zM56.8 367.1h1.1v1.1h-1.1zM52.6 359.3h1.1v1.1h-1.1zM51.5 353.3h1.1v1.1h-1.1zM54.8 361.9h1.1v1.1h-1.1zM56.5 362.4h1.1v1.1h-1.1zM56.6 360.8h1.1v1.1h-1.1zM59.8 361.5h1.1v1.1h-1.1zM55.2 375.2h1.1v1.1h-1.1zM56.7 357.0h1.1v1.1h-1.1zM56.4 358.1h1.1v1.1h-1.1zM56.8 360.8h1.1v1.1h-1.1zM52.4 358.3h1.1v1.1h-1.1zM50.9 360.7h1.1v1.1h-1.1zM60.4 353.1h1.1v1.1h-1.1zM55.4 358.9h1.1v1.1h-1.1zM50.9 365.0h1.1v1.1h-1.1zM51.1 364.0h1.1v1.1h-1.1zM53.4 363.0h1.1v1.1h-1.1zM57.1 362.9h1.1v1.1h-1.1zM55.7 352.8h1.1v1.1h-1.1zM57.8 355.4h1.1v1.1h-1.1zM55.7 356.9h1.1v1.1h-1.1zM54.4 355.5h1.1v1.1h-1.1zM62.0 355.9h1.1v1.1h-1.1zM56.7 360.6h1.1v1.1h-1.1zM59.5 355.9h1.1v1.1h-1.1zM47.5 361.9h1.1v1.1h-1.1zM54.0 367.7h1.1v1.1h-1.1zM52.8 358.2h1.1v1.1h-1.1zM44.8 366.9h1.1v1.1h-1.1zM51.5 365.1h1.1v1.1h-1.1zM52.9 353.5h1.1v1.1h-1.1zM56.6 363.8h1.1v1.1h-1.1zM54.4 353.1h1.1v1.1h-1.1zM55.2 360.9h1.1v1.1h-1.1zM56.8 355.6h1.1v1.1h-1.1zM50.2 368.3h1.1v1.1h-1.1zM61.7 352.6h1.1v1.1h-1.1zM44.6 359.7h1.1v1.1h-1.1zM55.4 357.8h1.1v1.1h-1.1zM57.7 366.8h1.1v1.1h-1.1zM48.6 355.0h1.1v1.1h-1.1zM46.5 367.5h1.1v1.1h-1.1zM51.8 368.1h1.1v1.1h-1.1zM54.9 357.3h1.1v1.1h-1.1zM53.4 355.6h1.1v1.1h-1.1zM59.9 357.4h1.1v1.1h-1.1zM57.7 359.4h1.1v1.1h-1.1zM48.6 361.9h1.1v1.1h-1.1zM59.5 351.8h1.1v1.1h-1.1zM49.8 363.5h1.1v1.1h-1.1zM56.7 353.2h1.1v1.1h-1.1zM57.4 362.2h1.1v1.1h-1.1zM50.6 361.7h1.1v1.1h-1.1zM50.8 365.2h1.1v1.1h-1.1zM55.2 355.4h1.1v1.1h-1.1zM54.8 352.9h1.1v1.1h-1.1zM53.7 363.1h1.1v1.1h-1.1zM56.1 356.8h1.1v1.1h-1.1zM57.2 370.8h1.1v1.1h-1.1zM53.2 362.1h1.1v1.1h-1.1zM53.6 367.3h1.1v1.1h-1.1zM48.2 359.7h1.1v1.1h-1.1zM55.7 359.4h1.1v1.1h-1.1zM55.7 360.6h1.1v1.1h-1.1zM56.0 357.4h1.1v1.1h-1.1zM54.4 359.6h1.1v1.1h-1.1zM58.4 357.8h1.1v1.1h-1.1zM53.1 352.7h1.1v1.1h-1.1zM62.1 366.7h1.1v1.1h-1.1zM49.0 365.2h1.1v1.1h-1.1zM59.1 354.8h1.1v1.1h-1.1zM54.9 366.3h1.1v1.1h-1.1zM47.2 364.5h1.1v1.1h-1.1zM50.3 359.8h1.1v1.1h-1.1zM49.1 351.9h1.1v1.1h-1.1zM52.9 360.9h1.1v1.1h-1.1zM56.9 366.3h1.1v1.1h-1.1zM60.7 358.2h1.1v1.1h-1.1zM47.4 367.9h1.1v1.1h-1.1zM49.4 363.9h1.1v1.1h-1.1zM56.5 364.4h1.1v1.1h-1.1zM51.6 360.7h1.1v1.1h-1.1zM56.4 345.3h1.1v1.1h-1.1zM52.8 363.8h1.1v1.1h-1.1zM54.7 361.7h1.1v1.1h-1.1zM59.9 356.1h1.1v1.1h-1.1zM54.1 372.5h1.1v1.1h-1.1zM47.6 357.3h1.1v1.1h-1.1zM49.5 359.1h1.1v1.1h-1.1zM54.0 374.4h1.1v1.1h-1.1zM55.1 354.2h1.1v1.1h-1.1zM56.4 354.2h1.1v1.1h-1.1zM55.9 365.9h1.1v1.1h-1.1zM50.8 352.2h1.1v1.1h-1.1zM59.2 351.1h1.1v1.1h-1.1zM54.2 351.2h1.1v1.1h-1.1zM54.8 371.7h1.1v1.1h-1.1zM59.5 363.4h1.1v1.1h-1.1zM48.1 350.6h1.1v1.1h-1.1zM57.9 346.3h1.1v1.1h-1.1zM61.1 360.1h1.1v1.1h-1.1zM52.2 358.0h1.1v1.1h-1.1zM55.3 362.2h1.1v1.1h-1.1zM56.5 369.7h1.1v1.1h-1.1zM55.1 353.4h1.1v1.1h-1.1zM53.8 359.2h1.1v1.1h-1.1zM51.9 362.1h1.1v1.1h-1.1zM50.1 364.3h1.1v1.1h-1.1zM50.4 345.7h1.1v1.1h-1.1zM52.0 348.4h1.1v1.1h-1.1zM63.3 343.2h1.1v1.1h-1.1zM56.3 360.1h1.1v1.1h-1.1zM55.3 357.5h1.1v1.1h-1.1zM57.8 349.5h1.1v1.1h-1.1zM56.5 358.9h1.1v1.1h-1.1zM48.6 375.0h1.1v1.1h-1.1zM53.7 372.3h1.1v1.1h-1.1zM55.3 357.9h1.1v1.1h-1.1zM58.9 355.5h1.1v1.1h-1.1zM59.3 347.2h1.1v1.1h-1.1zM52.1 356.4h1.1v1.1h-1.1zM54.6 354.0h1.1v1.1h-1.1zM56.1 353.8h1.1v1.1h-1.1zM50.0 360.7h1.1v1.1h-1.1zM48.5 347.8h1.1v1.1h-1.1zM51.1 356.2h1.1v1.1h-1.1zM45.7 374.7h1.1v1.1h-1.1zM52.4 358.4h1.1v1.1h-1.1zM54.1 360.3h1.1v1.1h-1.1zM57.0 352.0h1.1v1.1h-1.1zM46.9 362.4h1.1v1.1h-1.1zM56.4 362.6h1.1v1.1h-1.1zM57.1 358.5h1.1v1.1h-1.1zM62.3 357.4h1.1v1.1h-1.1zM56.5 367.6h1.1v1.1h-1.1zM49.1 359.9h1.1v1.1h-1.1zM48.2 361.9h1.1v1.1h-1.1zM53.3 351.6h1.1v1.1h-1.1zM54.5 347.2h1.1v1.1h-1.1zM53.3 359.1h1.1v1.1h-1.1zM52.3 361.5h1.1v1.1h-1.1zM54.3 361.8h1.1v1.1h-1.1zM51.8 354.6h1.1v1.1h-1.1zM54.3 358.6h1.1v1.1h-1.1zM53.2 352.7h1.1v1.1h-1.1zM48.6 367.0h1.1v1.1h-1.1zM61.0 354.6h1.1v1.1h-1.1zM61.3 355.0h1.1v1.1h-1.1zM54.7 363.3h1.1v1.1h-1.1zM58.0 351.9h1.1v1.1h-1.1zM51.4 361.1h1.1v1.1h-1.1zM52.0 358.3h1.1v1.1h-1.1zM46.6 356.3h1.1v1.1h-1.1zM53.6 359.2h1.1v1.1h-1.1zM49.2 355.8h1.1v1.1h-1.1zM49.8 349.9h1.1v1.1h-1.1zM60.5 360.0h1.1v1.1h-1.1zM56.3 340.6h1.1v1.1h-1.1zM52.2 364.0h1.1v1.1h-1.1zM63.5 361.4h1.1v1.1h-1.1zM54.0 362.7h1.1v1.1h-1.1zM48.7 354.6h1.1v1.1h-1.1zM51.7 363.7h1.1v1.1h-1.1zM55.3 355.9h1.1v1.1h-1.1zM55.5 364.8h1.1v1.1h-1.1zM52.8 364.6h1.1v1.1h-1.1zM56.4 356.6h1.1v1.1h-1.1zM50.1 347.0h1.1v1.1h-1.1zM62.3 365.6h1.1v1.1h-1.1zM58.0 362.5h1.1v1.1h-1.1zM56.8 354.3h1.1v1.1h-1.1zM51.7 359.4h1.1v1.1h-1.1zM52.8 368.6h1.1v1.1h-1.1zM50.0 355.7h1.1v1.1h-1.1zM53.7 357.2h1.1v1.1h-1.1zM53.1 366.6h1.1v1.1h-1.1zM55.3 361.5h1.1v1.1h-1.1zM53.7 362.2h1.1v1.1h-1.1zM53.0 362.2h1.1v1.1h-1.1zM55.9 359.9h1.1v1.1h-1.1zM56.7 349.4h1.1v1.1h-1.1zM52.1 366.0h1.1v1.1h-1.1zM54.1 356.5h1.1v1.1h-1.1zM60.8 349.8h1.1v1.1h-1.1zM60.4 359.3h1.1v1.1h-1.1zM55.5 347.1h1.1v1.1h-1.1zM56.2 353.7h1.1v1.1h-1.1zM46.6 371.4h1.1v1.1h-1.1zM59.7 357.6h1.1v1.1h-1.1zM50.0 365.9h1.1v1.1h-1.1zM57.8 361.5h1.1v1.1h-1.1zM52.0 360.3h1.1v1.1h-1.1zM54.2 358.0h1.1v1.1h-1.1zM52.5 361.1h1.1v1.1h-1.1zM44.5 354.7h1.1v1.1h-1.1zM58.3 356.4h1.1v1.1h-1.1zM56.1 356.3h1.1v1.1h-1.1zM52.3 364.8h1.1v1.1h-1.1zM51.8 343.8h1.1v1.1h-1.1zM44.9 354.2h1.1v1.1h-1.1zM50.3 351.5h1.1v1.1h-1.1zM59.4 353.4h1.1v1.1h-1.1zM56.1 352.6h1.1v1.1h-1.1zM56.3 357.3h1.1v1.1h-1.1zM59.0 351.9h1.1v1.1h-1.1zM54.8 360.0h1.1v1.1h-1.1zM48.8 367.4h1.1v1.1h-1.1zM47.7 360.4h1.1v1.1h-1.1zM52.5 359.8h1.1v1.1h-1.1zM59.5 361.4h1.1v1.1h-1.1zM57.1 352.9h1.1v1.1h-1.1zM57.0 362.5h1.1v1.1h-1.1zM50.6 370.8h1.1v1.1h-1.1zM49.7 366.3h1.1v1.1h-1.1zM51.9 360.9h1.1v1.1h-1.1zM53.1 361.6h1.1v1.1h-1.1zM63.0 365.1h1.1v1.1h-1.1zM52.5 376.4h1.1v1.1h-1.1zM46.6 363.5h1.1v1.1h-1.1zM54.6 359.9h1.1v1.1h-1.1zM61.7 364.4h1.1v1.1h-1.1zM56.8 354.1h1.1v1.1h-1.1zM51.7 356.3h1.1v1.1h-1.1zM55.2 369.4h1.1v1.1h-1.1zM60.6 369.8h1.1v1.1h-1.1zM51.2 361.5h1.1v1.1h-1.1zM52.8 354.1h1.1v1.1h-1.1zM53.1 344.5h1.1v1.1h-1.1zM57.2 369.2h1.1v1.1h-1.1zM58.4 362.8h1.1v1.1h-1.1zM52.5 370.4h1.1v1.1h-1.1zM55.5 355.5h1.1v1.1h-1.1zM52.9 362.4h1.1v1.1h-1.1zM58.3 353.8h1.1v1.1h-1.1zM49.6 367.3h1.1v1.1h-1.1zM56.9 360.0h1.1v1.1h-1.1zM51.0 373.6h1.1v1.1h-1.1zM51.5 365.0h1.1v1.1h-1.1zM53.4 364.0h1.1v1.1h-1.1zM45.1 373.7h1.1v1.1h-1.1zM53.4 356.9h1.1v1.1h-1.1zM47.8 362.1h1.1v1.1h-1.1zM56.5 356.1h1.1v1.1h-1.1zM53.1 362.3h1.1v1.1h-1.1zM63.9 353.6h1.1v1.1h-1.1zM55.9 366.2h1.1v1.1h-1.1zM52.2 370.0h1.1v1.1h-1.1zM56.3 360.9h1.1v1.1h-1.1zM49.6 350.6h1.1v1.1h-1.1zM56.8 359.5h1.1v1.1h-1.1zM51.7 347.4h1.1v1.1h-1.1zM50.2 364.4h1.1v1.1h-1.1zM53.1 360.0h1.1v1.1h-1.1zM52.3 362.4h1.1v1.1h-1.1zM56.3 352.3h1.1v1.1h-1.1zM60.0 361.8h1.1v1.1h-1.1zM55.5 349.2h1.1v1.1h-1.1zM56.1 361.2h1.1v1.1h-1.1zM59.2 365.3h1.1v1.1h-1.1zM62.7 350.5h1.1v1.1h-1.1zM57.0 357.6h1.1v1.1h-1.1zM49.2 370.9h1.1v1.1h-1.1zM55.7 358.2h1.1v1.1h-1.1zM58.2 355.5h1.1v1.1h-1.1zM53.7 350.4h1.1v1.1h-1.1zM53.3 354.4h1.1v1.1h-1.1zM55.4 355.4h1.1v1.1h-1.1zM54.5 366.1h1.1v1.1h-1.1zM52.5 372.4h1.1v1.1h-1.1zM56.1 357.1h1.1v1.1h-1.1zM54.8 368.4h1.1v1.1h-1.1zM52.1 353.2h1.1v1.1h-1.1zM59.6 355.6h1.1v1.1h-1.1zM56.5 362.1h1.1v1.1h-1.1zM57.4 358.6h1.1v1.1h-1.1zM50.2 361.7h1.1v1.1h-1.1zM54.7 368.1h1.1v1.1h-1.1zM54.8 370.8h1.1v1.1h-1.1zM47.6 358.9h1.1v1.1h-1.1zM55.6 357.2h1.1v1.1h-1.1zM57.3 360.5h1.1v1.1h-1.1zM55.4 359.2h1.1v1.1h-1.1zM52.1 365.5h1.1v1.1h-1.1zM60.9 357.8h1.1v1.1h-1.1zM54.6 362.6h1.1v1.1h-1.1zM54.9 369.8h1.1v1.1h-1.1zM59.5 355.7h1.1v1.1h-1.1zM52.0 363.0h1.1v1.1h-1.1zM54.1 363.6h1.1v1.1h-1.1zM57.7 359.2h1.1v1.1h-1.1zM60.8 362.8h1.1v1.1h-1.1zM58.3 359.4h1.1v1.1h-1.1zM55.7 355.2h1.1v1.1h-1.1zM51.3 350.4h1.1v1.1h-1.1zM54.6 355.0h1.1v1.1h-1.1zM52.4 365.0h1.1v1.1h-1.1zM56.4 352.2h1.1v1.1h-1.1zM52.4 361.8h1.1v1.1h-1.1zM57.7 357.0h1.1v1.1h-1.1zM51.1 375.9h1.1v1.1h-1.1zM49.7 356.1h1.1v1.1h-1.1zM50.9 359.0h1.1v1.1h-1.1zM53.1 362.4h1.1v1.1h-1.1zM54.3 364.3h1.1v1.1h-1.1zM53.6 361.6h1.1v1.1h-1.1zM51.8 353.7h1.1v1.1h-1.1zM57.6 360.0h1.1v1.1h-1.1zM56.4 358.0h1.1v1.1h-1.1zM50.2 360.7h1.1v1.1h-1.1zM56.5 350.3h1.1v1.1h-1.1zM56.0 360.3h1.1v1.1h-1.1zM54.6 358.0h1.1v1.1h-1.1zM54.3 364.1h1.1v1.1h-1.1zM50.4 375.1h1.1v1.1h-1.1zM51.9 367.0h1.1v1.1h-1.1zM53.9 360.2h1.1v1.1h-1.1zM51.1 359.8h1.1v1.1h-1.1zM45.3 369.4h1.1v1.1h-1.1zM54.9 344.5h1.1v1.1h-1.1zM51.3 363.2h1.1v1.1h-1.1zM50.0 358.4h1.1v1.1h-1.1zM54.7 354.6h1.1v1.1h-1.1zM56.9 361.3h1.1v1.1h-1.1zM53.8 366.5h1.1v1.1h-1.1zM56.7 345.7h1.1v1.1h-1.1zM52.8 366.8h1.1v1.1h-1.1zM58.5 366.0h1.1v1.1h-1.1zM55.7 348.9h1.1v1.1h-1.1zM53.5 349.2h1.1v1.1h-1.1zM59.6 356.4h1.1v1.1h-1.1zM57.4 366.3h1.1v1.1h-1.1zM58.0 356.1h1.1v1.1h-1.1zM50.2 360.0h1.1v1.1h-1.1zM59.8 366.0h1.1v1.1h-1.1zM56.1 345.7h1.1v1.1h-1.1zM56.2 357.9h1.1v1.1h-1.1zM51.3 367.7h1.1v1.1h-1.1zM56.7 353.7h1.1v1.1h-1.1zM50.0 371.4h1.1v1.1h-1.1zM57.2 350.3h1.1v1.1h-1.1zM55.1 353.4h1.1v1.1h-1.1zM58.6 362.3h1.1v1.1h-1.1zM58.2 360.7h1.1v1.1h-1.1zM64.3 355.5h1.1v1.1h-1.1zM54.3 362.6h1.1v1.1h-1.1zM54.9 360.3h1.1v1.1h-1.1zM55.1 363.7h1.1v1.1h-1.1zM54.0 360.1h1.1v1.1h-1.1zM52.0 363.7h1.1v1.1h-1.1zM55.7 353.9h1.1v1.1h-1.1zM54.5 363.3h1.1v1.1h-1.1zM55.8 367.2h1.1v1.1h-1.1zM59.6 358.6h1.1v1.1h-1.1z"/>
<path fill="#cc2619" fill-opacity="0.7" d="M181.9 383.1h1.1v1.1h-1.1zM186.0 380.7h1.1v1.1h-1.1zM187.7 381.8h1.1v1.1h-1.1zM184.5 384.5h1.1v1.1h-1.1zM185.9 386.9h1.1v1.1h-1.1zM183.6 379.9h1.1v1.1h-1.1zM189.0 380.7h1.1v1.1h-1.1zM184.9 383.8h1.1v1.1h-1.1zM185.4 379.7h1.1v1.1h-1.1zM186.4 378.2h1.1v1.1h-1.1zM181.7 382.7h1.1v1.1h-1.1zM187.2 379.4h1.1v1.1h-1.1zM186.2 381.3h1.1v1.1h-1.1zM184.3 380.2h1.1v1.1h-1.1zM186.9 382.3h1.1v1.1h-1.1zM193.5 379.5h1.1v1.1h-1.1zM191.7 381.7h1.1v1.1h-1.1zM185.7 380.8h1.1v1.1h-1.1zM181.7 382.0h1.1v1.1h-1.1zM190.0 380.7h1.1v1.1h-1.1zM188.2 382.7h1.1v1.1h-1.1zM190.7 383.1h1.1v1.1h-1.1zM192.1 386.0h1.1v1.1h-1.1zM188.2 378.1h1.1v1.1h-1.1zM185.7 383.4h1.1v1.1h-1.1zM190.2 385.1h1.1v1.1h-1.1zM190.0 379.6h1.1v1.1h-1.1zM180.7 384.0h1.1v1.1h-1.1zM178.6 383.5h1.1v1.1h-1.1zM187.2 382.5h1.1v1.1h-1.1zM185.4 379.3h1.1v1.1h-1.1zM181.2 382.1h1.1v1.1h-1.1zM183.8 381.9h1.1v1.1h-1.1zM182.8 384.0h1.1v1.1h-1.1zM188.8 382.9h1.1v1.1h-1.1zM177.9 384.8h1.1v1.1h-1.1zM189.0 381.0h1.1v1.1h-1.1zM184.6 382.8h1.1v1.1h-1.1zM188.6 381.7h1.1v1.1h-1.1zM185.7 382.7h1.1v1.1h-1.1zM185.3 380.8h1.1v1.1h-1.1zM190.8 383.4h1.1v1.1h-1.1zM185.1 382.0h1.1v1.1h-1.1zM187.7 381.7h1.1v1.1h-1.1zM184.2 379.2h1.1v1.1h-1.1zM187.5 381.1h1.1v1.1h-1.1zM185.8 381.7h1.1v1.1h-1.1zM184.9 379.8h1.1v1.1h-1.1zM194.2 387.2h1.1v1.1h-1.1zM189.9 383.0h1.1v1.1h-1.1zM186.8 384.7h1.1v1.1h-1.1zM186.9 380.9h1.1v1.1h-1.1zM188.1 382.0h1.1v1.1h-1.1zM186.8 386.9h1.1v1.1h-1.1zM185.4 379.7h1.1v1.1h-1.1zM188.1 382.1h1.1v1.1h-1.1zM186.4 378.4h1.1v1.1h-1.1zM190.0 385.0h1.1v1.1h-1.1zM190.3 376.5h1.1v1.1h-1.1zM187.3 379.2h1.1v1.1h-1.1zM192.2 384.3h1.1v1.1h-1.1zM182.8 377.3h1.1v1.1h-1.1zM184.9 381.3h1.1v1.1h-1.1zM183.5 384.7h1.1v1.1h-1.1zM182.3 382.0h1.1v1.1h-1.1zM188.5 381.0h1.1v1.1h-1.1zM190.2 383.5h1.1v1.1h-1.1zM183.2 377.6h1.1v1.1h-1.1zM184.5 375.3h1.1v1.1h-1.1zM182.4 378.0h1.1v1.1h-1.1zM187.6 380.1h1.1v1.1h-1.1zM186.3 382.9h1.1v1.1h-1.1zM192.5 382.6h1.1v1.1h-1.1zM188.4 379.0h1.1v1.1h-1.1zM183.8 383.2h1.1v1.1h-1.1zM185.1 384.5h1.1v1.1h-1.1zM183.3 387.8h1.1v1.1h-1.1zM186.6 380.2h1.1v1.1h-1.1zM186.7 379.1h1.1v1.1h-1.1zM185.0 379.7h1.1v1.1h-1.1zM189.7 385.3h1.1v1.1h-1.1zM189.1 378.8h1.1v1.1h-1.1zM181.2 383.1h1.1v1.1h-1.1zM184.0 380.5h1.1v1.1h-1.1zM188.7 380.5h1.1v1.1h-1.1zM184.4 382.6h1.1v1.1h-1.1zM186.1 385.3h1.1v1.1h-1.1zM182.9 382.1h1.1v1.1h-1.1zM189.2 386.6h1.1v1.1h-1.1zM187.5 376.2h1.1v1.1h-1.1zM181.6 378.8h1.1v1.1h-1.1zM183.6 385.7h1.1v1.1h-1.1zM188.8 381.5h1.1v1.1h-1.1zM186.2 378.1h1.1v1.1h-1.1zM185.4 383.9h1.1v1.1h-1.1zM187.2 379.5h1.1v1.1h-1.1zM191.9 380.5h1.1v1.1h-1.1zM187.1 387.4h1.1v1.1h-1.1zM186.0 385.9h1.1v1.1h-1.1zM188.4 383.5h1.1v1.1h-1.1zM190.5 381.8h1.1v1.1h-1.1zM185.6 375.2h1.1v1.1h-1.1zM192.1 384.3h1.1v1.1h-1.1zM190.8 379.6h1.1v1.1h-1.1zM184.2 382.4h1.1v1.1h-1.1zM186.4 384.1h1.1v1.1h-1.1zM190.9 389.6h1.1v1.1h-1.1zM192.5 379.5h1.1v1.1h-1.1zM183.7 382.3h1.1v1.1h-1.1zM184.5 382.0h1.1v1.1h-1.1zM187.1 383.4h1.1v1.1h-1.1zM186.2 380.1h1.1v1.1h-1.1zM186.0 382.0h1.1v1.1h-1.1zM189.9 375.4h1.1v1.1h-1.1zM189.5 384.8h1.1v1.1h-1.1zM183.0 382.7h1.1v1.1h-1.1zM186.6 381.4h1.1v1.1h-1.1zM192.6 385.0h1.1v1.1h-1.1zM184.7 386.8h1.1v1.1h-1.1zM183.1 382.3h1.1v1.1h-1.1zM191.8 385.5h1.1v1.1h-1.1zM181.5 382.4h1.1v1.1h-1.1zM185.7 383.5h1.1v1.1h-1.1zM191.9 381.2h1.1v1.1h-1.1zM190.1 381.2h1.1v1.1h-1.1zM186.8 385.1h1.1v1.1h-1.1zM185.1 378.3h1.1v1.1h-1.1zM182.6 382.2h1.1v1.1h-1.1zM189.7 385.0h1.1v1.1h-1.1zM185.8 382.3h1.1v1.1h-1.1z"/>
<path fill="#cc2619" fill-opacity="0.75" d="M57.1 157.9h1.1v1.1h-1.1zM58.4 158.2h1.1v1.1h-1.1zM53.9 155.6h1.1v1.1h-1.1zM57.5 160.5h1.1v1.1h-1.1zM55.7 161.8h1.1v1.1h-1.1zM52.3 158.8h1.1v1.1h-1.1zM55.8 155.5h1.1v1.1h-1.1zM53.9 157.4h1.1v1.1h-1.1zM56.2 156.3h1.1v1.1h-1.1zM49.1 149.2h1.1v1.1h-1.1zM55.7 162.6h1.1v1.1h-1.1zM61.7 160.9h1.1v1.1h-1.1zM51.9 153.5h1.1v1.1h-1.1zM58.0 158.6h1.1v1.1h-1.1zM52.6 156.4h1.1v1.1h-1.1zM54.9 153.6h1.1v1.1h-1.1zM56.4 164.0h1.1v1.1h-1.1zM53.2 155.8h1.1v1.1h-1.1zM51.8 161.6h1.1v1.1h-1.1zM52.4 155.1h1.1v1.1h-1.1zM54.1 156.8h1.1v1.1h-1.1zM55.0 159.2h1.1v1.1h-1.1zM52.7 153.0h1.1v1.1h-1.1zM53.4 153.4h1.1v1.1h-1.1zM52.7 161.0h1.1v1.1h-1.1zM53.1 158.5h1.1v1.1h-1.1zM55.4 156.2h1.1v1.1h-1.1zM53.7 162.9h1.1v1.1h-1.1zM55.8 156.7h1.1v1.1h-1.1zM55.0 155.4h1.1v1.1h-1.1zM56.1 157.0h1.1v1.1h-1.1zM57.5 157.6h1.1v1.1h-1.1zM54.5 163.8h1.1v1.1h-1.1zM53.7 159.4h1.1v1.1h-1.1zM52.1 164.8h1.1v1.1h-1.1zM51.0 156.6h1.1v1.1h-1.1zM53.2 157.2h1.1v1.1h-1.1zM49.8 155.7h1.1v1.1h-1.1zM56.9 157.8h1.1v1.1h-1.1zM58.3 156.1h1.1v1.1h-1.1zM54.3 162.1h1.1v1.1h-1.1zM53.9 158.4h1.1v1.1h-1.1zM57.8 156.9h1.1v1.1h-1.1zM51.6 158.4h1.1v1.1h-1.1zM55.9 154.9h1.1v1.1h-1.1zM52.8 160.8h1.1v1.1h-1.1zM62.0 156.6h1.1v1.1h-1.1zM62.2 160.2h1.1v1.1h-1.1zM53.2 156.7h1.1v1.1h-1.1zM52.4 162.0h1.1v1.1h-1.1zM60.2 155.5h1.1v1.1h-1.1zM52.6 160.8h1.1v1.1h-1.1zM55.3 153.5h1.1v1.1h-1.1zM53.6 157.5h1.1v1.1h-1.1zM55.6 159.2h1.1v1.1h-1.1zM55.6 162.6h1.1v1.1h-1.1zM51.0 156.7h1.1v1.1h-1.1zM52.8 157.1h1.1v1.1h-1.1zM57.1 161.6h1.1v1.1h-1.1zM56.9 157.4h1.1v1.1h-1.1zM52.5 157.3h1.1v1.1h-1.1zM63.6 161.1h1.1v1.1h-1.1zM55.9 152.0h1.1v1.1h-1.1zM54.0 156.7h1.1v1.1h-1.1zM48.6 165.1h1.1v1.1h-1.1zM49.4 158.4h1.1v1.1h-1.1zM59.9 156.5h1.1v1.1h-1.1zM57.9 164.2h1.1v1.1h-1.1zM54.6 155.4h1.1v1.1h-1.1zM57.7 158.5h1.1v1.1h-1.1zM52.4 158.8h1.1v1.1h-1.1zM52.0 160.2h1.1v1.1h-1.1zM56.3 164.3h1.1v1.1h-1.1zM49.4 151.6h1.1v1.1h-1.1zM53.1 156.3h1.1v1.1h-1.1zM57.3 158.8h1.1v1.1h-1.1zM48.2 155.7h1.1v1.1h-1.1zM57.9 151.2h1.1v1.1h-1.1zM55.1 153.9h1.1v1.1h-1.1zM53.5 159.2h1.1v1.1h-1.1zM60.6 158.1h1.1v1.1h-1.1zM52.7 156.1h1.1v1.1h-1.1zM55.3 158.2h1.1v1.1h-1.1zM52.3 158.3h1.1v1.1h-1.1zM55.5 156.8h1.1v1.1h-1.1zM51.0 158.0h1.1v1.1h-1.1zM53.6 155.9h1.1v1.1h-1.1zM52.6 156.5h1.1v1.1h-1.1zM52.8 159.1h1.1v1.1h-1.1zM56.6 154.3h1.1v1.1h-1.1zM58.6 158.1h1.1v1.1h-1.1zM55.7 156.5h1.1v1.1h-1.1zM57.5 153.8h1.1v1.1h-1.1zM54.7 152.5h1.1v1.1h-1.1zM58.2 158.4h1.1v1.1h-1.1zM57.4 153.5h1.1v1.1h-1.1zM54.9 153.3h1.1v1.1h-1.1zM50.0 161.9h1.1v1.1h-1.1zM59.1 162.5h1.1v1.1h-1.1zM56.6 154.5h1.1v1.1h-1.1zM50.2 155.0h1.1v1.1h-1.1zM56.7 158.0h1.1v1.1h-1.1zM55.7 155.3h1.1v1.1h-1.1zM49.9 160.8h1.1v1.1h-1.1zM54.3 156.7h1.1v1.1h-1.1zM52.8 159.1h1.1v1.1h-1.1zM51.5 158.8h1.1v1.1h-1.1zM50.8 161.9h1.1v1.1h-1.1zM50.0 158.4h1.1v1.1h-1.1zM55.5 160.4h1.1v1.1h-1.1zM50.2 158.6h1.1v1.1h-1.1zM49.5 160.2h1.1v1.1h-1.1zM53.1 159.5h1.1v1.1h-1.1zM53.5 161.2h1.1v1.1h-1.1zM58.0 153.5h1.1v1.1h-1.1zM56.5 165.8h1.1v1.1h-1.1zM58.5 154.8h1.1v1.1h-1.1zM47.9 157.1h1.1v1.1h-1.1zM52.6 153.8h1.1v1.1h-1.1zM58.7 158.8h1.1v1.1h-1.1zM56.7 155.0h1.1v1.1h-1.1zM57.8 156.6h1.1v1.1h-1.1zM49.3 160.4h1.1v1.1h-1.1zM52.7 158.6h1.1v1.1h-1.1zM53.7 156.8h1.1v1.1h-1.1zM58.5 160.5h1.1v1.1h-1.1zM53.1 157.4h1.1v1.1h-1.1zM54.2 158.1h1.1v1.1h-1.1zM58.8 152.8h1.1v1.1h-1.1zM57.5 159.2h1.1v1.1h-1.1zM54.9 162.4h1.1v1.1h-1.1zM50.4 157.4h1.1v1.1h-1.1zM57.6 154.6h1.1v1.1h-1.1zM49.8 155.5h1.1v1.1h-1.1zM55.3 163.0h1.1v1.1h-1.1zM59.0 155.8h1.1v1.1h-1.1zM57.3 156.3h1.1v1.1h-1.1zM53.0 161.5h1.1v1.1h-1.1zM58.6 159.1h1.1v1.1h-1.1zM58.4 160.3h1.1v1.1h-1.1zM55.4 157.5h1.1v1.1h-1.1zM54.4 158.3h1.1v1.1h-1.1zM53.0 160.2h1.1v1.1h-1.1zM56.6 157.8h1.1v1.1h-1.1zM51.9 155.2h1.1v1.1h-1.1zM53.5 155.0h1.1v1.1h-1.1zM53.6 153.3h1.1v1.1h-1.1zM55.2 155.1h1.1v1.1h-1.1zM53.4 157.8h1.1v1.1h-1.1zM53.1 161.2h1.1v1.1h-1.1zM58.4 151.3h1.1v1.1h-1.1zM54.5 155.2h1.1v1.1h-1.1zM50.1 160.8h1.1v1.1h-1.1zM61.0 153.1h1.1v1.1h-1.1zM52.6 159.8h1.1v1.1h-1.1zM54.6 154.0h1.1v1.1h-1.1zM56.7 154.9h1.1v1.1h-1.1zM56.7 160.3h1.1v1.1h-1.1zM49.6 156.2h1.1v1.1h-1.1zM48.3 163.7h1.1v1.1h-1.1zM56.8 160.3h1.1v1.1h-1.1zM55.4 159.6h1.1v1.1h-1.1zM59.6 152.3h1.1v1.1h-1.1zM58.9 156.6h1.1v1.1h-1.1zM55.7 158.0h1.1v1.1h-1.1zM55.3 165.6h1.1v1.1h-1.1zM50.7 164.5h1.1v1.1h-1.1zM54.0 158.4h1.1v1.1h-1.1zM55.9 152.7h1.1v1.1h-1.1zM51.0 155.7h1.1v1.1h-1.1zM54.1 155.9h1.1v1.1h-1.1zM52.9 160.4h1.1v1.1h-1.1zM58.1 160.9h1.1v1.1h-1.1zM52.9 157.2h1.1v1.1h-1.1zM55.7 156.8h1.1v1.1h-1.1zM53.1 159.2h1.1v1.1h-1.1zM54.9 155.7h1.1v1.1h-1.1zM60.5 160.1h1.1v1.1h-1.1zM51.0 161.7h1.1v1.1h-1.1zM53.2 151.5h1.1v1.1h-1.1zM51.2 162.5h1.1v1.1h-1.1zM48.5 157.0h1.1v1.1h-1.1zM54.5 159.3h1.1v1.1h-1.1zM49.9 152.3h1.1v1.1h-1.1zM53.2 161.6h1.1v1.1h-1.1zM53.5 157.1h1.1v1.1h-1.1zM50.4 154.0h1.1v1.1h-1.1zM54.6 158.2h1.1v1.1h-1.1zM52.9 160.6h1.1v1.1h-1.1zM53.0 156.5h1.1v1.1h-1.1zM61.6 159.8h1.1v1.1h-1.1zM51.4 156.6h1.1v1.1h-1.1zM55.0 156.4h1.1v1.1h-1.1zM52.1 152.2h1.1v1.1h-1.1zM52.0 159.7h1.1v1.1h-1.1zM56.5 156.9h1.1v1.1h-1.1zM52.1 154.9h1.1v1.1h-1.1zM49.9 157.7h1.1v1.1h-1.1zM50.3 155.5h1.1v1.1h-1.1zM54.8 163.1h1.1v1.1h-1.1zM52.3 158.6h1.1v1.1h-1.1zM57.8 162.3h1.1v1.1h-1.1zM60.8 154.7h1.1v1.1h-1.1zM56.9 149.8h1.1v1.1h-1.1zM58.9 157.1h1.1v1.1h-1.1zM54.6 156.4h1.1v1.1h-1.1zM56.4 158.0h1.1v1.1h-1.1zM48.9 152.2h1.1v1.1h-1.1zM47.3 158.9h1.1v1.1h-1.1zM56.5 162.4h1.1v1.1h-1.1zM53.6 156.4h1.1v1.1h-1.1zM52.8 162.5h1.1v1.1h-1.1zM49.5 156.9h1.1v1.1h-1.1zM48.4 157.6h1.1v1.1h-1.1zM51.0 155.5h1.1v1.1h-1.1zM58.1 152.3h1.1v1.1h-1.1zM48.3 149.7h1.1v1.1h-1.1zM50.3 152.8h1.1v1.1h-1.1zM48.6 156.6h1.1v1.1h-1.1zM52.5 160.4h1.1v1.1h-1.1zM51.6 151.4h1.1v1.1h-1.1zM58.9 152.5h1.1v1.1h-1.1zM50.2 152.1h1.1v1.1h-1.1zM56.7 157.7h1.1v1.1h-1.1zM54.1 160.5h1.1v1.1h-1.1zM48.5 158.7h1.1v1.1h-1.1zM58.3 154.7h1.1v1.1h-1.1zM57.9 159.0h1.1v1.1h-1.1zM52.3 151.8h1.1v1.1h-1.1zM58.9 162.8h1.1v1.1h-1.1zM56.7 152.4h1.1v1.1h-1.1zM48.2 149.3h1.1v1.1h-1.1zM54.4 154.3h1.1v1.1h-1.1zM58.8 157.3h1.1v1.1h-1.1zM59.1 157.0h1.1v1.1h-1.1zM55.6 152.8h1.1v1.1h-1.1zM56.5 158.0h1.1v1.1h-1.1zM55.6 157.1h1.1v1.1h-1.1zM50.8 159.3h1.1v1.1h-1.1zM56.3 156.0h1.1v1.1h-1.1zM51.4 163.1h1.1v1.1h-1.1zM49.6 159.9h1.1v1.1h-1.1zM58.1 161.7h1.1v1.1h-1.1zM46.2 158.3h1.1v1.1h-1.1zM51.8 159.2h1.1v1.1h-1.1zM53.9 159.8h1.1v1.1h-1.1zM53.4 156.4h1.1v1.1h-1.1zM53.1 161.2h1.1v1.1h-1.1zM56.2 156.0h1.1v1.1h-1.1zM59.0 163.8h1.1v1.1h-1.1zM54.0 154.7h1.1v1.1h-1.1zM57.4 159.1h1.1v1.1h-1.1zM55.2 158.9h1.1v1.1h-1.1zM53.2 160.5h1.1v1.1h-1.1zM53.6 149.4h1.1v1.1h-1.1zM54.5 160.1h1.1v1.1h-1.1zM55.2 159.7h1.1v1.1h-1.1zM53.9 153.7h1.1v1.1h-1.1zM56.5 160.7h1.1v1.1h-1.1zM51.7 160.1h1.1v1.1h-1.1zM54.9 151.6h1.1v1.1h-1.1zM56.4 154.3h1.1v1.1h-1.1zM54.6 148.4h1.1v1.1h-1.1zM58.6 156.5h1.1v1.1h-1.1zM55.9 156.3h1.1v1.1h-1.1zM50.9 157.9h1.1v1.1h-1.1zM50.4 158.8h1.1v1.1h-1.1zM57.6 156.6h1.1v1.1h-1.1zM49.4 161.1h1.1v1.1h-1.1zM50.5 157.3h1.1v1.1h-1.1zM54.8 157.7h1.1v1.1h-1.1zM49.0 159.8h1.1v1.1h-1.1zM51.7 157.4h1.1v1.1h-1.1zM58.8 160.7h1.1v1.1h-1.1zM53.4 156.7h1.1v1.1h-1.1zM58.9 157.8h1.1v1.1h-1.1zM49.3 155.9h1.1v1.1h-1.1zM54.0 157.3h1.1v1.1h-1.1zM53.8 155.0h1.1v1.1h-1.1zM53.4 153.2h1.1v1.1h-1.1zM55.7 155.3h1.1v1.1h-1.1zM51.5 159.1h1.1v1.1h-1.1zM51.7 158.4h1.1v1.1h-1.1zM56.9 158.6h1.1v1.1h-1.1zM52.6 158.9h1.1v1.1h-1.1zM51.9 156.5h1.1v1.1h-1.1zM53.3 156.0h1.1v1.1h-1.1zM50.8 155.8h1.1v1.1h-1.1zM60.1 155.8h1.1v1.1h-1.1zM57.8 155.0h1.1v1.1h-1.1zM53.9 157.5h1.1v1.1h-1.1zM51.0 157.8h1.1v1.1h-1.1zM58.0 159.1h1.1v1.1h-1.1zM50.9 158.0h1.1v1.1h-1.1zM56.1 157.7h1.1v1.1h-1.1zM51.9 157.2h1.1v1.1h-1.1zM52.9 160.7h1.1v1.1h-1.1zM60.3 153.9h1.1v1.1h-1.1zM56.2 160.1h1.1v1.1h-1.1zM50.5 154.8h1.1v1.1h-1.1zM52.6 156.2h1.1v1.1h-1.1zM53.1 154.5h1.1v1.1h-1.1zM47.4 159.4h1.1v1.1h-1.1zM53.9 164.0h1.1v1.1h-1.1zM52.8 153.2h1.1v1.1h-1.1zM53.0 160.0h1.1v1.1h-1.1zM53.2 153.9h1.1v1.1h-1.1zM56.4 158.5h1.1v1.1h-1.1zM54.5 157.1h1.1v1.1h-1.1zM53.1 157.9h1.1v1.1h-1.1zM53.6 155.3h1.1v1.1h-1.1zM52.4 155.7h1.1v1.1h-1.1zM55.2 157.0h1.1v1.1h-1.1zM60.0 156.9h1.1v1.1h-1.1zM56.1 157.8h1.1v1.1h-1.1zM47.6 158.7h1.1v1.1h-1.1zM54.7 157.9h1.1v1.1h-1.1zM55.4 155.9h1.1v1.1h-1.1zM55.3 163.2h1.1v1.1h-1.1zM48.8 154.3h1.1v1.1h-1.1z"/>
<path fill="#cc2619" fill-opacity="0.8" d="M53.9 71.2h1.1v1.1h-1.1zM60.5 76.5h1.1v1.1h-1.1zM53.1 74.6h1.1v1.1h-1.1zM56.3 74.0h1.1v1.1h-1.1zM49.2 79.0h1.1v1.1h-1.1zM56.2 74.3h1.1v1.1h-1.1zM56.1 77.6h1.1v1.1h-1.1zM62.6 72.7h1.1v1.1h-1.1zM62.9 78.6h1.1v1.1h-1.1zM55.3 73.8h1.1v1.1h-1.1zM58.8 74.5h1.1v1.1h-1.1zM52.7 71.5h1.1v1.1h-1.1zM52.7 88.9h1.1v1.1h-1.1zM62.9 84.7h1.1v1.1h-1.1zM47.3 88.4h1.1v1.1h-1.1zM61.2 85.2h1.1v1.1h-1.1zM50.1 72.9h1.1v1.1h-1.1zM53.9 87.3h1.1v1.1h-1.1zM56.5 84.6h1.1v1.1h-1.1zM51.0 80.7h1.1v1.1h-1.1zM58.6 86.2h1.1v1.1h-1.1zM60.2 75.3h1.1v1.1h-1.1zM61.2 75.0h1.1v1.1h-1.1zM60.1 81.3h1.1v1.1h-1.1zM50.2 81.9h1.1v1.1h-1.1zM55.5 88.7h1.1v1.1h-1.1zM47.9 74.1h1.1v1.1h-1.1zM63.0 86.4h1.1v1.1h-1.1zM49.7 75.3h1.1v1.1h-1.1zM55.9 73.9h1.1v1.1h-1.1zM52.4 72.0h1.1v1.1h-1.1zM58.6 72.5h1.1v1.1h-1.1zM63.2 88.0h1.1v1.1h-1.1zM59.9 85.3h1.1v1.1h-1.1zM53.1 83.5h1.1v1.1h-1.1zM59.4 79.9h1.1v1.1h-1.1zM48.2 82.6h1.1v1.1h-1.1zM52.5 82.3h1.1v1.1h-1.1zM54.0 88.6h1.1v1.1h-1.1zM50.5 85.2h1.1v1.1h-1.1zM58.4 81.3h1.1v1.1h-1.1zM48.5 74.1h1.1v1.1h-1.1zM62.7 75.3h1.1v1.1h-1.1zM49.9 76.4h1.1v1.1h-1.1zM55.8 80.6h1.1v1.1h-1.1zM47.3 71.1h1.1v1.1h-1.1zM55.2 74.5h1.1v1.1h-1.1zM57.0 85.7h1.1v1.1h-1.1zM48.8 80.3h1.1v1.1h-1.1zM53.7 85.6h1.1v1.1h-1.1zM62.5 78.7h1.1v1.1h-1.1zM51.1 87.2h1.1v1.1h-1.1zM47.7 77.1h1.1v1.1h-1.1zM53.6 74.3h1.1v1.1h-1.1zM58.1 80.6h1.1v1.1h-1.1zM51.2 78.7h1.1v1.1h-1.1zM58.3 77.0h1.1v1.1h-1.1zM48.3 79.5h1.1v1.1h-1.1zM50.4 82.5h1.1v1.1h-1.1zM50.5 73.5h1.1v1.1h-1.1zM61.6 77.1h1.1v1.1h-1.1zM51.9 81.0h1.1v1.1h-1.1zM58.3 83.4h1.1v1.1h-1.1zM60.0 75.8h1.1v1.1h-1.1zM54.1 77.7h1.1v1.1h-1.1zM55.5 81.6h1.1v1.1h-1.1zM57.3 72.3h1.1v1.1h-1.1zM53.2 84.1h1.1v1.1h-1.1zM47.8 84.8h1.1v1.1h-1.1zM58.2 78.4h1.1v1.1h-1.1zM54.4 75.9h1.1v1.1h-1.1zM59.0 79.9h1.1v1.1h-1.1zM51.5 71.6h1.1v1.1h-1.1zM52.8 88.0h1.1v1.1h-1.1zM58.1 82.6h1.1v1.1h-1.1zM62.2 71.6h1.1v1.1h-1.1zM56.9 74.5h1.1v1.1h-1.1zM53.6 74.4h1.1v1.1h-1.1zM52.8 87.6h1.1v1.1h-1.1zM58.9 86.6h1.1v1.1h-1.1zM48.5 76.6h1.1v1.1h-1.1zM59.8 71.8h1.1v1.1h-1.1zM50.3 72.6h1.1v1.1h-1.1zM60.3 75.3h1.1v1.1h-1.1zM54.0 71.3h1.1v1.1h-1.1zM49.1 80.5h1.1v1.1h-1.1zM59.9 77.3h1.1v1.1h-1.1zM52.4 71.8h1.1v1.1h-1.1zM48.8 73.8h1.1v1.1h-1.1zM50.6 81.5h1.1v1.1h-1.1zM53.0 89.0h1.1v1.1h-1.1zM51.8 86.8h1.1v1.1h-1.1zM48.7 80.8h1.1v1.1h-1.1zM56.0 83.1h1.1v1.1h-1.1zM53.8 80.7h1.1v1.1h-1.1zM59.7 73.8h1.1v1.1h-1.1zM55.8 81.9h1.1v1.1h-1.1zM59.8 74.1h1.1v1.1h-1.1zM53.9 71.5h1.1v1.1h-1.1zM57.9 87.0h1.1v1.1h-1.1zM52.9 86.1h1.1v1.1h-1.1zM57.8 71.4h1.1v1.1h-1.1zM54.8 71.9h1.1v1.1h-1.1zM52.3 85.8h1.1v1.1h-1.1zM49.3 81.5h1.1v1.1h-1.1zM48.2 73.1h1.1v1.1h-1.1zM62.5 72.8h1.1v1.1h-1.1zM50.0 88.3h1.1v1.1h-1.1zM52.2 75.0h1.1v1.1h-1.1zM48.8 80.2h1.1v1.1h-1.1zM48.2 75.1h1.1v1.1h-1.1zM50.8 84.8h1.1v1.1h-1.1zM49.8 81.9h1.1v1.1h-1.1zM51.1 89.3h1.1v1.1h-1.1zM63.1 88.0h1.1v1.1h-1.1zM61.7 81.2h1.1v1.1h-1.1zM62.1 82.8h1.1v1.1h-1.1zM49.8 84.5h1.1v1.1h-1.1zM60.8 71.3h1.1v1.1h-1.1zM50.4 85.5h1.1v1.1h-1.1zM59.5 81.4h1.1v1.1h-1.1zM49.2 75.9h1.1v1.1h-1.1zM51.0 89.1h1.1v1.1h-1.1zM50.9 77.9h1.1v1.1h-1.1zM58.3 83.3h1.1v1.1h-1.1zM56.2 83.0h1.1v1.1h-1.1zM61.1 87.9h1.1v1.1h-1.1zM49.0 71.6h1.1v1.1h-1.1zM61.9 87.8h1.1v1.1h-1.1zM53.1 78.4h1.1v1.1h-1.1zM58.2 78.8h1.1v1.1h-1.1zM49.0 75.6h1.1v1.1h-1.1zM52.1 81.5h1.1v1.1h-1.1zM50.0 84.5h1.1v1.1h-1.1zM62.8 78.1h1.1v1.1h-1.1zM56.4 82.8h1.1v1.1h-1.1zM60.0 82.6h1.1v1.1h-1.1zM55.5 84.3h1.1v1.1h-1.1zM47.6 88.3h1.1v1.1h-1.1zM61.6 83.8h1.1v1.1h-1.1zM50.5 82.6h1.1v1.1h-1.1zM47.7 78.4h1.1v1.1h-1.1zM50.7 81.4h1.1v1.1h-1.1zM51.3 72.7h1.1v1.1h-1.1zM60.0 75.7h1.1v1.1h-1.1zM56.2 71.4h1.1v1.1h-1.1zM56.3 85.6h1.1v1.1h-1.1zM59.8 77.1h1.1v1.1h-1.1zM49.3 82.3h1.1v1.1h-1.1zM52.2 76.3h1.1v1.1h-1.1zM50.6 78.3h1.1v1.1h-1.1zM58.2 78.4h1.1v1.1h-1.1zM57.6 84.4h1.1v1.1h-1.1zM60.2 81.6h1.1v1.1h-1.1zM63.1 80.3h1.1v1.1h-1.1zM55.8 83.2h1.1v1.1h-1.1zM62.8 84.0h1.1v1.1h-1.1zM61.9 74.0h1.1v1.1h-1.1zM54.0 84.0h1.1v1.1h-1.1zM59.0 86.3h1.1v1.1h-1.1zM51.5 76.8h1.1v1.1h-1.1zM53.9 78.3h1.1v1.1h-1.1zM48.7 78.2h1.1v1.1h-1.1zM57.5 84.7h1.1v1.1h-1.1zM50.9 82.5h1.1v1.1h-1.1zM59.3 73.9h1.1v1.1h-1.1zM47.5 74.0h1.1v1.1h-1.1zM58.1 87.9h1.1v1.1h-1.1zM53.4 76.8h1.1v1.1h-1.1zM57.3 76.9h1.1v1.1h-1.1zM47.9 75.6h1.1v1.1h-1.1zM56.9 79.5h1.1v1.1h-1.1zM52.8 78.3h1.1v1.1h-1.1zM49.4 85.2h1.1v1.1h-1.1zM53.2 83.7h1.1v1.1h-1.1zM56.3 87.6h1.1v1.1h-1.1zM60.0 73.5h1.1v1.1h-1.1zM54.5 71.3h1.1v1.1h-1.1zM59.3 75.3h1.1v1.1h-1.1zM62.9 75.2h1.1v1.1h-1.1zM55.4 80.1h1.1v1.1h-1.1zM60.5 82.0h1.1v1.1h-1.1zM61.3 76.9h1.1v1.1h-1.1zM48.8 74.5h1.1v1.1h-1.1zM48.0 84.1h1.1v1.1h-1.1zM58.2 84.9h1.1v1.1h-1.1zM59.7 73.4h1.1v1.1h-1.1zM48.3 83.2h1.1v1.1h-1.1zM47.3 77.3h1.1v1.1h-1.1zM56.7 83.1h1.1v1.1h-1.1zM57.1 88.5h1.1v1.1h-1.1zM62.8 76.8h1.1v1.1h-1.1zM52.3 71.4h1.1v1.1h-1.1zM49.2 79.1h1.1v1.1h-1.1zM57.5 75.4h1.1v1.1h-1.1zM48.8 83.7h1.1v1.1h-1.1zM58.0 80.3h1.1v1.1h-1.1zM49.5 74.7h1.1v1.1h-1.1zM51.5 86.7h1.1v1.1h-1.1zM62.1 71.9h1.1v1.1h-1.1zM62.2 87.8h1.1v1.1h-1.1zM59.9 75.3h1.1v1.1h-1.1zM62.7 85.9h1.1v1.1h-1.1zM49.5 71.7h1.1v1.1h-1.1zM53.3 81.7h1.1v1.1h-1.1zM47.6 88.6h1.1v1.1h-1.1zM58.0 80.6h1.1v1.1h-1.1zM55.1 73.0h1.1v1.1h-1.1zM59.2 84.7h1.1v1.1h-1.1zM47.6 85.9h1.1v1.1h-1.1zM52.9 88.2h1.1v1.1h-1.1zM52.7 74.9h1.1v1.1h-1.1zM50.4 77.2h1.1v1.1h-1.1zM48.4 74.0h1.1v1.1h-1.1zM54.8 81.2h1.1v1.1h-1.1zM56.2 73.5h1.1v1.1h-1.1zM47.6 73.7h1.1v1.1h-1.1zM61.6 73.6h1.1v1.1h-1.1zM58.2 81.3h1.1v1.1h-1.1zM56.9 88.3h1.1v1.1h-1.1zM51.3 84.0h1.1v1.1h-1.1zM55.5 77.8h1.1v1.1h-1.1zM53.7 74.8h1.1v1.1h-1.1zM48.9 88.0h1.1v1.1h-1.1zM57.5 74.2h1.1v1.1h-1.1zM60.1 74.4h1.1v1.1h-1.1zM57.8 81.8h1.1v1.1h-1.1zM60.0 78.6h1.1v1.1h-1.1zM62.5 84.3h1.1v1.1h-1.1zM54.4 73.3h1.1v1.1h-1.1zM51.4 73.5h1.1v1.1h-1.1zM55.6 85.9h1.1v1.1h-1.1zM59.1 82.8h1.1v1.1h-1.1zM54.1 76.2h1.1v1.1h-1.1zM60.1 83.4h1.1v1.1h-1.1zM57.9 81.3h1.1v1.1h-1.1zM59.9 81.9h1.1v1.1h-1.1zM51.5 77.9h1.1v1.1h-1.1zM52.2 76.4h1.1v1.1h-1.1zM61.6 84.1h1.1v1.1h-1.1zM57.1 79.3h1.1v1.1h-1.1zM55.0 73.0h1.1v1.1h-1.1zM54.8 81.9h1.1v1.1h-1.1zM52.9 80.4h1.1v1.1h-1.1zM63.2 87.8h1.1v1.1h-1.1zM48.5 88.5h1.1v1.1h-1.1zM60.0 86.0h1.1v1.1h-1.1zM60.1 74.9h1.1v1.1h-1.1zM49.4 82.9h1.1v1.1h-1.1zM60.5 72.9h1.1v1.1h-1.1zM47.5 88.5h1.1v1.1h-1.1zM61.8 75.9h1.1v1.1h-1.1zM60.5 76.5h1.1v1.1h-1.1zM60.7 71.3h1.1v1.1h-1.1zM57.0 75.2h1.1v1.1h-1.1zM57.4 71.5h1.1v1.1h-1.1zM57.6 72.9h1.1v1.1h-1.1zM54.3 72.3h1.1v1.1h-1.1zM53.4 73.9h1.1v1.1h-1.1zM52.5 79.7h1.1v1.1h-1.1zM57.8 82.7h1.1v1.1h-1.1zM55.6 86.7h1.1v1.1h-1.1zM53.8 73.7h1.1v1.1h-1.1zM58.2 77.6h1.1v1.1h-1.1zM62.2 78.2h1.1v1.1h-1.1zM47.5 77.4h1.1v1.1h-1.1zM62.6 79.8h1.1v1.1h-1.1zM60.4 77.8h1.1v1.1h-1.1zM57.0 72.4h1.1v1.1h-1.1zM50.5 73.0h1.1v1.1h-1.1zM53.7 77.0h1.1v1.1h-1.1zM56.2 83.0h1.1v1.1h-1.1zM51.1 76.0h1.1v1.1h-1.1zM47.6 73.3h1.1v1.1h-1.1zM53.4 87.6h1.1v1.1h-1.1zM50.3 78.6h1.1v1.1h-1.1zM47.5 81.9h1.1v1.1h-1.1zM54.0 77.1h1.1v1.1h-1.1zM53.5 76.1h1.1v1.1h-1.1zM53.8 74.4h1.1v1.1h-1.1zM58.7 88.2h1.1v1.1h-1.1zM61.8 77.8h1.1v1.1h-1.1zM47.4 85.2h1.1v1.1h-1.1zM54.6 81.1h1.1v1.1h-1.1zM57.7 86.0h1.1v1.1h-1.1zM55.5 79.0h1.1v1.1h-1.1zM49.4 71.8h1.1v1.1h-1.1zM49.9 73.9h1.1v1.1h-1.1zM62.3 81.5h1.1v1.1h-1.1zM47.7 76.9h1.1v1.1h-1.1zM53.8 86.4h1.1v1.1h-1.1zM53.9 81.1h1.1v1.1h-1.1zM51.5 77.0h1.1v1.1h-1.1zM48.5 85.5h1.1v1.1h-1.1zM55.1 84.5h1.1v1.1h-1.1zM56.4 72.7h1.1v1.1h-1.1zM51.6 76.9h1.1v1.1h-1.1zM59.8 77.4h1.1v1.1h-1.1zM62.7 85.7h1.1v1.1h-1.1zM58.3 80.8h1.1v1.1h-1.1zM58.3 77.3h1.1v1.1h-1.1zM48.9 86.8h1.1v1.1h-1.1zM54.6 88.7h1.1v1.1h-1.1zM59.0 81.6h1.1v1.1h-1.1zM54.1 83.7h1.1v1.1h-1.1zM51.1 77.5h1.1v1.1h-1.1zM52.4 86.1h1.1v1.1h-1.1zM62.4 72.8h1.1v1.1h-1.1zM47.6 77.5h1.1v1.1h-1.1zM58.2 79.1h1.1v1.1h-1.1zM59.4 88.9h1.1v1.1h-1.1zM57.9 83.3h1.1v1.1h-1.1zM49.5 81.8h1.1v1.1h-1.1zM57.3 74.6h1.1v1.1h-1.1zM47.7 83.5h1.1v1.1h-1.1zM63.1 82.9h1.1v1.1h-1.1zM50.5 87.1h1.1v1.1h-1.1zM52.3 77.3h1.1v1.1h-1.1zM60.3 85.7h1.1v1.1h-1.1zM62.1 87.3h1.1v1.1h-1.1zM47.3 75.3h1.1v1.1h-1.1zM56.6 75.3h1.1v1.1h-1.1zM60.9 84.6h1.1v1.1h-1.1zM59.3 88.4h1.1v1.1h-1.1zM58.6 88.8h1.1v1.1h-1.1zM54.7 73.5h1.1v1.1h-1.1zM55.5 88.5h1.1v1.1h-1.1zM57.1 77.0h1.1v1.1h-1.1zM48.8 73.5h1.1v1.1h-1.1zM49.2 84.1h1.1v1.1h-1.1zM52.5 79.0h1.1v1.1h-1.1zM62.9 77.2h1.1v1.1h-1.1zM57.7 77.5h1.1v1.1h-1.1zM53.4 78.9h1.1v1.1h-1.1zM54.4 73.2h1.1v1.1h-1.1zM57.5 81.3h1.1v1.1h-1.1zM49.0 89.0h1.1v1.1h-1.1zM63.0 76.1h1.1v1.1h-1.1zM52.7 85.4h1.1v1.1h-1.1zM55.3 81.5h1.1v1.1h-1.1zM59.5 84.9h1.1v1.1h-1.1zM51.5 80.0h1.1v1.1h-1.1zM60.2 87.3h1.1v1.1h-1.1zM61.1 85.8h1.1v1.1h-1.1zM57.8 71.5h1.1v1.1h-1.1zM53.1 84.1h1.1v1.1h-1.1zM51.1 72.2h1.1v1.1h-1.1zM56.8 85.2h1.1v1.1h-1.1zM63.2 84.4h1.1v1.1h-1.1zM54.4 71.6h1.1v1.1h-1.1zM58.1 87.5h1.1v1.1h-1.1zM55.5 81.4h1.1v1.1h-1.1zM48.7 77.0h1.1v1.1h-1.1zM56.7 85.8h1.1v1.1h-1.1zM52.4 86.4h1.1v1.1h-1.1zM56.7 81.3h1.1v1.1h-1.1zM50.5 83.8h1.1v1.1h-1.1zM49.4 78.8h1.1v1.1h-1.1zM61.4 87.0h1.1v1.1h-1.1zM62.4 74.6h1.1v1.1h-1.1zM61.7 79.7h1.1v1.1h-1.1zM49.9 87.5h1.1v1.1h-1.1zM62.5 89.0h1.1v1.1h-1.1zM53.0 75.2h1.1v1.1h-1.1zM62.0 84.2h1.1v1.1h-1.1zM62.1 84.5h1.1v1.1h-1.1zM63.0 84.5h1.1v1.1h-1.1zM60.4 88.0h1.1v1.1h-1.1zM54.1 88.0h1.1v1.1h-1.1zM53.9 88.7h1.1v1.1h-1.1zM55.9 82.8h1.1v1.1h-1.1zM47.4 77.3h1.1v1.1h-1.1zM51.6 71.3h1.1v1.1h-1.1zM52.3 75.8h1.1v1.1h-1.1zM49.0 75.8h1.1v1.1h-1.1zM61.0 75.0h1.1v1.1h-1.1zM58.4 89.3h1.1v1.1h-1.1zM47.4 84.1h1.1v1.1h-1.1zM49.4 74.5h1.1v1.1h-1.1zM52.2 87.9h1.1v1.1h-1.1zM61.3 72.7h1.1v1.1h-1.1zM59.9 72.6h1.1v1.1h-1.1zM53.0 89.4h1.1v1.1h-1.1zM61.3 73.1h1.1v1.1h-1.1zM56.3 78.8h1.1v1.1h-1.1zM58.1 86.8h1.1v1.1h-1.1zM56.2 88.2h1.1v1.1h-1.1zM61.6 74.1h1.1v1.1h-1.1zM48.2 74.7h1.1v1.1h-1.1zM55.4 83.8h1.1v1.1h-1.1zM60.9 84.5h1.1v1.1h-1.1zM57.7 82.1h1.1v1.1h-1.1zM57.7 78.4h1.1v1.1h-1.1zM57.9 86.4h1.1v1.1h-1.1zM61.0 84.3h1.1v1.1h-1.1zM58.1 72.4h1.1v1.1h-1.1zM52.5 79.4h1.1v1.1h-1.1zM52.2 74.7h1.1v1.1h-1.1zM53.2 86.4h1.1v1.1h-1.1zM51.5 88.3h1.1v1.1h-1.1zM47.4 78.8h1.1v1.1h-1.1zM58.8 84.9h1.1v1.1h-1.1zM47.4 73.2h1.1v1.1h-1.1zM48.4 81.4h1.1v1.1h-1.1zM48.8 78.3h1.1v1.1h-1.1zM51.8 72.9h1.1v1.1h-1.1zM53.2 79.1h1.1v1.1h-1.1zM56.5 77.4h1.1v1.1h-1.1zM48.4 77.1h1.1v1.1h-1.1zM58.4 71.1h1.1v1.1h-1.1zM55.6 71.4h1.1v1.1h-1.1zM61.1 74.7h1.1v1.1h-1.1zM55.8 72.7h1.1v1.1h-1.1zM56.0 85.6h1.1v1.1h-1.1zM61.9 85.6h1.1v1.1h-1.1zM61.5 71.2h1.1v1.1h-1.1zM60.1 72.0h1.1v1.1h-1.1zM61.2 89.4h1.1v1.1h-1.1zM58.7 82.2h1.1v1.1h-1.1zM59.0 72.6h1.1v1.1h-1.1z"/>
</g>
<text x="161.9" y="14.8" font-size="9" letter-spacing="0.3">Lin<tspan font-size="6.8" dy="-3.0">-</tspan><tspan dy="3.0">CD34</tspan><tspan font-size="6.8" dy="-3.0">+</tspan></text>
<text x="279.2" y="14.8" font-size="9" letter-spacing="0.4">CD34<tspan font-size="6.8" dy="-3.0">+</tspan><tspan dy="3.0">CD38</tspan><tspan font-size="6.8" dy="-3.0">-</tspan></text>
<text x="384.7" y="14.8" font-size="9" letter-spacing="0.4">CD34<tspan font-size="6.8" dy="-3.0">+</tspan><tspan dy="3.0">CD38</tspan><tspan font-size="6.8" dy="-3.0">+</tspan></text>
<text x="7.9" y="18.5" font-size="11.8" font-weight="bold" fill="#000" style="stroke:#000">A</text>
<text x="7.9" y="115.6" font-size="11.8" font-weight="bold" fill="#000" style="stroke:#000">B</text>
<text x="7.9" y="212.8" font-size="11.8" font-weight="bold" fill="#000" style="stroke:#000">C</text>
<text x="7.9" y="320.2" font-size="11.8" font-weight="bold" fill="#000" style="stroke:#000">D</text>
<text x="7.9" y="427.0" font-size="11.8" font-weight="bold" fill="#000" style="stroke:#000">E</text>
<text x="35.10" y="31.70" font-size="7.2" text-anchor="end"><tspan letter-spacing="0.45">1</tspan>0<tspan font-size="4.9" dy="-2.5">5</tspan></text>
<text x="35.10" y="48.50" font-size="7.2" text-anchor="end"><tspan letter-spacing="0.45">1</tspan>0<tspan font-size="4.9" dy="-2.5">4</tspan></text>
<text x="35.10" y="65.70" font-size="7.2" text-anchor="end"><tspan letter-spacing="0.45">1</tspan>0<tspan font-size="4.9" dy="-2.5">3</tspan></text>
<text x="35.10" y="83.90" font-size="7.2" text-anchor="end"><tspan letter-spacing="0.45">1</tspan>0<tspan font-size="4.9" dy="-2.5">2</tspan></text>
<text x="29.10" y="90.70" font-size="7.2" text-anchor="middle">0</text>
<text x="46.50" y="107.90" font-size="7.2" text-anchor="middle">0</text>
<text x="49.90" y="107.90" font-size="7.2"><tspan letter-spacing="0.45">1</tspan>0<tspan font-size="4.9" dy="-2.5">2</tspan></text>
<text x="67.53" y="107.90" font-size="7.2"><tspan letter-spacing="0.45">1</tspan>0<tspan font-size="4.9" dy="-2.5">3</tspan></text>
<text x="84.36" y="107.90" font-size="7.2"><tspan letter-spacing="0.45">1</tspan>0<tspan font-size="4.9" dy="-2.5">4</tspan></text>
<text x="101.19" y="107.90" font-size="7.2"><tspan letter-spacing="0.45">1</tspan>0<tspan font-size="4.9" dy="-2.5">5</tspan></text>
<path d="M37.90 79.70H40.1M57.60 96.3V98.50M37.90 61.50H40.1M74.43 96.3V98.50M37.90 44.30H40.1M91.26 96.3V98.50M37.90 27.50H40.1M108.09 96.3V98.50M37.90 88.30H40.1M47.60 96.3V98.50M38.80 74.22H40.1M62.67 96.3V97.60M38.80 71.02H40.1M65.63 96.3V97.60M38.80 68.74H40.1M67.73 96.3V97.60M38.80 66.98H40.1M69.36 96.3V97.60M38.80 65.54H40.1M70.70 96.3V97.60M38.80 64.32H40.1M71.82 96.3V97.60M38.80 63.26H40.1M72.80 96.3V97.60M38.80 62.33H40.1M73.66 96.3V97.60M38.80 56.32H40.1M79.50 96.3V97.60M38.80 53.29H40.1M82.46 96.3V97.60M38.80 51.14H40.1M84.56 96.3V97.60M38.80 49.48H40.1M86.19 96.3V97.60M38.80 48.12H40.1M87.53 96.3V97.60M38.80 46.96H40.1M88.65 96.3V97.60M38.80 45.97H40.1M89.63 96.3V97.60M38.80 45.09H40.1M90.49 96.3V97.60M38.80 39.24H40.1M96.33 96.3V97.60M38.80 36.28H40.1M99.29 96.3V97.60M38.80 34.19H40.1M101.39 96.3V97.60M38.80 32.56H40.1M103.02 96.3V97.60M38.80 31.23H40.1M104.36 96.3V97.60M38.80 30.10H40.1M105.48 96.3V97.60M38.80 29.13H40.1M106.46 96.3V97.60M38.80 28.27H40.1M107.32 96.3V97.60M38.80 86.15H40.1M50.10 96.3V97.60M38.80 84.00H40.1M52.60 96.3V97.60M38.80 81.85H40.1M55.10 96.3V97.60M38.80 90.35H40.1M45.10 96.3V97.60" stroke="#111" stroke-width="0.9" fill="none"/>
<rect x="43.00" y="46.00" width="26.50" height="24.00" fill="none" stroke="#48516c" stroke-width="1.3"/>
<text x="43.10" y="43.70" font-size="7.3" font-weight="bold" letter-spacing="0.2" stroke="#000" stroke-width="0.15" fill="#000"><tspan letter-spacing="-0.35">Lin</tspan><tspan font-size="5" dy="-2.7" letter-spacing="0">-</tspan><tspan dy="2.7">CD34</tspan><tspan font-size="5.8" dy="-2.7">+</tspan></text>
<rect x="40.1" y="20.5" width="74.50" height="75.80" fill="none" stroke="#111" stroke-width="1.15"/>
<text x="142.30" y="31.70" font-size="7.2" text-anchor="end"><tspan letter-spacing="0.45">1</tspan>0<tspan font-size="4.9" dy="-2.5">5</tspan></text>
<text x="142.30" y="48.50" font-size="7.2" text-anchor="end"><tspan letter-spacing="0.45">1</tspan>0<tspan font-size="4.9" dy="-2.5">4</tspan></text>
<text x="142.30" y="65.70" font-size="7.2" text-anchor="end"><tspan letter-spacing="0.45">1</tspan>0<tspan font-size="4.9" dy="-2.5">3</tspan></text>
<text x="142.30" y="83.90" font-size="7.2" text-anchor="end"><tspan letter-spacing="0.45">1</tspan>0<tspan font-size="4.9" dy="-2.5">2</tspan></text>
<text x="136.30" y="90.70" font-size="7.2" text-anchor="middle">0</text>
<text x="153.70" y="107.90" font-size="7.2" text-anchor="middle">0</text>
<text x="157.10" y="107.90" font-size="7.2"><tspan letter-spacing="0.45">1</tspan>0<tspan font-size="4.9" dy="-2.5">2</tspan></text>
<text x="174.73" y="107.90" font-size="7.2"><tspan letter-spacing="0.45">1</tspan>0<tspan font-size="4.9" dy="-2.5">3</tspan></text>
<text x="191.56" y="107.90" font-size="7.2"><tspan letter-spacing="0.45">1</tspan>0<tspan font-size="4.9" dy="-2.5">4</tspan></text>
<text x="208.39" y="107.90" font-size="7.2"><tspan letter-spacing="0.45">1</tspan>0<tspan font-size="4.9" dy="-2.5">5</tspan></text>
<path d="M145.10 79.70H147.3M164.80 96.3V98.50M145.10 61.50H147.3M181.63 96.3V98.50M145.10 44.30H147.3M198.46 96.3V98.50M145.10 27.50H147.3M215.29 96.3V98.50M145.10 88.30H147.3M154.80 96.3V98.50M146.00 74.22H147.3M169.87 96.3V97.60M146.00 71.02H147.3M172.83 96.3V97.60M146.00 68.74H147.3M174.93 96.3V97.60M146.00 66.98H147.3M176.56 96.3V97.60M146.00 65.54H147.3M177.90 96.3V97.60M146.00 64.32H147.3M179.02 96.3V97.60M146.00 63.26H147.3M180.00 96.3V97.60M146.00 62.33H147.3M180.86 96.3V97.60M146.00 56.32H147.3M186.70 96.3V97.60M146.00 53.29H147.3M189.66 96.3V97.60M146.00 51.14H147.3M191.76 96.3V97.60M146.00 49.48H147.3M193.39 96.3V97.60M146.00 48.12H147.3M194.73 96.3V97.60M146.00 46.96H147.3M195.85 96.3V97.60M146.00 45.97H147.3M196.83 96.3V97.60M146.00 45.09H147.3M197.69 96.3V97.60M146.00 39.24H147.3M203.53 96.3V97.60M146.00 36.28H147.3M206.49 96.3V97.60M146.00 34.19H147.3M208.59 96.3V97.60M146.00 32.56H147.3M210.22 96.3V97.60M146.00 31.23H147.3M211.56 96.3V97.60M146.00 30.10H147.3M212.68 96.3V97.60M146.00 29.13H147.3M213.66 96.3V97.60M146.00 28.27H147.3M214.52 96.3V97.60M146.00 86.15H147.3M157.30 96.3V97.60M146.00 84.00H147.3M159.80 96.3V97.60M146.00 81.85H147.3M162.30 96.3V97.60M146.00 90.35H147.3M152.30 96.3V97.60" stroke="#111" stroke-width="0.9" fill="none"/>
<rect x="168.50" y="44.80" width="29.30" height="21.20" fill="none" stroke="#48516c" stroke-width="1.3"/>
<rect x="168.50" y="67.00" width="29.30" height="25.50" fill="none" stroke="#48516c" stroke-width="1.3"/>
<text x="202.00" y="42.60" font-size="7.3" font-weight="bold" letter-spacing="0.2" stroke="#000" stroke-width="0.15" fill="#000" text-anchor="end">CD34<tspan font-size="5.8" dy="-2.7">+</tspan><tspan dy="2.7">CD38</tspan><tspan font-size="5.8" dy="-2.7">+</tspan></text>
<text x="199.00" y="90.10" font-size="7.3" font-weight="bold" letter-spacing="0.2" stroke="#000" stroke-width="0.15" fill="#000" text-anchor="start">CD34<tspan font-size="5.8" dy="-2.7">+</tspan><tspan dy="2.7">CD38</tspan><tspan font-size="5.8" dy="-2.7">-</tspan></text>
<path d="M205.10 22.00V46.80M205.10 34.30H219.70" stroke="#555" stroke-width="1" fill="none"/>
<text x="207.10" y="31.70" font-size="7.2" text-anchor="start" fill="#222">62.5</text>
<text x="207.10" y="43.50" font-size="7.2" text-anchor="start" fill="#222">29.4</text>
<rect x="147.3" y="20.5" width="74.20" height="75.80" fill="none" stroke="#111" stroke-width="1.15"/>
<text x="265.50" y="31.70" font-size="7.2" text-anchor="end"><tspan letter-spacing="0.45">1</tspan>0<tspan font-size="4.9" dy="-2.5">5</tspan></text>
<text x="265.50" y="48.50" font-size="7.2" text-anchor="end"><tspan letter-spacing="0.45">1</tspan>0<tspan font-size="4.9" dy="-2.5">4</tspan></text>
<text x="265.50" y="65.70" font-size="7.2" text-anchor="end"><tspan letter-spacing="0.45">1</tspan>0<tspan font-size="4.9" dy="-2.5">3</tspan></text>
<text x="265.50" y="83.90" font-size="7.2" text-anchor="end"><tspan letter-spacing="0.45">1</tspan>0<tspan font-size="4.9" dy="-2.5">2</tspan></text>
<text x="259.50" y="90.70" font-size="7.2" text-anchor="middle">0</text>
<text x="276.90" y="107.90" font-size="7.2" text-anchor="middle">0</text>
<text x="280.30" y="107.90" font-size="7.2"><tspan letter-spacing="0.45">1</tspan>0<tspan font-size="4.9" dy="-2.5">2</tspan></text>
<text x="297.93" y="107.90" font-size="7.2"><tspan letter-spacing="0.45">1</tspan>0<tspan font-size="4.9" dy="-2.5">3</tspan></text>
<text x="314.76" y="107.90" font-size="7.2"><tspan letter-spacing="0.45">1</tspan>0<tspan font-size="4.9" dy="-2.5">4</tspan></text>
<text x="331.59" y="107.90" font-size="7.2"><tspan letter-spacing="0.45">1</tspan>0<tspan font-size="4.9" dy="-2.5">5</tspan></text>
<path d="M268.30 79.70H270.5M288.00 96.3V98.50M268.30 61.50H270.5M304.83 96.3V98.50M268.30 44.30H270.5M321.66 96.3V98.50M268.30 27.50H270.5M338.49 96.3V98.50M268.30 88.30H270.5M278.00 96.3V98.50M269.20 74.22H270.5M293.07 96.3V97.60M269.20 71.02H270.5M296.03 96.3V97.60M269.20 68.74H270.5M298.13 96.3V97.60M269.20 66.98H270.5M299.76 96.3V97.60M269.20 65.54H270.5M301.10 96.3V97.60M269.20 64.32H270.5M302.22 96.3V97.60M269.20 63.26H270.5M303.20 96.3V97.60M269.20 62.33H270.5M304.06 96.3V97.60M269.20 56.32H270.5M309.90 96.3V97.60M269.20 53.29H270.5M312.86 96.3V97.60M269.20 51.14H270.5M314.96 96.3V97.60M269.20 49.48H270.5M316.59 96.3V97.60M269.20 48.12H270.5M317.93 96.3V97.60M269.20 46.96H270.5M319.05 96.3V97.60M269.20 45.97H270.5M320.03 96.3V97.60M269.20 45.09H270.5M320.89 96.3V97.60M269.20 39.24H270.5M326.73 96.3V97.60M269.20 36.28H270.5M329.69 96.3V97.60M269.20 34.19H270.5M331.79 96.3V97.60M269.20 32.56H270.5M333.42 96.3V97.60M269.20 31.23H270.5M334.76 96.3V97.60M269.20 30.10H270.5M335.88 96.3V97.60M269.20 29.13H270.5M336.86 96.3V97.60M269.20 28.27H270.5M337.72 96.3V97.60M269.20 86.15H270.5M280.50 96.3V97.60M269.20 84.00H270.5M283.00 96.3V97.60M269.20 81.85H270.5M285.50 96.3V97.60M269.20 90.35H270.5M275.50 96.3V97.60" stroke="#111" stroke-width="0.9" fill="none"/>
<rect x="270.50" y="40.00" width="24.10" height="29.80" fill="none" stroke="#48516c" stroke-width="1.3"/>
<rect x="270.50" y="69.80" width="24.10" height="26.50" fill="none" stroke="#48516c" stroke-width="1.3"/>
<rect x="294.60" y="69.80" width="19.80" height="26.50" fill="none" stroke="#48516c" stroke-width="1.3"/>
<text x="272.90" y="67.10" font-size="7.4" font-weight="bold" letter-spacing="0.5" stroke="#000" stroke-width="0.15" fill="#000" text-anchor="start">HSC</text>
<text x="272.90" y="93.80" font-size="7.4" font-weight="bold" letter-spacing="0.5" stroke="#000" stroke-width="0.15" fill="#000" text-anchor="start">MPP</text>
<text x="296.00" y="93.80" font-size="7.4" font-weight="bold" letter-spacing="0.5" stroke="#000" stroke-width="0.15" fill="#000" text-anchor="start">LMPP</text>
<path d="M330.10 21.80V46.80M314.50 34.30H345.50" stroke="#555" stroke-width="1" fill="none"/>
<text x="328.50" y="31.70" font-size="7.2" text-anchor="end" fill="#222">8.8</text>
<text x="328.50" y="43.50" font-size="7.2" text-anchor="end" fill="#222">17.0</text>
<text x="332.10" y="43.50" font-size="7.2" text-anchor="start" fill="#222">0.3</text>
<rect x="270.5" y="20.5" width="75.60" height="75.80" fill="none" stroke="#111" stroke-width="1.15"/>
<text x="373.40" y="31.70" font-size="7.2" text-anchor="end"><tspan letter-spacing="0.45">1</tspan>0<tspan font-size="4.9" dy="-2.5">5</tspan></text>
<text x="373.40" y="48.50" font-size="7.2" text-anchor="end"><tspan letter-spacing="0.45">1</tspan>0<tspan font-size="4.9" dy="-2.5">4</tspan></text>
<text x="373.40" y="65.70" font-size="7.2" text-anchor="end"><tspan letter-spacing="0.45">1</tspan>0<tspan font-size="4.9" dy="-2.5">3</tspan></text>
<text x="373.40" y="83.90" font-size="7.2" text-anchor="end"><tspan letter-spacing="0.45">1</tspan>0<tspan font-size="4.9" dy="-2.5">2</tspan></text>
<text x="367.40" y="90.70" font-size="7.2" text-anchor="middle">0</text>
<text x="384.80" y="107.90" font-size="7.2" text-anchor="middle">0</text>
<text x="388.20" y="107.90" font-size="7.2"><tspan letter-spacing="0.45">1</tspan>0<tspan font-size="4.9" dy="-2.5">2</tspan></text>
<text x="405.83" y="107.90" font-size="7.2"><tspan letter-spacing="0.45">1</tspan>0<tspan font-size="4.9" dy="-2.5">3</tspan></text>
<text x="422.66" y="107.90" font-size="7.2"><tspan letter-spacing="0.45">1</tspan>0<tspan font-size="4.9" dy="-2.5">4</tspan></text>
<text x="439.49" y="107.90" font-size="7.2"><tspan letter-spacing="0.45">1</tspan>0<tspan font-size="4.9" dy="-2.5">5</tspan></text>
<path d="M376.20 79.70H378.4M395.90 96.3V98.50M376.20 61.50H378.4M412.73 96.3V98.50M376.20 44.30H378.4M429.56 96.3V98.50M376.20 27.50H378.4M446.39 96.3V98.50M376.20 88.30H378.4M385.90 96.3V98.50M377.10 74.22H378.4M400.97 96.3V97.60M377.10 71.02H378.4M403.93 96.3V97.60M377.10 68.74H378.4M406.03 96.3V97.60M377.10 66.98H378.4M407.66 96.3V97.60M377.10 65.54H378.4M409.00 96.3V97.60M377.10 64.32H378.4M410.12 96.3V97.60M377.10 63.26H378.4M411.10 96.3V97.60M377.10 62.33H378.4M411.96 96.3V97.60M377.10 56.32H378.4M417.80 96.3V97.60M377.10 53.29H378.4M420.76 96.3V97.60M377.10 51.14H378.4M422.86 96.3V97.60M377.10 49.48H378.4M424.49 96.3V97.60M377.10 48.12H378.4M425.83 96.3V97.60M377.10 46.96H378.4M426.95 96.3V97.60M377.10 45.97H378.4M427.93 96.3V97.60M377.10 45.09H378.4M428.79 96.3V97.60M377.10 39.24H378.4M434.63 96.3V97.60M377.10 36.28H378.4M437.59 96.3V97.60M377.10 34.19H378.4M439.69 96.3V97.60M377.10 32.56H378.4M441.32 96.3V97.60M377.10 31.23H378.4M442.66 96.3V97.60M377.10 30.10H378.4M443.78 96.3V97.60M377.10 29.13H378.4M444.76 96.3V97.60M377.10 28.27H378.4M445.62 96.3V97.60M377.10 86.15H378.4M388.40 96.3V97.60M377.10 84.00H378.4M390.90 96.3V97.60M377.10 81.85H378.4M393.40 96.3V97.60M377.10 90.35H378.4M383.40 96.3V97.60" stroke="#111" stroke-width="0.9" fill="none"/>
<rect x="378.40" y="47.30" width="22.30" height="26.90" fill="none" stroke="#48516c" stroke-width="1.3"/>
<rect x="400.70" y="47.30" width="27.90" height="26.90" fill="none" stroke="#48516c" stroke-width="1.3"/>
<rect x="378.40" y="74.20" width="22.30" height="22.10" fill="none" stroke="#48516c" stroke-width="1.3"/>
<text x="379.70" y="72.70" font-size="7.4" font-weight="bold" letter-spacing="0.5" stroke="#000" stroke-width="0.15" fill="#000" text-anchor="start">CMP</text>
<text x="406.00" y="72.70" font-size="7.4" font-weight="bold" letter-spacing="0.5" stroke="#000" stroke-width="0.15" fill="#000" text-anchor="start">GMP</text>
<text x="379.70" y="93.70" font-size="7.4" font-weight="bold" letter-spacing="0.5" stroke="#000" stroke-width="0.15" fill="#000" text-anchor="start">MEP</text>
<path d="M437.00 21.80V46.80M421.40 34.30H452.40" stroke="#555" stroke-width="1" fill="none"/>
<text x="435.40" y="31.70" font-size="7.2" text-anchor="end" fill="#222">16.3</text>
<text x="439.00" y="31.70" font-size="7.2" text-anchor="start" fill="#222">13.4</text>
<text x="435.40" y="43.50" font-size="7.2" text-anchor="end" fill="#222">20.0</text>
<rect x="378.4" y="20.5" width="74.60" height="75.80" fill="none" stroke="#111" stroke-width="1.15"/>
<text x="35.10" y="128.80" font-size="7.2" text-anchor="end"><tspan letter-spacing="0.45">1</tspan>0<tspan font-size="4.9" dy="-2.5">5</tspan></text>
<text x="35.10" y="145.60" font-size="7.2" text-anchor="end"><tspan letter-spacing="0.45">1</tspan>0<tspan font-size="4.9" dy="-2.5">4</tspan></text>
<text x="35.10" y="162.80" font-size="7.2" text-anchor="end"><tspan letter-spacing="0.45">1</tspan>0<tspan font-size="4.9" dy="-2.5">3</tspan></text>
<text x="35.10" y="181.00" font-size="7.2" text-anchor="end"><tspan letter-spacing="0.45">1</tspan>0<tspan font-size="4.9" dy="-2.5">2</tspan></text>
<text x="29.10" y="187.80" font-size="7.2" text-anchor="middle">0</text>
<text x="46.50" y="205.00" font-size="7.2" text-anchor="middle">0</text>
<text x="49.90" y="205.00" font-size="7.2"><tspan letter-spacing="0.45">1</tspan>0<tspan font-size="4.9" dy="-2.5">2</tspan></text>
<text x="67.53" y="205.00" font-size="7.2"><tspan letter-spacing="0.45">1</tspan>0<tspan font-size="4.9" dy="-2.5">3</tspan></text>
<text x="84.36" y="205.00" font-size="7.2"><tspan letter-spacing="0.45">1</tspan>0<tspan font-size="4.9" dy="-2.5">4</tspan></text>
<text x="101.19" y="205.00" font-size="7.2"><tspan letter-spacing="0.45">1</tspan>0<tspan font-size="4.9" dy="-2.5">5</tspan></text>
<path d="M37.90 176.80H40.1M57.60 193.4V195.60M37.90 158.60H40.1M74.43 193.4V195.60M37.90 141.40H40.1M91.26 193.4V195.60M37.90 124.60H40.1M108.09 193.4V195.60M37.90 185.40H40.1M47.60 193.4V195.60M38.80 171.32H40.1M62.67 193.4V194.70M38.80 168.12H40.1M65.63 193.4V194.70M38.80 165.84H40.1M67.73 193.4V194.70M38.80 164.08H40.1M69.36 193.4V194.70M38.80 162.64H40.1M70.70 193.4V194.70M38.80 161.42H40.1M71.82 193.4V194.70M38.80 160.36H40.1M72.80 193.4V194.70M38.80 159.43H40.1M73.66 193.4V194.70M38.80 153.42H40.1M79.50 193.4V194.70M38.80 150.39H40.1M82.46 193.4V194.70M38.80 148.24H40.1M84.56 193.4V194.70M38.80 146.58H40.1M86.19 193.4V194.70M38.80 145.22H40.1M87.53 193.4V194.70M38.80 144.06H40.1M88.65 193.4V194.70M38.80 143.07H40.1M89.63 193.4V194.70M38.80 142.19H40.1M90.49 193.4V194.70M38.80 136.34H40.1M96.33 193.4V194.70M38.80 133.38H40.1M99.29 193.4V194.70M38.80 131.29H40.1M101.39 193.4V194.70M38.80 129.66H40.1M103.02 193.4V194.70M38.80 128.33H40.1M104.36 193.4V194.70M38.80 127.20H40.1M105.48 193.4V194.70M38.80 126.23H40.1M106.46 193.4V194.70M38.80 125.37H40.1M107.32 193.4V194.70M38.80 183.25H40.1M50.10 193.4V194.70M38.80 181.10H40.1M52.60 193.4V194.70M38.80 178.95H40.1M55.10 193.4V194.70M38.80 187.45H40.1M45.10 193.4V194.70" stroke="#111" stroke-width="0.9" fill="none"/>
<rect x="42.20" y="146.50" width="24.30" height="22.00" fill="none" stroke="#48516c" stroke-width="1.3"/>
<text x="42.30" y="144.20" font-size="7.3" font-weight="bold" letter-spacing="0.2" stroke="#000" stroke-width="0.15" fill="#000"><tspan letter-spacing="-0.35">Lin</tspan><tspan font-size="5" dy="-2.7" letter-spacing="0">-</tspan><tspan dy="2.7">CD34</tspan><tspan font-size="5.8" dy="-2.7">+</tspan></text>
<rect x="40.1" y="117.7" width="74.50" height="75.70" fill="none" stroke="#111" stroke-width="1.15"/>
<text x="142.30" y="128.80" font-size="7.2" text-anchor="end"><tspan letter-spacing="0.45">1</tspan>0<tspan font-size="4.9" dy="-2.5">5</tspan></text>
<text x="142.30" y="145.60" font-size="7.2" text-anchor="end"><tspan letter-spacing="0.45">1</tspan>0<tspan font-size="4.9" dy="-2.5">4</tspan></text>
<text x="142.30" y="162.80" font-size="7.2" text-anchor="end"><tspan letter-spacing="0.45">1</tspan>0<tspan font-size="4.9" dy="-2.5">3</tspan></text>
<text x="142.30" y="181.00" font-size="7.2" text-anchor="end"><tspan letter-spacing="0.45">1</tspan>0<tspan font-size="4.9" dy="-2.5">2</tspan></text>
<text x="136.30" y="187.80" font-size="7.2" text-anchor="middle">0</text>
<text x="153.70" y="205.00" font-size="7.2" text-anchor="middle">0</text>
<text x="157.10" y="205.00" font-size="7.2"><tspan letter-spacing="0.45">1</tspan>0<tspan font-size="4.9" dy="-2.5">2</tspan></text>
<text x="174.73" y="205.00" font-size="7.2"><tspan letter-spacing="0.45">1</tspan>0<tspan font-size="4.9" dy="-2.5">3</tspan></text>
<text x="191.56" y="205.00" font-size="7.2"><tspan letter-spacing="0.45">1</tspan>0<tspan font-size="4.9" dy="-2.5">4</tspan></text>
<text x="208.39" y="205.00" font-size="7.2"><tspan letter-spacing="0.45">1</tspan>0<tspan font-size="4.9" dy="-2.5">5</tspan></text>
<path d="M145.10 176.80H147.3M164.80 193.4V195.60M145.10 158.60H147.3M181.63 193.4V195.60M145.10 141.40H147.3M198.46 193.4V195.60M145.10 124.60H147.3M215.29 193.4V195.60M145.10 185.40H147.3M154.80 193.4V195.60M146.00 171.32H147.3M169.87 193.4V194.70M146.00 168.12H147.3M172.83 193.4V194.70M146.00 165.84H147.3M174.93 193.4V194.70M146.00 164.08H147.3M176.56 193.4V194.70M146.00 162.64H147.3M177.90 193.4V194.70M146.00 161.42H147.3M179.02 193.4V194.70M146.00 160.36H147.3M180.00 193.4V194.70M146.00 159.43H147.3M180.86 193.4V194.70M146.00 153.42H147.3M186.70 193.4V194.70M146.00 150.39H147.3M189.66 193.4V194.70M146.00 148.24H147.3M191.76 193.4V194.70M146.00 146.58H147.3M193.39 193.4V194.70M146.00 145.22H147.3M194.73 193.4V194.70M146.00 144.06H147.3M195.85 193.4V194.70M146.00 143.07H147.3M196.83 193.4V194.70M146.00 142.19H147.3M197.69 193.4V194.70M146.00 136.34H147.3M203.53 193.4V194.70M146.00 133.38H147.3M206.49 193.4V194.70M146.00 131.29H147.3M208.59 193.4V194.70M146.00 129.66H147.3M210.22 193.4V194.70M146.00 128.33H147.3M211.56 193.4V194.70M146.00 127.20H147.3M212.68 193.4V194.70M146.00 126.23H147.3M213.66 193.4V194.70M146.00 125.37H147.3M214.52 193.4V194.70M146.00 183.25H147.3M157.30 193.4V194.70M146.00 181.10H147.3M159.80 193.4V194.70M146.00 178.95H147.3M162.30 193.4V194.70M146.00 187.45H147.3M152.30 193.4V194.70" stroke="#111" stroke-width="0.9" fill="none"/>
<rect x="167.60" y="146.10" width="26.60" height="27.10" fill="none" stroke="#48516c" stroke-width="1.3"/>
<rect x="167.60" y="174.60" width="26.60" height="15.80" fill="none" stroke="#48516c" stroke-width="1.3"/>
<text x="204.30" y="142.40" font-size="7.3" font-weight="bold" letter-spacing="0.2" stroke="#000" stroke-width="0.15" fill="#000" text-anchor="end">CD34<tspan font-size="5.8" dy="-2.7">+</tspan><tspan dy="2.7">CD38</tspan><tspan font-size="5.8" dy="-2.7">+</tspan></text>
<text x="199.00" y="188.00" font-size="7.3" font-weight="bold" letter-spacing="0.2" stroke="#000" stroke-width="0.15" fill="#000" text-anchor="start">CD34<tspan font-size="5.8" dy="-2.7">+</tspan><tspan dy="2.7">CD38</tspan><tspan font-size="5.8" dy="-2.7">-</tspan></text>
<path d="M205.10 119.20V144.00M205.10 131.20H219.70" stroke="#555" stroke-width="1" fill="none"/>
<text x="207.10" y="128.60" font-size="7.2" text-anchor="start" fill="#222">71.5</text>
<text x="207.10" y="140.60" font-size="7.2" text-anchor="start" fill="#222">8.9</text>
<rect x="147.3" y="117.7" width="74.20" height="75.70" fill="none" stroke="#111" stroke-width="1.15"/>
<text x="265.50" y="128.80" font-size="7.2" text-anchor="end"><tspan letter-spacing="0.45">1</tspan>0<tspan font-size="4.9" dy="-2.5">5</tspan></text>
<text x="265.50" y="145.60" font-size="7.2" text-anchor="end"><tspan letter-spacing="0.45">1</tspan>0<tspan font-size="4.9" dy="-2.5">4</tspan></text>
<text x="265.50" y="162.80" font-size="7.2" text-anchor="end"><tspan letter-spacing="0.45">1</tspan>0<tspan font-size="4.9" dy="-2.5">3</tspan></text>
<text x="265.50" y="181.00" font-size="7.2" text-anchor="end"><tspan letter-spacing="0.45">1</tspan>0<tspan font-size="4.9" dy="-2.5">2</tspan></text>
<text x="259.50" y="187.80" font-size="7.2" text-anchor="middle">0</text>
<text x="276.90" y="205.00" font-size="7.2" text-anchor="middle">0</text>
<text x="280.30" y="205.00" font-size="7.2"><tspan letter-spacing="0.45">1</tspan>0<tspan font-size="4.9" dy="-2.5">2</tspan></text>
<text x="297.93" y="205.00" font-size="7.2"><tspan letter-spacing="0.45">1</tspan>0<tspan font-size="4.9" dy="-2.5">3</tspan></text>
<text x="314.76" y="205.00" font-size="7.2"><tspan letter-spacing="0.45">1</tspan>0<tspan font-size="4.9" dy="-2.5">4</tspan></text>
<text x="331.59" y="205.00" font-size="7.2"><tspan letter-spacing="0.45">1</tspan>0<tspan font-size="4.9" dy="-2.5">5</tspan></text>
<path d="M268.30 176.80H270.5M288.00 193.4V195.60M268.30 158.60H270.5M304.83 193.4V195.60M268.30 141.40H270.5M321.66 193.4V195.60M268.30 124.60H270.5M338.49 193.4V195.60M268.30 185.40H270.5M278.00 193.4V195.60M269.20 171.32H270.5M293.07 193.4V194.70M269.20 168.12H270.5M296.03 193.4V194.70M269.20 165.84H270.5M298.13 193.4V194.70M269.20 164.08H270.5M299.76 193.4V194.70M269.20 162.64H270.5M301.10 193.4V194.70M269.20 161.42H270.5M302.22 193.4V194.70M269.20 160.36H270.5M303.20 193.4V194.70M269.20 159.43H270.5M304.06 193.4V194.70M269.20 153.42H270.5M309.90 193.4V194.70M269.20 150.39H270.5M312.86 193.4V194.70M269.20 148.24H270.5M314.96 193.4V194.70M269.20 146.58H270.5M316.59 193.4V194.70M269.20 145.22H270.5M317.93 193.4V194.70M269.20 144.06H270.5M319.05 193.4V194.70M269.20 143.07H270.5M320.03 193.4V194.70M269.20 142.19H270.5M320.89 193.4V194.70M269.20 136.34H270.5M326.73 193.4V194.70M269.20 133.38H270.5M329.69 193.4V194.70M269.20 131.29H270.5M331.79 193.4V194.70M269.20 129.66H270.5M333.42 193.4V194.70M269.20 128.33H270.5M334.76 193.4V194.70M269.20 127.20H270.5M335.88 193.4V194.70M269.20 126.23H270.5M336.86 193.4V194.70M269.20 125.37H270.5M337.72 193.4V194.70M269.20 183.25H270.5M280.50 193.4V194.70M269.20 181.10H270.5M283.00 193.4V194.70M269.20 178.95H270.5M285.50 193.4V194.70M269.20 187.45H270.5M275.50 193.4V194.70" stroke="#111" stroke-width="0.9" fill="none"/>
<rect x="270.50" y="141.70" width="27.00" height="27.50" fill="none" stroke="#48516c" stroke-width="1.3"/>
<rect x="270.50" y="169.20" width="27.00" height="24.20" fill="none" stroke="#48516c" stroke-width="1.3"/>
<rect x="297.50" y="169.20" width="26.20" height="24.20" fill="none" stroke="#48516c" stroke-width="1.3"/>
<text x="272.90" y="166.50" font-size="7.4" font-weight="bold" letter-spacing="0.5" stroke="#000" stroke-width="0.15" fill="#000" text-anchor="start">HSC</text>
<text x="272.90" y="190.90" font-size="7.4" font-weight="bold" letter-spacing="0.5" stroke="#000" stroke-width="0.15" fill="#000" text-anchor="start">MPP</text>
<text x="298.90" y="190.90" font-size="7.4" font-weight="bold" letter-spacing="0.5" stroke="#000" stroke-width="0.15" fill="#000" text-anchor="start">LMPP</text>
<path d="M330.10 119.00V144.00M314.50 131.20H345.50" stroke="#555" stroke-width="1" fill="none"/>
<text x="328.50" y="128.60" font-size="7.2" text-anchor="end" fill="#222">5.0</text>
<text x="328.50" y="140.60" font-size="7.2" text-anchor="end" fill="#222">3.8</text>
<text x="332.10" y="140.60" font-size="7.2" text-anchor="start" fill="#222">0.4</text>
<rect x="270.5" y="117.7" width="75.60" height="75.70" fill="none" stroke="#111" stroke-width="1.15"/>
<text x="373.40" y="128.80" font-size="7.2" text-anchor="end"><tspan letter-spacing="0.45">1</tspan>0<tspan font-size="4.9" dy="-2.5">5</tspan></text>
<text x="373.40" y="145.60" font-size="7.2" text-anchor="end"><tspan letter-spacing="0.45">1</tspan>0<tspan font-size="4.9" dy="-2.5">4</tspan></text>
<text x="373.40" y="162.80" font-size="7.2" text-anchor="end"><tspan letter-spacing="0.45">1</tspan>0<tspan font-size="4.9" dy="-2.5">3</tspan></text>
<text x="373.40" y="181.00" font-size="7.2" text-anchor="end"><tspan letter-spacing="0.45">1</tspan>0<tspan font-size="4.9" dy="-2.5">2</tspan></text>
<text x="367.40" y="187.80" font-size="7.2" text-anchor="middle">0</text>
<text x="384.80" y="205.00" font-size="7.2" text-anchor="middle">0</text>
<text x="388.20" y="205.00" font-size="7.2"><tspan letter-spacing="0.45">1</tspan>0<tspan font-size="4.9" dy="-2.5">2</tspan></text>
<text x="405.83" y="205.00" font-size="7.2"><tspan letter-spacing="0.45">1</tspan>0<tspan font-size="4.9" dy="-2.5">3</tspan></text>
<text x="422.66" y="205.00" font-size="7.2"><tspan letter-spacing="0.45">1</tspan>0<tspan font-size="4.9" dy="-2.5">4</tspan></text>
<text x="439.49" y="205.00" font-size="7.2"><tspan letter-spacing="0.45">1</tspan>0<tspan font-size="4.9" dy="-2.5">5</tspan></text>
<path d="M376.20 176.80H378.4M395.90 193.4V195.60M376.20 158.60H378.4M412.73 193.4V195.60M376.20 141.40H378.4M429.56 193.4V195.60M376.20 124.60H378.4M446.39 193.4V195.60M376.20 185.40H378.4M385.90 193.4V195.60M377.10 171.32H378.4M400.97 193.4V194.70M377.10 168.12H378.4M403.93 193.4V194.70M377.10 165.84H378.4M406.03 193.4V194.70M377.10 164.08H378.4M407.66 193.4V194.70M377.10 162.64H378.4M409.00 193.4V194.70M377.10 161.42H378.4M410.12 193.4V194.70M377.10 160.36H378.4M411.10 193.4V194.70M377.10 159.43H378.4M411.96 193.4V194.70M377.10 153.42H378.4M417.80 193.4V194.70M377.10 150.39H378.4M420.76 193.4V194.70M377.10 148.24H378.4M422.86 193.4V194.70M377.10 146.58H378.4M424.49 193.4V194.70M377.10 145.22H378.4M425.83 193.4V194.70M377.10 144.06H378.4M426.95 193.4V194.70M377.10 143.07H378.4M427.93 193.4V194.70M377.10 142.19H378.4M428.79 193.4V194.70M377.10 136.34H378.4M434.63 193.4V194.70M377.10 133.38H378.4M437.59 193.4V194.70M377.10 131.29H378.4M439.69 193.4V194.70M377.10 129.66H378.4M441.32 193.4V194.70M377.10 128.33H378.4M442.66 193.4V194.70M377.10 127.20H378.4M443.78 193.4V194.70M377.10 126.23H378.4M444.76 193.4V194.70M377.10 125.37H378.4M445.62 193.4V194.70M377.10 183.25H378.4M388.40 193.4V194.70M377.10 181.10H378.4M390.90 193.4V194.70M377.10 178.95H378.4M393.40 193.4V194.70M377.10 187.45H378.4M383.40 193.4V194.70" stroke="#111" stroke-width="0.9" fill="none"/>
<rect x="378.40" y="141.70" width="22.60" height="30.10" fill="none" stroke="#48516c" stroke-width="1.3"/>
<rect x="401.00" y="141.70" width="26.50" height="30.10" fill="none" stroke="#48516c" stroke-width="1.3"/>
<rect x="378.40" y="171.80" width="22.60" height="21.60" fill="none" stroke="#48516c" stroke-width="1.3"/>
<text x="379.70" y="170.30" font-size="7.4" font-weight="bold" letter-spacing="0.5" stroke="#000" stroke-width="0.15" fill="#000" text-anchor="start">CMP</text>
<text x="406.30" y="170.30" font-size="7.4" font-weight="bold" letter-spacing="0.5" stroke="#000" stroke-width="0.15" fill="#000" text-anchor="start">GMP</text>
<text x="379.70" y="190.80" font-size="7.4" font-weight="bold" letter-spacing="0.5" stroke="#000" stroke-width="0.15" fill="#000" text-anchor="start">MEP</text>
<path d="M437.00 119.00V144.00M421.40 131.20H452.40" stroke="#555" stroke-width="1" fill="none"/>
<text x="435.40" y="128.60" font-size="7.2" text-anchor="end" fill="#222">10.9</text>
<text x="439.00" y="128.60" font-size="7.2" text-anchor="start" fill="#222">8.8</text>
<text x="435.40" y="140.60" font-size="7.2" text-anchor="end" fill="#222">51.9</text>
<rect x="378.4" y="117.7" width="74.60" height="75.70" fill="none" stroke="#111" stroke-width="1.15"/>
<text x="33.30" y="226.90" font-size="7.2" text-anchor="end"><tspan letter-spacing="0.45">1</tspan>0<tspan font-size="4.9" dy="-2.5">4</tspan></text>
<text x="33.30" y="244.90" font-size="7.2" text-anchor="end"><tspan letter-spacing="0.45">1</tspan>0<tspan font-size="4.9" dy="-2.5">3</tspan></text>
<text x="33.30" y="262.90" font-size="7.2" text-anchor="end"><tspan letter-spacing="0.45">1</tspan>0<tspan font-size="4.9" dy="-2.5">2</tspan></text>
<text x="33.30" y="280.90" font-size="7.2" text-anchor="end"><tspan letter-spacing="0.45">1</tspan>0<tspan font-size="4.9" dy="-2.5">1</tspan></text>
<text x="33.30" y="298.90" font-size="7.2" text-anchor="end"><tspan letter-spacing="0.45">1</tspan>0<tspan font-size="4.9" dy="-2.5">0</tspan></text>
<text x="33.60" y="306.80" font-size="7.2"><tspan letter-spacing="0.45">1</tspan>0<tspan font-size="4.9" dy="-2.5">0</tspan></text>
<text x="51.35" y="306.80" font-size="7.2"><tspan letter-spacing="0.45">1</tspan>0<tspan font-size="4.9" dy="-2.5">1</tspan></text>
<text x="69.10" y="306.80" font-size="7.2"><tspan letter-spacing="0.45">1</tspan>0<tspan font-size="4.9" dy="-2.5">2</tspan></text>
<text x="86.85" y="306.80" font-size="7.2"><tspan letter-spacing="0.45">1</tspan>0<tspan font-size="4.9" dy="-2.5">3</tspan></text>
<text x="104.60" y="306.80" font-size="7.2"><tspan letter-spacing="0.45">1</tspan>0<tspan font-size="4.9" dy="-2.5">4</tspan></text>
<path d="M37.10 294.50H39.3M39.30 294.5V296.70M38.00 289.08H39.3M44.64 294.5V295.80M38.00 285.91H39.3M47.77 294.5V295.80M38.00 283.66H39.3M49.99 294.5V295.80M38.00 281.92H39.3M51.71 294.5V295.80M38.00 280.49H39.3M53.11 294.5V295.80M38.00 279.29H39.3M54.30 294.5V295.80M38.00 278.24H39.3M55.33 294.5V295.80M38.00 277.32H39.3M56.24 294.5V295.80M37.10 276.50H39.3M57.05 294.5V296.70M38.00 271.08H39.3M62.39 294.5V295.80M38.00 267.91H39.3M65.52 294.5V295.80M38.00 265.66H39.3M67.74 294.5V295.80M38.00 263.92H39.3M69.46 294.5V295.80M38.00 262.49H39.3M70.86 294.5V295.80M38.00 261.29H39.3M72.05 294.5V295.80M38.00 260.24H39.3M73.08 294.5V295.80M38.00 259.32H39.3M73.99 294.5V295.80M37.10 258.50H39.3M74.80 294.5V296.70M38.00 253.08H39.3M80.14 294.5V295.80M38.00 249.91H39.3M83.27 294.5V295.80M38.00 247.66H39.3M85.49 294.5V295.80M38.00 245.92H39.3M87.21 294.5V295.80M38.00 244.49H39.3M88.61 294.5V295.80M38.00 243.29H39.3M89.80 294.5V295.80M38.00 242.24H39.3M90.83 294.5V295.80M38.00 241.32H39.3M91.74 294.5V295.80M37.10 240.50H39.3M92.55 294.5V296.70M38.00 235.08H39.3M97.89 294.5V295.80M38.00 231.91H39.3M101.02 294.5V295.80M38.00 229.66H39.3M103.24 294.5V295.80M38.00 227.92H39.3M104.96 294.5V295.80M38.00 226.49H39.3M106.36 294.5V295.80M38.00 225.29H39.3M107.55 294.5V295.80M38.00 224.24H39.3M108.58 294.5V295.80M38.00 223.32H39.3M109.49 294.5V295.80M37.10 222.50H39.3M110.30 294.5V296.70" stroke="#111" stroke-width="0.9" fill="none"/>
<rect x="40.20" y="246.00" width="20.80" height="26.00" fill="none" stroke="#48516c" stroke-width="1.3"/>
<text x="40.30" y="243.70" font-size="7.3" font-weight="bold" letter-spacing="0.2" stroke="#000" stroke-width="0.15" fill="#000"><tspan letter-spacing="-0.35">Lin</tspan><tspan font-size="5" dy="-2.7" letter-spacing="0">-</tspan><tspan dy="2.7">CD34</tspan><tspan font-size="5.8" dy="-2.7">+</tspan></text>
<rect x="39.3" y="222.0" width="75.80" height="72.50" fill="none" stroke="#111" stroke-width="1.15"/>
<text x="141.00" y="226.90" font-size="7.2" text-anchor="end"><tspan letter-spacing="0.45">1</tspan>0<tspan font-size="4.9" dy="-2.5">4</tspan></text>
<text x="141.00" y="244.90" font-size="7.2" text-anchor="end"><tspan letter-spacing="0.45">1</tspan>0<tspan font-size="4.9" dy="-2.5">3</tspan></text>
<text x="141.00" y="262.90" font-size="7.2" text-anchor="end"><tspan letter-spacing="0.45">1</tspan>0<tspan font-size="4.9" dy="-2.5">2</tspan></text>
<text x="141.00" y="280.90" font-size="7.2" text-anchor="end"><tspan letter-spacing="0.45">1</tspan>0<tspan font-size="4.9" dy="-2.5">1</tspan></text>
<text x="141.00" y="298.90" font-size="7.2" text-anchor="end"><tspan letter-spacing="0.45">1</tspan>0<tspan font-size="4.9" dy="-2.5">0</tspan></text>
<text x="141.30" y="306.80" font-size="7.2"><tspan letter-spacing="0.45">1</tspan>0<tspan font-size="4.9" dy="-2.5">0</tspan></text>
<text x="159.05" y="306.80" font-size="7.2"><tspan letter-spacing="0.45">1</tspan>0<tspan font-size="4.9" dy="-2.5">1</tspan></text>
<text x="176.80" y="306.80" font-size="7.2"><tspan letter-spacing="0.45">1</tspan>0<tspan font-size="4.9" dy="-2.5">2</tspan></text>
<text x="194.55" y="306.80" font-size="7.2"><tspan letter-spacing="0.45">1</tspan>0<tspan font-size="4.9" dy="-2.5">3</tspan></text>
<text x="212.30" y="306.80" font-size="7.2"><tspan letter-spacing="0.45">1</tspan>0<tspan font-size="4.9" dy="-2.5">4</tspan></text>
<path d="M144.80 294.50H147.0M147.00 294.5V296.70M145.70 289.08H147.0M152.34 294.5V295.80M145.70 285.91H147.0M155.47 294.5V295.80M145.70 283.66H147.0M157.69 294.5V295.80M145.70 281.92H147.0M159.41 294.5V295.80M145.70 280.49H147.0M160.81 294.5V295.80M145.70 279.29H147.0M162.00 294.5V295.80M145.70 278.24H147.0M163.03 294.5V295.80M145.70 277.32H147.0M163.94 294.5V295.80M144.80 276.50H147.0M164.75 294.5V296.70M145.70 271.08H147.0M170.09 294.5V295.80M145.70 267.91H147.0M173.22 294.5V295.80M145.70 265.66H147.0M175.44 294.5V295.80M145.70 263.92H147.0M177.16 294.5V295.80M145.70 262.49H147.0M178.56 294.5V295.80M145.70 261.29H147.0M179.75 294.5V295.80M145.70 260.24H147.0M180.78 294.5V295.80M145.70 259.32H147.0M181.69 294.5V295.80M144.80 258.50H147.0M182.50 294.5V296.70M145.70 253.08H147.0M187.84 294.5V295.80M145.70 249.91H147.0M190.97 294.5V295.80M145.70 247.66H147.0M193.19 294.5V295.80M145.70 245.92H147.0M194.91 294.5V295.80M145.70 244.49H147.0M196.31 294.5V295.80M145.70 243.29H147.0M197.50 294.5V295.80M145.70 242.24H147.0M198.53 294.5V295.80M145.70 241.32H147.0M199.44 294.5V295.80M144.80 240.50H147.0M200.25 294.5V296.70M145.70 235.08H147.0M205.59 294.5V295.80M145.70 231.91H147.0M208.72 294.5V295.80M145.70 229.66H147.0M210.94 294.5V295.80M145.70 227.92H147.0M212.66 294.5V295.80M145.70 226.49H147.0M214.06 294.5V295.80M145.70 225.29H147.0M215.25 294.5V295.80M145.70 224.24H147.0M216.28 294.5V295.80M145.70 223.32H147.0M217.19 294.5V295.80M144.80 222.50H147.0M218.00 294.5V296.70" stroke="#111" stroke-width="0.9" fill="none"/>
<rect x="165.20" y="236.20" width="33.40" height="29.80" fill="none" stroke="#48516c" stroke-width="1.3"/>
<rect x="165.20" y="267.00" width="33.40" height="26.50" fill="none" stroke="#48516c" stroke-width="1.3"/>
<text x="205.00" y="234.40" font-size="7.3" font-weight="bold" letter-spacing="0.2" stroke="#000" stroke-width="0.15" fill="#000" text-anchor="end">CD34<tspan font-size="5.8" dy="-2.7">+</tspan><tspan dy="2.7">CD38</tspan><tspan font-size="5.8" dy="-2.7">+</tspan></text>
<text x="199.00" y="291.10" font-size="7.3" font-weight="bold" letter-spacing="0.2" stroke="#000" stroke-width="0.15" fill="#000" text-anchor="start">CD34<tspan font-size="5.8" dy="-2.7">+</tspan><tspan dy="2.7">CD38</tspan><tspan font-size="5.8" dy="-2.7">-</tspan></text>
<path d="M204.80 223.50V248.30M204.80 235.80H219.80" stroke="#555" stroke-width="1" fill="none"/>
<text x="206.80" y="233.10" font-size="7.2" text-anchor="start" fill="#222">79.6</text>
<text x="206.80" y="244.40" font-size="7.2" text-anchor="start" fill="#222">11.2</text>
<rect x="147.0" y="222.0" width="74.60" height="72.50" fill="none" stroke="#111" stroke-width="1.15"/>
<text x="266.50" y="226.90" font-size="7.2" text-anchor="end"><tspan letter-spacing="0.45">1</tspan>0<tspan font-size="4.9" dy="-2.5">4</tspan></text>
<text x="266.50" y="244.90" font-size="7.2" text-anchor="end"><tspan letter-spacing="0.45">1</tspan>0<tspan font-size="4.9" dy="-2.5">3</tspan></text>
<text x="266.50" y="262.90" font-size="7.2" text-anchor="end"><tspan letter-spacing="0.45">1</tspan>0<tspan font-size="4.9" dy="-2.5">2</tspan></text>
<text x="266.50" y="280.90" font-size="7.2" text-anchor="end"><tspan letter-spacing="0.45">1</tspan>0<tspan font-size="4.9" dy="-2.5">1</tspan></text>
<text x="266.50" y="298.90" font-size="7.2" text-anchor="end"><tspan letter-spacing="0.45">1</tspan>0<tspan font-size="4.9" dy="-2.5">0</tspan></text>
<text x="266.80" y="306.80" font-size="7.2"><tspan letter-spacing="0.45">1</tspan>0<tspan font-size="4.9" dy="-2.5">0</tspan></text>
<text x="284.55" y="306.80" font-size="7.2"><tspan letter-spacing="0.45">1</tspan>0<tspan font-size="4.9" dy="-2.5">1</tspan></text>
<text x="302.30" y="306.80" font-size="7.2"><tspan letter-spacing="0.45">1</tspan>0<tspan font-size="4.9" dy="-2.5">2</tspan></text>
<text x="320.05" y="306.80" font-size="7.2"><tspan letter-spacing="0.45">1</tspan>0<tspan font-size="4.9" dy="-2.5">3</tspan></text>
<text x="337.80" y="306.80" font-size="7.2"><tspan letter-spacing="0.45">1</tspan>0<tspan font-size="4.9" dy="-2.5">4</tspan></text>
<path d="M270.30 294.50H272.5M272.50 294.5V296.70M271.20 289.08H272.5M277.84 294.5V295.80M271.20 285.91H272.5M280.97 294.5V295.80M271.20 283.66H272.5M283.19 294.5V295.80M271.20 281.92H272.5M284.91 294.5V295.80M271.20 280.49H272.5M286.31 294.5V295.80M271.20 279.29H272.5M287.50 294.5V295.80M271.20 278.24H272.5M288.53 294.5V295.80M271.20 277.32H272.5M289.44 294.5V295.80M270.30 276.50H272.5M290.25 294.5V296.70M271.20 271.08H272.5M295.59 294.5V295.80M271.20 267.91H272.5M298.72 294.5V295.80M271.20 265.66H272.5M300.94 294.5V295.80M271.20 263.92H272.5M302.66 294.5V295.80M271.20 262.49H272.5M304.06 294.5V295.80M271.20 261.29H272.5M305.25 294.5V295.80M271.20 260.24H272.5M306.28 294.5V295.80M271.20 259.32H272.5M307.19 294.5V295.80M270.30 258.50H272.5M308.00 294.5V296.70M271.20 253.08H272.5M313.34 294.5V295.80M271.20 249.91H272.5M316.47 294.5V295.80M271.20 247.66H272.5M318.69 294.5V295.80M271.20 245.92H272.5M320.41 294.5V295.80M271.20 244.49H272.5M321.81 294.5V295.80M271.20 243.29H272.5M323.00 294.5V295.80M271.20 242.24H272.5M324.03 294.5V295.80M271.20 241.32H272.5M324.94 294.5V295.80M270.30 240.50H272.5M325.75 294.5V296.70M271.20 235.08H272.5M331.09 294.5V295.80M271.20 231.91H272.5M334.22 294.5V295.80M271.20 229.66H272.5M336.44 294.5V295.80M271.20 227.92H272.5M338.16 294.5V295.80M271.20 226.49H272.5M339.56 294.5V295.80M271.20 225.29H272.5M340.75 294.5V295.80M271.20 224.24H272.5M341.78 294.5V295.80M271.20 223.32H272.5M342.69 294.5V295.80M270.30 222.50H272.5M343.50 294.5V296.70" stroke="#111" stroke-width="0.9" fill="none"/>
<rect x="272.50" y="253.60" width="24.00" height="27.20" fill="none" stroke="#48516c" stroke-width="1.3"/>
<rect x="272.50" y="280.80" width="24.00" height="13.70" fill="none" stroke="#48516c" stroke-width="1.3"/>
<rect x="296.50" y="280.80" width="21.80" height="13.70" fill="none" stroke="#48516c" stroke-width="1.3"/>
<text x="274.90" y="278.10" font-size="7.4" font-weight="bold" letter-spacing="0.5" stroke="#000" stroke-width="0.15" fill="#000" text-anchor="start">HSC</text>
<text x="274.90" y="292.00" font-size="7.4" font-weight="bold" letter-spacing="0.5" stroke="#000" stroke-width="0.15" fill="#000" text-anchor="start">MPP</text>
<text x="297.90" y="292.00" font-size="7.4" font-weight="bold" letter-spacing="0.5" stroke="#000" stroke-width="0.15" fill="#000" text-anchor="start">LMPP</text>
<path d="M332.10 223.30V248.30M316.50 235.80H343.80" stroke="#555" stroke-width="1" fill="none"/>
<text x="330.50" y="233.10" font-size="7.2" text-anchor="end" fill="#222">3.2</text>
<text x="330.50" y="244.40" font-size="7.2" text-anchor="end" fill="#222">7.8</text>
<text x="334.10" y="244.40" font-size="7.2" text-anchor="start" fill="#222">0.3</text>
<rect x="272.5" y="222.0" width="71.90" height="72.50" fill="none" stroke="#111" stroke-width="1.15"/>
<text x="371.70" y="226.90" font-size="7.2" text-anchor="end"><tspan letter-spacing="0.45">1</tspan>0<tspan font-size="4.9" dy="-2.5">4</tspan></text>
<text x="371.70" y="244.90" font-size="7.2" text-anchor="end"><tspan letter-spacing="0.45">1</tspan>0<tspan font-size="4.9" dy="-2.5">3</tspan></text>
<text x="371.70" y="262.90" font-size="7.2" text-anchor="end"><tspan letter-spacing="0.45">1</tspan>0<tspan font-size="4.9" dy="-2.5">2</tspan></text>
<text x="371.70" y="280.90" font-size="7.2" text-anchor="end"><tspan letter-spacing="0.45">1</tspan>0<tspan font-size="4.9" dy="-2.5">1</tspan></text>
<text x="371.70" y="298.90" font-size="7.2" text-anchor="end"><tspan letter-spacing="0.45">1</tspan>0<tspan font-size="4.9" dy="-2.5">0</tspan></text>
<text x="372.00" y="306.80" font-size="7.2"><tspan letter-spacing="0.45">1</tspan>0<tspan font-size="4.9" dy="-2.5">0</tspan></text>
<text x="389.75" y="306.80" font-size="7.2"><tspan letter-spacing="0.45">1</tspan>0<tspan font-size="4.9" dy="-2.5">1</tspan></text>
<text x="407.50" y="306.80" font-size="7.2"><tspan letter-spacing="0.45">1</tspan>0<tspan font-size="4.9" dy="-2.5">2</tspan></text>
<text x="425.25" y="306.80" font-size="7.2"><tspan letter-spacing="0.45">1</tspan>0<tspan font-size="4.9" dy="-2.5">3</tspan></text>
<text x="443.00" y="306.80" font-size="7.2"><tspan letter-spacing="0.45">1</tspan>0<tspan font-size="4.9" dy="-2.5">4</tspan></text>
<path d="M375.50 294.50H377.7M377.70 294.5V296.70M376.40 289.08H377.7M383.04 294.5V295.80M376.40 285.91H377.7M386.17 294.5V295.80M376.40 283.66H377.7M388.39 294.5V295.80M376.40 281.92H377.7M390.11 294.5V295.80M376.40 280.49H377.7M391.51 294.5V295.80M376.40 279.29H377.7M392.70 294.5V295.80M376.40 278.24H377.7M393.73 294.5V295.80M376.40 277.32H377.7M394.64 294.5V295.80M375.50 276.50H377.7M395.45 294.5V296.70M376.40 271.08H377.7M400.79 294.5V295.80M376.40 267.91H377.7M403.92 294.5V295.80M376.40 265.66H377.7M406.14 294.5V295.80M376.40 263.92H377.7M407.86 294.5V295.80M376.40 262.49H377.7M409.26 294.5V295.80M376.40 261.29H377.7M410.45 294.5V295.80M376.40 260.24H377.7M411.48 294.5V295.80M376.40 259.32H377.7M412.39 294.5V295.80M375.50 258.50H377.7M413.20 294.5V296.70M376.40 253.08H377.7M418.54 294.5V295.80M376.40 249.91H377.7M421.67 294.5V295.80M376.40 247.66H377.7M423.89 294.5V295.80M376.40 245.92H377.7M425.61 294.5V295.80M376.40 244.49H377.7M427.01 294.5V295.80M376.40 243.29H377.7M428.20 294.5V295.80M376.40 242.24H377.7M429.23 294.5V295.80M376.40 241.32H377.7M430.14 294.5V295.80M375.50 240.50H377.7M430.95 294.5V296.70M376.40 235.08H377.7M436.29 294.5V295.80M376.40 231.91H377.7M439.42 294.5V295.80M376.40 229.66H377.7M441.64 294.5V295.80M376.40 227.92H377.7M443.36 294.5V295.80M376.40 226.49H377.7M444.76 294.5V295.80M376.40 225.29H377.7M445.95 294.5V295.80M376.40 224.24H377.7M446.98 294.5V295.80M376.40 223.32H377.7M447.89 294.5V295.80M375.50 222.50H377.7M448.70 294.5V296.70" stroke="#111" stroke-width="0.9" fill="none"/>
<rect x="377.70" y="244.00" width="24.20" height="26.90" fill="none" stroke="#48516c" stroke-width="1.3"/>
<rect x="401.90" y="244.00" width="26.40" height="26.90" fill="none" stroke="#48516c" stroke-width="1.3"/>
<rect x="377.70" y="270.90" width="24.20" height="23.60" fill="none" stroke="#48516c" stroke-width="1.3"/>
<text x="379.00" y="269.40" font-size="7.4" font-weight="bold" letter-spacing="0.5" stroke="#000" stroke-width="0.15" fill="#000" text-anchor="start">CMP</text>
<text x="407.20" y="269.40" font-size="7.4" font-weight="bold" letter-spacing="0.5" stroke="#000" stroke-width="0.15" fill="#000" text-anchor="start">GMP</text>
<text x="379.00" y="291.90" font-size="7.4" font-weight="bold" letter-spacing="0.5" stroke="#000" stroke-width="0.15" fill="#000" text-anchor="start">MEP</text>
<path d="M436.30 223.30V248.30M420.70 235.80H452.50" stroke="#555" stroke-width="1" fill="none"/>
<text x="434.70" y="233.10" font-size="7.2" text-anchor="end" fill="#222">25.1</text>
<text x="438.30" y="233.10" font-size="7.2" text-anchor="start" fill="#222">1.3</text>
<text x="434.70" y="244.40" font-size="7.2" text-anchor="end" fill="#222">53.2</text>
<rect x="377.7" y="222.0" width="75.40" height="72.50" fill="none" stroke="#111" stroke-width="1.15"/>
<text x="35.10" y="333.80" font-size="7.2" text-anchor="end"><tspan letter-spacing="0.45">1</tspan>0<tspan font-size="4.9" dy="-2.5">5</tspan></text>
<text x="35.10" y="350.60" font-size="7.2" text-anchor="end"><tspan letter-spacing="0.45">1</tspan>0<tspan font-size="4.9" dy="-2.5">4</tspan></text>
<text x="35.10" y="367.80" font-size="7.2" text-anchor="end"><tspan letter-spacing="0.45">1</tspan>0<tspan font-size="4.9" dy="-2.5">3</tspan></text>
<text x="35.10" y="386.00" font-size="7.2" text-anchor="end"><tspan letter-spacing="0.45">1</tspan>0<tspan font-size="4.9" dy="-2.5">2</tspan></text>
<text x="29.10" y="392.80" font-size="7.2" text-anchor="middle">0</text>
<text x="46.50" y="410.00" font-size="7.2" text-anchor="middle">0</text>
<text x="49.90" y="410.00" font-size="7.2"><tspan letter-spacing="0.45">1</tspan>0<tspan font-size="4.9" dy="-2.5">2</tspan></text>
<text x="67.53" y="410.00" font-size="7.2"><tspan letter-spacing="0.45">1</tspan>0<tspan font-size="4.9" dy="-2.5">3</tspan></text>
<text x="84.36" y="410.00" font-size="7.2"><tspan letter-spacing="0.45">1</tspan>0<tspan font-size="4.9" dy="-2.5">4</tspan></text>
<text x="101.19" y="410.00" font-size="7.2"><tspan letter-spacing="0.45">1</tspan>0<tspan font-size="4.9" dy="-2.5">5</tspan></text>
<path d="M37.90 381.80H40.1M57.60 398.4V400.60M37.90 363.60H40.1M74.43 398.4V400.60M37.90 346.40H40.1M91.26 398.4V400.60M37.90 329.60H40.1M108.09 398.4V400.60M37.90 390.40H40.1M47.60 398.4V400.60M38.80 376.32H40.1M62.67 398.4V399.70M38.80 373.12H40.1M65.63 398.4V399.70M38.80 370.84H40.1M67.73 398.4V399.70M38.80 369.08H40.1M69.36 398.4V399.70M38.80 367.64H40.1M70.70 398.4V399.70M38.80 366.42H40.1M71.82 398.4V399.70M38.80 365.36H40.1M72.80 398.4V399.70M38.80 364.43H40.1M73.66 398.4V399.70M38.80 358.42H40.1M79.50 398.4V399.70M38.80 355.39H40.1M82.46 398.4V399.70M38.80 353.24H40.1M84.56 398.4V399.70M38.80 351.58H40.1M86.19 398.4V399.70M38.80 350.22H40.1M87.53 398.4V399.70M38.80 349.06H40.1M88.65 398.4V399.70M38.80 348.07H40.1M89.63 398.4V399.70M38.80 347.19H40.1M90.49 398.4V399.70M38.80 341.34H40.1M96.33 398.4V399.70M38.80 338.38H40.1M99.29 398.4V399.70M38.80 336.29H40.1M101.39 398.4V399.70M38.80 334.66H40.1M103.02 398.4V399.70M38.80 333.33H40.1M104.36 398.4V399.70M38.80 332.20H40.1M105.48 398.4V399.70M38.80 331.23H40.1M106.46 398.4V399.70M38.80 330.37H40.1M107.32 398.4V399.70M38.80 388.25H40.1M50.10 398.4V399.70M38.80 386.10H40.1M52.60 398.4V399.70M38.80 383.95H40.1M55.10 398.4V399.70M38.80 392.45H40.1M45.10 398.4V399.70" stroke="#111" stroke-width="0.9" fill="none"/>
<rect x="44.50" y="343.80" width="23.00" height="27.40" fill="none" stroke="#48516c" stroke-width="1.3"/>
<text x="44.60" y="341.50" font-size="7.3" font-weight="bold" letter-spacing="0.2" stroke="#000" stroke-width="0.15" fill="#000"><tspan letter-spacing="-0.35">Lin</tspan><tspan font-size="5" dy="-2.7" letter-spacing="0">-</tspan><tspan dy="2.7">CD34</tspan><tspan font-size="5.8" dy="-2.7">+</tspan></text>
<rect x="40.1" y="322.9" width="74.50" height="75.50" fill="none" stroke="#111" stroke-width="1.15"/>
<text x="142.30" y="333.80" font-size="7.2" text-anchor="end"><tspan letter-spacing="0.45">1</tspan>0<tspan font-size="4.9" dy="-2.5">5</tspan></text>
<text x="142.30" y="350.60" font-size="7.2" text-anchor="end"><tspan letter-spacing="0.45">1</tspan>0<tspan font-size="4.9" dy="-2.5">4</tspan></text>
<text x="142.30" y="367.80" font-size="7.2" text-anchor="end"><tspan letter-spacing="0.45">1</tspan>0<tspan font-size="4.9" dy="-2.5">3</tspan></text>
<text x="142.30" y="386.00" font-size="7.2" text-anchor="end"><tspan letter-spacing="0.45">1</tspan>0<tspan font-size="4.9" dy="-2.5">2</tspan></text>
<text x="136.30" y="392.80" font-size="7.2" text-anchor="middle">0</text>
<text x="153.70" y="410.00" font-size="7.2" text-anchor="middle">0</text>
<text x="157.10" y="410.00" font-size="7.2"><tspan letter-spacing="0.45">1</tspan>0<tspan font-size="4.9" dy="-2.5">2</tspan></text>
<text x="174.73" y="410.00" font-size="7.2"><tspan letter-spacing="0.45">1</tspan>0<tspan font-size="4.9" dy="-2.5">3</tspan></text>
<text x="191.56" y="410.00" font-size="7.2"><tspan letter-spacing="0.45">1</tspan>0<tspan font-size="4.9" dy="-2.5">4</tspan></text>
<text x="208.39" y="410.00" font-size="7.2"><tspan letter-spacing="0.45">1</tspan>0<tspan font-size="4.9" dy="-2.5">5</tspan></text>
<path d="M145.10 381.80H147.3M164.80 398.4V400.60M145.10 363.60H147.3M181.63 398.4V400.60M145.10 346.40H147.3M198.46 398.4V400.60M145.10 329.60H147.3M215.29 398.4V400.60M145.10 390.40H147.3M154.80 398.4V400.60M146.00 376.32H147.3M169.87 398.4V399.70M146.00 373.12H147.3M172.83 398.4V399.70M146.00 370.84H147.3M174.93 398.4V399.70M146.00 369.08H147.3M176.56 398.4V399.70M146.00 367.64H147.3M177.90 398.4V399.70M146.00 366.42H147.3M179.02 398.4V399.70M146.00 365.36H147.3M180.00 398.4V399.70M146.00 364.43H147.3M180.86 398.4V399.70M146.00 358.42H147.3M186.70 398.4V399.70M146.00 355.39H147.3M189.66 398.4V399.70M146.00 353.24H147.3M191.76 398.4V399.70M146.00 351.58H147.3M193.39 398.4V399.70M146.00 350.22H147.3M194.73 398.4V399.70M146.00 349.06H147.3M195.85 398.4V399.70M146.00 348.07H147.3M196.83 398.4V399.70M146.00 347.19H147.3M197.69 398.4V399.70M146.00 341.34H147.3M203.53 398.4V399.70M146.00 338.38H147.3M206.49 398.4V399.70M146.00 336.29H147.3M208.59 398.4V399.70M146.00 334.66H147.3M210.22 398.4V399.70M146.00 333.33H147.3M211.56 398.4V399.70M146.00 332.20H147.3M212.68 398.4V399.70M146.00 331.23H147.3M213.66 398.4V399.70M146.00 330.37H147.3M214.52 398.4V399.70M146.00 388.25H147.3M157.30 398.4V399.70M146.00 386.10H147.3M159.80 398.4V399.70M146.00 383.95H147.3M162.30 398.4V399.70M146.00 392.45H147.3M152.30 398.4V399.70" stroke="#111" stroke-width="0.9" fill="none"/>
<rect x="171.70" y="347.90" width="33.90" height="28.80" fill="none" stroke="#48516c" stroke-width="1.3"/>
<rect x="171.70" y="378.60" width="33.90" height="17.00" fill="none" stroke="#48516c" stroke-width="1.3"/>
<text x="204.30" y="345.60" font-size="7.3" font-weight="bold" letter-spacing="0.2" stroke="#000" stroke-width="0.15" fill="#000" text-anchor="end">CD34<tspan font-size="5.8" dy="-2.7">+</tspan><tspan dy="2.7">CD38</tspan><tspan font-size="5.8" dy="-2.7">+</tspan></text>
<text x="199.00" y="393.20" font-size="7.3" font-weight="bold" letter-spacing="0.2" stroke="#000" stroke-width="0.15" fill="#000" text-anchor="start">CD34<tspan font-size="5.8" dy="-2.7">+</tspan><tspan dy="2.7">CD38</tspan><tspan font-size="5.8" dy="-2.7">-</tspan></text>
<path d="M205.10 324.40V349.20M205.10 336.00H219.70" stroke="#555" stroke-width="1" fill="none"/>
<text x="207.10" y="333.00" font-size="7.2" text-anchor="start" fill="#222">52.6</text>
<text x="207.10" y="345.00" font-size="7.2" text-anchor="start" fill="#222">19.4</text>
<rect x="147.3" y="322.9" width="74.20" height="75.50" fill="none" stroke="#111" stroke-width="1.15"/>
<text x="265.50" y="333.80" font-size="7.2" text-anchor="end"><tspan letter-spacing="0.45">1</tspan>0<tspan font-size="4.9" dy="-2.5">5</tspan></text>
<text x="265.50" y="350.60" font-size="7.2" text-anchor="end"><tspan letter-spacing="0.45">1</tspan>0<tspan font-size="4.9" dy="-2.5">4</tspan></text>
<text x="265.50" y="367.80" font-size="7.2" text-anchor="end"><tspan letter-spacing="0.45">1</tspan>0<tspan font-size="4.9" dy="-2.5">3</tspan></text>
<text x="265.50" y="386.00" font-size="7.2" text-anchor="end"><tspan letter-spacing="0.45">1</tspan>0<tspan font-size="4.9" dy="-2.5">2</tspan></text>
<text x="259.50" y="392.80" font-size="7.2" text-anchor="middle">0</text>
<text x="276.90" y="410.00" font-size="7.2" text-anchor="middle">0</text>
<text x="280.30" y="410.00" font-size="7.2"><tspan letter-spacing="0.45">1</tspan>0<tspan font-size="4.9" dy="-2.5">2</tspan></text>
<text x="297.93" y="410.00" font-size="7.2"><tspan letter-spacing="0.45">1</tspan>0<tspan font-size="4.9" dy="-2.5">3</tspan></text>
<text x="314.76" y="410.00" font-size="7.2"><tspan letter-spacing="0.45">1</tspan>0<tspan font-size="4.9" dy="-2.5">4</tspan></text>
<text x="331.59" y="410.00" font-size="7.2"><tspan letter-spacing="0.45">1</tspan>0<tspan font-size="4.9" dy="-2.5">5</tspan></text>
<path d="M268.30 381.80H270.5M288.00 398.4V400.60M268.30 363.60H270.5M304.83 398.4V400.60M268.30 346.40H270.5M321.66 398.4V400.60M268.30 329.60H270.5M338.49 398.4V400.60M268.30 390.40H270.5M278.00 398.4V400.60M269.20 376.32H270.5M293.07 398.4V399.70M269.20 373.12H270.5M296.03 398.4V399.70M269.20 370.84H270.5M298.13 398.4V399.70M269.20 369.08H270.5M299.76 398.4V399.70M269.20 367.64H270.5M301.10 398.4V399.70M269.20 366.42H270.5M302.22 398.4V399.70M269.20 365.36H270.5M303.20 398.4V399.70M269.20 364.43H270.5M304.06 398.4V399.70M269.20 358.42H270.5M309.90 398.4V399.70M269.20 355.39H270.5M312.86 398.4V399.70M269.20 353.24H270.5M314.96 398.4V399.70M269.20 351.58H270.5M316.59 398.4V399.70M269.20 350.22H270.5M317.93 398.4V399.70M269.20 349.06H270.5M319.05 398.4V399.70M269.20 348.07H270.5M320.03 398.4V399.70M269.20 347.19H270.5M320.89 398.4V399.70M269.20 341.34H270.5M326.73 398.4V399.70M269.20 338.38H270.5M329.69 398.4V399.70M269.20 336.29H270.5M331.79 398.4V399.70M269.20 334.66H270.5M333.42 398.4V399.70M269.20 333.33H270.5M334.76 398.4V399.70M269.20 332.20H270.5M335.88 398.4V399.70M269.20 331.23H270.5M336.86 398.4V399.70M269.20 330.37H270.5M337.72 398.4V399.70M269.20 388.25H270.5M280.50 398.4V399.70M269.20 386.10H270.5M283.00 398.4V399.70M269.20 383.95H270.5M285.50 398.4V399.70M269.20 392.45H270.5M275.50 398.4V399.70" stroke="#111" stroke-width="0.9" fill="none"/>
<rect x="270.50" y="337.70" width="26.80" height="31.80" fill="none" stroke="#48516c" stroke-width="1.3"/>
<rect x="270.50" y="369.50" width="26.80" height="28.90" fill="none" stroke="#48516c" stroke-width="1.3"/>
<rect x="297.30" y="369.50" width="25.00" height="28.90" fill="none" stroke="#48516c" stroke-width="1.3"/>
<text x="272.90" y="366.80" font-size="7.4" font-weight="bold" letter-spacing="0.5" stroke="#000" stroke-width="0.15" fill="#000" text-anchor="start">HSC</text>
<text x="272.90" y="395.90" font-size="7.4" font-weight="bold" letter-spacing="0.5" stroke="#000" stroke-width="0.15" fill="#000" text-anchor="start">MPP</text>
<text x="298.70" y="395.90" font-size="7.4" font-weight="bold" letter-spacing="0.5" stroke="#000" stroke-width="0.15" fill="#000" text-anchor="start">LMPP</text>
<path d="M330.10 324.20V349.20M314.50 336.00H345.50" stroke="#555" stroke-width="1" fill="none"/>
<text x="328.50" y="333.00" font-size="7.2" text-anchor="end" fill="#222">5.4</text>
<text x="328.50" y="345.00" font-size="7.2" text-anchor="end" fill="#222">13.0</text>
<text x="332.10" y="345.00" font-size="7.2" text-anchor="start" fill="#222">0.9</text>
<rect x="270.5" y="322.9" width="75.60" height="75.50" fill="none" stroke="#111" stroke-width="1.15"/>
<text x="373.40" y="333.80" font-size="7.2" text-anchor="end"><tspan letter-spacing="0.45">1</tspan>0<tspan font-size="4.9" dy="-2.5">5</tspan></text>
<text x="373.40" y="350.60" font-size="7.2" text-anchor="end"><tspan letter-spacing="0.45">1</tspan>0<tspan font-size="4.9" dy="-2.5">4</tspan></text>
<text x="373.40" y="367.80" font-size="7.2" text-anchor="end"><tspan letter-spacing="0.45">1</tspan>0<tspan font-size="4.9" dy="-2.5">3</tspan></text>
<text x="373.40" y="386.00" font-size="7.2" text-anchor="end"><tspan letter-spacing="0.45">1</tspan>0<tspan font-size="4.9" dy="-2.5">2</tspan></text>
<text x="367.40" y="392.80" font-size="7.2" text-anchor="middle">0</text>
<text x="384.80" y="410.00" font-size="7.2" text-anchor="middle">0</text>
<text x="388.20" y="410.00" font-size="7.2"><tspan letter-spacing="0.45">1</tspan>0<tspan font-size="4.9" dy="-2.5">2</tspan></text>
<text x="405.83" y="410.00" font-size="7.2"><tspan letter-spacing="0.45">1</tspan>0<tspan font-size="4.9" dy="-2.5">3</tspan></text>
<text x="422.66" y="410.00" font-size="7.2"><tspan letter-spacing="0.45">1</tspan>0<tspan font-size="4.9" dy="-2.5">4</tspan></text>
<text x="439.49" y="410.00" font-size="7.2"><tspan letter-spacing="0.45">1</tspan>0<tspan font-size="4.9" dy="-2.5">5</tspan></text>
<path d="M376.20 381.80H378.4M395.90 398.4V400.60M376.20 363.60H378.4M412.73 398.4V400.60M376.20 346.40H378.4M429.56 398.4V400.60M376.20 329.60H378.4M446.39 398.4V400.60M376.20 390.40H378.4M385.90 398.4V400.60M377.10 376.32H378.4M400.97 398.4V399.70M377.10 373.12H378.4M403.93 398.4V399.70M377.10 370.84H378.4M406.03 398.4V399.70M377.10 369.08H378.4M407.66 398.4V399.70M377.10 367.64H378.4M409.00 398.4V399.70M377.10 366.42H378.4M410.12 398.4V399.70M377.10 365.36H378.4M411.10 398.4V399.70M377.10 364.43H378.4M411.96 398.4V399.70M377.10 358.42H378.4M417.80 398.4V399.70M377.10 355.39H378.4M420.76 398.4V399.70M377.10 353.24H378.4M422.86 398.4V399.70M377.10 351.58H378.4M424.49 398.4V399.70M377.10 350.22H378.4M425.83 398.4V399.70M377.10 349.06H378.4M426.95 398.4V399.70M377.10 348.07H378.4M427.93 398.4V399.70M377.10 347.19H378.4M428.79 398.4V399.70M377.10 341.34H378.4M434.63 398.4V399.70M377.10 338.38H378.4M437.59 398.4V399.70M377.10 336.29H378.4M439.69 398.4V399.70M377.10 334.66H378.4M441.32 398.4V399.70M377.10 333.33H378.4M442.66 398.4V399.70M377.10 332.20H378.4M443.78 398.4V399.70M377.10 331.23H378.4M444.76 398.4V399.70M377.10 330.37H378.4M445.62 398.4V399.70M377.10 388.25H378.4M388.40 398.4V399.70M377.10 386.10H378.4M390.90 398.4V399.70M377.10 383.95H378.4M393.40 398.4V399.70M377.10 392.45H378.4M383.40 398.4V399.70" stroke="#111" stroke-width="0.9" fill="none"/>
<rect x="378.40" y="341.70" width="25.60" height="32.30" fill="none" stroke="#48516c" stroke-width="1.3"/>
<rect x="404.00" y="341.70" width="24.30" height="32.30" fill="none" stroke="#48516c" stroke-width="1.3"/>
<rect x="378.40" y="374.00" width="25.60" height="24.40" fill="none" stroke="#48516c" stroke-width="1.3"/>
<text x="379.70" y="372.50" font-size="7.4" font-weight="bold" letter-spacing="0.5" stroke="#000" stroke-width="0.15" fill="#000" text-anchor="start">CMP</text>
<text x="409.30" y="372.50" font-size="7.4" font-weight="bold" letter-spacing="0.5" stroke="#000" stroke-width="0.15" fill="#000" text-anchor="start">GMP</text>
<text x="379.70" y="395.80" font-size="7.4" font-weight="bold" letter-spacing="0.5" stroke="#000" stroke-width="0.15" fill="#000" text-anchor="start">MEP</text>
<path d="M437.00 324.20V349.20M421.40 336.00H452.40" stroke="#555" stroke-width="1" fill="none"/>
<text x="435.40" y="333.00" font-size="7.2" text-anchor="end" fill="#222">25.6</text>
<text x="439.00" y="333.00" font-size="7.2" text-anchor="start" fill="#222">14.3</text>
<text x="435.40" y="345.00" font-size="7.2" text-anchor="end" fill="#222">19.9</text>
<rect x="378.4" y="322.9" width="74.60" height="75.50" fill="none" stroke="#111" stroke-width="1.15"/>
<text x="35.10" y="440.70" font-size="7.2" text-anchor="end"><tspan letter-spacing="0.45">1</tspan>0<tspan font-size="4.9" dy="-2.5">5</tspan></text>
<text x="35.10" y="457.50" font-size="7.2" text-anchor="end"><tspan letter-spacing="0.45">1</tspan>0<tspan font-size="4.9" dy="-2.5">4</tspan></text>
<text x="35.10" y="474.70" font-size="7.2" text-anchor="end"><tspan letter-spacing="0.45">1</tspan>0<tspan font-size="4.9" dy="-2.5">3</tspan></text>
<text x="35.10" y="492.90" font-size="7.2" text-anchor="end"><tspan letter-spacing="0.45">1</tspan>0<tspan font-size="4.9" dy="-2.5">2</tspan></text>
<text x="29.10" y="499.70" font-size="7.2" text-anchor="middle">0</text>
<text x="46.50" y="516.90" font-size="7.2" text-anchor="middle">0</text>
<text x="49.90" y="516.90" font-size="7.2"><tspan letter-spacing="0.45">1</tspan>0<tspan font-size="4.9" dy="-2.5">2</tspan></text>
<text x="67.53" y="516.90" font-size="7.2"><tspan letter-spacing="0.45">1</tspan>0<tspan font-size="4.9" dy="-2.5">3</tspan></text>
<text x="84.36" y="516.90" font-size="7.2"><tspan letter-spacing="0.45">1</tspan>0<tspan font-size="4.9" dy="-2.5">4</tspan></text>
<text x="101.19" y="516.90" font-size="7.2"><tspan letter-spacing="0.45">1</tspan>0<tspan font-size="4.9" dy="-2.5">5</tspan></text>
<path d="M37.90 488.70H40.1M57.60 505.3V507.50M37.90 470.50H40.1M74.43 505.3V507.50M37.90 453.30H40.1M91.26 505.3V507.50M37.90 436.50H40.1M108.09 505.3V507.50M37.90 497.30H40.1M47.60 505.3V507.50M38.80 483.22H40.1M62.67 505.3V506.60M38.80 480.02H40.1M65.63 505.3V506.60M38.80 477.74H40.1M67.73 505.3V506.60M38.80 475.98H40.1M69.36 505.3V506.60M38.80 474.54H40.1M70.70 505.3V506.60M38.80 473.32H40.1M71.82 505.3V506.60M38.80 472.26H40.1M72.80 505.3V506.60M38.80 471.33H40.1M73.66 505.3V506.60M38.80 465.32H40.1M79.50 505.3V506.60M38.80 462.29H40.1M82.46 505.3V506.60M38.80 460.14H40.1M84.56 505.3V506.60M38.80 458.48H40.1M86.19 505.3V506.60M38.80 457.12H40.1M87.53 505.3V506.60M38.80 455.96H40.1M88.65 505.3V506.60M38.80 454.97H40.1M89.63 505.3V506.60M38.80 454.09H40.1M90.49 505.3V506.60M38.80 448.24H40.1M96.33 505.3V506.60M38.80 445.28H40.1M99.29 505.3V506.60M38.80 443.19H40.1M101.39 505.3V506.60M38.80 441.56H40.1M103.02 505.3V506.60M38.80 440.23H40.1M104.36 505.3V506.60M38.80 439.10H40.1M105.48 505.3V506.60M38.80 438.13H40.1M106.46 505.3V506.60M38.80 437.27H40.1M107.32 505.3V506.60M38.80 495.15H40.1M50.10 505.3V506.60M38.80 493.00H40.1M52.60 505.3V506.60M38.80 490.85H40.1M55.10 505.3V506.60M38.80 499.35H40.1M45.10 505.3V506.60" stroke="#111" stroke-width="0.9" fill="none"/>
<rect x="41.30" y="449.30" width="27.90" height="22.50" fill="none" stroke="#48516c" stroke-width="1.3"/>
<text x="41.40" y="447.00" font-size="7.3" font-weight="bold" letter-spacing="0.2" stroke="#000" stroke-width="0.15" fill="#000"><tspan letter-spacing="-0.35">Lin</tspan><tspan font-size="5" dy="-2.7" letter-spacing="0">-</tspan><tspan dy="2.7">CD34</tspan><tspan font-size="5.8" dy="-2.7">+</tspan></text>
<rect x="40.1" y="428.7" width="74.50" height="76.60" fill="none" stroke="#111" stroke-width="1.15"/>
<text x="142.30" y="440.70" font-size="7.2" text-anchor="end"><tspan letter-spacing="0.45">1</tspan>0<tspan font-size="4.9" dy="-2.5">5</tspan></text>
<text x="142.30" y="457.50" font-size="7.2" text-anchor="end"><tspan letter-spacing="0.45">1</tspan>0<tspan font-size="4.9" dy="-2.5">4</tspan></text>
<text x="142.30" y="474.70" font-size="7.2" text-anchor="end"><tspan letter-spacing="0.45">1</tspan>0<tspan font-size="4.9" dy="-2.5">3</tspan></text>
<text x="142.30" y="492.90" font-size="7.2" text-anchor="end"><tspan letter-spacing="0.45">1</tspan>0<tspan font-size="4.9" dy="-2.5">2</tspan></text>
<text x="136.30" y="499.70" font-size="7.2" text-anchor="middle">0</text>
<text x="153.70" y="516.90" font-size="7.2" text-anchor="middle">0</text>
<text x="157.10" y="516.90" font-size="7.2"><tspan letter-spacing="0.45">1</tspan>0<tspan font-size="4.9" dy="-2.5">2</tspan></text>
<text x="174.73" y="516.90" font-size="7.2"><tspan letter-spacing="0.45">1</tspan>0<tspan font-size="4.9" dy="-2.5">3</tspan></text>
<text x="191.56" y="516.90" font-size="7.2"><tspan letter-spacing="0.45">1</tspan>0<tspan font-size="4.9" dy="-2.5">4</tspan></text>
<text x="208.39" y="516.90" font-size="7.2"><tspan letter-spacing="0.45">1</tspan>0<tspan font-size="4.9" dy="-2.5">5</tspan></text>
<path d="M145.10 488.70H147.3M164.80 505.3V507.50M145.10 470.50H147.3M181.63 505.3V507.50M145.10 453.30H147.3M198.46 505.3V507.50M145.10 436.50H147.3M215.29 505.3V507.50M145.10 497.30H147.3M154.80 505.3V507.50M146.00 483.22H147.3M169.87 505.3V506.60M146.00 480.02H147.3M172.83 505.3V506.60M146.00 477.74H147.3M174.93 505.3V506.60M146.00 475.98H147.3M176.56 505.3V506.60M146.00 474.54H147.3M177.90 505.3V506.60M146.00 473.32H147.3M179.02 505.3V506.60M146.00 472.26H147.3M180.00 505.3V506.60M146.00 471.33H147.3M180.86 505.3V506.60M146.00 465.32H147.3M186.70 505.3V506.60M146.00 462.29H147.3M189.66 505.3V506.60M146.00 460.14H147.3M191.76 505.3V506.60M146.00 458.48H147.3M193.39 505.3V506.60M146.00 457.12H147.3M194.73 505.3V506.60M146.00 455.96H147.3M195.85 505.3V506.60M146.00 454.97H147.3M196.83 505.3V506.60M146.00 454.09H147.3M197.69 505.3V506.60M146.00 448.24H147.3M203.53 505.3V506.60M146.00 445.28H147.3M206.49 505.3V506.60M146.00 443.19H147.3M208.59 505.3V506.60M146.00 441.56H147.3M210.22 505.3V506.60M146.00 440.23H147.3M211.56 505.3V506.60M146.00 439.10H147.3M212.68 505.3V506.60M146.00 438.13H147.3M213.66 505.3V506.60M146.00 437.27H147.3M214.52 505.3V506.60M146.00 495.15H147.3M157.30 505.3V506.60M146.00 493.00H147.3M159.80 505.3V506.60M146.00 490.85H147.3M162.30 505.3V506.60M146.00 499.35H147.3M152.30 505.3V506.60" stroke="#111" stroke-width="0.9" fill="none"/>
<rect x="177.10" y="454.40" width="27.70" height="27.80" fill="none" stroke="#48516c" stroke-width="1.3"/>
<rect x="177.10" y="484.60" width="27.70" height="19.20" fill="none" stroke="#48516c" stroke-width="1.3"/>
<text x="204.30" y="451.90" font-size="7.3" font-weight="bold" letter-spacing="0.2" stroke="#000" stroke-width="0.15" fill="#000" text-anchor="end">CD34<tspan font-size="5.8" dy="-2.7">+</tspan><tspan dy="2.7">CD38</tspan><tspan font-size="5.8" dy="-2.7">+</tspan></text>
<text x="199.00" y="501.40" font-size="7.3" font-weight="bold" letter-spacing="0.2" stroke="#000" stroke-width="0.15" fill="#000" text-anchor="start">CD34<tspan font-size="5.8" dy="-2.7">+</tspan><tspan dy="2.7">CD38</tspan><tspan font-size="5.8" dy="-2.7">-</tspan></text>
<path d="M205.10 430.20V455.00M205.10 440.30H219.70" stroke="#555" stroke-width="1" fill="none"/>
<text x="207.10" y="438.00" font-size="7.2" text-anchor="start" fill="#222">41.8</text>
<text x="207.10" y="449.40" font-size="7.2" text-anchor="start" fill="#222">21.3</text>
<rect x="147.3" y="428.7" width="74.20" height="76.60" fill="none" stroke="#111" stroke-width="1.15"/>
<text x="265.50" y="440.70" font-size="7.2" text-anchor="end"><tspan letter-spacing="0.45">1</tspan>0<tspan font-size="4.9" dy="-2.5">5</tspan></text>
<text x="265.50" y="457.50" font-size="7.2" text-anchor="end"><tspan letter-spacing="0.45">1</tspan>0<tspan font-size="4.9" dy="-2.5">4</tspan></text>
<text x="265.50" y="474.70" font-size="7.2" text-anchor="end"><tspan letter-spacing="0.45">1</tspan>0<tspan font-size="4.9" dy="-2.5">3</tspan></text>
<text x="265.50" y="492.90" font-size="7.2" text-anchor="end"><tspan letter-spacing="0.45">1</tspan>0<tspan font-size="4.9" dy="-2.5">2</tspan></text>
<text x="259.50" y="499.70" font-size="7.2" text-anchor="middle">0</text>
<text x="276.90" y="516.90" font-size="7.2" text-anchor="middle">0</text>
<text x="280.30" y="516.90" font-size="7.2"><tspan letter-spacing="0.45">1</tspan>0<tspan font-size="4.9" dy="-2.5">2</tspan></text>
<text x="297.93" y="516.90" font-size="7.2"><tspan letter-spacing="0.45">1</tspan>0<tspan font-size="4.9" dy="-2.5">3</tspan></text>
<text x="314.76" y="516.90" font-size="7.2"><tspan letter-spacing="0.45">1</tspan>0<tspan font-size="4.9" dy="-2.5">4</tspan></text>
<text x="331.59" y="516.90" font-size="7.2"><tspan letter-spacing="0.45">1</tspan>0<tspan font-size="4.9" dy="-2.5">5</tspan></text>
<path d="M268.30 488.70H270.5M288.00 505.3V507.50M268.30 470.50H270.5M304.83 505.3V507.50M268.30 453.30H270.5M321.66 505.3V507.50M268.30 436.50H270.5M338.49 505.3V507.50M268.30 497.30H270.5M278.00 505.3V507.50M269.20 483.22H270.5M293.07 505.3V506.60M269.20 480.02H270.5M296.03 505.3V506.60M269.20 477.74H270.5M298.13 505.3V506.60M269.20 475.98H270.5M299.76 505.3V506.60M269.20 474.54H270.5M301.10 505.3V506.60M269.20 473.32H270.5M302.22 505.3V506.60M269.20 472.26H270.5M303.20 505.3V506.60M269.20 471.33H270.5M304.06 505.3V506.60M269.20 465.32H270.5M309.90 505.3V506.60M269.20 462.29H270.5M312.86 505.3V506.60M269.20 460.14H270.5M314.96 505.3V506.60M269.20 458.48H270.5M316.59 505.3V506.60M269.20 457.12H270.5M317.93 505.3V506.60M269.20 455.96H270.5M319.05 505.3V506.60M269.20 454.97H270.5M320.03 505.3V506.60M269.20 454.09H270.5M320.89 505.3V506.60M269.20 448.24H270.5M326.73 505.3V506.60M269.20 445.28H270.5M329.69 505.3V506.60M269.20 443.19H270.5M331.79 505.3V506.60M269.20 441.56H270.5M333.42 505.3V506.60M269.20 440.23H270.5M334.76 505.3V506.60M269.20 439.10H270.5M335.88 505.3V506.60M269.20 438.13H270.5M336.86 505.3V506.60M269.20 437.27H270.5M337.72 505.3V506.60M269.20 495.15H270.5M280.50 505.3V506.60M269.20 493.00H270.5M283.00 505.3V506.60M269.20 490.85H270.5M285.50 505.3V506.60M269.20 499.35H270.5M275.50 505.3V506.60" stroke="#111" stroke-width="0.9" fill="none"/>
<rect x="270.50" y="449.80" width="29.70" height="27.00" fill="none" stroke="#48516c" stroke-width="1.3"/>
<rect x="270.50" y="476.80" width="29.70" height="28.50" fill="none" stroke="#48516c" stroke-width="1.3"/>
<rect x="300.20" y="476.80" width="29.70" height="28.50" fill="none" stroke="#48516c" stroke-width="1.3"/>
<text x="272.90" y="474.10" font-size="7.4" font-weight="bold" letter-spacing="0.5" stroke="#000" stroke-width="0.15" fill="#000" text-anchor="start">HSC</text>
<text x="272.90" y="502.80" font-size="7.4" font-weight="bold" letter-spacing="0.5" stroke="#000" stroke-width="0.15" fill="#000" text-anchor="start">MPP</text>
<text x="301.60" y="502.80" font-size="7.4" font-weight="bold" letter-spacing="0.5" stroke="#000" stroke-width="0.15" fill="#000" text-anchor="start">LMPP</text>
<path d="M330.10 430.00V455.00M314.50 440.30H345.50" stroke="#555" stroke-width="1" fill="none"/>
<text x="328.50" y="438.00" font-size="7.2" text-anchor="end" fill="#222">1.7</text>
<text x="328.50" y="449.40" font-size="7.2" text-anchor="end" fill="#222">1.5</text>
<text x="332.10" y="449.40" font-size="7.2" text-anchor="start" fill="#222">18.1</text>
<rect x="270.5" y="428.7" width="75.60" height="76.60" fill="none" stroke="#111" stroke-width="1.15"/>
<text x="373.40" y="440.70" font-size="7.2" text-anchor="end"><tspan letter-spacing="0.45">1</tspan>0<tspan font-size="4.9" dy="-2.5">5</tspan></text>
<text x="373.40" y="457.50" font-size="7.2" text-anchor="end"><tspan letter-spacing="0.45">1</tspan>0<tspan font-size="4.9" dy="-2.5">4</tspan></text>
<text x="373.40" y="474.70" font-size="7.2" text-anchor="end"><tspan letter-spacing="0.45">1</tspan>0<tspan font-size="4.9" dy="-2.5">3</tspan></text>
<text x="373.40" y="492.90" font-size="7.2" text-anchor="end"><tspan letter-spacing="0.45">1</tspan>0<tspan font-size="4.9" dy="-2.5">2</tspan></text>
<text x="367.40" y="499.70" font-size="7.2" text-anchor="middle">0</text>
<text x="384.80" y="516.90" font-size="7.2" text-anchor="middle">0</text>
<text x="388.20" y="516.90" font-size="7.2"><tspan letter-spacing="0.45">1</tspan>0<tspan font-size="4.9" dy="-2.5">2</tspan></text>
<text x="405.83" y="516.90" font-size="7.2"><tspan letter-spacing="0.45">1</tspan>0<tspan font-size="4.9" dy="-2.5">3</tspan></text>
<text x="422.66" y="516.90" font-size="7.2"><tspan letter-spacing="0.45">1</tspan>0<tspan font-size="4.9" dy="-2.5">4</tspan></text>
<text x="439.49" y="516.90" font-size="7.2"><tspan letter-spacing="0.45">1</tspan>0<tspan font-size="4.9" dy="-2.5">5</tspan></text>
<path d="M376.20 488.70H378.4M395.90 505.3V507.50M376.20 470.50H378.4M412.73 505.3V507.50M376.20 453.30H378.4M429.56 505.3V507.50M376.20 436.50H378.4M446.39 505.3V507.50M376.20 497.30H378.4M385.90 505.3V507.50M377.10 483.22H378.4M400.97 505.3V506.60M377.10 480.02H378.4M403.93 505.3V506.60M377.10 477.74H378.4M406.03 505.3V506.60M377.10 475.98H378.4M407.66 505.3V506.60M377.10 474.54H378.4M409.00 505.3V506.60M377.10 473.32H378.4M410.12 505.3V506.60M377.10 472.26H378.4M411.10 505.3V506.60M377.10 471.33H378.4M411.96 505.3V506.60M377.10 465.32H378.4M417.80 505.3V506.60M377.10 462.29H378.4M420.76 505.3V506.60M377.10 460.14H378.4M422.86 505.3V506.60M377.10 458.48H378.4M424.49 505.3V506.60M377.10 457.12H378.4M425.83 505.3V506.60M377.10 455.96H378.4M426.95 505.3V506.60M377.10 454.97H378.4M427.93 505.3V506.60M377.10 454.09H378.4M428.79 505.3V506.60M377.10 448.24H378.4M434.63 505.3V506.60M377.10 445.28H378.4M437.59 505.3V506.60M377.10 443.19H378.4M439.69 505.3V506.60M377.10 441.56H378.4M441.32 505.3V506.60M377.10 440.23H378.4M442.66 505.3V506.60M377.10 439.10H378.4M443.78 505.3V506.60M377.10 438.13H378.4M444.76 505.3V506.60M377.10 437.27H378.4M445.62 505.3V506.60M377.10 495.15H378.4M388.40 505.3V506.60M377.10 493.00H378.4M390.90 505.3V506.60M377.10 490.85H378.4M393.40 505.3V506.60M377.10 499.35H378.4M383.40 505.3V506.60" stroke="#111" stroke-width="0.9" fill="none"/>
<rect x="378.40" y="452.50" width="25.60" height="29.70" fill="none" stroke="#48516c" stroke-width="1.3"/>
<rect x="404.00" y="452.50" width="33.20" height="29.70" fill="none" stroke="#48516c" stroke-width="1.3"/>
<rect x="378.40" y="482.20" width="25.60" height="23.10" fill="none" stroke="#48516c" stroke-width="1.3"/>
<text x="379.70" y="480.70" font-size="7.4" font-weight="bold" letter-spacing="0.5" stroke="#000" stroke-width="0.15" fill="#000" text-anchor="start">CMP</text>
<text x="409.30" y="480.70" font-size="7.4" font-weight="bold" letter-spacing="0.5" stroke="#000" stroke-width="0.15" fill="#000" text-anchor="start">GMP</text>
<text x="379.70" y="502.70" font-size="7.4" font-weight="bold" letter-spacing="0.5" stroke="#000" stroke-width="0.15" fill="#000" text-anchor="start">MEP</text>
<path d="M437.00 430.00V455.00M421.40 440.30H452.40" stroke="#555" stroke-width="1" fill="none"/>
<text x="435.40" y="438.00" font-size="7.2" text-anchor="end" fill="#222">3.2</text>
<text x="439.00" y="438.00" font-size="7.2" text-anchor="start" fill="#222">34.4</text>
<text x="435.40" y="449.40" font-size="7.2" text-anchor="end" fill="#222">1.8</text>
<rect x="378.4" y="428.7" width="74.60" height="76.60" fill="none" stroke="#111" stroke-width="1.15"/>
<text x="461.2" y="49.75" font-size="9.2" letter-spacing="0">Normal bone</text>
<text x="461.2" y="61.25" font-size="9.2" letter-spacing="0">marrow</text>
<text x="461.2" y="72.75" font-size="9.2" letter-spacing="0.25">n=3</text>
<text x="461.2" y="152.50" font-size="9.2" letter-spacing="0.4">CP-CML</text>
<text x="461.2" y="164.00" font-size="9.2" letter-spacing="0.25">n=14</text>
<text x="461.2" y="255.60" font-size="9.2" letter-spacing="0.4">AP-CML</text>
<text x="461.2" y="267.10" font-size="9.2" letter-spacing="0.25">n=4</text>
<text x="461.2" y="346.20" font-size="9.2" letter-spacing="0.4">BP-CML</text>
<text x="461.2" y="357.70" font-size="9.2" letter-spacing="0.4">MPP/CMP</text>
<text x="461.2" y="369.20" font-size="9.2" letter-spacing="0">dominant</text>
<text x="461.2" y="380.70" font-size="9.2" letter-spacing="0.25">n=6</text>
<text x="461.2" y="452.20" font-size="9.2" letter-spacing="0.4">BP-CML</text>
<text x="461.2" y="463.70" font-size="9.2" letter-spacing="0.4">LMPP/GMP</text>
<text x="461.2" y="475.20" font-size="9.2" letter-spacing="0">dominant</text>
<text x="461.2" y="486.70" font-size="9.2" letter-spacing="0.25">n=5</text>
<path d="M25.6 503.5V531.2H58.8" stroke="#3a3a3a" stroke-width="1.2" fill="none"/>
<text x="0" y="0" font-size="8.4" style="stroke:#222;stroke-width:0.45px;fill:#222" textLength="15.6" lengthAdjust="spacingAndGlyphs" transform="translate(23.6,525) rotate(-90)">CD34</text>
<text x="31.3" y="540" font-size="8.4" style="stroke:#222;stroke-width:0.45px;fill:#222" textLength="21.6" lengthAdjust="spacingAndGlyphs">Lineage</text>
<path d="M132.9 503.5V531.2H166.3" stroke="#3a3a3a" stroke-width="1.2" fill="none"/>
<text x="0" y="0" font-size="8.4" style="stroke:#222;stroke-width:0.45px;fill:#222" textLength="16.2" lengthAdjust="spacingAndGlyphs" transform="translate(129.9,525) rotate(-90)">CD38</text>
<text x="141.9" y="540" font-size="8.4" style="stroke:#222;stroke-width:0.45px;fill:#222" textLength="15.4" lengthAdjust="spacingAndGlyphs">CD34</text>
<path d="M256.3 503.5V531.2H290.0" stroke="#3a3a3a" stroke-width="1.2" fill="none"/>
<text x="0" y="0" font-size="8.4" style="stroke:#222;stroke-width:0.45px;fill:#222" textLength="15.6" lengthAdjust="spacingAndGlyphs" transform="translate(253.0,525) rotate(-90)">CD90</text>
<text x="260.6" y="540" font-size="8.4" style="stroke:#222;stroke-width:0.45px;fill:#222" textLength="24.4" lengthAdjust="spacingAndGlyphs">CD45RA</text>
<path d="M364.6 503.5V531.2H397.5" stroke="#3a3a3a" stroke-width="1.2" fill="none"/>
<text x="0" y="0" font-size="8.4" style="stroke:#222;stroke-width:0.45px;fill:#222" textLength="19.3" lengthAdjust="spacingAndGlyphs" transform="translate(361.8,525) rotate(-90)">CD123</text>
<text x="369.0" y="540" font-size="8.4" style="stroke:#222;stroke-width:0.45px;fill:#222" textLength="24.1" lengthAdjust="spacingAndGlyphs">CD45RA</text>
<path d="M0 0H520V550H0Z" fill="none" stroke="#000" stroke-width="2.6"/>
<rect x="518.4" y="0" width="1.6" height="550" fill="#000"/><rect x="0" y="548.5" width="520" height="1.5" fill="#000"/>
</svg></body></html>
